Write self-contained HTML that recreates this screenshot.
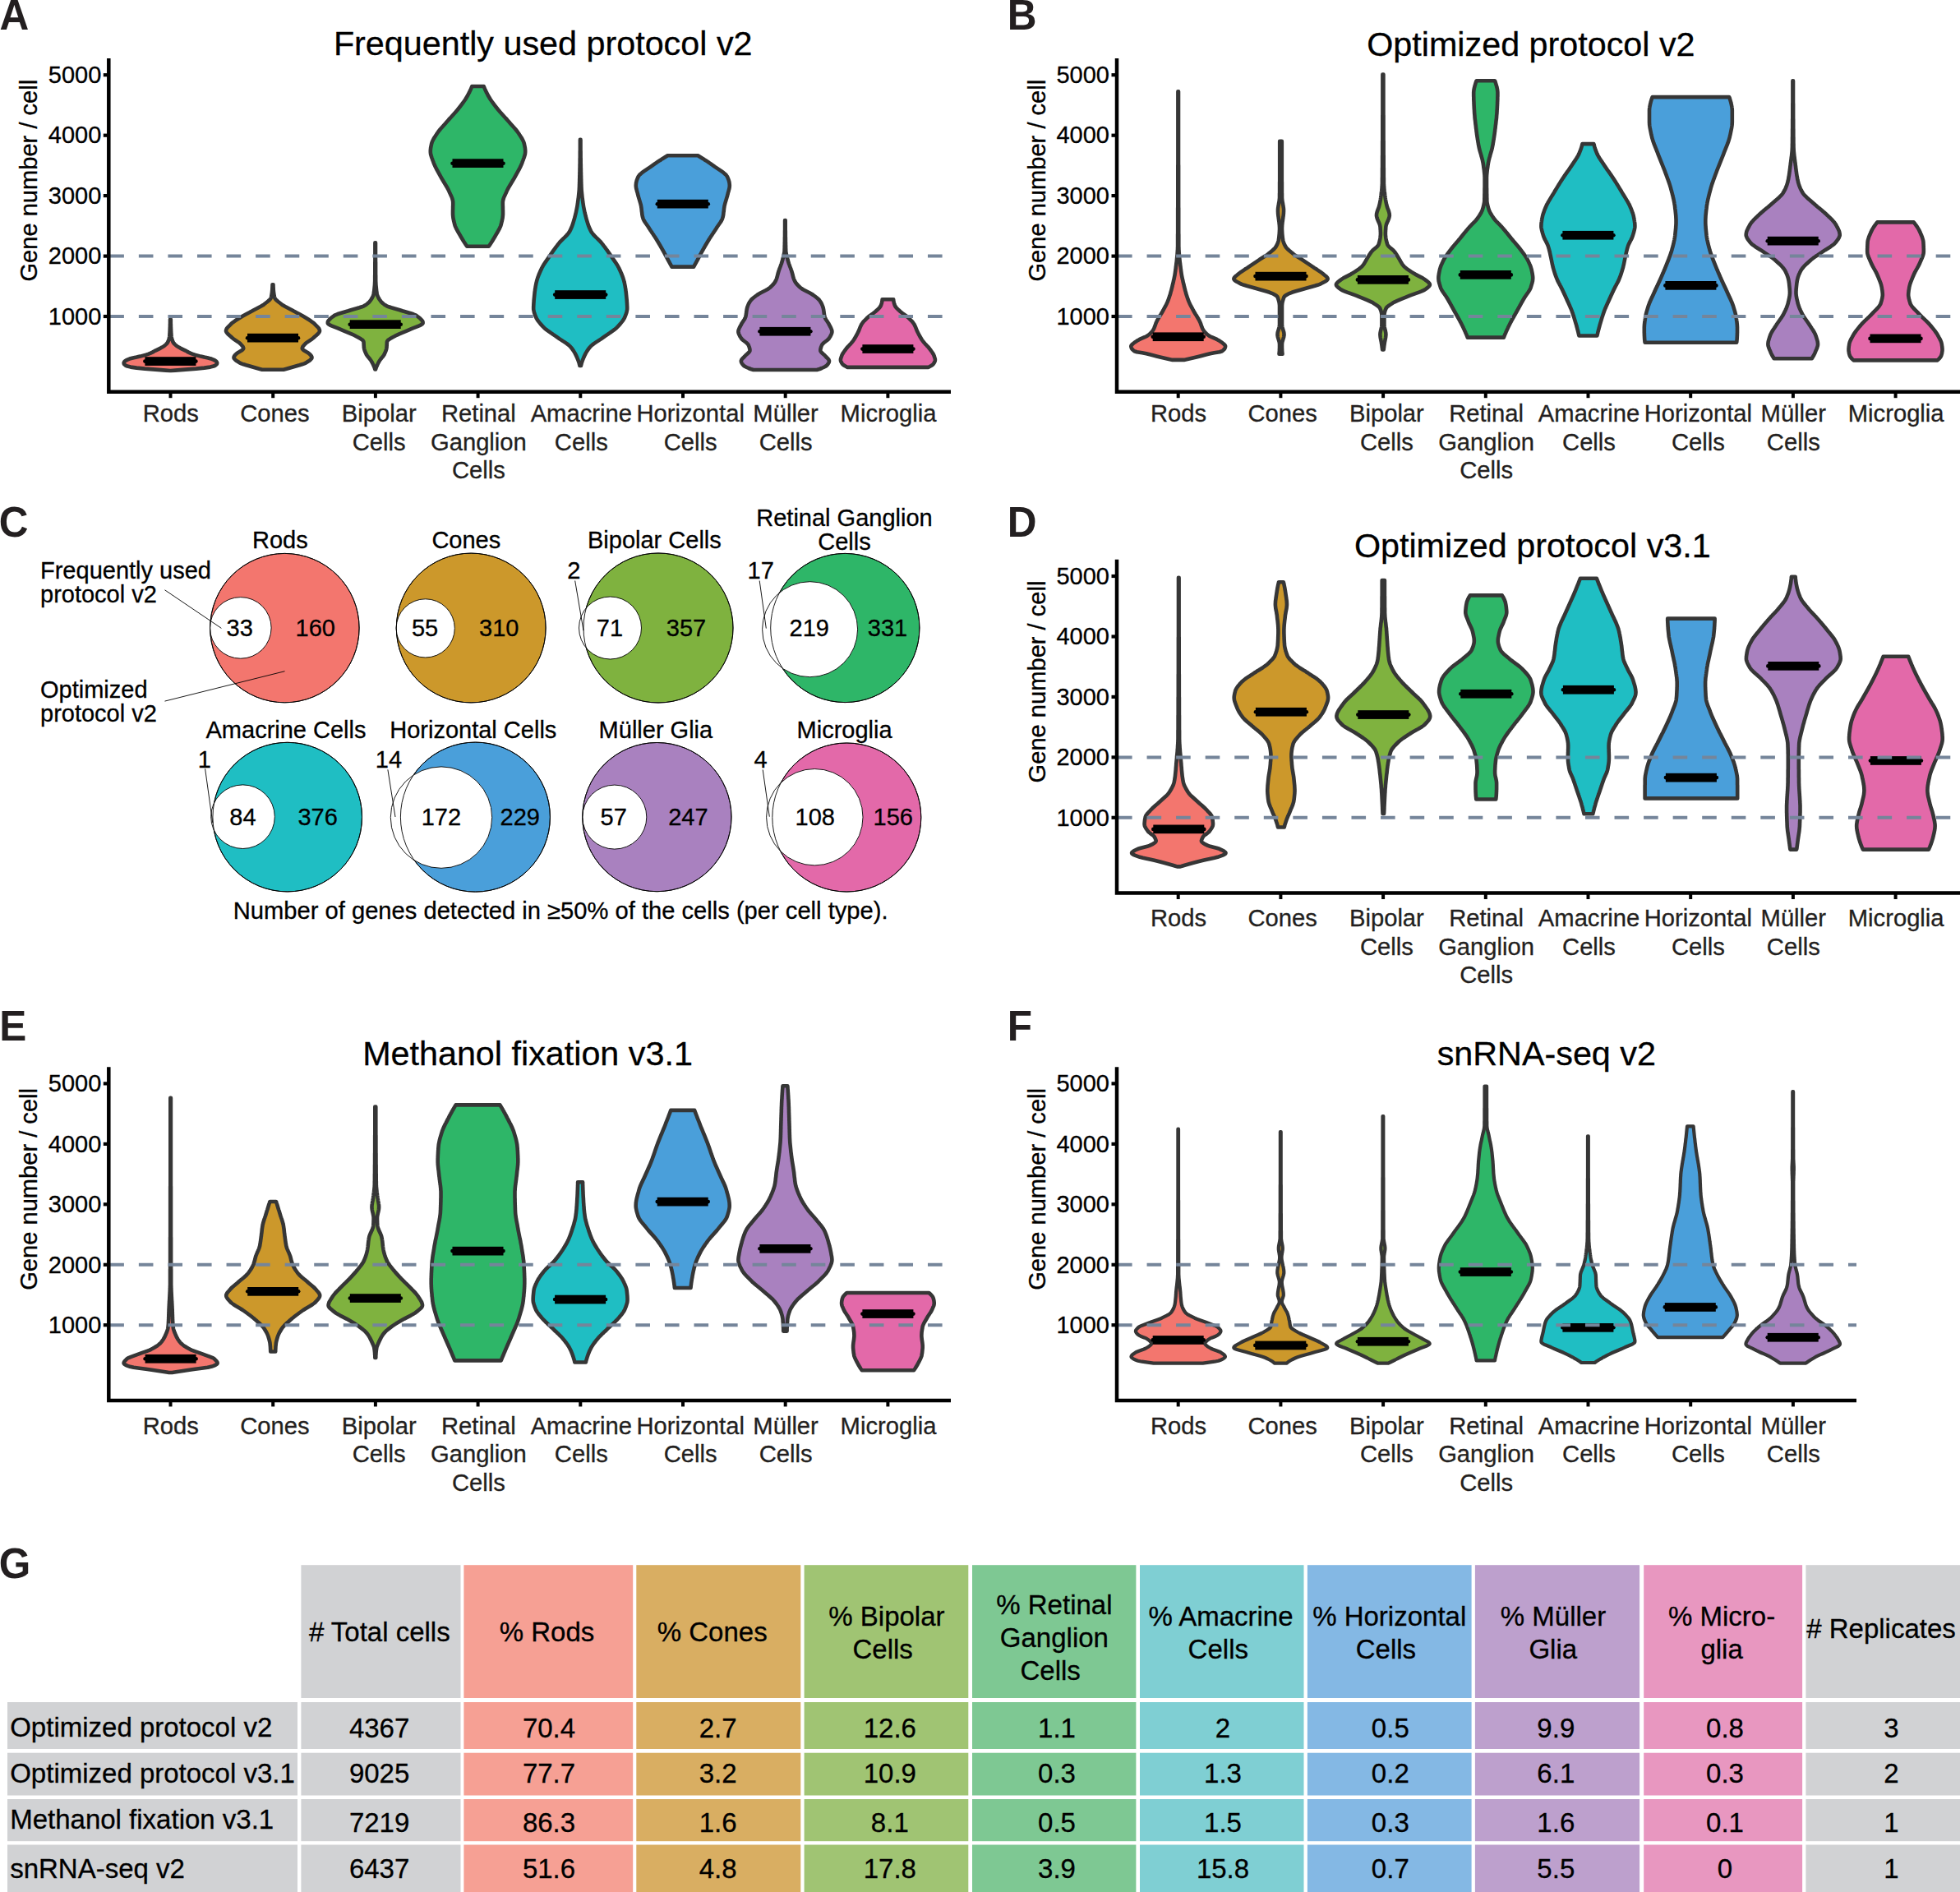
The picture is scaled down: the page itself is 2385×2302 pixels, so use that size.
<!DOCTYPE html>
<html><head><meta charset="utf-8"><title>Figure</title>
<style>html,body{margin:0;padding:0;background:#fff}svg{display:block}text{font-family:"Liberation Sans", Arial, Helvetica, sans-serif;white-space:pre}</style>
</head><body>
<svg width="2385" height="2302" viewBox="0 0 2385 2302" font-family='"Liberation Sans", Arial, Helvetica, sans-serif'>
<path d="M207.8,388.6 L207.8,389.6 L207.8,390.6 L207.8,391.6 L207.8,392.6 L207.8,393.6 L207.9,394.6 L207.9,395.6 L207.9,396.6 L207.9,397.6 L208.0,398.6 L208.0,399.6 L208.1,400.6 L208.1,401.6 L208.1,402.6 L208.2,403.6 L208.2,404.6 L208.3,405.6 L208.4,406.6 L208.4,407.6 L208.5,408.6 L208.6,409.6 L208.8,410.6 L209.0,411.6 L209.2,412.6 L209.5,413.6 L209.9,414.6 L210.3,415.6 L210.8,416.6 L211.5,417.6 L212.4,418.6 L213.5,419.6 L214.6,420.6 L216.1,421.6 L217.7,422.6 L219.5,423.6 L221.5,424.6 L223.6,425.6 L225.7,426.6 L227.5,427.6 L229.4,428.6 L231.5,429.6 L234.0,430.6 L237.1,431.6 L240.6,432.6 L244.3,433.6 L248.5,434.6 L253.2,435.6 L257.2,436.6 L259.7,437.6 L261.7,438.6 L263.1,439.6 L263.8,440.6 L264.2,441.6 L264.0,442.6 L263.3,443.6 L262.1,444.6 L259.9,445.6 L255.8,446.6 L248.5,447.6 L238.6,448.6 L225.7,449.6 L213.1,450.6 L207.9,451.0 L206.9,451.0 L201.7,450.6 L189.1,449.6 L176.2,448.6 L166.3,447.6 L159.0,446.6 L154.9,445.6 L152.7,444.6 L151.5,443.6 L150.8,442.6 L150.6,441.6 L151.0,440.6 L151.7,439.6 L153.1,438.6 L155.1,437.6 L157.6,436.6 L161.6,435.6 L166.3,434.6 L170.5,433.6 L174.2,432.6 L177.7,431.6 L180.8,430.6 L183.3,429.6 L185.4,428.6 L187.3,427.6 L189.1,426.6 L191.2,425.6 L193.3,424.6 L195.3,423.6 L197.1,422.6 L198.7,421.6 L200.2,420.6 L201.3,419.6 L202.4,418.6 L203.3,417.6 L204.0,416.6 L204.5,415.6 L204.9,414.6 L205.3,413.6 L205.6,412.6 L205.8,411.6 L206.0,410.6 L206.2,409.6 L206.3,408.6 L206.4,407.6 L206.4,406.6 L206.5,405.6 L206.6,404.6 L206.6,403.6 L206.7,402.6 L206.7,401.6 L206.7,400.6 L206.8,399.6 L206.8,398.6 L206.9,397.6 L206.9,396.6 L206.9,395.6 L206.9,394.6 L207.0,393.6 L207.0,392.6 L207.0,391.6 L207.0,390.6 L207.0,389.6 L207.0,388.6Z" fill="#F3766E" stroke="#363636" stroke-width="4.6" stroke-linejoin="round"/>
<rect x="176.4" y="434.2" width="62" height="10.7" fill="#000"/>
<circle cx="176.4" cy="439.6" r="2.3" fill="#000"/><circle cx="238.4" cy="439.6" r="2.3" fill="#000"/>
<path d="M332.5,346.3 L332.5,347.3 L332.5,348.3 L332.6,349.3 L332.6,350.3 L332.7,351.3 L332.7,352.3 L332.8,353.3 L332.9,354.3 L333.0,355.3 L333.1,356.3 L333.3,357.3 L333.4,358.3 L333.6,359.3 L333.8,360.3 L333.9,361.3 L334.2,362.3 L334.7,363.3 L335.5,364.3 L336.5,365.3 L337.6,366.3 L338.8,367.3 L340.1,368.3 L341.4,369.3 L342.7,370.3 L344.1,371.3 L345.8,372.3 L347.6,373.3 L349.5,374.3 L351.4,375.3 L353.3,376.3 L355.2,377.3 L357.0,378.3 L358.9,379.3 L360.7,380.3 L362.6,381.3 L364.5,382.3 L366.3,383.3 L368.1,384.3 L369.8,385.3 L371.5,386.3 L373.1,387.3 L374.7,388.3 L376.3,389.3 L377.9,390.3 L379.3,391.3 L380.7,392.3 L381.9,393.3 L383.0,394.3 L384.0,395.3 L385.0,396.3 L386.0,397.3 L386.9,398.3 L387.8,399.3 L388.4,400.3 L388.8,401.3 L389.0,402.3 L388.9,403.3 L388.4,404.3 L387.7,405.3 L386.8,406.3 L385.7,407.3 L384.6,408.3 L383.4,409.3 L382.3,410.3 L381.2,411.3 L379.9,412.3 L378.4,413.3 L376.9,414.3 L375.4,415.3 L373.9,416.3 L372.6,417.3 L371.5,418.3 L370.6,419.3 L369.7,420.3 L368.8,421.3 L368.2,422.3 L367.8,423.3 L367.8,424.3 L368.5,425.3 L369.7,426.3 L371.4,427.3 L373.1,428.3 L374.9,429.3 L376.3,430.3 L377.3,431.3 L378.1,432.3 L378.9,433.3 L379.4,434.3 L379.5,435.3 L379.1,436.3 L378.2,437.3 L377.1,438.3 L375.7,439.3 L374.1,440.3 L372.5,441.3 L370.3,442.3 L367.6,443.3 L364.4,444.3 L360.9,445.3 L357.4,446.3 L354.0,447.3 L350.5,448.3 L346.9,449.3 L345.0,449.8 L319.0,449.8 L317.1,449.3 L313.5,448.3 L310.0,447.3 L306.6,446.3 L303.1,445.3 L299.6,444.3 L296.4,443.3 L293.7,442.3 L291.5,441.3 L289.9,440.3 L288.3,439.3 L286.9,438.3 L285.8,437.3 L284.9,436.3 L284.5,435.3 L284.6,434.3 L285.1,433.3 L285.9,432.3 L286.7,431.3 L287.7,430.3 L289.1,429.3 L290.9,428.3 L292.6,427.3 L294.3,426.3 L295.5,425.3 L296.2,424.3 L296.2,423.3 L295.8,422.3 L295.2,421.3 L294.3,420.3 L293.4,419.3 L292.5,418.3 L291.4,417.3 L290.1,416.3 L288.6,415.3 L287.1,414.3 L285.6,413.3 L284.1,412.3 L282.8,411.3 L281.7,410.3 L280.6,409.3 L279.4,408.3 L278.3,407.3 L277.2,406.3 L276.3,405.3 L275.6,404.3 L275.1,403.3 L275.0,402.3 L275.2,401.3 L275.6,400.3 L276.2,399.3 L277.1,398.3 L278.0,397.3 L279.0,396.3 L280.0,395.3 L281.0,394.3 L282.1,393.3 L283.3,392.3 L284.7,391.3 L286.1,390.3 L287.7,389.3 L289.3,388.3 L290.9,387.3 L292.5,386.3 L294.2,385.3 L295.9,384.3 L297.7,383.3 L299.5,382.3 L301.4,381.3 L303.3,380.3 L305.1,379.3 L307.0,378.3 L308.8,377.3 L310.7,376.3 L312.6,375.3 L314.5,374.3 L316.4,373.3 L318.2,372.3 L319.9,371.3 L321.3,370.3 L322.6,369.3 L323.9,368.3 L325.2,367.3 L326.4,366.3 L327.5,365.3 L328.5,364.3 L329.3,363.3 L329.8,362.3 L330.1,361.3 L330.2,360.3 L330.4,359.3 L330.6,358.3 L330.7,357.3 L330.9,356.3 L331.0,355.3 L331.1,354.3 L331.2,353.3 L331.3,352.3 L331.3,351.3 L331.4,350.3 L331.4,349.3 L331.5,348.3 L331.5,347.3 L331.5,346.3Z" fill="#CC982B" stroke="#363636" stroke-width="4.6" stroke-linejoin="round"/>
<rect x="301.0" y="405.8" width="62" height="10.7" fill="#000"/>
<circle cx="301.0" cy="411.2" r="2.3" fill="#000"/><circle cx="363.0" cy="411.2" r="2.3" fill="#000"/>
<path d="M457.0,295.3 L457.0,296.3 L457.0,297.3 L457.0,298.3 L457.0,299.3 L457.0,300.3 L457.0,301.3 L457.0,302.3 L457.0,303.3 L457.0,304.3 L457.0,305.3 L457.0,306.3 L457.0,307.3 L457.0,308.3 L457.0,309.3 L457.0,310.3 L457.0,311.3 L457.0,312.3 L457.0,313.3 L457.0,314.3 L457.0,315.3 L457.0,316.3 L457.0,317.3 L457.0,318.3 L457.1,319.3 L457.1,320.3 L457.1,321.3 L457.1,322.3 L457.1,323.3 L457.1,324.3 L457.1,325.3 L457.1,326.3 L457.1,327.3 L457.1,328.3 L457.1,329.3 L457.1,330.3 L457.1,331.3 L457.1,332.3 L457.1,333.3 L457.1,334.3 L457.2,335.3 L457.2,336.3 L457.2,337.3 L457.2,338.3 L457.2,339.3 L457.2,340.3 L457.2,341.3 L457.2,342.3 L457.3,343.3 L457.3,344.3 L457.4,345.3 L457.4,346.3 L457.5,347.3 L457.6,348.3 L457.7,349.3 L457.8,350.3 L457.9,351.3 L458.0,352.3 L458.1,353.3 L458.2,354.3 L458.4,355.3 L458.5,356.3 L458.7,357.3 L458.9,358.3 L459.2,359.3 L459.5,360.3 L460.0,361.3 L460.5,362.3 L461.1,363.3 L461.7,364.3 L462.4,365.3 L463.1,366.3 L464.0,367.3 L465.0,368.3 L466.1,369.3 L467.4,370.3 L468.9,371.3 L470.6,372.3 L473.1,373.3 L476.1,374.3 L479.5,375.3 L483.0,376.3 L486.5,377.3 L489.6,378.3 L493.0,379.3 L496.5,380.3 L499.9,381.3 L503.0,382.3 L505.5,383.3 L507.1,384.3 L508.5,385.3 L509.8,386.3 L511.1,387.3 L512.1,388.3 L513.1,389.3 L513.8,390.3 L514.4,391.3 L514.6,392.3 L514.6,393.3 L513.8,394.3 L512.2,395.3 L510.0,396.3 L507.5,397.3 L504.9,398.3 L502.3,399.3 L499.9,400.3 L497.7,401.3 L495.4,402.3 L493.0,403.3 L490.6,404.3 L488.2,405.3 L485.8,406.3 L483.7,407.3 L481.7,408.3 L479.9,409.3 L478.0,410.3 L476.2,411.3 L474.4,412.3 L472.9,413.3 L471.8,414.3 L471.1,415.3 L470.9,416.3 L470.8,417.3 L470.8,418.3 L470.7,419.3 L470.7,420.3 L470.6,421.3 L470.6,422.3 L470.4,423.3 L470.3,424.3 L470.0,425.3 L469.7,426.3 L469.3,427.3 L468.9,428.3 L468.5,429.3 L468.0,430.3 L467.6,431.3 L467.0,432.3 L466.3,433.3 L465.5,434.3 L464.6,435.3 L463.8,436.3 L463.0,437.3 L462.3,438.3 L461.6,439.3 L461.1,440.3 L460.5,441.3 L460.0,442.3 L459.5,443.3 L459.0,444.3 L458.6,445.3 L458.1,446.3 L457.7,447.3 L457.4,448.3 L457.0,449.3 L457.0,449.4 L456.4,449.4 L456.4,449.3 L456.0,448.3 L455.7,447.3 L455.3,446.3 L454.8,445.3 L454.4,444.3 L453.9,443.3 L453.4,442.3 L452.9,441.3 L452.3,440.3 L451.8,439.3 L451.1,438.3 L450.4,437.3 L449.6,436.3 L448.8,435.3 L447.9,434.3 L447.1,433.3 L446.4,432.3 L445.8,431.3 L445.4,430.3 L444.9,429.3 L444.5,428.3 L444.1,427.3 L443.7,426.3 L443.4,425.3 L443.1,424.3 L443.0,423.3 L442.8,422.3 L442.8,421.3 L442.7,420.3 L442.7,419.3 L442.6,418.3 L442.6,417.3 L442.5,416.3 L442.3,415.3 L441.6,414.3 L440.5,413.3 L439.0,412.3 L437.2,411.3 L435.4,410.3 L433.5,409.3 L431.7,408.3 L429.7,407.3 L427.6,406.3 L425.2,405.3 L422.8,404.3 L420.4,403.3 L418.0,402.3 L415.7,401.3 L413.5,400.3 L411.1,399.3 L408.5,398.3 L405.9,397.3 L403.4,396.3 L401.2,395.3 L399.6,394.3 L398.8,393.3 L398.8,392.3 L399.0,391.3 L399.6,390.3 L400.3,389.3 L401.3,388.3 L402.3,387.3 L403.6,386.3 L404.9,385.3 L406.3,384.3 L407.9,383.3 L410.4,382.3 L413.5,381.3 L416.9,380.3 L420.4,379.3 L423.8,378.3 L426.9,377.3 L430.4,376.3 L433.9,375.3 L437.3,374.3 L440.3,373.3 L442.8,372.3 L444.5,371.3 L446.0,370.3 L447.3,369.3 L448.4,368.3 L449.4,367.3 L450.3,366.3 L451.0,365.3 L451.7,364.3 L452.3,363.3 L452.9,362.3 L453.4,361.3 L453.9,360.3 L454.2,359.3 L454.5,358.3 L454.7,357.3 L454.9,356.3 L455.0,355.3 L455.2,354.3 L455.3,353.3 L455.4,352.3 L455.5,351.3 L455.6,350.3 L455.7,349.3 L455.8,348.3 L455.9,347.3 L456.0,346.3 L456.0,345.3 L456.1,344.3 L456.1,343.3 L456.2,342.3 L456.2,341.3 L456.2,340.3 L456.2,339.3 L456.2,338.3 L456.2,337.3 L456.2,336.3 L456.2,335.3 L456.3,334.3 L456.3,333.3 L456.3,332.3 L456.3,331.3 L456.3,330.3 L456.3,329.3 L456.3,328.3 L456.3,327.3 L456.3,326.3 L456.3,325.3 L456.3,324.3 L456.3,323.3 L456.3,322.3 L456.3,321.3 L456.3,320.3 L456.3,319.3 L456.4,318.3 L456.4,317.3 L456.4,316.3 L456.4,315.3 L456.4,314.3 L456.4,313.3 L456.4,312.3 L456.4,311.3 L456.4,310.3 L456.4,309.3 L456.4,308.3 L456.4,307.3 L456.4,306.3 L456.4,305.3 L456.4,304.3 L456.4,303.3 L456.4,302.3 L456.4,301.3 L456.4,300.3 L456.4,299.3 L456.4,298.3 L456.4,297.3 L456.4,296.3 L456.4,295.3Z" fill="#7FB23F" stroke="#363636" stroke-width="4.6" stroke-linejoin="round"/>
<rect x="425.7" y="389.3" width="62" height="10.7" fill="#000"/>
<circle cx="425.7" cy="394.7" r="2.3" fill="#000"/><circle cx="487.7" cy="394.7" r="2.3" fill="#000"/>
<path d="M588.7,105.0 L589.1,106.0 L589.5,107.0 L589.9,108.0 L590.3,109.0 L590.8,110.0 L591.3,111.0 L591.7,112.0 L592.3,113.0 L592.8,114.0 L593.3,115.0 L593.8,116.0 L594.4,117.0 L595.0,118.0 L595.6,119.0 L596.2,120.0 L596.8,121.0 L597.5,122.0 L598.2,123.0 L598.9,124.0 L599.6,125.0 L600.4,126.0 L601.1,127.0 L601.9,128.0 L602.6,129.0 L603.4,130.0 L604.2,131.0 L605.0,132.0 L605.8,133.0 L606.6,134.0 L607.5,135.0 L608.3,136.0 L609.2,137.0 L610.1,138.0 L611.0,139.0 L611.9,140.0 L612.8,141.0 L613.7,142.0 L614.6,143.0 L615.5,144.0 L616.5,145.0 L617.3,146.0 L618.2,147.0 L619.1,148.0 L620.0,149.0 L620.8,150.0 L621.7,151.0 L622.6,152.0 L623.5,153.0 L624.4,154.0 L625.3,155.0 L626.2,156.0 L627.1,157.0 L627.9,158.0 L628.7,159.0 L629.5,160.0 L630.2,161.0 L630.9,162.0 L631.6,163.0 L632.2,164.0 L632.9,165.0 L633.5,166.0 L634.2,167.0 L634.8,168.0 L635.4,169.0 L635.9,170.0 L636.4,171.0 L636.9,172.0 L637.3,173.0 L637.6,174.0 L637.9,175.0 L638.1,176.0 L638.3,177.0 L638.5,178.0 L638.7,179.0 L638.9,180.0 L639.0,181.0 L639.1,182.0 L639.2,183.0 L639.2,184.0 L639.2,185.0 L639.1,186.0 L639.0,187.0 L638.8,188.0 L638.5,189.0 L638.2,190.0 L637.9,191.0 L637.6,192.0 L637.2,193.0 L636.8,194.0 L636.5,195.0 L636.1,196.0 L635.7,197.0 L635.4,198.0 L635.0,199.0 L634.6,200.0 L634.1,201.0 L633.7,202.0 L633.2,203.0 L632.7,204.0 L632.2,205.0 L631.7,206.0 L631.1,207.0 L630.6,208.0 L630.0,209.0 L629.5,210.0 L628.9,211.0 L628.4,212.0 L627.8,213.0 L627.3,214.0 L626.7,215.0 L626.2,216.0 L625.6,217.0 L625.0,218.0 L624.4,219.0 L623.8,220.0 L623.2,221.0 L622.6,222.0 L622.0,223.0 L621.4,224.0 L620.8,225.0 L620.2,226.0 L619.6,227.0 L619.0,228.0 L618.5,229.0 L617.9,230.0 L617.4,231.0 L616.9,232.0 L616.5,233.0 L616.1,234.0 L615.6,235.0 L615.1,236.0 L614.7,237.0 L614.2,238.0 L613.7,239.0 L613.3,240.0 L612.9,241.0 L612.6,242.0 L612.3,243.0 L612.1,244.0 L611.9,245.0 L611.8,246.0 L611.8,247.0 L611.8,248.0 L611.8,249.0 L611.8,250.0 L611.9,251.0 L611.9,252.0 L611.9,253.0 L611.9,254.0 L611.9,255.0 L612.0,256.0 L612.0,257.0 L612.0,258.0 L612.0,259.0 L612.0,260.0 L612.0,261.0 L611.9,262.0 L611.8,263.0 L611.7,264.0 L611.6,265.0 L611.4,266.0 L611.2,267.0 L611.0,268.0 L610.8,269.0 L610.5,270.0 L610.3,271.0 L610.0,272.0 L609.8,273.0 L609.5,274.0 L609.2,275.0 L608.8,276.0 L608.3,277.0 L607.9,278.0 L607.3,279.0 L606.8,280.0 L606.2,281.0 L605.7,282.0 L605.1,283.0 L604.5,284.0 L603.9,285.0 L603.3,286.0 L602.8,287.0 L602.2,288.0 L601.6,289.0 L601.0,290.0 L600.4,291.0 L599.8,292.0 L599.2,293.0 L598.6,294.0 L597.9,295.0 L597.3,296.0 L596.6,297.0 L596.0,298.0 L595.3,299.0 L594.8,299.7 L568.2,299.7 L567.7,299.0 L567.0,298.0 L566.4,297.0 L565.7,296.0 L565.1,295.0 L564.4,294.0 L563.8,293.0 L563.2,292.0 L562.6,291.0 L562.0,290.0 L561.4,289.0 L560.8,288.0 L560.2,287.0 L559.7,286.0 L559.1,285.0 L558.5,284.0 L557.9,283.0 L557.3,282.0 L556.8,281.0 L556.2,280.0 L555.7,279.0 L555.1,278.0 L554.7,277.0 L554.2,276.0 L553.8,275.0 L553.5,274.0 L553.2,273.0 L553.0,272.0 L552.7,271.0 L552.5,270.0 L552.2,269.0 L552.0,268.0 L551.8,267.0 L551.6,266.0 L551.4,265.0 L551.3,264.0 L551.2,263.0 L551.1,262.0 L551.0,261.0 L551.0,260.0 L551.0,259.0 L551.0,258.0 L551.0,257.0 L551.0,256.0 L551.1,255.0 L551.1,254.0 L551.1,253.0 L551.1,252.0 L551.1,251.0 L551.2,250.0 L551.2,249.0 L551.2,248.0 L551.2,247.0 L551.2,246.0 L551.1,245.0 L550.9,244.0 L550.7,243.0 L550.4,242.0 L550.1,241.0 L549.7,240.0 L549.3,239.0 L548.8,238.0 L548.3,237.0 L547.9,236.0 L547.4,235.0 L546.9,234.0 L546.5,233.0 L546.1,232.0 L545.6,231.0 L545.1,230.0 L544.5,229.0 L544.0,228.0 L543.4,227.0 L542.8,226.0 L542.2,225.0 L541.6,224.0 L541.0,223.0 L540.4,222.0 L539.8,221.0 L539.2,220.0 L538.6,219.0 L538.0,218.0 L537.4,217.0 L536.8,216.0 L536.3,215.0 L535.7,214.0 L535.2,213.0 L534.6,212.0 L534.1,211.0 L533.5,210.0 L533.0,209.0 L532.4,208.0 L531.9,207.0 L531.3,206.0 L530.8,205.0 L530.3,204.0 L529.8,203.0 L529.3,202.0 L528.9,201.0 L528.4,200.0 L528.0,199.0 L527.6,198.0 L527.3,197.0 L526.9,196.0 L526.5,195.0 L526.2,194.0 L525.8,193.0 L525.4,192.0 L525.1,191.0 L524.8,190.0 L524.5,189.0 L524.2,188.0 L524.0,187.0 L523.9,186.0 L523.8,185.0 L523.8,184.0 L523.8,183.0 L523.9,182.0 L524.0,181.0 L524.1,180.0 L524.3,179.0 L524.5,178.0 L524.7,177.0 L524.9,176.0 L525.1,175.0 L525.4,174.0 L525.7,173.0 L526.1,172.0 L526.6,171.0 L527.1,170.0 L527.6,169.0 L528.2,168.0 L528.8,167.0 L529.5,166.0 L530.1,165.0 L530.8,164.0 L531.4,163.0 L532.1,162.0 L532.8,161.0 L533.5,160.0 L534.3,159.0 L535.1,158.0 L535.9,157.0 L536.8,156.0 L537.7,155.0 L538.6,154.0 L539.5,153.0 L540.4,152.0 L541.3,151.0 L542.2,150.0 L543.0,149.0 L543.9,148.0 L544.8,147.0 L545.7,146.0 L546.5,145.0 L547.5,144.0 L548.4,143.0 L549.3,142.0 L550.2,141.0 L551.1,140.0 L552.0,139.0 L552.9,138.0 L553.8,137.0 L554.7,136.0 L555.5,135.0 L556.4,134.0 L557.2,133.0 L558.0,132.0 L558.8,131.0 L559.6,130.0 L560.4,129.0 L561.1,128.0 L561.9,127.0 L562.6,126.0 L563.4,125.0 L564.1,124.0 L564.8,123.0 L565.5,122.0 L566.2,121.0 L566.8,120.0 L567.4,119.0 L568.0,118.0 L568.6,117.0 L569.2,116.0 L569.7,115.0 L570.2,114.0 L570.7,113.0 L571.3,112.0 L571.7,111.0 L572.2,110.0 L572.7,109.0 L573.1,108.0 L573.5,107.0 L573.9,106.0 L574.3,105.0Z" fill="#2EB668" stroke="#363636" stroke-width="4.6" stroke-linejoin="round"/>
<rect x="550.5" y="193.3" width="62" height="10.7" fill="#000"/>
<circle cx="550.5" cy="198.7" r="2.3" fill="#000"/><circle cx="612.5" cy="198.7" r="2.3" fill="#000"/>
<path d="M706.5,169.9 L706.5,170.9 L706.5,171.9 L706.5,172.9 L706.5,173.9 L706.5,174.9 L706.5,175.9 L706.5,176.9 L706.5,177.9 L706.5,178.9 L706.5,179.9 L706.5,180.9 L706.5,181.9 L706.5,182.9 L706.6,183.9 L706.6,184.9 L706.6,185.9 L706.6,186.9 L706.6,187.9 L706.6,188.9 L706.6,189.9 L706.6,190.9 L706.6,191.9 L706.7,192.9 L706.7,193.9 L706.7,194.9 L706.7,195.9 L706.7,196.9 L706.7,197.9 L706.7,198.9 L706.8,199.9 L706.8,200.9 L706.8,201.9 L706.8,202.9 L706.8,203.9 L706.9,204.9 L706.9,205.9 L706.9,206.9 L706.9,207.9 L706.9,208.9 L707.0,209.9 L707.0,210.9 L707.0,211.9 L707.0,212.9 L707.1,213.9 L707.1,214.9 L707.1,215.9 L707.1,216.9 L707.2,217.9 L707.2,218.9 L707.2,219.9 L707.2,220.9 L707.3,221.9 L707.3,222.9 L707.3,223.9 L707.4,224.9 L707.4,225.9 L707.4,226.9 L707.5,227.9 L707.5,228.9 L707.6,229.9 L707.6,230.9 L707.7,231.9 L707.8,232.9 L707.9,233.9 L708.0,234.9 L708.1,235.9 L708.2,236.9 L708.3,237.9 L708.4,238.9 L708.5,239.9 L708.6,240.9 L708.8,241.9 L708.9,242.9 L709.0,243.9 L709.2,244.9 L709.3,245.9 L709.4,246.9 L709.6,247.9 L709.7,248.9 L709.9,249.9 L710.0,250.9 L710.2,251.9 L710.4,252.9 L710.6,253.9 L710.8,254.9 L711.0,255.9 L711.2,256.9 L711.4,257.9 L711.6,258.9 L711.9,259.9 L712.1,260.9 L712.4,261.9 L712.6,262.9 L712.9,263.9 L713.1,264.9 L713.4,265.9 L713.7,266.9 L714.0,267.9 L714.3,268.9 L714.6,269.9 L714.9,270.9 L715.2,271.9 L715.5,272.9 L715.9,273.9 L716.2,274.9 L716.6,275.9 L717.0,276.9 L717.5,277.9 L717.9,278.9 L718.4,279.9 L718.9,280.9 L719.4,281.9 L720.1,282.9 L720.8,283.9 L721.6,284.9 L722.5,285.9 L723.4,286.9 L724.4,287.9 L725.4,288.9 L726.5,289.9 L727.5,290.9 L728.5,291.9 L729.5,292.9 L730.5,293.9 L731.4,294.9 L732.2,295.9 L733.0,296.9 L733.8,297.9 L734.5,298.9 L735.3,299.9 L736.1,300.9 L736.8,301.9 L737.5,302.9 L738.3,303.9 L739.0,304.9 L739.7,305.9 L740.4,306.9 L741.1,307.9 L741.8,308.9 L742.5,309.9 L743.1,310.9 L743.8,311.9 L744.5,312.9 L745.2,313.9 L745.9,314.9 L746.6,315.9 L747.3,316.9 L748.0,317.9 L748.7,318.9 L749.4,319.9 L750.0,320.9 L750.7,321.9 L751.3,322.9 L751.9,323.9 L752.4,324.9 L753.0,325.9 L753.4,326.9 L753.9,327.9 L754.4,328.9 L754.8,329.9 L755.3,330.9 L755.7,331.9 L756.1,332.9 L756.6,333.9 L757.0,334.9 L757.3,335.9 L757.7,336.9 L758.1,337.9 L758.4,338.9 L758.7,339.9 L759.0,340.9 L759.3,341.9 L759.5,342.9 L759.8,343.9 L760.0,344.9 L760.2,345.9 L760.4,346.9 L760.6,347.9 L760.8,348.9 L760.9,349.9 L761.1,350.9 L761.3,351.9 L761.4,352.9 L761.5,353.9 L761.7,354.9 L761.8,355.9 L761.9,356.9 L762.0,357.9 L762.1,358.9 L762.2,359.9 L762.3,360.9 L762.4,361.9 L762.5,362.9 L762.6,363.9 L762.7,364.9 L762.8,365.9 L762.8,366.9 L762.9,367.9 L763.0,368.9 L763.0,369.9 L763.1,370.9 L763.1,371.9 L763.2,372.9 L763.2,373.9 L763.2,374.9 L763.2,375.9 L763.1,376.9 L762.9,377.9 L762.7,378.9 L762.5,379.9 L762.2,380.9 L761.8,381.9 L761.5,382.9 L761.1,383.9 L760.7,384.9 L760.3,385.9 L759.8,386.9 L759.3,387.9 L758.7,388.9 L758.0,389.9 L757.3,390.9 L756.5,391.9 L755.7,392.9 L754.9,393.9 L754.0,394.9 L753.1,395.9 L752.2,396.9 L751.2,397.9 L750.2,398.9 L749.0,399.9 L747.8,400.9 L746.5,401.9 L745.1,402.9 L743.7,403.9 L742.3,404.9 L740.8,405.9 L739.4,406.9 L737.9,407.9 L736.4,408.9 L735.0,409.9 L733.6,410.9 L732.2,411.9 L730.7,412.9 L729.1,413.9 L727.6,414.9 L726.0,415.9 L724.5,416.9 L723.0,417.9 L721.7,418.9 L720.4,419.9 L719.3,420.9 L718.3,421.9 L717.5,422.9 L716.6,423.9 L715.9,424.9 L715.2,425.9 L714.5,426.9 L713.9,427.9 L713.3,428.9 L712.7,429.9 L712.2,430.9 L711.7,431.9 L711.2,432.9 L710.8,433.9 L710.3,434.9 L709.9,435.9 L709.5,436.9 L709.1,437.9 L708.7,438.9 L708.4,439.9 L708.0,440.9 L707.7,441.9 L707.5,442.9 L707.2,443.9 L707.0,444.9 L707.0,445.0 L705.4,445.0 L705.4,444.9 L705.2,443.9 L704.9,442.9 L704.7,441.9 L704.4,440.9 L704.0,439.9 L703.7,438.9 L703.3,437.9 L702.9,436.9 L702.5,435.9 L702.1,434.9 L701.6,433.9 L701.2,432.9 L700.7,431.9 L700.2,430.9 L699.7,429.9 L699.1,428.9 L698.5,427.9 L697.9,426.9 L697.2,425.9 L696.5,424.9 L695.8,423.9 L694.9,422.9 L694.1,421.9 L693.1,420.9 L692.0,419.9 L690.7,418.9 L689.4,417.9 L687.9,416.9 L686.4,415.9 L684.8,414.9 L683.3,413.9 L681.7,412.9 L680.2,411.9 L678.8,410.9 L677.4,409.9 L676.0,408.9 L674.5,407.9 L673.0,406.9 L671.6,405.9 L670.1,404.9 L668.7,403.9 L667.3,402.9 L665.9,401.9 L664.6,400.9 L663.4,399.9 L662.2,398.9 L661.2,397.9 L660.2,396.9 L659.3,395.9 L658.4,394.9 L657.5,393.9 L656.7,392.9 L655.9,391.9 L655.1,390.9 L654.4,389.9 L653.7,388.9 L653.1,387.9 L652.6,386.9 L652.1,385.9 L651.7,384.9 L651.3,383.9 L650.9,382.9 L650.6,381.9 L650.2,380.9 L649.9,379.9 L649.7,378.9 L649.5,377.9 L649.3,376.9 L649.2,375.9 L649.2,374.9 L649.2,373.9 L649.2,372.9 L649.3,371.9 L649.3,370.9 L649.4,369.9 L649.4,368.9 L649.5,367.9 L649.6,366.9 L649.6,365.9 L649.7,364.9 L649.8,363.9 L649.9,362.9 L650.0,361.9 L650.1,360.9 L650.2,359.9 L650.3,358.9 L650.4,357.9 L650.5,356.9 L650.6,355.9 L650.7,354.9 L650.9,353.9 L651.0,352.9 L651.1,351.9 L651.3,350.9 L651.5,349.9 L651.6,348.9 L651.8,347.9 L652.0,346.9 L652.2,345.9 L652.4,344.9 L652.6,343.9 L652.9,342.9 L653.1,341.9 L653.4,340.9 L653.7,339.9 L654.0,338.9 L654.3,337.9 L654.7,336.9 L655.1,335.9 L655.4,334.9 L655.8,333.9 L656.3,332.9 L656.7,331.9 L657.1,330.9 L657.6,329.9 L658.0,328.9 L658.5,327.9 L659.0,326.9 L659.4,325.9 L660.0,324.9 L660.5,323.9 L661.1,322.9 L661.7,321.9 L662.4,320.9 L663.0,319.9 L663.7,318.9 L664.4,317.9 L665.1,316.9 L665.8,315.9 L666.5,314.9 L667.2,313.9 L667.9,312.9 L668.6,311.9 L669.3,310.9 L669.9,309.9 L670.6,308.9 L671.3,307.9 L672.0,306.9 L672.7,305.9 L673.4,304.9 L674.1,303.9 L674.9,302.9 L675.6,301.9 L676.3,300.9 L677.1,299.9 L677.9,298.9 L678.6,297.9 L679.4,296.9 L680.2,295.9 L681.0,294.9 L681.9,293.9 L682.9,292.9 L683.9,291.9 L684.9,290.9 L685.9,289.9 L687.0,288.9 L688.0,287.9 L689.0,286.9 L689.9,285.9 L690.8,284.9 L691.6,283.9 L692.3,282.9 L693.0,281.9 L693.5,280.9 L694.0,279.9 L694.5,278.9 L694.9,277.9 L695.4,276.9 L695.8,275.9 L696.2,274.9 L696.5,273.9 L696.9,272.9 L697.2,271.9 L697.5,270.9 L697.8,269.9 L698.1,268.9 L698.4,267.9 L698.7,266.9 L699.0,265.9 L699.3,264.9 L699.5,263.9 L699.8,262.9 L700.0,261.9 L700.3,260.9 L700.5,259.9 L700.8,258.9 L701.0,257.9 L701.2,256.9 L701.4,255.9 L701.6,254.9 L701.8,253.9 L702.0,252.9 L702.2,251.9 L702.4,250.9 L702.5,249.9 L702.7,248.9 L702.8,247.9 L703.0,246.9 L703.1,245.9 L703.2,244.9 L703.4,243.9 L703.5,242.9 L703.6,241.9 L703.8,240.9 L703.9,239.9 L704.0,238.9 L704.1,237.9 L704.2,236.9 L704.3,235.9 L704.4,234.9 L704.5,233.9 L704.6,232.9 L704.7,231.9 L704.8,230.9 L704.8,229.9 L704.9,228.9 L704.9,227.9 L705.0,226.9 L705.0,225.9 L705.0,224.9 L705.1,223.9 L705.1,222.9 L705.1,221.9 L705.2,220.9 L705.2,219.9 L705.2,218.9 L705.2,217.9 L705.3,216.9 L705.3,215.9 L705.3,214.9 L705.3,213.9 L705.4,212.9 L705.4,211.9 L705.4,210.9 L705.4,209.9 L705.5,208.9 L705.5,207.9 L705.5,206.9 L705.5,205.9 L705.5,204.9 L705.6,203.9 L705.6,202.9 L705.6,201.9 L705.6,200.9 L705.6,199.9 L705.7,198.9 L705.7,197.9 L705.7,196.9 L705.7,195.9 L705.7,194.9 L705.7,193.9 L705.7,192.9 L705.8,191.9 L705.8,190.9 L705.8,189.9 L705.8,188.9 L705.8,187.9 L705.8,186.9 L705.8,185.9 L705.8,184.9 L705.8,183.9 L705.9,182.9 L705.9,181.9 L705.9,180.9 L705.9,179.9 L705.9,178.9 L705.9,177.9 L705.9,176.9 L705.9,175.9 L705.9,174.9 L705.9,173.9 L705.9,172.9 L705.9,171.9 L705.9,170.9 L705.9,169.9Z" fill="#1FBEC3" stroke="#363636" stroke-width="4.6" stroke-linejoin="round"/>
<rect x="675.2" y="353.2" width="62" height="10.7" fill="#000"/>
<circle cx="675.2" cy="358.6" r="2.3" fill="#000"/><circle cx="737.2" cy="358.6" r="2.3" fill="#000"/>
<path d="M849.2,189.2 L850.8,190.2 L852.4,191.2 L854.0,192.2 L855.6,193.2 L857.1,194.2 L858.7,195.2 L860.2,196.2 L861.7,197.2 L863.1,198.2 L864.6,199.2 L866.0,200.2 L867.4,201.2 L868.8,202.2 L870.2,203.2 L871.7,204.2 L873.2,205.2 L874.7,206.2 L876.2,207.2 L877.7,208.2 L879.1,209.2 L880.5,210.2 L881.7,211.2 L882.8,212.2 L883.8,213.2 L884.5,214.2 L885.1,215.2 L885.5,216.2 L885.9,217.2 L886.3,218.2 L886.7,219.2 L887.0,220.2 L887.2,221.2 L887.5,222.2 L887.6,223.2 L887.7,224.2 L887.8,225.2 L887.8,226.2 L887.7,227.2 L887.6,228.2 L887.4,229.2 L887.2,230.2 L886.9,231.2 L886.7,232.2 L886.4,233.2 L886.1,234.2 L885.8,235.2 L885.6,236.2 L885.3,237.2 L885.1,238.2 L884.8,239.2 L884.5,240.2 L884.2,241.2 L883.9,242.2 L883.6,243.2 L883.3,244.2 L883.0,245.2 L882.7,246.2 L882.4,247.2 L882.1,248.2 L881.9,249.2 L881.6,250.2 L881.4,251.2 L881.3,252.2 L881.1,253.2 L881.0,254.2 L880.9,255.2 L880.8,256.2 L880.7,257.2 L880.5,258.2 L880.4,259.2 L880.3,260.2 L880.2,261.2 L880.0,262.2 L879.8,263.2 L879.6,264.2 L879.3,265.2 L879.0,266.2 L878.5,267.2 L878.0,268.2 L877.4,269.2 L876.8,270.2 L876.1,271.2 L875.4,272.2 L874.7,273.2 L874.0,274.2 L873.3,275.2 L872.6,276.2 L872.0,277.2 L871.4,278.2 L870.7,279.2 L870.1,280.2 L869.4,281.2 L868.7,282.2 L868.1,283.2 L867.4,284.2 L866.7,285.2 L866.1,286.2 L865.4,287.2 L864.7,288.2 L864.1,289.2 L863.4,290.2 L862.8,291.2 L862.2,292.2 L861.6,293.2 L861.0,294.2 L860.4,295.2 L859.8,296.2 L859.2,297.2 L858.6,298.2 L858.0,299.2 L857.5,300.2 L856.9,301.2 L856.3,302.2 L855.8,303.2 L855.2,304.2 L854.6,305.2 L854.1,306.2 L853.5,307.2 L853.0,308.2 L852.5,309.2 L851.9,310.2 L851.4,311.2 L850.9,312.2 L850.3,313.2 L849.8,314.2 L849.3,315.2 L848.7,316.2 L848.2,317.2 L847.6,318.2 L847.1,319.2 L846.5,320.2 L846.0,321.2 L845.4,322.2 L844.9,323.2 L844.3,324.2 L844.1,324.6 L817.5,324.6 L817.3,324.2 L816.7,323.2 L816.2,322.2 L815.6,321.2 L815.1,320.2 L814.5,319.2 L814.0,318.2 L813.4,317.2 L812.9,316.2 L812.3,315.2 L811.8,314.2 L811.3,313.2 L810.7,312.2 L810.2,311.2 L809.7,310.2 L809.1,309.2 L808.6,308.2 L808.1,307.2 L807.5,306.2 L807.0,305.2 L806.4,304.2 L805.8,303.2 L805.3,302.2 L804.7,301.2 L804.1,300.2 L803.6,299.2 L803.0,298.2 L802.4,297.2 L801.8,296.2 L801.2,295.2 L800.6,294.2 L800.0,293.2 L799.4,292.2 L798.8,291.2 L798.2,290.2 L797.5,289.2 L796.9,288.2 L796.2,287.2 L795.5,286.2 L794.9,285.2 L794.2,284.2 L793.5,283.2 L792.9,282.2 L792.2,281.2 L791.5,280.2 L790.9,279.2 L790.2,278.2 L789.6,277.2 L789.0,276.2 L788.3,275.2 L787.6,274.2 L786.9,273.2 L786.2,272.2 L785.5,271.2 L784.8,270.2 L784.2,269.2 L783.6,268.2 L783.1,267.2 L782.6,266.2 L782.3,265.2 L782.0,264.2 L781.8,263.2 L781.6,262.2 L781.4,261.2 L781.3,260.2 L781.2,259.2 L781.1,258.2 L780.9,257.2 L780.8,256.2 L780.7,255.2 L780.6,254.2 L780.5,253.2 L780.3,252.2 L780.2,251.2 L780.0,250.2 L779.7,249.2 L779.5,248.2 L779.2,247.2 L778.9,246.2 L778.6,245.2 L778.3,244.2 L778.0,243.2 L777.7,242.2 L777.4,241.2 L777.1,240.2 L776.8,239.2 L776.5,238.2 L776.3,237.2 L776.0,236.2 L775.8,235.2 L775.5,234.2 L775.2,233.2 L774.9,232.2 L774.7,231.2 L774.4,230.2 L774.2,229.2 L774.0,228.2 L773.9,227.2 L773.8,226.2 L773.8,225.2 L773.9,224.2 L774.0,223.2 L774.1,222.2 L774.4,221.2 L774.6,220.2 L774.9,219.2 L775.3,218.2 L775.7,217.2 L776.1,216.2 L776.5,215.2 L777.1,214.2 L777.8,213.2 L778.8,212.2 L779.9,211.2 L781.1,210.2 L782.5,209.2 L783.9,208.2 L785.4,207.2 L786.9,206.2 L788.4,205.2 L789.9,204.2 L791.4,203.2 L792.8,202.2 L794.2,201.2 L795.6,200.2 L797.0,199.2 L798.5,198.2 L799.9,197.2 L801.4,196.2 L802.9,195.2 L804.5,194.2 L806.0,193.2 L807.6,192.2 L809.2,191.2 L810.8,190.2 L812.4,189.2Z" fill="#4A9FDA" stroke="#363636" stroke-width="4.6" stroke-linejoin="round"/>
<rect x="799.8" y="242.8" width="62" height="10.7" fill="#000"/>
<circle cx="799.8" cy="248.2" r="2.3" fill="#000"/><circle cx="861.8" cy="248.2" r="2.3" fill="#000"/>
<path d="M955.7,268.0 L955.7,269.0 L955.7,270.0 L955.7,271.0 L955.7,272.0 L955.7,273.0 L955.7,274.0 L955.7,275.0 L955.7,276.0 L955.7,277.0 L955.7,278.0 L955.7,279.0 L955.7,280.0 L955.8,281.0 L955.8,282.0 L955.8,283.0 L955.8,284.0 L955.8,285.0 L955.8,286.0 L955.8,287.0 L955.8,288.0 L955.9,289.0 L955.9,290.0 L955.9,291.0 L955.9,292.0 L955.9,293.0 L955.9,294.0 L956.0,295.0 L956.0,296.0 L956.0,297.0 L956.0,298.0 L956.1,299.0 L956.1,300.0 L956.1,301.0 L956.1,302.0 L956.2,303.0 L956.2,304.0 L956.2,305.0 L956.3,306.0 L956.4,307.0 L956.6,308.0 L956.8,309.0 L957.0,310.0 L957.2,311.0 L957.5,312.0 L957.7,313.0 L958.0,314.0 L958.3,315.0 L958.5,316.0 L958.8,317.0 L959.1,318.0 L959.4,319.0 L959.7,320.0 L960.0,321.0 L960.4,322.0 L960.8,323.0 L961.1,324.0 L961.5,325.0 L961.9,326.0 L962.3,327.0 L962.6,328.0 L963.0,329.0 L963.3,330.0 L963.6,331.0 L963.9,332.0 L964.2,333.0 L964.4,334.0 L964.7,335.0 L964.9,336.0 L965.2,337.0 L965.5,338.0 L965.8,339.0 L966.2,340.0 L966.6,341.0 L967.1,342.0 L967.7,343.0 L968.3,344.0 L969.1,345.0 L969.9,346.0 L970.9,347.0 L971.8,348.0 L972.9,349.0 L974.0,350.0 L975.3,351.0 L976.9,352.0 L978.7,353.0 L980.6,354.0 L982.6,355.0 L984.6,356.0 L986.4,357.0 L988.1,358.0 L989.6,359.0 L991.0,360.0 L992.3,361.0 L993.6,362.0 L994.8,363.0 L995.9,364.0 L996.9,365.0 L997.6,366.0 L998.3,367.0 L998.9,368.0 L999.5,369.0 L1000.0,370.0 L1000.4,371.0 L1000.8,372.0 L1001.2,373.0 L1001.5,374.0 L1001.8,375.0 L1002.0,376.0 L1002.2,377.0 L1002.3,378.0 L1002.5,379.0 L1002.6,380.0 L1002.7,381.0 L1002.9,382.0 L1003.0,383.0 L1003.2,384.0 L1003.4,385.0 L1003.7,386.0 L1004.1,387.0 L1004.6,388.0 L1005.2,389.0 L1005.9,390.0 L1006.6,391.0 L1007.2,392.0 L1007.9,393.0 L1008.5,394.0 L1008.9,395.0 L1009.5,396.0 L1010.0,397.0 L1010.6,398.0 L1011.1,399.0 L1011.5,400.0 L1011.9,401.0 L1012.2,402.0 L1012.4,403.0 L1012.4,404.0 L1012.2,405.0 L1011.9,406.0 L1011.5,407.0 L1011.0,408.0 L1010.5,409.0 L1009.9,410.0 L1009.2,411.0 L1008.6,412.0 L1007.6,413.0 L1006.5,414.0 L1005.2,415.0 L1003.9,416.0 L1002.6,417.0 L1001.5,418.0 L1000.6,419.0 L1000.0,420.0 L999.6,421.0 L999.2,422.0 L998.9,423.0 L998.6,424.0 L998.4,425.0 L998.3,426.0 L998.4,427.0 L998.9,428.0 L999.8,429.0 L1000.9,430.0 L1002.0,431.0 L1003.2,432.0 L1004.1,433.0 L1005.0,434.0 L1006.0,435.0 L1007.1,436.0 L1008.0,437.0 L1008.6,438.0 L1009.0,439.0 L1008.9,440.0 L1008.6,441.0 L1008.1,442.0 L1007.4,443.0 L1006.6,444.0 L1005.7,445.0 L1004.1,446.0 L1002.1,447.0 L999.8,448.0 L997.3,449.0 L994.0,450.0 L916.8,450.0 L913.5,449.0 L911.0,448.0 L908.7,447.0 L906.7,446.0 L905.1,445.0 L904.2,444.0 L903.4,443.0 L902.7,442.0 L902.2,441.0 L901.9,440.0 L901.8,439.0 L902.2,438.0 L902.8,437.0 L903.7,436.0 L904.8,435.0 L905.8,434.0 L906.7,433.0 L907.6,432.0 L908.8,431.0 L909.9,430.0 L911.0,429.0 L911.9,428.0 L912.4,427.0 L912.5,426.0 L912.4,425.0 L912.2,424.0 L911.9,423.0 L911.6,422.0 L911.2,421.0 L910.8,420.0 L910.2,419.0 L909.3,418.0 L908.2,417.0 L906.9,416.0 L905.6,415.0 L904.3,414.0 L903.2,413.0 L902.2,412.0 L901.6,411.0 L900.9,410.0 L900.3,409.0 L899.8,408.0 L899.3,407.0 L898.9,406.0 L898.6,405.0 L898.4,404.0 L898.4,403.0 L898.6,402.0 L898.9,401.0 L899.3,400.0 L899.7,399.0 L900.2,398.0 L900.8,397.0 L901.3,396.0 L901.9,395.0 L902.3,394.0 L902.9,393.0 L903.6,392.0 L904.2,391.0 L904.9,390.0 L905.6,389.0 L906.2,388.0 L906.7,387.0 L907.1,386.0 L907.4,385.0 L907.6,384.0 L907.8,383.0 L907.9,382.0 L908.1,381.0 L908.2,380.0 L908.3,379.0 L908.5,378.0 L908.6,377.0 L908.8,376.0 L909.0,375.0 L909.3,374.0 L909.6,373.0 L910.0,372.0 L910.4,371.0 L910.8,370.0 L911.3,369.0 L911.9,368.0 L912.5,367.0 L913.2,366.0 L913.9,365.0 L914.9,364.0 L916.0,363.0 L917.2,362.0 L918.5,361.0 L919.8,360.0 L921.2,359.0 L922.7,358.0 L924.4,357.0 L926.2,356.0 L928.2,355.0 L930.2,354.0 L932.1,353.0 L933.9,352.0 L935.5,351.0 L936.8,350.0 L937.9,349.0 L939.0,348.0 L939.9,347.0 L940.9,346.0 L941.7,345.0 L942.5,344.0 L943.1,343.0 L943.7,342.0 L944.2,341.0 L944.6,340.0 L945.0,339.0 L945.3,338.0 L945.6,337.0 L945.9,336.0 L946.1,335.0 L946.4,334.0 L946.6,333.0 L946.9,332.0 L947.2,331.0 L947.5,330.0 L947.8,329.0 L948.2,328.0 L948.5,327.0 L948.9,326.0 L949.3,325.0 L949.7,324.0 L950.0,323.0 L950.4,322.0 L950.8,321.0 L951.1,320.0 L951.4,319.0 L951.7,318.0 L952.0,317.0 L952.3,316.0 L952.5,315.0 L952.8,314.0 L953.1,313.0 L953.3,312.0 L953.6,311.0 L953.8,310.0 L954.0,309.0 L954.2,308.0 L954.4,307.0 L954.5,306.0 L954.6,305.0 L954.6,304.0 L954.6,303.0 L954.7,302.0 L954.7,301.0 L954.7,300.0 L954.7,299.0 L954.8,298.0 L954.8,297.0 L954.8,296.0 L954.8,295.0 L954.9,294.0 L954.9,293.0 L954.9,292.0 L954.9,291.0 L954.9,290.0 L954.9,289.0 L955.0,288.0 L955.0,287.0 L955.0,286.0 L955.0,285.0 L955.0,284.0 L955.0,283.0 L955.0,282.0 L955.0,281.0 L955.1,280.0 L955.1,279.0 L955.1,278.0 L955.1,277.0 L955.1,276.0 L955.1,275.0 L955.1,274.0 L955.1,273.0 L955.1,272.0 L955.1,271.0 L955.1,270.0 L955.1,269.0 L955.1,268.0Z" fill="#A981BF" stroke="#363636" stroke-width="4.6" stroke-linejoin="round"/>
<rect x="924.4" y="397.9" width="62" height="10.7" fill="#000"/>
<circle cx="924.4" cy="403.3" r="2.3" fill="#000"/><circle cx="986.4" cy="403.3" r="2.3" fill="#000"/>
<path d="M1087.2,364.3 L1087.2,365.3 L1087.4,366.3 L1087.6,367.3 L1087.8,368.3 L1088.1,369.3 L1088.4,370.3 L1088.8,371.3 L1089.2,372.3 L1089.8,373.3 L1090.6,374.3 L1091.6,375.3 L1092.6,376.3 L1093.6,377.3 L1094.7,378.3 L1095.8,379.3 L1097.1,380.3 L1098.4,381.3 L1099.9,382.3 L1101.3,383.3 L1102.7,384.3 L1104.0,385.3 L1105.0,386.3 L1106.1,387.3 L1107.1,388.3 L1108.1,389.3 L1109.1,390.3 L1110.0,391.3 L1110.8,392.3 L1111.5,393.3 L1112.2,394.3 L1112.8,395.3 L1113.3,396.3 L1113.7,397.3 L1114.2,398.3 L1114.6,399.3 L1115.0,400.3 L1115.4,401.3 L1115.8,402.3 L1116.2,403.3 L1116.7,404.3 L1117.2,405.3 L1117.7,406.3 L1118.2,407.3 L1118.8,408.3 L1119.3,409.3 L1119.9,410.3 L1120.5,411.3 L1121.1,412.3 L1121.7,413.3 L1122.4,414.3 L1123.1,415.3 L1124.0,416.3 L1124.8,417.3 L1125.7,418.3 L1126.7,419.3 L1127.6,420.3 L1128.6,421.3 L1129.5,422.3 L1130.3,423.3 L1131.1,424.3 L1131.8,425.3 L1132.6,426.3 L1133.3,427.3 L1134.0,428.3 L1134.7,429.3 L1135.3,430.3 L1135.9,431.3 L1136.4,432.3 L1136.7,433.3 L1137.1,434.3 L1137.4,435.3 L1137.7,436.3 L1137.9,437.3 L1137.9,438.3 L1137.7,439.3 L1137.3,440.3 L1136.8,441.3 L1136.2,442.3 L1135.5,443.3 L1134.3,444.3 L1132.6,445.3 L1130.7,446.3 L1129.4,446.9 L1031.4,446.9 L1030.1,446.3 L1028.2,445.3 L1026.5,444.3 L1025.3,443.3 L1024.6,442.3 L1024.0,441.3 L1023.5,440.3 L1023.1,439.3 L1022.9,438.3 L1022.9,437.3 L1023.1,436.3 L1023.4,435.3 L1023.7,434.3 L1024.1,433.3 L1024.4,432.3 L1024.9,431.3 L1025.5,430.3 L1026.1,429.3 L1026.8,428.3 L1027.5,427.3 L1028.2,426.3 L1029.0,425.3 L1029.7,424.3 L1030.5,423.3 L1031.3,422.3 L1032.2,421.3 L1033.2,420.3 L1034.1,419.3 L1035.1,418.3 L1036.0,417.3 L1036.8,416.3 L1037.7,415.3 L1038.4,414.3 L1039.1,413.3 L1039.7,412.3 L1040.3,411.3 L1040.9,410.3 L1041.5,409.3 L1042.0,408.3 L1042.6,407.3 L1043.1,406.3 L1043.6,405.3 L1044.1,404.3 L1044.6,403.3 L1045.0,402.3 L1045.4,401.3 L1045.8,400.3 L1046.2,399.3 L1046.6,398.3 L1047.1,397.3 L1047.5,396.3 L1048.0,395.3 L1048.6,394.3 L1049.3,393.3 L1050.0,392.3 L1050.8,391.3 L1051.7,390.3 L1052.7,389.3 L1053.7,388.3 L1054.7,387.3 L1055.8,386.3 L1056.8,385.3 L1058.1,384.3 L1059.5,383.3 L1060.9,382.3 L1062.4,381.3 L1063.7,380.3 L1065.0,379.3 L1066.1,378.3 L1067.2,377.3 L1068.2,376.3 L1069.2,375.3 L1070.2,374.3 L1071.0,373.3 L1071.6,372.3 L1072.0,371.3 L1072.4,370.3 L1072.7,369.3 L1073.0,368.3 L1073.2,367.3 L1073.4,366.3 L1073.6,365.3 L1073.6,364.3Z" fill="#E369A9" stroke="#363636" stroke-width="4.6" stroke-linejoin="round"/>
<rect x="1049.4" y="419.2" width="62" height="10.7" fill="#000"/>
<circle cx="1049.4" cy="424.6" r="2.3" fill="#000"/><circle cx="1111.4" cy="424.6" r="2.3" fill="#000"/>
<line x1="133.3" y1="385.0" x2="1157.0" y2="385.0" stroke="#75859A" stroke-width="4" stroke-dasharray="17.6 17.96"/>
<line x1="133.3" y1="311.6" x2="1157.0" y2="311.6" stroke="#75859A" stroke-width="4" stroke-dasharray="17.6 17.96"/>
<path d="M132.3,71.0 V476.7 H1157.0" fill="none" stroke="#000" stroke-width="4.5" stroke-linejoin="miter"/>
<line x1="125.8" y1="385.0" x2="132.3" y2="385.0" stroke="#000" stroke-width="4.2"/>
<text x="123.3" y="394.7" font-size="29.0" text-anchor="end" fill="#000" stroke="#000" stroke-width="0.3">1000</text>
<line x1="125.8" y1="311.6" x2="132.3" y2="311.6" stroke="#000" stroke-width="4.2"/>
<text x="123.3" y="321.2" font-size="29.0" text-anchor="end" fill="#000" stroke="#000" stroke-width="0.3">2000</text>
<line x1="125.8" y1="238.1" x2="132.3" y2="238.1" stroke="#000" stroke-width="4.2"/>
<text x="123.3" y="247.8" font-size="29.0" text-anchor="end" fill="#000" stroke="#000" stroke-width="0.3">3000</text>
<line x1="125.8" y1="164.7" x2="132.3" y2="164.7" stroke="#000" stroke-width="4.2"/>
<text x="123.3" y="174.3" font-size="29.0" text-anchor="end" fill="#000" stroke="#000" stroke-width="0.3">4000</text>
<line x1="125.8" y1="91.2" x2="132.3" y2="91.2" stroke="#000" stroke-width="4.2"/>
<text x="123.3" y="100.9" font-size="29.0" text-anchor="end" fill="#000" stroke="#000" stroke-width="0.3">5000</text>
<line x1="207.5" y1="476.7" x2="207.5" y2="484.2" stroke="#000" stroke-width="4"/>
<text x="207.8" y="513.0" font-size="29.2" text-anchor="middle" fill="#231F20" stroke="#231F20" stroke-width="0.3">Rods</text>
<line x1="332.2" y1="476.7" x2="332.2" y2="484.2" stroke="#000" stroke-width="4"/>
<text x="334.4" y="513.0" font-size="29.2" text-anchor="middle" fill="#231F20" stroke="#231F20" stroke-width="0.3">Cones</text>
<line x1="456.9" y1="476.7" x2="456.9" y2="484.2" stroke="#000" stroke-width="4"/>
<text x="461.2" y="513.0" font-size="29.2" text-anchor="middle" fill="#231F20" stroke="#231F20" stroke-width="0.3">Bipolar</text>
<text x="461.2" y="547.5" font-size="29.2" text-anchor="middle" fill="#231F20" stroke="#231F20" stroke-width="0.3">Cells</text>
<line x1="581.6" y1="476.7" x2="581.6" y2="484.2" stroke="#000" stroke-width="4"/>
<text x="582.4" y="513.0" font-size="29.2" text-anchor="middle" fill="#231F20" stroke="#231F20" stroke-width="0.3">Retinal</text>
<text x="582.4" y="547.5" font-size="29.2" text-anchor="middle" fill="#231F20" stroke="#231F20" stroke-width="0.3">Ganglion</text>
<text x="582.4" y="582.0" font-size="29.2" text-anchor="middle" fill="#231F20" stroke="#231F20" stroke-width="0.3">Cells</text>
<line x1="706.3" y1="476.7" x2="706.3" y2="484.2" stroke="#000" stroke-width="4"/>
<text x="707.3" y="513.0" font-size="29.2" text-anchor="middle" fill="#231F20" stroke="#231F20" stroke-width="0.3">Amacrine</text>
<text x="707.3" y="547.5" font-size="29.2" text-anchor="middle" fill="#231F20" stroke="#231F20" stroke-width="0.3">Cells</text>
<line x1="831.0" y1="476.7" x2="831.0" y2="484.2" stroke="#000" stroke-width="4"/>
<text x="840.2" y="513.0" font-size="29.2" text-anchor="middle" fill="#231F20" stroke="#231F20" stroke-width="0.3">Horizontal</text>
<text x="840.2" y="547.5" font-size="29.2" text-anchor="middle" fill="#231F20" stroke="#231F20" stroke-width="0.3">Cells</text>
<line x1="955.7" y1="476.7" x2="955.7" y2="484.2" stroke="#000" stroke-width="4"/>
<text x="956.1" y="513.0" font-size="29.2" text-anchor="middle" fill="#231F20" stroke="#231F20" stroke-width="0.3">Müller</text>
<text x="956.1" y="547.5" font-size="29.2" text-anchor="middle" fill="#231F20" stroke="#231F20" stroke-width="0.3">Cells</text>
<line x1="1080.4" y1="476.7" x2="1080.4" y2="484.2" stroke="#000" stroke-width="4"/>
<text x="1081.0" y="513.0" font-size="29.2" text-anchor="middle" fill="#231F20" stroke="#231F20" stroke-width="0.3">Microglia</text>
<text transform="translate(44.8,219.7) rotate(-90)" font-size="29.1" text-anchor="middle" fill="#000" stroke="#000" stroke-width="0.3">Gene number / cell</text>
<text x="660.7" y="67.3" font-size="41.3" text-anchor="middle" fill="#000" stroke="#000" stroke-width="0.3">Frequently used protocol v2</text>
<path d="M1434.0,111.2 L1434.0,112.2 L1434.0,113.2 L1434.0,114.2 L1434.0,115.2 L1434.0,116.2 L1434.0,117.2 L1434.0,118.2 L1434.0,119.2 L1434.0,120.2 L1434.0,121.2 L1434.0,122.2 L1434.0,123.2 L1434.0,124.2 L1434.0,125.2 L1434.0,126.2 L1434.0,127.2 L1434.0,128.2 L1434.0,129.2 L1434.0,130.2 L1434.0,131.2 L1434.0,132.2 L1434.0,133.2 L1434.0,134.2 L1434.0,135.2 L1434.0,136.2 L1434.0,137.2 L1434.0,138.2 L1434.0,139.2 L1434.0,140.2 L1434.0,141.2 L1434.0,142.2 L1434.0,143.2 L1434.0,144.2 L1434.0,145.2 L1434.0,146.2 L1434.0,147.2 L1434.0,148.2 L1434.0,149.2 L1434.0,150.2 L1434.0,151.2 L1434.0,152.2 L1434.0,153.2 L1434.0,154.2 L1434.0,155.2 L1434.0,156.2 L1434.0,157.2 L1434.0,158.2 L1434.0,159.2 L1434.0,160.2 L1434.0,161.2 L1434.0,162.2 L1434.0,163.2 L1434.0,164.2 L1434.0,165.2 L1434.0,166.2 L1434.0,167.2 L1434.0,168.2 L1434.0,169.2 L1434.0,170.2 L1434.0,171.2 L1434.0,172.2 L1434.0,173.2 L1434.0,174.2 L1434.0,175.2 L1434.0,176.2 L1434.0,177.2 L1434.0,178.2 L1434.0,179.2 L1434.0,180.2 L1434.0,181.2 L1434.0,182.2 L1434.0,183.2 L1434.0,184.2 L1434.0,185.2 L1434.0,186.2 L1434.0,187.2 L1434.0,188.2 L1434.0,189.2 L1434.0,190.2 L1434.0,191.2 L1434.0,192.2 L1434.0,193.2 L1434.0,194.2 L1434.0,195.2 L1434.0,196.2 L1434.0,197.2 L1434.0,198.2 L1434.0,199.2 L1434.0,200.2 L1434.1,201.2 L1434.1,202.2 L1434.1,203.2 L1434.1,204.2 L1434.1,205.2 L1434.1,206.2 L1434.1,207.2 L1434.1,208.2 L1434.1,209.2 L1434.1,210.2 L1434.1,211.2 L1434.1,212.2 L1434.1,213.2 L1434.1,214.2 L1434.1,215.2 L1434.1,216.2 L1434.1,217.2 L1434.1,218.2 L1434.1,219.2 L1434.1,220.2 L1434.1,221.2 L1434.1,222.2 L1434.1,223.2 L1434.1,224.2 L1434.1,225.2 L1434.1,226.2 L1434.1,227.2 L1434.1,228.2 L1434.1,229.2 L1434.1,230.2 L1434.1,231.2 L1434.1,232.2 L1434.1,233.2 L1434.1,234.2 L1434.1,235.2 L1434.1,236.2 L1434.1,237.2 L1434.1,238.2 L1434.1,239.2 L1434.1,240.2 L1434.1,241.2 L1434.1,242.2 L1434.1,243.2 L1434.1,244.2 L1434.1,245.2 L1434.1,246.2 L1434.1,247.2 L1434.1,248.2 L1434.1,249.2 L1434.1,250.2 L1434.1,251.2 L1434.1,252.2 L1434.2,253.2 L1434.2,254.2 L1434.2,255.2 L1434.2,256.2 L1434.2,257.2 L1434.2,258.2 L1434.2,259.2 L1434.2,260.2 L1434.2,261.2 L1434.2,262.2 L1434.2,263.2 L1434.2,264.2 L1434.2,265.2 L1434.2,266.2 L1434.2,267.2 L1434.2,268.2 L1434.2,269.2 L1434.2,270.2 L1434.2,271.2 L1434.2,272.2 L1434.2,273.2 L1434.2,274.2 L1434.2,275.2 L1434.2,276.2 L1434.2,277.2 L1434.2,278.2 L1434.2,279.2 L1434.2,280.2 L1434.2,281.2 L1434.2,282.2 L1434.2,283.2 L1434.2,284.2 L1434.3,285.2 L1434.3,286.2 L1434.3,287.2 L1434.3,288.2 L1434.3,289.2 L1434.3,290.2 L1434.3,291.2 L1434.3,292.2 L1434.3,293.2 L1434.3,294.2 L1434.3,295.2 L1434.3,296.2 L1434.3,297.2 L1434.3,298.2 L1434.3,299.2 L1434.3,300.2 L1434.4,301.2 L1434.4,302.2 L1434.4,303.2 L1434.5,304.2 L1434.6,305.2 L1434.6,306.2 L1434.7,307.2 L1434.8,308.2 L1434.8,309.2 L1434.9,310.2 L1435.0,311.2 L1435.1,312.2 L1435.2,313.2 L1435.3,314.2 L1435.4,315.2 L1435.5,316.2 L1435.6,317.2 L1435.7,318.2 L1435.8,319.2 L1436.0,320.2 L1436.1,321.2 L1436.2,322.2 L1436.3,323.2 L1436.5,324.2 L1436.6,325.2 L1436.7,326.2 L1436.8,327.2 L1437.0,328.2 L1437.1,329.2 L1437.2,330.2 L1437.4,331.2 L1437.5,332.2 L1437.7,333.2 L1437.8,334.2 L1438.0,335.2 L1438.2,336.2 L1438.4,337.2 L1438.6,338.2 L1438.8,339.2 L1439.0,340.2 L1439.3,341.2 L1439.5,342.2 L1439.7,343.2 L1439.9,344.2 L1440.2,345.2 L1440.4,346.2 L1440.7,347.2 L1440.9,348.2 L1441.1,349.2 L1441.4,350.2 L1441.6,351.2 L1441.9,352.2 L1442.1,353.2 L1442.4,354.2 L1442.7,355.2 L1443.0,356.2 L1443.2,357.2 L1443.5,358.2 L1443.8,359.2 L1444.2,360.2 L1444.5,361.2 L1444.8,362.2 L1445.2,363.2 L1445.5,364.2 L1445.9,365.2 L1446.3,366.2 L1446.7,367.2 L1447.2,368.2 L1447.6,369.2 L1448.1,370.2 L1448.6,371.2 L1449.1,372.2 L1449.7,373.2 L1450.2,374.2 L1450.8,375.2 L1451.3,376.2 L1451.8,377.2 L1452.4,378.2 L1452.9,379.2 L1453.5,380.2 L1454.1,381.2 L1454.7,382.2 L1455.4,383.2 L1456.0,384.2 L1456.6,385.2 L1457.2,386.2 L1457.8,387.2 L1458.4,388.2 L1458.9,389.2 L1459.5,390.2 L1459.9,391.2 L1460.4,392.2 L1460.8,393.2 L1461.1,394.2 L1461.5,395.2 L1461.8,396.2 L1462.2,397.2 L1462.6,398.2 L1463.0,399.2 L1463.5,400.2 L1464.0,401.2 L1464.7,402.2 L1465.4,403.2 L1466.3,404.2 L1467.2,405.2 L1468.3,406.2 L1469.5,407.2 L1470.8,408.2 L1472.5,409.2 L1474.5,410.2 L1476.8,411.2 L1479.1,412.2 L1481.2,413.2 L1483.1,414.2 L1484.5,415.2 L1486.0,416.2 L1487.5,417.2 L1488.8,418.2 L1489.9,419.2 L1490.7,420.2 L1491.1,421.2 L1491.0,422.2 L1490.7,423.2 L1490.2,424.2 L1489.4,425.2 L1488.4,426.2 L1487.1,427.2 L1484.1,428.2 L1477.5,429.2 L1472.5,430.2 L1468.4,431.2 L1464.6,432.2 L1460.9,433.2 L1456.9,434.2 L1452.6,435.2 L1448.3,436.2 L1443.9,437.2 L1440.7,437.9 L1426.7,437.9 L1423.5,437.2 L1419.1,436.2 L1414.8,435.2 L1410.5,434.2 L1406.5,433.2 L1402.8,432.2 L1399.0,431.2 L1394.9,430.2 L1389.9,429.2 L1383.3,428.2 L1380.3,427.2 L1379.0,426.2 L1378.0,425.2 L1377.2,424.2 L1376.7,423.2 L1376.4,422.2 L1376.3,421.2 L1376.7,420.2 L1377.5,419.2 L1378.6,418.2 L1379.9,417.2 L1381.4,416.2 L1382.9,415.2 L1384.3,414.2 L1386.2,413.2 L1388.3,412.2 L1390.6,411.2 L1392.9,410.2 L1394.9,409.2 L1396.6,408.2 L1397.9,407.2 L1399.1,406.2 L1400.2,405.2 L1401.1,404.2 L1402.0,403.2 L1402.7,402.2 L1403.4,401.2 L1403.9,400.2 L1404.4,399.2 L1404.8,398.2 L1405.2,397.2 L1405.6,396.2 L1405.9,395.2 L1406.3,394.2 L1406.6,393.2 L1407.0,392.2 L1407.5,391.2 L1407.9,390.2 L1408.5,389.2 L1409.0,388.2 L1409.6,387.2 L1410.2,386.2 L1410.8,385.2 L1411.4,384.2 L1412.0,383.2 L1412.7,382.2 L1413.3,381.2 L1413.9,380.2 L1414.5,379.2 L1415.0,378.2 L1415.6,377.2 L1416.1,376.2 L1416.6,375.2 L1417.2,374.2 L1417.7,373.2 L1418.3,372.2 L1418.8,371.2 L1419.3,370.2 L1419.8,369.2 L1420.2,368.2 L1420.7,367.2 L1421.1,366.2 L1421.5,365.2 L1421.9,364.2 L1422.2,363.2 L1422.6,362.2 L1422.9,361.2 L1423.2,360.2 L1423.6,359.2 L1423.9,358.2 L1424.2,357.2 L1424.4,356.2 L1424.7,355.2 L1425.0,354.2 L1425.3,353.2 L1425.5,352.2 L1425.8,351.2 L1426.0,350.2 L1426.3,349.2 L1426.5,348.2 L1426.7,347.2 L1427.0,346.2 L1427.2,345.2 L1427.5,344.2 L1427.7,343.2 L1427.9,342.2 L1428.1,341.2 L1428.4,340.2 L1428.6,339.2 L1428.8,338.2 L1429.0,337.2 L1429.2,336.2 L1429.4,335.2 L1429.6,334.2 L1429.7,333.2 L1429.9,332.2 L1430.0,331.2 L1430.2,330.2 L1430.3,329.2 L1430.4,328.2 L1430.6,327.2 L1430.7,326.2 L1430.8,325.2 L1430.9,324.2 L1431.1,323.2 L1431.2,322.2 L1431.3,321.2 L1431.4,320.2 L1431.6,319.2 L1431.7,318.2 L1431.8,317.2 L1431.9,316.2 L1432.0,315.2 L1432.1,314.2 L1432.2,313.2 L1432.3,312.2 L1432.4,311.2 L1432.5,310.2 L1432.6,309.2 L1432.6,308.2 L1432.7,307.2 L1432.8,306.2 L1432.8,305.2 L1432.9,304.2 L1433.0,303.2 L1433.0,302.2 L1433.0,301.2 L1433.1,300.2 L1433.1,299.2 L1433.1,298.2 L1433.1,297.2 L1433.1,296.2 L1433.1,295.2 L1433.1,294.2 L1433.1,293.2 L1433.1,292.2 L1433.1,291.2 L1433.1,290.2 L1433.1,289.2 L1433.1,288.2 L1433.1,287.2 L1433.1,286.2 L1433.1,285.2 L1433.2,284.2 L1433.2,283.2 L1433.2,282.2 L1433.2,281.2 L1433.2,280.2 L1433.2,279.2 L1433.2,278.2 L1433.2,277.2 L1433.2,276.2 L1433.2,275.2 L1433.2,274.2 L1433.2,273.2 L1433.2,272.2 L1433.2,271.2 L1433.2,270.2 L1433.2,269.2 L1433.2,268.2 L1433.2,267.2 L1433.2,266.2 L1433.2,265.2 L1433.2,264.2 L1433.2,263.2 L1433.2,262.2 L1433.2,261.2 L1433.2,260.2 L1433.2,259.2 L1433.2,258.2 L1433.2,257.2 L1433.2,256.2 L1433.2,255.2 L1433.2,254.2 L1433.2,253.2 L1433.3,252.2 L1433.3,251.2 L1433.3,250.2 L1433.3,249.2 L1433.3,248.2 L1433.3,247.2 L1433.3,246.2 L1433.3,245.2 L1433.3,244.2 L1433.3,243.2 L1433.3,242.2 L1433.3,241.2 L1433.3,240.2 L1433.3,239.2 L1433.3,238.2 L1433.3,237.2 L1433.3,236.2 L1433.3,235.2 L1433.3,234.2 L1433.3,233.2 L1433.3,232.2 L1433.3,231.2 L1433.3,230.2 L1433.3,229.2 L1433.3,228.2 L1433.3,227.2 L1433.3,226.2 L1433.3,225.2 L1433.3,224.2 L1433.3,223.2 L1433.3,222.2 L1433.3,221.2 L1433.3,220.2 L1433.3,219.2 L1433.3,218.2 L1433.3,217.2 L1433.3,216.2 L1433.3,215.2 L1433.3,214.2 L1433.3,213.2 L1433.3,212.2 L1433.3,211.2 L1433.3,210.2 L1433.3,209.2 L1433.3,208.2 L1433.3,207.2 L1433.3,206.2 L1433.3,205.2 L1433.3,204.2 L1433.3,203.2 L1433.3,202.2 L1433.3,201.2 L1433.4,200.2 L1433.4,199.2 L1433.4,198.2 L1433.4,197.2 L1433.4,196.2 L1433.4,195.2 L1433.4,194.2 L1433.4,193.2 L1433.4,192.2 L1433.4,191.2 L1433.4,190.2 L1433.4,189.2 L1433.4,188.2 L1433.4,187.2 L1433.4,186.2 L1433.4,185.2 L1433.4,184.2 L1433.4,183.2 L1433.4,182.2 L1433.4,181.2 L1433.4,180.2 L1433.4,179.2 L1433.4,178.2 L1433.4,177.2 L1433.4,176.2 L1433.4,175.2 L1433.4,174.2 L1433.4,173.2 L1433.4,172.2 L1433.4,171.2 L1433.4,170.2 L1433.4,169.2 L1433.4,168.2 L1433.4,167.2 L1433.4,166.2 L1433.4,165.2 L1433.4,164.2 L1433.4,163.2 L1433.4,162.2 L1433.4,161.2 L1433.4,160.2 L1433.4,159.2 L1433.4,158.2 L1433.4,157.2 L1433.4,156.2 L1433.4,155.2 L1433.4,154.2 L1433.4,153.2 L1433.4,152.2 L1433.4,151.2 L1433.4,150.2 L1433.4,149.2 L1433.4,148.2 L1433.4,147.2 L1433.4,146.2 L1433.4,145.2 L1433.4,144.2 L1433.4,143.2 L1433.4,142.2 L1433.4,141.2 L1433.4,140.2 L1433.4,139.2 L1433.4,138.2 L1433.4,137.2 L1433.4,136.2 L1433.4,135.2 L1433.4,134.2 L1433.4,133.2 L1433.4,132.2 L1433.4,131.2 L1433.4,130.2 L1433.4,129.2 L1433.4,128.2 L1433.4,127.2 L1433.4,126.2 L1433.4,125.2 L1433.4,124.2 L1433.4,123.2 L1433.4,122.2 L1433.4,121.2 L1433.4,120.2 L1433.4,119.2 L1433.4,118.2 L1433.4,117.2 L1433.4,116.2 L1433.4,115.2 L1433.4,114.2 L1433.4,113.2 L1433.4,112.2 L1433.4,111.2Z" fill="#F3766E" stroke="#363636" stroke-width="4.6" stroke-linejoin="round"/>
<rect x="1402.7" y="404.4" width="62" height="10.7" fill="#000"/>
<circle cx="1402.7" cy="409.8" r="2.3" fill="#000"/><circle cx="1464.7" cy="409.8" r="2.3" fill="#000"/>
<path d="M1559.8,171.8 L1559.8,172.8 L1559.8,173.8 L1559.8,174.8 L1559.8,175.8 L1559.8,176.8 L1559.8,177.8 L1559.8,178.8 L1559.8,179.8 L1559.8,180.8 L1559.8,181.8 L1559.8,182.8 L1559.8,183.8 L1559.8,184.8 L1559.8,185.8 L1559.8,186.8 L1559.8,187.8 L1559.8,188.8 L1559.8,189.8 L1559.8,190.8 L1559.8,191.8 L1559.8,192.8 L1559.8,193.8 L1559.8,194.8 L1559.8,195.8 L1559.8,196.8 L1559.8,197.8 L1559.8,198.8 L1559.8,199.8 L1559.8,200.8 L1559.8,201.8 L1559.8,202.8 L1559.8,203.8 L1559.8,204.8 L1559.8,205.8 L1559.8,206.8 L1559.8,207.8 L1559.8,208.8 L1559.8,209.8 L1559.8,210.8 L1559.8,211.8 L1559.8,212.8 L1559.8,213.8 L1559.8,214.8 L1559.8,215.8 L1559.8,216.8 L1559.8,217.8 L1559.8,218.8 L1559.8,219.8 L1559.8,220.8 L1559.9,221.8 L1559.9,222.8 L1559.9,223.8 L1559.9,224.8 L1559.9,225.8 L1559.9,226.8 L1559.9,227.8 L1559.9,228.8 L1559.9,229.8 L1559.9,230.8 L1559.9,231.8 L1559.9,232.8 L1559.9,233.8 L1559.9,234.8 L1560.0,235.8 L1560.0,236.8 L1560.0,237.8 L1560.0,238.8 L1560.0,239.8 L1560.0,240.8 L1560.1,241.8 L1560.2,242.8 L1560.3,243.8 L1560.4,244.8 L1560.6,245.8 L1560.8,246.8 L1561.0,247.8 L1561.1,248.8 L1561.3,249.8 L1561.5,250.8 L1561.6,251.8 L1561.8,252.8 L1561.9,253.8 L1562.0,254.8 L1562.0,255.8 L1562.0,256.8 L1562.0,257.8 L1561.9,258.8 L1561.9,259.8 L1561.8,260.8 L1561.7,261.8 L1561.6,262.8 L1561.4,263.8 L1561.3,264.8 L1561.2,265.8 L1561.0,266.8 L1560.9,267.8 L1560.8,268.8 L1560.6,269.8 L1560.5,270.8 L1560.4,271.8 L1560.3,272.8 L1560.2,273.8 L1560.1,274.8 L1560.1,275.8 L1560.0,276.8 L1560.0,277.8 L1560.0,278.8 L1560.0,279.8 L1560.1,280.8 L1560.1,281.8 L1560.2,282.8 L1560.2,283.8 L1560.3,284.8 L1560.4,285.8 L1560.5,286.8 L1560.6,287.8 L1560.7,288.8 L1560.8,289.8 L1561.0,290.8 L1561.1,291.8 L1561.3,292.8 L1561.6,293.8 L1561.9,294.8 L1562.3,295.8 L1562.7,296.8 L1563.1,297.8 L1563.6,298.8 L1564.2,299.8 L1564.8,300.8 L1565.6,301.8 L1566.5,302.8 L1567.6,303.8 L1568.7,304.8 L1569.9,305.8 L1571.1,306.8 L1572.4,307.8 L1573.6,308.8 L1574.9,309.8 L1576.4,310.8 L1577.9,311.8 L1579.5,312.8 L1581.1,313.8 L1582.7,314.8 L1584.3,315.8 L1585.8,316.8 L1587.3,317.8 L1588.8,318.8 L1590.3,319.8 L1591.8,320.8 L1593.3,321.8 L1594.8,322.8 L1596.3,323.8 L1597.8,324.8 L1599.2,325.8 L1600.7,326.8 L1602.3,327.8 L1603.8,328.8 L1605.3,329.8 L1606.8,330.8 L1608.1,331.8 L1609.4,332.8 L1610.6,333.8 L1611.8,334.8 L1613.1,335.8 L1614.2,336.8 L1615.1,337.8 L1615.6,338.8 L1615.6,339.8 L1614.9,340.8 L1613.7,341.8 L1612.0,342.8 L1610.1,343.8 L1608.1,344.8 L1606.0,345.8 L1603.2,346.8 L1600.0,347.8 L1596.5,348.8 L1592.8,349.8 L1589.2,350.8 L1585.8,351.8 L1582.3,352.8 L1578.7,353.8 L1575.2,354.8 L1572.0,355.8 L1569.4,356.8 L1567.4,357.8 L1565.6,358.8 L1564.0,359.8 L1562.9,360.8 L1562.3,361.8 L1561.9,362.8 L1561.6,363.8 L1561.3,364.8 L1561.0,365.8 L1560.7,366.8 L1560.5,367.8 L1560.3,368.8 L1560.2,369.8 L1560.1,370.8 L1560.0,371.8 L1560.0,372.8 L1560.0,373.8 L1560.0,374.8 L1560.0,375.8 L1560.0,376.8 L1560.0,377.8 L1560.0,378.8 L1560.0,379.8 L1560.0,380.8 L1560.0,381.8 L1560.0,382.8 L1560.0,383.8 L1560.0,384.8 L1560.0,385.8 L1560.0,386.8 L1560.0,387.8 L1560.0,388.8 L1560.0,389.8 L1560.0,390.8 L1560.0,391.8 L1560.0,392.8 L1560.0,393.8 L1560.0,394.8 L1560.0,395.8 L1560.2,396.8 L1560.3,397.8 L1560.6,398.8 L1560.9,399.8 L1561.2,400.8 L1561.5,401.8 L1561.8,402.8 L1562.1,403.8 L1562.3,404.8 L1562.4,405.8 L1562.5,406.8 L1562.5,407.8 L1562.3,408.8 L1562.2,409.8 L1561.9,410.8 L1561.6,411.8 L1561.3,412.8 L1561.0,413.8 L1560.7,414.8 L1560.4,415.8 L1560.2,416.8 L1560.1,417.8 L1560.0,418.8 L1560.0,419.8 L1560.0,420.8 L1560.0,421.8 L1560.0,422.8 L1560.0,423.8 L1560.1,424.8 L1560.1,425.8 L1560.1,426.8 L1560.2,427.8 L1560.3,428.8 L1560.4,429.8 L1560.5,430.8 L1556.5,430.8 L1556.6,429.8 L1556.7,428.8 L1556.8,427.8 L1556.9,426.8 L1556.9,425.8 L1556.9,424.8 L1557.0,423.8 L1557.0,422.8 L1557.0,421.8 L1557.0,420.8 L1557.0,419.8 L1557.0,418.8 L1556.9,417.8 L1556.8,416.8 L1556.6,415.8 L1556.3,414.8 L1556.0,413.8 L1555.7,412.8 L1555.4,411.8 L1555.1,410.8 L1554.8,409.8 L1554.7,408.8 L1554.5,407.8 L1554.5,406.8 L1554.6,405.8 L1554.7,404.8 L1554.9,403.8 L1555.2,402.8 L1555.5,401.8 L1555.8,400.8 L1556.1,399.8 L1556.4,398.8 L1556.7,397.8 L1556.8,396.8 L1557.0,395.8 L1557.0,394.8 L1557.0,393.8 L1557.0,392.8 L1557.0,391.8 L1557.0,390.8 L1557.0,389.8 L1557.0,388.8 L1557.0,387.8 L1557.0,386.8 L1557.0,385.8 L1557.0,384.8 L1557.0,383.8 L1557.0,382.8 L1557.0,381.8 L1557.0,380.8 L1557.0,379.8 L1557.0,378.8 L1557.0,377.8 L1557.0,376.8 L1557.0,375.8 L1557.0,374.8 L1557.0,373.8 L1557.0,372.8 L1557.0,371.8 L1556.9,370.8 L1556.8,369.8 L1556.7,368.8 L1556.5,367.8 L1556.3,366.8 L1556.0,365.8 L1555.7,364.8 L1555.4,363.8 L1555.1,362.8 L1554.7,361.8 L1554.1,360.8 L1553.0,359.8 L1551.4,358.8 L1549.6,357.8 L1547.6,356.8 L1545.0,355.8 L1541.8,354.8 L1538.3,353.8 L1534.7,352.8 L1531.2,351.8 L1527.8,350.8 L1524.2,349.8 L1520.5,348.8 L1517.0,347.8 L1513.8,346.8 L1511.0,345.8 L1508.9,344.8 L1506.9,343.8 L1505.0,342.8 L1503.3,341.8 L1502.1,340.8 L1501.4,339.8 L1501.4,338.8 L1501.9,337.8 L1502.8,336.8 L1503.9,335.8 L1505.2,334.8 L1506.4,333.8 L1507.6,332.8 L1508.9,331.8 L1510.2,330.8 L1511.7,329.8 L1513.2,328.8 L1514.7,327.8 L1516.3,326.8 L1517.8,325.8 L1519.2,324.8 L1520.7,323.8 L1522.2,322.8 L1523.7,321.8 L1525.2,320.8 L1526.7,319.8 L1528.2,318.8 L1529.7,317.8 L1531.2,316.8 L1532.7,315.8 L1534.3,314.8 L1535.9,313.8 L1537.5,312.8 L1539.1,311.8 L1540.6,310.8 L1542.1,309.8 L1543.4,308.8 L1544.6,307.8 L1545.9,306.8 L1547.1,305.8 L1548.3,304.8 L1549.4,303.8 L1550.5,302.8 L1551.4,301.8 L1552.2,300.8 L1552.8,299.8 L1553.4,298.8 L1553.9,297.8 L1554.3,296.8 L1554.7,295.8 L1555.1,294.8 L1555.4,293.8 L1555.7,292.8 L1555.9,291.8 L1556.0,290.8 L1556.2,289.8 L1556.3,288.8 L1556.4,287.8 L1556.5,286.8 L1556.6,285.8 L1556.7,284.8 L1556.8,283.8 L1556.8,282.8 L1556.9,281.8 L1556.9,280.8 L1557.0,279.8 L1557.0,278.8 L1557.0,277.8 L1557.0,276.8 L1556.9,275.8 L1556.9,274.8 L1556.8,273.8 L1556.7,272.8 L1556.6,271.8 L1556.5,270.8 L1556.4,269.8 L1556.2,268.8 L1556.1,267.8 L1556.0,266.8 L1555.8,265.8 L1555.7,264.8 L1555.6,263.8 L1555.4,262.8 L1555.3,261.8 L1555.2,260.8 L1555.1,259.8 L1555.1,258.8 L1555.0,257.8 L1555.0,256.8 L1555.0,255.8 L1555.0,254.8 L1555.1,253.8 L1555.2,252.8 L1555.4,251.8 L1555.5,250.8 L1555.7,249.8 L1555.9,248.8 L1556.0,247.8 L1556.2,246.8 L1556.4,245.8 L1556.6,244.8 L1556.7,243.8 L1556.8,242.8 L1556.9,241.8 L1557.0,240.8 L1557.0,239.8 L1557.0,238.8 L1557.0,237.8 L1557.0,236.8 L1557.0,235.8 L1557.1,234.8 L1557.1,233.8 L1557.1,232.8 L1557.1,231.8 L1557.1,230.8 L1557.1,229.8 L1557.1,228.8 L1557.1,227.8 L1557.1,226.8 L1557.1,225.8 L1557.1,224.8 L1557.1,223.8 L1557.1,222.8 L1557.1,221.8 L1557.2,220.8 L1557.2,219.8 L1557.2,218.8 L1557.2,217.8 L1557.2,216.8 L1557.2,215.8 L1557.2,214.8 L1557.2,213.8 L1557.2,212.8 L1557.2,211.8 L1557.2,210.8 L1557.2,209.8 L1557.2,208.8 L1557.2,207.8 L1557.2,206.8 L1557.2,205.8 L1557.2,204.8 L1557.2,203.8 L1557.2,202.8 L1557.2,201.8 L1557.2,200.8 L1557.2,199.8 L1557.2,198.8 L1557.2,197.8 L1557.2,196.8 L1557.2,195.8 L1557.2,194.8 L1557.2,193.8 L1557.2,192.8 L1557.2,191.8 L1557.2,190.8 L1557.2,189.8 L1557.2,188.8 L1557.2,187.8 L1557.2,186.8 L1557.2,185.8 L1557.2,184.8 L1557.2,183.8 L1557.2,182.8 L1557.2,181.8 L1557.2,180.8 L1557.2,179.8 L1557.2,178.8 L1557.2,177.8 L1557.2,176.8 L1557.2,175.8 L1557.2,174.8 L1557.2,173.8 L1557.2,172.8 L1557.2,171.8Z" fill="#CC982B" stroke="#363636" stroke-width="4.6" stroke-linejoin="round"/>
<rect x="1527.5" y="330.8" width="62" height="10.7" fill="#000"/>
<circle cx="1527.5" cy="336.1" r="2.3" fill="#000"/><circle cx="1589.5" cy="336.1" r="2.3" fill="#000"/>
<path d="M1683.4,90.6 L1683.4,91.6 L1683.4,92.6 L1683.4,93.6 L1683.4,94.6 L1683.4,95.6 L1683.4,96.6 L1683.4,97.6 L1683.4,98.6 L1683.4,99.6 L1683.4,100.6 L1683.4,101.6 L1683.4,102.6 L1683.4,103.6 L1683.4,104.6 L1683.4,105.6 L1683.4,106.6 L1683.4,107.6 L1683.4,108.6 L1683.4,109.6 L1683.4,110.6 L1683.4,111.6 L1683.4,112.6 L1683.4,113.6 L1683.4,114.6 L1683.4,115.6 L1683.4,116.6 L1683.4,117.6 L1683.4,118.6 L1683.4,119.6 L1683.4,120.6 L1683.4,121.6 L1683.4,122.6 L1683.4,123.6 L1683.4,124.6 L1683.4,125.6 L1683.4,126.6 L1683.4,127.6 L1683.4,128.6 L1683.4,129.6 L1683.4,130.6 L1683.4,131.6 L1683.4,132.6 L1683.4,133.6 L1683.4,134.6 L1683.4,135.6 L1683.4,136.6 L1683.4,137.6 L1683.4,138.6 L1683.4,139.6 L1683.5,140.6 L1683.5,141.6 L1683.5,142.6 L1683.5,143.6 L1683.5,144.6 L1683.5,145.6 L1683.5,146.6 L1683.5,147.6 L1683.5,148.6 L1683.5,149.6 L1683.5,150.6 L1683.5,151.6 L1683.5,152.6 L1683.5,153.6 L1683.5,154.6 L1683.5,155.6 L1683.5,156.6 L1683.5,157.6 L1683.5,158.6 L1683.5,159.6 L1683.5,160.6 L1683.5,161.6 L1683.5,162.6 L1683.5,163.6 L1683.5,164.6 L1683.5,165.6 L1683.5,166.6 L1683.5,167.6 L1683.5,168.6 L1683.5,169.6 L1683.5,170.6 L1683.6,171.6 L1683.6,172.6 L1683.6,173.6 L1683.6,174.6 L1683.6,175.6 L1683.6,176.6 L1683.6,177.6 L1683.6,178.6 L1683.6,179.6 L1683.6,180.6 L1683.6,181.6 L1683.6,182.6 L1683.6,183.6 L1683.6,184.6 L1683.6,185.6 L1683.6,186.6 L1683.6,187.6 L1683.6,188.6 L1683.7,189.6 L1683.7,190.6 L1683.7,191.6 L1683.7,192.6 L1683.7,193.6 L1683.7,194.6 L1683.7,195.6 L1683.7,196.6 L1683.7,197.6 L1683.7,198.6 L1683.7,199.6 L1683.7,200.6 L1683.7,201.6 L1683.7,202.6 L1683.7,203.6 L1683.8,204.6 L1683.8,205.6 L1683.8,206.6 L1683.8,207.6 L1683.8,208.6 L1683.8,209.6 L1683.8,210.6 L1683.8,211.6 L1683.8,212.6 L1683.8,213.6 L1683.8,214.6 L1683.8,215.6 L1683.9,216.6 L1683.9,217.6 L1683.9,218.6 L1683.9,219.6 L1683.9,220.6 L1683.9,221.6 L1683.9,222.6 L1683.9,223.6 L1684.0,224.6 L1684.0,225.6 L1684.1,226.6 L1684.2,227.6 L1684.2,228.6 L1684.3,229.6 L1684.4,230.6 L1684.5,231.6 L1684.6,232.6 L1684.8,233.6 L1684.9,234.6 L1685.0,235.6 L1685.1,236.6 L1685.2,237.6 L1685.4,238.6 L1685.5,239.6 L1685.6,240.6 L1685.8,241.6 L1685.9,242.6 L1686.1,243.6 L1686.3,244.6 L1686.5,245.6 L1686.7,246.6 L1686.9,247.6 L1687.1,248.6 L1687.4,249.6 L1687.6,250.6 L1687.9,251.6 L1688.2,252.6 L1688.6,253.6 L1689.0,254.6 L1689.4,255.6 L1689.7,256.6 L1690.1,257.6 L1690.3,258.6 L1690.6,259.6 L1690.7,260.6 L1690.8,261.6 L1690.8,262.6 L1690.6,263.6 L1690.4,264.6 L1690.1,265.6 L1689.7,266.6 L1689.3,267.6 L1688.9,268.6 L1688.4,269.6 L1688.0,270.6 L1687.5,271.6 L1687.2,272.6 L1686.8,273.6 L1686.6,274.6 L1686.4,275.6 L1686.3,276.6 L1686.2,277.6 L1686.2,278.6 L1686.1,279.6 L1686.0,280.6 L1686.0,281.6 L1685.9,282.6 L1685.9,283.6 L1685.9,284.6 L1685.9,285.6 L1686.0,286.6 L1686.1,287.6 L1686.2,288.6 L1686.3,289.6 L1686.5,290.6 L1686.7,291.6 L1686.9,292.6 L1687.2,293.6 L1687.4,294.6 L1687.7,295.6 L1688.0,296.6 L1688.3,297.6 L1688.9,298.6 L1689.7,299.6 L1690.7,300.6 L1691.8,301.6 L1693.0,302.6 L1694.2,303.6 L1695.4,304.6 L1696.4,305.6 L1697.2,306.6 L1697.9,307.6 L1698.6,308.6 L1699.2,309.6 L1699.9,310.6 L1700.5,311.6 L1701.1,312.6 L1701.7,313.6 L1702.3,314.6 L1702.9,315.6 L1703.5,316.6 L1704.0,317.6 L1704.6,318.6 L1705.2,319.6 L1705.8,320.6 L1706.4,321.6 L1707.2,322.6 L1708.0,323.6 L1709.0,324.6 L1710.1,325.6 L1711.3,326.6 L1712.7,327.6 L1714.2,328.6 L1715.7,329.6 L1717.2,330.6 L1718.8,331.6 L1720.3,332.6 L1722.0,333.6 L1723.9,334.6 L1725.8,335.6 L1727.8,336.6 L1729.7,337.6 L1731.5,338.6 L1733.1,339.6 L1734.5,340.6 L1735.8,341.6 L1737.0,342.6 L1738.2,343.6 L1739.2,344.6 L1739.8,345.6 L1739.9,346.6 L1739.5,347.6 L1738.7,348.6 L1737.6,349.6 L1736.3,350.6 L1735.0,351.6 L1733.5,352.6 L1731.5,353.6 L1729.2,354.6 L1726.6,355.6 L1723.8,356.6 L1721.0,357.6 L1718.2,358.6 L1715.5,359.6 L1713.1,360.6 L1710.7,361.6 L1708.2,362.6 L1705.7,363.6 L1703.3,364.6 L1701.0,365.6 L1698.8,366.6 L1696.7,367.6 L1694.9,368.6 L1693.4,369.6 L1691.8,370.6 L1690.3,371.6 L1689.0,372.6 L1687.8,373.6 L1686.9,374.6 L1686.4,375.6 L1686.0,376.6 L1685.6,377.6 L1685.3,378.6 L1685.0,379.6 L1684.8,380.6 L1684.6,381.6 L1684.5,382.6 L1684.4,383.6 L1684.4,384.6 L1684.4,385.6 L1684.4,386.6 L1684.4,387.6 L1684.4,388.6 L1684.4,389.6 L1684.4,390.6 L1684.4,391.6 L1684.4,392.6 L1684.4,393.6 L1684.4,394.6 L1684.4,395.6 L1684.5,396.6 L1684.6,397.6 L1684.8,398.6 L1685.1,399.6 L1685.3,400.6 L1685.5,401.6 L1685.8,402.6 L1686.0,403.6 L1686.2,404.6 L1686.3,405.6 L1686.4,406.6 L1686.4,407.6 L1686.3,408.6 L1686.2,409.6 L1686.1,410.6 L1685.9,411.6 L1685.7,412.6 L1685.5,413.6 L1685.3,414.6 L1685.1,415.6 L1684.9,416.6 L1684.8,417.6 L1684.6,418.6 L1684.5,419.6 L1684.3,420.6 L1684.2,421.6 L1684.1,422.6 L1683.9,423.6 L1683.8,424.6 L1683.7,425.4 L1682.1,425.4 L1682.0,424.6 L1681.9,423.6 L1681.7,422.6 L1681.6,421.6 L1681.5,420.6 L1681.3,419.6 L1681.2,418.6 L1681.0,417.6 L1680.9,416.6 L1680.7,415.6 L1680.5,414.6 L1680.3,413.6 L1680.1,412.6 L1679.9,411.6 L1679.7,410.6 L1679.6,409.6 L1679.5,408.6 L1679.4,407.6 L1679.4,406.6 L1679.5,405.6 L1679.6,404.6 L1679.8,403.6 L1680.0,402.6 L1680.3,401.6 L1680.5,400.6 L1680.7,399.6 L1681.0,398.6 L1681.2,397.6 L1681.3,396.6 L1681.4,395.6 L1681.4,394.6 L1681.4,393.6 L1681.4,392.6 L1681.4,391.6 L1681.4,390.6 L1681.4,389.6 L1681.4,388.6 L1681.4,387.6 L1681.4,386.6 L1681.4,385.6 L1681.4,384.6 L1681.4,383.6 L1681.3,382.6 L1681.2,381.6 L1681.0,380.6 L1680.8,379.6 L1680.5,378.6 L1680.2,377.6 L1679.8,376.6 L1679.4,375.6 L1678.9,374.6 L1678.0,373.6 L1676.8,372.6 L1675.5,371.6 L1674.0,370.6 L1672.4,369.6 L1670.9,368.6 L1669.1,367.6 L1667.0,366.6 L1664.8,365.6 L1662.5,364.6 L1660.1,363.6 L1657.6,362.6 L1655.1,361.6 L1652.7,360.6 L1650.3,359.6 L1647.6,358.6 L1644.8,357.6 L1642.0,356.6 L1639.2,355.6 L1636.6,354.6 L1634.3,353.6 L1632.3,352.6 L1630.8,351.6 L1629.5,350.6 L1628.2,349.6 L1627.1,348.6 L1626.3,347.6 L1625.9,346.6 L1626.0,345.6 L1626.6,344.6 L1627.6,343.6 L1628.8,342.6 L1630.0,341.6 L1631.3,340.6 L1632.7,339.6 L1634.3,338.6 L1636.1,337.6 L1638.0,336.6 L1640.0,335.6 L1641.9,334.6 L1643.8,333.6 L1645.5,332.6 L1647.0,331.6 L1648.6,330.6 L1650.1,329.6 L1651.6,328.6 L1653.1,327.6 L1654.5,326.6 L1655.7,325.6 L1656.8,324.6 L1657.8,323.6 L1658.6,322.6 L1659.4,321.6 L1660.0,320.6 L1660.6,319.6 L1661.2,318.6 L1661.8,317.6 L1662.3,316.6 L1662.9,315.6 L1663.5,314.6 L1664.1,313.6 L1664.7,312.6 L1665.3,311.6 L1665.9,310.6 L1666.6,309.6 L1667.2,308.6 L1667.9,307.6 L1668.6,306.6 L1669.4,305.6 L1670.4,304.6 L1671.6,303.6 L1672.8,302.6 L1674.0,301.6 L1675.1,300.6 L1676.1,299.6 L1676.9,298.6 L1677.5,297.6 L1677.8,296.6 L1678.1,295.6 L1678.4,294.6 L1678.6,293.6 L1678.9,292.6 L1679.1,291.6 L1679.3,290.6 L1679.5,289.6 L1679.6,288.6 L1679.7,287.6 L1679.8,286.6 L1679.9,285.6 L1679.9,284.6 L1679.9,283.6 L1679.9,282.6 L1679.8,281.6 L1679.8,280.6 L1679.7,279.6 L1679.6,278.6 L1679.6,277.6 L1679.5,276.6 L1679.4,275.6 L1679.2,274.6 L1679.0,273.6 L1678.6,272.6 L1678.3,271.6 L1677.8,270.6 L1677.4,269.6 L1676.9,268.6 L1676.5,267.6 L1676.1,266.6 L1675.7,265.6 L1675.4,264.6 L1675.2,263.6 L1675.0,262.6 L1675.0,261.6 L1675.1,260.6 L1675.2,259.6 L1675.5,258.6 L1675.7,257.6 L1676.1,256.6 L1676.4,255.6 L1676.8,254.6 L1677.2,253.6 L1677.6,252.6 L1677.9,251.6 L1678.2,250.6 L1678.4,249.6 L1678.7,248.6 L1678.9,247.6 L1679.1,246.6 L1679.3,245.6 L1679.5,244.6 L1679.7,243.6 L1679.9,242.6 L1680.0,241.6 L1680.2,240.6 L1680.3,239.6 L1680.4,238.6 L1680.6,237.6 L1680.7,236.6 L1680.8,235.6 L1680.9,234.6 L1681.0,233.6 L1681.2,232.6 L1681.3,231.6 L1681.4,230.6 L1681.5,229.6 L1681.6,228.6 L1681.6,227.6 L1681.7,226.6 L1681.8,225.6 L1681.8,224.6 L1681.9,223.6 L1681.9,222.6 L1681.9,221.6 L1681.9,220.6 L1681.9,219.6 L1681.9,218.6 L1681.9,217.6 L1681.9,216.6 L1682.0,215.6 L1682.0,214.6 L1682.0,213.6 L1682.0,212.6 L1682.0,211.6 L1682.0,210.6 L1682.0,209.6 L1682.0,208.6 L1682.0,207.6 L1682.0,206.6 L1682.0,205.6 L1682.0,204.6 L1682.1,203.6 L1682.1,202.6 L1682.1,201.6 L1682.1,200.6 L1682.1,199.6 L1682.1,198.6 L1682.1,197.6 L1682.1,196.6 L1682.1,195.6 L1682.1,194.6 L1682.1,193.6 L1682.1,192.6 L1682.1,191.6 L1682.1,190.6 L1682.1,189.6 L1682.2,188.6 L1682.2,187.6 L1682.2,186.6 L1682.2,185.6 L1682.2,184.6 L1682.2,183.6 L1682.2,182.6 L1682.2,181.6 L1682.2,180.6 L1682.2,179.6 L1682.2,178.6 L1682.2,177.6 L1682.2,176.6 L1682.2,175.6 L1682.2,174.6 L1682.2,173.6 L1682.2,172.6 L1682.2,171.6 L1682.3,170.6 L1682.3,169.6 L1682.3,168.6 L1682.3,167.6 L1682.3,166.6 L1682.3,165.6 L1682.3,164.6 L1682.3,163.6 L1682.3,162.6 L1682.3,161.6 L1682.3,160.6 L1682.3,159.6 L1682.3,158.6 L1682.3,157.6 L1682.3,156.6 L1682.3,155.6 L1682.3,154.6 L1682.3,153.6 L1682.3,152.6 L1682.3,151.6 L1682.3,150.6 L1682.3,149.6 L1682.3,148.6 L1682.3,147.6 L1682.3,146.6 L1682.3,145.6 L1682.3,144.6 L1682.3,143.6 L1682.3,142.6 L1682.3,141.6 L1682.3,140.6 L1682.4,139.6 L1682.4,138.6 L1682.4,137.6 L1682.4,136.6 L1682.4,135.6 L1682.4,134.6 L1682.4,133.6 L1682.4,132.6 L1682.4,131.6 L1682.4,130.6 L1682.4,129.6 L1682.4,128.6 L1682.4,127.6 L1682.4,126.6 L1682.4,125.6 L1682.4,124.6 L1682.4,123.6 L1682.4,122.6 L1682.4,121.6 L1682.4,120.6 L1682.4,119.6 L1682.4,118.6 L1682.4,117.6 L1682.4,116.6 L1682.4,115.6 L1682.4,114.6 L1682.4,113.6 L1682.4,112.6 L1682.4,111.6 L1682.4,110.6 L1682.4,109.6 L1682.4,108.6 L1682.4,107.6 L1682.4,106.6 L1682.4,105.6 L1682.4,104.6 L1682.4,103.6 L1682.4,102.6 L1682.4,101.6 L1682.4,100.6 L1682.4,99.6 L1682.4,98.6 L1682.4,97.6 L1682.4,96.6 L1682.4,95.6 L1682.4,94.6 L1682.4,93.6 L1682.4,92.6 L1682.4,91.6 L1682.4,90.6Z" fill="#7FB23F" stroke="#363636" stroke-width="4.6" stroke-linejoin="round"/>
<rect x="1651.9" y="335.0" width="62" height="10.7" fill="#000"/>
<circle cx="1651.9" cy="340.4" r="2.3" fill="#000"/><circle cx="1713.9" cy="340.4" r="2.3" fill="#000"/>
<path d="M1819.0,98.2 L1819.3,99.2 L1819.7,100.2 L1820.0,101.2 L1820.3,102.2 L1820.6,103.2 L1820.9,104.2 L1821.2,105.2 L1821.4,106.2 L1821.7,107.2 L1821.9,108.2 L1822.1,109.2 L1822.2,110.2 L1822.3,111.2 L1822.4,112.2 L1822.4,113.2 L1822.4,114.2 L1822.4,115.2 L1822.4,116.2 L1822.4,117.2 L1822.3,118.2 L1822.3,119.2 L1822.3,120.2 L1822.3,121.2 L1822.2,122.2 L1822.2,123.2 L1822.1,124.2 L1822.1,125.2 L1822.1,126.2 L1822.0,127.2 L1822.0,128.2 L1821.9,129.2 L1821.9,130.2 L1821.8,131.2 L1821.8,132.2 L1821.7,133.2 L1821.6,134.2 L1821.6,135.2 L1821.5,136.2 L1821.5,137.2 L1821.4,138.2 L1821.3,139.2 L1821.2,140.2 L1821.1,141.2 L1821.1,142.2 L1821.0,143.2 L1820.9,144.2 L1820.8,145.2 L1820.6,146.2 L1820.5,147.2 L1820.4,148.2 L1820.3,149.2 L1820.2,150.2 L1820.1,151.2 L1819.9,152.2 L1819.8,153.2 L1819.7,154.2 L1819.6,155.2 L1819.5,156.2 L1819.3,157.2 L1819.2,158.2 L1819.1,159.2 L1819.0,160.2 L1818.8,161.2 L1818.7,162.2 L1818.6,163.2 L1818.4,164.2 L1818.3,165.2 L1818.1,166.2 L1818.0,167.2 L1817.8,168.2 L1817.7,169.2 L1817.5,170.2 L1817.3,171.2 L1817.2,172.2 L1817.0,173.2 L1816.8,174.2 L1816.7,175.2 L1816.5,176.2 L1816.3,177.2 L1816.1,178.2 L1815.9,179.2 L1815.7,180.2 L1815.5,181.2 L1815.2,182.2 L1815.0,183.2 L1814.7,184.2 L1814.4,185.2 L1814.1,186.2 L1813.8,187.2 L1813.5,188.2 L1813.2,189.2 L1813.0,190.2 L1812.7,191.2 L1812.4,192.2 L1812.1,193.2 L1811.9,194.2 L1811.6,195.2 L1811.4,196.2 L1811.2,197.2 L1811.0,198.2 L1810.8,199.2 L1810.7,200.2 L1810.5,201.2 L1810.4,202.2 L1810.3,203.2 L1810.1,204.2 L1810.0,205.2 L1809.8,206.2 L1809.7,207.2 L1809.6,208.2 L1809.5,209.2 L1809.4,210.2 L1809.3,211.2 L1809.2,212.2 L1809.1,213.2 L1809.1,214.2 L1809.0,215.2 L1809.0,216.2 L1809.0,217.2 L1809.0,218.2 L1809.0,219.2 L1809.0,220.2 L1809.0,221.2 L1809.0,222.2 L1809.0,223.2 L1809.0,224.2 L1809.0,225.2 L1809.0,226.2 L1809.0,227.2 L1809.0,228.2 L1809.1,229.2 L1809.1,230.2 L1809.1,231.2 L1809.1,232.2 L1809.1,233.2 L1809.1,234.2 L1809.1,235.2 L1809.2,236.2 L1809.2,237.2 L1809.2,238.2 L1809.2,239.2 L1809.2,240.2 L1809.3,241.2 L1809.3,242.2 L1809.3,243.2 L1809.3,244.2 L1809.4,245.2 L1809.5,246.2 L1809.7,247.2 L1809.9,248.2 L1810.1,249.2 L1810.3,250.2 L1810.6,251.2 L1810.8,252.2 L1811.1,253.2 L1811.4,254.2 L1811.7,255.2 L1812.1,256.2 L1812.6,257.2 L1813.0,258.2 L1813.6,259.2 L1814.2,260.2 L1814.8,261.2 L1815.4,262.2 L1816.1,263.2 L1816.8,264.2 L1817.4,265.2 L1818.2,266.2 L1819.0,267.2 L1819.8,268.2 L1820.7,269.2 L1821.6,270.2 L1822.6,271.2 L1823.6,272.2 L1824.6,273.2 L1825.6,274.2 L1826.5,275.2 L1827.5,276.2 L1828.4,277.2 L1829.3,278.2 L1830.1,279.2 L1831.0,280.2 L1831.8,281.2 L1832.6,282.2 L1833.5,283.2 L1834.3,284.2 L1835.1,285.2 L1835.9,286.2 L1836.7,287.2 L1837.5,288.2 L1838.3,289.2 L1839.1,290.2 L1840.0,291.2 L1840.8,292.2 L1841.6,293.2 L1842.5,294.2 L1843.4,295.2 L1844.2,296.2 L1845.1,297.2 L1845.9,298.2 L1846.8,299.2 L1847.6,300.2 L1848.4,301.2 L1849.2,302.2 L1850.0,303.2 L1850.7,304.2 L1851.5,305.2 L1852.2,306.2 L1853.0,307.2 L1853.7,308.2 L1854.5,309.2 L1855.2,310.2 L1855.9,311.2 L1856.5,312.2 L1857.2,313.2 L1857.8,314.2 L1858.4,315.2 L1858.9,316.2 L1859.4,317.2 L1859.9,318.2 L1860.3,319.2 L1860.8,320.2 L1861.2,321.2 L1861.7,322.2 L1862.1,323.2 L1862.4,324.2 L1862.8,325.2 L1863.1,326.2 L1863.4,327.2 L1863.7,328.2 L1863.9,329.2 L1864.1,330.2 L1864.3,331.2 L1864.5,332.2 L1864.7,333.2 L1864.8,334.2 L1865.0,335.2 L1865.1,336.2 L1865.2,337.2 L1865.2,338.2 L1865.2,339.2 L1865.1,340.2 L1865.0,341.2 L1864.9,342.2 L1864.6,343.2 L1864.4,344.2 L1864.1,345.2 L1863.8,346.2 L1863.5,347.2 L1863.2,348.2 L1862.9,349.2 L1862.6,350.2 L1862.1,351.2 L1861.6,352.2 L1861.1,353.2 L1860.4,354.2 L1859.8,355.2 L1859.1,356.2 L1858.4,357.2 L1857.7,358.2 L1857.0,359.2 L1856.3,360.2 L1855.6,361.2 L1855.0,362.2 L1854.4,363.2 L1853.8,364.2 L1853.2,365.2 L1852.7,366.2 L1852.1,367.2 L1851.5,368.2 L1851.0,369.2 L1850.4,370.2 L1849.9,371.2 L1849.3,372.2 L1848.8,373.2 L1848.2,374.2 L1847.7,375.2 L1847.1,376.2 L1846.6,377.2 L1846.0,378.2 L1845.5,379.2 L1844.9,380.2 L1844.3,381.2 L1843.8,382.2 L1843.2,383.2 L1842.6,384.2 L1842.1,385.2 L1841.5,386.2 L1840.9,387.2 L1840.4,388.2 L1839.8,389.2 L1839.3,390.2 L1838.8,391.2 L1838.2,392.2 L1837.7,393.2 L1837.2,394.2 L1836.7,395.2 L1836.2,396.2 L1835.7,397.2 L1835.2,398.2 L1834.8,399.2 L1834.3,400.2 L1833.8,401.2 L1833.4,402.2 L1832.9,403.2 L1832.5,404.2 L1832.1,405.2 L1831.6,406.2 L1831.2,407.2 L1830.8,408.2 L1830.4,409.2 L1830.0,410.2 L1829.8,410.6 L1785.8,410.6 L1785.6,410.2 L1785.2,409.2 L1784.8,408.2 L1784.4,407.2 L1784.0,406.2 L1783.5,405.2 L1783.1,404.2 L1782.7,403.2 L1782.2,402.2 L1781.8,401.2 L1781.3,400.2 L1780.8,399.2 L1780.4,398.2 L1779.9,397.2 L1779.4,396.2 L1778.9,395.2 L1778.4,394.2 L1777.9,393.2 L1777.4,392.2 L1776.8,391.2 L1776.3,390.2 L1775.8,389.2 L1775.2,388.2 L1774.7,387.2 L1774.1,386.2 L1773.5,385.2 L1773.0,384.2 L1772.4,383.2 L1771.8,382.2 L1771.3,381.2 L1770.7,380.2 L1770.1,379.2 L1769.6,378.2 L1769.0,377.2 L1768.5,376.2 L1767.9,375.2 L1767.4,374.2 L1766.8,373.2 L1766.3,372.2 L1765.7,371.2 L1765.2,370.2 L1764.6,369.2 L1764.1,368.2 L1763.5,367.2 L1762.9,366.2 L1762.4,365.2 L1761.8,364.2 L1761.2,363.2 L1760.6,362.2 L1760.0,361.2 L1759.3,360.2 L1758.6,359.2 L1757.9,358.2 L1757.2,357.2 L1756.5,356.2 L1755.8,355.2 L1755.2,354.2 L1754.5,353.2 L1754.0,352.2 L1753.5,351.2 L1753.0,350.2 L1752.7,349.2 L1752.4,348.2 L1752.1,347.2 L1751.8,346.2 L1751.5,345.2 L1751.2,344.2 L1751.0,343.2 L1750.7,342.2 L1750.6,341.2 L1750.5,340.2 L1750.4,339.2 L1750.4,338.2 L1750.4,337.2 L1750.5,336.2 L1750.6,335.2 L1750.8,334.2 L1750.9,333.2 L1751.1,332.2 L1751.3,331.2 L1751.5,330.2 L1751.7,329.2 L1751.9,328.2 L1752.2,327.2 L1752.5,326.2 L1752.8,325.2 L1753.2,324.2 L1753.5,323.2 L1753.9,322.2 L1754.4,321.2 L1754.8,320.2 L1755.3,319.2 L1755.7,318.2 L1756.2,317.2 L1756.7,316.2 L1757.2,315.2 L1757.8,314.2 L1758.4,313.2 L1759.1,312.2 L1759.7,311.2 L1760.4,310.2 L1761.1,309.2 L1761.9,308.2 L1762.6,307.2 L1763.4,306.2 L1764.1,305.2 L1764.9,304.2 L1765.6,303.2 L1766.4,302.2 L1767.2,301.2 L1768.0,300.2 L1768.8,299.2 L1769.7,298.2 L1770.5,297.2 L1771.4,296.2 L1772.2,295.2 L1773.1,294.2 L1774.0,293.2 L1774.8,292.2 L1775.6,291.2 L1776.5,290.2 L1777.3,289.2 L1778.1,288.2 L1778.9,287.2 L1779.7,286.2 L1780.5,285.2 L1781.3,284.2 L1782.1,283.2 L1783.0,282.2 L1783.8,281.2 L1784.6,280.2 L1785.5,279.2 L1786.3,278.2 L1787.2,277.2 L1788.1,276.2 L1789.1,275.2 L1790.0,274.2 L1791.0,273.2 L1792.0,272.2 L1793.0,271.2 L1794.0,270.2 L1794.9,269.2 L1795.8,268.2 L1796.6,267.2 L1797.4,266.2 L1798.2,265.2 L1798.8,264.2 L1799.5,263.2 L1800.2,262.2 L1800.8,261.2 L1801.4,260.2 L1802.0,259.2 L1802.6,258.2 L1803.0,257.2 L1803.5,256.2 L1803.9,255.2 L1804.2,254.2 L1804.5,253.2 L1804.8,252.2 L1805.0,251.2 L1805.3,250.2 L1805.5,249.2 L1805.7,248.2 L1805.9,247.2 L1806.1,246.2 L1806.2,245.2 L1806.3,244.2 L1806.3,243.2 L1806.3,242.2 L1806.3,241.2 L1806.4,240.2 L1806.4,239.2 L1806.4,238.2 L1806.4,237.2 L1806.4,236.2 L1806.5,235.2 L1806.5,234.2 L1806.5,233.2 L1806.5,232.2 L1806.5,231.2 L1806.5,230.2 L1806.5,229.2 L1806.6,228.2 L1806.6,227.2 L1806.6,226.2 L1806.6,225.2 L1806.6,224.2 L1806.6,223.2 L1806.6,222.2 L1806.6,221.2 L1806.6,220.2 L1806.6,219.2 L1806.6,218.2 L1806.6,217.2 L1806.6,216.2 L1806.6,215.2 L1806.5,214.2 L1806.5,213.2 L1806.4,212.2 L1806.3,211.2 L1806.2,210.2 L1806.1,209.2 L1806.0,208.2 L1805.9,207.2 L1805.8,206.2 L1805.6,205.2 L1805.5,204.2 L1805.3,203.2 L1805.2,202.2 L1805.1,201.2 L1804.9,200.2 L1804.8,199.2 L1804.6,198.2 L1804.4,197.2 L1804.2,196.2 L1804.0,195.2 L1803.7,194.2 L1803.5,193.2 L1803.2,192.2 L1802.9,191.2 L1802.6,190.2 L1802.4,189.2 L1802.1,188.2 L1801.8,187.2 L1801.5,186.2 L1801.2,185.2 L1800.9,184.2 L1800.6,183.2 L1800.4,182.2 L1800.1,181.2 L1799.9,180.2 L1799.7,179.2 L1799.5,178.2 L1799.3,177.2 L1799.1,176.2 L1798.9,175.2 L1798.8,174.2 L1798.6,173.2 L1798.4,172.2 L1798.3,171.2 L1798.1,170.2 L1797.9,169.2 L1797.8,168.2 L1797.6,167.2 L1797.5,166.2 L1797.3,165.2 L1797.2,164.2 L1797.0,163.2 L1796.9,162.2 L1796.8,161.2 L1796.6,160.2 L1796.5,159.2 L1796.4,158.2 L1796.3,157.2 L1796.1,156.2 L1796.0,155.2 L1795.9,154.2 L1795.8,153.2 L1795.7,152.2 L1795.5,151.2 L1795.4,150.2 L1795.3,149.2 L1795.2,148.2 L1795.1,147.2 L1795.0,146.2 L1794.8,145.2 L1794.7,144.2 L1794.6,143.2 L1794.5,142.2 L1794.5,141.2 L1794.4,140.2 L1794.3,139.2 L1794.2,138.2 L1794.1,137.2 L1794.1,136.2 L1794.0,135.2 L1794.0,134.2 L1793.9,133.2 L1793.8,132.2 L1793.8,131.2 L1793.7,130.2 L1793.7,129.2 L1793.6,128.2 L1793.6,127.2 L1793.5,126.2 L1793.5,125.2 L1793.5,124.2 L1793.4,123.2 L1793.4,122.2 L1793.3,121.2 L1793.3,120.2 L1793.3,119.2 L1793.3,118.2 L1793.2,117.2 L1793.2,116.2 L1793.2,115.2 L1793.2,114.2 L1793.2,113.2 L1793.2,112.2 L1793.3,111.2 L1793.4,110.2 L1793.5,109.2 L1793.7,108.2 L1793.9,107.2 L1794.2,106.2 L1794.4,105.2 L1794.7,104.2 L1795.0,103.2 L1795.3,102.2 L1795.6,101.2 L1795.9,100.2 L1796.3,99.2 L1796.6,98.2Z" fill="#2EB668" stroke="#363636" stroke-width="4.6" stroke-linejoin="round"/>
<rect x="1776.8" y="329.0" width="62" height="10.7" fill="#000"/>
<circle cx="1776.8" cy="334.4" r="2.3" fill="#000"/><circle cx="1838.8" cy="334.4" r="2.3" fill="#000"/>
<path d="M1939.4,175.1 L1939.6,176.1 L1939.9,177.1 L1940.1,178.1 L1940.4,179.1 L1940.7,180.1 L1941.1,181.1 L1941.4,182.1 L1941.8,183.1 L1942.2,184.1 L1942.6,185.1 L1943.0,186.1 L1943.4,187.1 L1943.9,188.1 L1944.4,189.1 L1945.0,190.1 L1945.5,191.1 L1946.2,192.1 L1946.8,193.1 L1947.4,194.1 L1948.1,195.1 L1948.8,196.1 L1949.5,197.1 L1950.1,198.1 L1950.8,199.1 L1951.5,200.1 L1952.1,201.1 L1952.8,202.1 L1953.5,203.1 L1954.2,204.1 L1954.8,205.1 L1955.5,206.1 L1956.2,207.1 L1957.0,208.1 L1957.7,209.1 L1958.4,210.1 L1959.1,211.1 L1959.8,212.1 L1960.5,213.1 L1961.2,214.1 L1961.8,215.1 L1962.5,216.1 L1963.2,217.1 L1963.8,218.1 L1964.5,219.1 L1965.1,220.1 L1965.8,221.1 L1966.4,222.1 L1967.0,223.1 L1967.6,224.1 L1968.3,225.1 L1968.9,226.1 L1969.5,227.1 L1970.1,228.1 L1970.7,229.1 L1971.3,230.1 L1971.9,231.1 L1972.6,232.1 L1973.1,233.1 L1973.7,234.1 L1974.3,235.1 L1974.9,236.1 L1975.5,237.1 L1976.2,238.1 L1976.8,239.1 L1977.4,240.1 L1978.0,241.1 L1978.6,242.1 L1979.2,243.1 L1979.8,244.1 L1980.4,245.1 L1981.0,246.1 L1981.5,247.1 L1982.1,248.1 L1982.6,249.1 L1983.1,250.1 L1983.5,251.1 L1983.9,252.1 L1984.4,253.1 L1984.8,254.1 L1985.2,255.1 L1985.6,256.1 L1985.9,257.1 L1986.3,258.1 L1986.6,259.1 L1987.0,260.1 L1987.3,261.1 L1987.6,262.1 L1987.8,263.1 L1988.0,264.1 L1988.2,265.1 L1988.4,266.1 L1988.6,267.1 L1988.7,268.1 L1988.9,269.1 L1989.0,270.1 L1989.2,271.1 L1989.3,272.1 L1989.3,273.1 L1989.4,274.1 L1989.4,275.1 L1989.4,276.1 L1989.3,277.1 L1989.1,278.1 L1988.9,279.1 L1988.7,280.1 L1988.4,281.1 L1988.2,282.1 L1987.9,283.1 L1987.6,284.1 L1987.3,285.1 L1987.0,286.1 L1986.7,287.1 L1986.3,288.1 L1985.9,289.1 L1985.5,290.1 L1985.0,291.1 L1984.5,292.1 L1983.9,293.1 L1983.4,294.1 L1982.9,295.1 L1982.4,296.1 L1981.9,297.1 L1981.5,298.1 L1981.1,299.1 L1980.8,300.1 L1980.5,301.1 L1980.2,302.1 L1979.9,303.1 L1979.7,304.1 L1979.4,305.1 L1979.2,306.1 L1978.9,307.1 L1978.7,308.1 L1978.5,309.1 L1978.3,310.1 L1978.1,311.1 L1977.8,312.1 L1977.6,313.1 L1977.4,314.1 L1977.2,315.1 L1977.0,316.1 L1976.8,317.1 L1976.6,318.1 L1976.4,319.1 L1976.2,320.1 L1976.0,321.1 L1975.8,322.1 L1975.5,323.1 L1975.3,324.1 L1975.1,325.1 L1974.8,326.1 L1974.5,327.1 L1974.2,328.1 L1973.9,329.1 L1973.6,330.1 L1973.3,331.1 L1973.0,332.1 L1972.7,333.1 L1972.3,334.1 L1972.0,335.1 L1971.6,336.1 L1971.2,337.1 L1970.8,338.1 L1970.4,339.1 L1970.0,340.1 L1969.6,341.1 L1969.1,342.1 L1968.6,343.1 L1968.1,344.1 L1967.5,345.1 L1967.0,346.1 L1966.5,347.1 L1965.9,348.1 L1965.4,349.1 L1964.9,350.1 L1964.4,351.1 L1963.9,352.1 L1963.4,353.1 L1963.0,354.1 L1962.5,355.1 L1962.0,356.1 L1961.6,357.1 L1961.1,358.1 L1960.6,359.1 L1960.2,360.1 L1959.7,361.1 L1959.3,362.1 L1958.8,363.1 L1958.4,364.1 L1957.9,365.1 L1957.5,366.1 L1957.0,367.1 L1956.5,368.1 L1956.1,369.1 L1955.6,370.1 L1955.2,371.1 L1954.7,372.1 L1954.3,373.1 L1953.9,374.1 L1953.4,375.1 L1953.0,376.1 L1952.6,377.1 L1952.2,378.1 L1951.9,379.1 L1951.5,380.1 L1951.2,381.1 L1950.8,382.1 L1950.5,383.1 L1950.2,384.1 L1949.8,385.1 L1949.5,386.1 L1949.2,387.1 L1948.9,388.1 L1948.6,389.1 L1948.3,390.1 L1948.0,391.1 L1947.7,392.1 L1947.4,393.1 L1947.1,394.1 L1946.8,395.1 L1946.5,396.1 L1946.3,397.1 L1946.0,398.1 L1945.7,399.1 L1945.5,400.1 L1945.2,401.1 L1944.9,402.1 L1944.7,403.1 L1944.4,404.1 L1944.2,405.1 L1944.0,406.1 L1943.7,407.1 L1943.5,408.1 L1943.4,408.5 L1921.4,408.5 L1921.3,408.1 L1921.1,407.1 L1920.8,406.1 L1920.6,405.1 L1920.4,404.1 L1920.1,403.1 L1919.9,402.1 L1919.6,401.1 L1919.3,400.1 L1919.1,399.1 L1918.8,398.1 L1918.5,397.1 L1918.3,396.1 L1918.0,395.1 L1917.7,394.1 L1917.4,393.1 L1917.1,392.1 L1916.8,391.1 L1916.5,390.1 L1916.2,389.1 L1915.9,388.1 L1915.6,387.1 L1915.3,386.1 L1915.0,385.1 L1914.6,384.1 L1914.3,383.1 L1914.0,382.1 L1913.6,381.1 L1913.3,380.1 L1912.9,379.1 L1912.6,378.1 L1912.2,377.1 L1911.8,376.1 L1911.4,375.1 L1910.9,374.1 L1910.5,373.1 L1910.1,372.1 L1909.6,371.1 L1909.2,370.1 L1908.7,369.1 L1908.3,368.1 L1907.8,367.1 L1907.3,366.1 L1906.9,365.1 L1906.4,364.1 L1906.0,363.1 L1905.5,362.1 L1905.1,361.1 L1904.6,360.1 L1904.2,359.1 L1903.7,358.1 L1903.2,357.1 L1902.8,356.1 L1902.3,355.1 L1901.8,354.1 L1901.4,353.1 L1900.9,352.1 L1900.4,351.1 L1899.9,350.1 L1899.4,349.1 L1898.9,348.1 L1898.3,347.1 L1897.8,346.1 L1897.3,345.1 L1896.7,344.1 L1896.2,343.1 L1895.7,342.1 L1895.2,341.1 L1894.8,340.1 L1894.4,339.1 L1894.0,338.1 L1893.6,337.1 L1893.2,336.1 L1892.8,335.1 L1892.5,334.1 L1892.1,333.1 L1891.8,332.1 L1891.5,331.1 L1891.2,330.1 L1890.9,329.1 L1890.6,328.1 L1890.3,327.1 L1890.0,326.1 L1889.7,325.1 L1889.5,324.1 L1889.3,323.1 L1889.0,322.1 L1888.8,321.1 L1888.6,320.1 L1888.4,319.1 L1888.2,318.1 L1888.0,317.1 L1887.8,316.1 L1887.6,315.1 L1887.4,314.1 L1887.2,313.1 L1887.0,312.1 L1886.7,311.1 L1886.5,310.1 L1886.3,309.1 L1886.1,308.1 L1885.9,307.1 L1885.6,306.1 L1885.4,305.1 L1885.1,304.1 L1884.9,303.1 L1884.6,302.1 L1884.3,301.1 L1884.0,300.1 L1883.7,299.1 L1883.3,298.1 L1882.9,297.1 L1882.4,296.1 L1881.9,295.1 L1881.4,294.1 L1880.9,293.1 L1880.3,292.1 L1879.8,291.1 L1879.3,290.1 L1878.9,289.1 L1878.5,288.1 L1878.1,287.1 L1877.8,286.1 L1877.5,285.1 L1877.2,284.1 L1876.9,283.1 L1876.6,282.1 L1876.4,281.1 L1876.1,280.1 L1875.9,279.1 L1875.7,278.1 L1875.5,277.1 L1875.4,276.1 L1875.4,275.1 L1875.4,274.1 L1875.5,273.1 L1875.5,272.1 L1875.6,271.1 L1875.8,270.1 L1875.9,269.1 L1876.1,268.1 L1876.2,267.1 L1876.4,266.1 L1876.6,265.1 L1876.8,264.1 L1877.0,263.1 L1877.2,262.1 L1877.5,261.1 L1877.8,260.1 L1878.2,259.1 L1878.5,258.1 L1878.9,257.1 L1879.2,256.1 L1879.6,255.1 L1880.0,254.1 L1880.4,253.1 L1880.9,252.1 L1881.3,251.1 L1881.7,250.1 L1882.2,249.1 L1882.7,248.1 L1883.3,247.1 L1883.8,246.1 L1884.4,245.1 L1885.0,244.1 L1885.6,243.1 L1886.2,242.1 L1886.8,241.1 L1887.4,240.1 L1888.0,239.1 L1888.6,238.1 L1889.3,237.1 L1889.9,236.1 L1890.5,235.1 L1891.1,234.1 L1891.7,233.1 L1892.2,232.1 L1892.9,231.1 L1893.5,230.1 L1894.1,229.1 L1894.7,228.1 L1895.3,227.1 L1895.9,226.1 L1896.5,225.1 L1897.2,224.1 L1897.8,223.1 L1898.4,222.1 L1899.0,221.1 L1899.7,220.1 L1900.3,219.1 L1901.0,218.1 L1901.6,217.1 L1902.3,216.1 L1903.0,215.1 L1903.6,214.1 L1904.3,213.1 L1905.0,212.1 L1905.7,211.1 L1906.4,210.1 L1907.1,209.1 L1907.8,208.1 L1908.6,207.1 L1909.3,206.1 L1910.0,205.1 L1910.6,204.1 L1911.3,203.1 L1912.0,202.1 L1912.7,201.1 L1913.3,200.1 L1914.0,199.1 L1914.7,198.1 L1915.3,197.1 L1916.0,196.1 L1916.7,195.1 L1917.4,194.1 L1918.0,193.1 L1918.6,192.1 L1919.3,191.1 L1919.8,190.1 L1920.4,189.1 L1920.9,188.1 L1921.4,187.1 L1921.8,186.1 L1922.2,185.1 L1922.6,184.1 L1923.0,183.1 L1923.4,182.1 L1923.7,181.1 L1924.1,180.1 L1924.4,179.1 L1924.7,178.1 L1924.9,177.1 L1925.2,176.1 L1925.4,175.1Z" fill="#1FBEC3" stroke="#363636" stroke-width="4.6" stroke-linejoin="round"/>
<rect x="1901.4" y="280.9" width="62" height="10.7" fill="#000"/>
<circle cx="1901.4" cy="286.3" r="2.3" fill="#000"/><circle cx="1963.4" cy="286.3" r="2.3" fill="#000"/>
<path d="M2104.2,118.1 L2104.5,119.1 L2104.9,120.1 L2105.2,121.1 L2105.5,122.1 L2105.8,123.1 L2106.1,124.1 L2106.3,125.1 L2106.6,126.1 L2106.8,127.1 L2107.0,128.1 L2107.2,129.1 L2107.4,130.1 L2107.5,131.1 L2107.7,132.1 L2107.7,133.1 L2107.8,134.1 L2107.8,135.1 L2107.8,136.1 L2107.8,137.1 L2107.8,138.1 L2107.8,139.1 L2107.8,140.1 L2107.8,141.1 L2107.8,142.1 L2107.8,143.1 L2107.8,144.1 L2107.8,145.1 L2107.8,146.1 L2107.8,147.1 L2107.8,148.1 L2107.8,149.1 L2107.7,150.1 L2107.7,151.1 L2107.6,152.1 L2107.5,153.1 L2107.3,154.1 L2107.2,155.1 L2107.0,156.1 L2106.8,157.1 L2106.6,158.1 L2106.4,159.1 L2106.2,160.1 L2106.0,161.1 L2105.8,162.1 L2105.6,163.1 L2105.4,164.1 L2105.1,165.1 L2104.9,166.1 L2104.7,167.1 L2104.4,168.1 L2104.1,169.1 L2103.8,170.1 L2103.5,171.1 L2103.2,172.1 L2102.8,173.1 L2102.5,174.1 L2102.1,175.1 L2101.7,176.1 L2101.3,177.1 L2100.9,178.1 L2100.5,179.1 L2100.1,180.1 L2099.7,181.1 L2099.3,182.1 L2098.9,183.1 L2098.5,184.1 L2098.1,185.1 L2097.7,186.1 L2097.4,187.1 L2097.0,188.1 L2096.6,189.1 L2096.2,190.1 L2095.8,191.1 L2095.4,192.1 L2095.0,193.1 L2094.6,194.1 L2094.2,195.1 L2093.8,196.1 L2093.4,197.1 L2093.0,198.1 L2092.6,199.1 L2092.2,200.1 L2091.8,201.1 L2091.4,202.1 L2091.0,203.1 L2090.6,204.1 L2090.2,205.1 L2089.8,206.1 L2089.4,207.1 L2089.0,208.1 L2088.7,209.1 L2088.3,210.1 L2087.9,211.1 L2087.5,212.1 L2087.2,213.1 L2086.8,214.1 L2086.4,215.1 L2086.1,216.1 L2085.7,217.1 L2085.3,218.1 L2085.0,219.1 L2084.6,220.1 L2084.3,221.1 L2083.9,222.1 L2083.6,223.1 L2083.2,224.1 L2082.9,225.1 L2082.6,226.1 L2082.3,227.1 L2082.0,228.1 L2081.7,229.1 L2081.5,230.1 L2081.2,231.1 L2080.9,232.1 L2080.7,233.1 L2080.4,234.1 L2080.1,235.1 L2079.9,236.1 L2079.6,237.1 L2079.4,238.1 L2079.1,239.1 L2078.9,240.1 L2078.7,241.1 L2078.4,242.1 L2078.2,243.1 L2078.0,244.1 L2077.8,245.1 L2077.6,246.1 L2077.4,247.1 L2077.3,248.1 L2077.1,249.1 L2076.9,250.1 L2076.8,251.1 L2076.7,252.1 L2076.6,253.1 L2076.5,254.1 L2076.3,255.1 L2076.2,256.1 L2076.1,257.1 L2076.0,258.1 L2075.9,259.1 L2075.8,260.1 L2075.7,261.1 L2075.6,262.1 L2075.5,263.1 L2075.5,264.1 L2075.4,265.1 L2075.4,266.1 L2075.3,267.1 L2075.3,268.1 L2075.3,269.1 L2075.3,270.1 L2075.3,271.1 L2075.3,272.1 L2075.4,273.1 L2075.4,274.1 L2075.5,275.1 L2075.6,276.1 L2075.6,277.1 L2075.7,278.1 L2075.8,279.1 L2075.9,280.1 L2076.0,281.1 L2076.1,282.1 L2076.2,283.1 L2076.3,284.1 L2076.4,285.1 L2076.5,286.1 L2076.6,287.1 L2076.8,288.1 L2076.9,289.1 L2077.1,290.1 L2077.3,291.1 L2077.4,292.1 L2077.7,293.1 L2077.9,294.1 L2078.1,295.1 L2078.3,296.1 L2078.6,297.1 L2078.8,298.1 L2079.1,299.1 L2079.3,300.1 L2079.6,301.1 L2079.9,302.1 L2080.2,303.1 L2080.4,304.1 L2080.7,305.1 L2081.0,306.1 L2081.3,307.1 L2081.7,308.1 L2082.0,309.1 L2082.4,310.1 L2082.7,311.1 L2083.1,312.1 L2083.5,313.1 L2083.9,314.1 L2084.2,315.1 L2084.6,316.1 L2085.0,317.1 L2085.4,318.1 L2085.8,319.1 L2086.2,320.1 L2086.6,321.1 L2087.0,322.1 L2087.4,323.1 L2087.8,324.1 L2088.2,325.1 L2088.6,326.1 L2089.0,327.1 L2089.4,328.1 L2089.9,329.1 L2090.3,330.1 L2090.7,331.1 L2091.1,332.1 L2091.6,333.1 L2092.0,334.1 L2092.4,335.1 L2092.9,336.1 L2093.3,337.1 L2093.7,338.1 L2094.2,339.1 L2094.6,340.1 L2095.1,341.1 L2095.5,342.1 L2096.0,343.1 L2096.5,344.1 L2096.9,345.1 L2097.4,346.1 L2097.9,347.1 L2098.3,348.1 L2098.8,349.1 L2099.3,350.1 L2099.8,351.1 L2100.2,352.1 L2100.7,353.1 L2101.1,354.1 L2101.6,355.1 L2102.0,356.1 L2102.5,357.1 L2102.9,358.1 L2103.4,359.1 L2103.9,360.1 L2104.3,361.1 L2104.8,362.1 L2105.3,363.1 L2105.7,364.1 L2106.2,365.1 L2106.6,366.1 L2107.0,367.1 L2107.5,368.1 L2107.9,369.1 L2108.2,370.1 L2108.6,371.1 L2109.0,372.1 L2109.3,373.1 L2109.6,374.1 L2109.9,375.1 L2110.2,376.1 L2110.5,377.1 L2110.8,378.1 L2111.1,379.1 L2111.4,380.1 L2111.6,381.1 L2111.9,382.1 L2112.1,383.1 L2112.3,384.1 L2112.5,385.1 L2112.7,386.1 L2112.8,387.1 L2112.9,388.1 L2113.1,389.1 L2113.2,390.1 L2113.4,391.1 L2113.5,392.1 L2113.6,393.1 L2113.7,394.1 L2113.8,395.1 L2113.9,396.1 L2113.9,397.1 L2114.0,398.1 L2114.0,399.1 L2114.0,400.1 L2114.0,401.1 L2114.0,402.1 L2114.0,403.1 L2114.0,404.1 L2114.0,405.1 L2113.9,406.1 L2113.9,407.1 L2113.9,408.1 L2113.8,409.1 L2113.8,410.1 L2113.7,411.1 L2113.7,412.1 L2113.6,413.1 L2113.5,414.1 L2113.4,415.1 L2113.3,416.1 L2113.2,416.7 L2001.6,416.7 L2001.5,416.1 L2001.4,415.1 L2001.3,414.1 L2001.2,413.1 L2001.1,412.1 L2001.1,411.1 L2001.0,410.1 L2001.0,409.1 L2000.9,408.1 L2000.9,407.1 L2000.9,406.1 L2000.8,405.1 L2000.8,404.1 L2000.8,403.1 L2000.8,402.1 L2000.8,401.1 L2000.8,400.1 L2000.8,399.1 L2000.8,398.1 L2000.9,397.1 L2000.9,396.1 L2001.0,395.1 L2001.1,394.1 L2001.2,393.1 L2001.3,392.1 L2001.4,391.1 L2001.6,390.1 L2001.7,389.1 L2001.9,388.1 L2002.0,387.1 L2002.1,386.1 L2002.3,385.1 L2002.5,384.1 L2002.7,383.1 L2002.9,382.1 L2003.2,381.1 L2003.4,380.1 L2003.7,379.1 L2004.0,378.1 L2004.3,377.1 L2004.6,376.1 L2004.9,375.1 L2005.2,374.1 L2005.5,373.1 L2005.8,372.1 L2006.2,371.1 L2006.6,370.1 L2006.9,369.1 L2007.3,368.1 L2007.8,367.1 L2008.2,366.1 L2008.6,365.1 L2009.1,364.1 L2009.5,363.1 L2010.0,362.1 L2010.5,361.1 L2010.9,360.1 L2011.4,359.1 L2011.9,358.1 L2012.3,357.1 L2012.8,356.1 L2013.2,355.1 L2013.7,354.1 L2014.1,353.1 L2014.6,352.1 L2015.0,351.1 L2015.5,350.1 L2016.0,349.1 L2016.5,348.1 L2016.9,347.1 L2017.4,346.1 L2017.9,345.1 L2018.3,344.1 L2018.8,343.1 L2019.3,342.1 L2019.7,341.1 L2020.2,340.1 L2020.6,339.1 L2021.1,338.1 L2021.5,337.1 L2021.9,336.1 L2022.4,335.1 L2022.8,334.1 L2023.2,333.1 L2023.7,332.1 L2024.1,331.1 L2024.5,330.1 L2024.9,329.1 L2025.4,328.1 L2025.8,327.1 L2026.2,326.1 L2026.6,325.1 L2027.0,324.1 L2027.4,323.1 L2027.8,322.1 L2028.2,321.1 L2028.6,320.1 L2029.0,319.1 L2029.4,318.1 L2029.8,317.1 L2030.2,316.1 L2030.6,315.1 L2030.9,314.1 L2031.3,313.1 L2031.7,312.1 L2032.1,311.1 L2032.4,310.1 L2032.8,309.1 L2033.1,308.1 L2033.5,307.1 L2033.8,306.1 L2034.1,305.1 L2034.4,304.1 L2034.6,303.1 L2034.9,302.1 L2035.2,301.1 L2035.5,300.1 L2035.7,299.1 L2036.0,298.1 L2036.2,297.1 L2036.5,296.1 L2036.7,295.1 L2036.9,294.1 L2037.1,293.1 L2037.4,292.1 L2037.5,291.1 L2037.7,290.1 L2037.9,289.1 L2038.0,288.1 L2038.2,287.1 L2038.3,286.1 L2038.4,285.1 L2038.5,284.1 L2038.6,283.1 L2038.7,282.1 L2038.8,281.1 L2038.9,280.1 L2039.0,279.1 L2039.1,278.1 L2039.2,277.1 L2039.2,276.1 L2039.3,275.1 L2039.4,274.1 L2039.4,273.1 L2039.5,272.1 L2039.5,271.1 L2039.5,270.1 L2039.5,269.1 L2039.5,268.1 L2039.5,267.1 L2039.4,266.1 L2039.4,265.1 L2039.3,264.1 L2039.3,263.1 L2039.2,262.1 L2039.1,261.1 L2039.0,260.1 L2038.9,259.1 L2038.8,258.1 L2038.7,257.1 L2038.6,256.1 L2038.5,255.1 L2038.3,254.1 L2038.2,253.1 L2038.1,252.1 L2038.0,251.1 L2037.9,250.1 L2037.7,249.1 L2037.5,248.1 L2037.4,247.1 L2037.2,246.1 L2037.0,245.1 L2036.8,244.1 L2036.6,243.1 L2036.4,242.1 L2036.1,241.1 L2035.9,240.1 L2035.7,239.1 L2035.4,238.1 L2035.2,237.1 L2034.9,236.1 L2034.7,235.1 L2034.4,234.1 L2034.1,233.1 L2033.9,232.1 L2033.6,231.1 L2033.3,230.1 L2033.1,229.1 L2032.8,228.1 L2032.5,227.1 L2032.2,226.1 L2031.9,225.1 L2031.6,224.1 L2031.2,223.1 L2030.9,222.1 L2030.5,221.1 L2030.2,220.1 L2029.8,219.1 L2029.5,218.1 L2029.1,217.1 L2028.7,216.1 L2028.4,215.1 L2028.0,214.1 L2027.6,213.1 L2027.3,212.1 L2026.9,211.1 L2026.5,210.1 L2026.1,209.1 L2025.8,208.1 L2025.4,207.1 L2025.0,206.1 L2024.6,205.1 L2024.2,204.1 L2023.8,203.1 L2023.4,202.1 L2023.0,201.1 L2022.6,200.1 L2022.2,199.1 L2021.8,198.1 L2021.4,197.1 L2021.0,196.1 L2020.6,195.1 L2020.2,194.1 L2019.8,193.1 L2019.4,192.1 L2019.0,191.1 L2018.6,190.1 L2018.2,189.1 L2017.8,188.1 L2017.4,187.1 L2017.1,186.1 L2016.7,185.1 L2016.3,184.1 L2015.9,183.1 L2015.5,182.1 L2015.1,181.1 L2014.7,180.1 L2014.3,179.1 L2013.9,178.1 L2013.5,177.1 L2013.1,176.1 L2012.7,175.1 L2012.3,174.1 L2012.0,173.1 L2011.6,172.1 L2011.3,171.1 L2011.0,170.1 L2010.7,169.1 L2010.4,168.1 L2010.1,167.1 L2009.9,166.1 L2009.7,165.1 L2009.4,164.1 L2009.2,163.1 L2009.0,162.1 L2008.8,161.1 L2008.6,160.1 L2008.4,159.1 L2008.2,158.1 L2008.0,157.1 L2007.8,156.1 L2007.6,155.1 L2007.5,154.1 L2007.3,153.1 L2007.2,152.1 L2007.1,151.1 L2007.1,150.1 L2007.0,149.1 L2007.0,148.1 L2007.0,147.1 L2007.0,146.1 L2007.0,145.1 L2007.0,144.1 L2007.0,143.1 L2007.0,142.1 L2007.0,141.1 L2007.0,140.1 L2007.0,139.1 L2007.0,138.1 L2007.0,137.1 L2007.0,136.1 L2007.0,135.1 L2007.0,134.1 L2007.1,133.1 L2007.1,132.1 L2007.3,131.1 L2007.4,130.1 L2007.6,129.1 L2007.8,128.1 L2008.0,127.1 L2008.2,126.1 L2008.5,125.1 L2008.7,124.1 L2009.0,123.1 L2009.3,122.1 L2009.6,121.1 L2009.9,120.1 L2010.3,119.1 L2010.6,118.1Z" fill="#4A9FDA" stroke="#363636" stroke-width="4.6" stroke-linejoin="round"/>
<rect x="2026.4" y="342.0" width="62" height="10.7" fill="#000"/>
<circle cx="2026.4" cy="347.4" r="2.3" fill="#000"/><circle cx="2088.4" cy="347.4" r="2.3" fill="#000"/>
<path d="M2182.0,98.2 L2182.0,99.2 L2182.0,100.2 L2182.0,101.2 L2182.0,102.2 L2182.0,103.2 L2182.0,104.2 L2182.0,105.2 L2182.0,106.2 L2182.0,107.2 L2182.0,108.2 L2182.0,109.2 L2182.0,110.2 L2182.0,111.2 L2182.0,112.2 L2182.0,113.2 L2182.0,114.2 L2182.0,115.2 L2182.0,116.2 L2182.0,117.2 L2182.0,118.2 L2182.0,119.2 L2182.0,120.2 L2182.0,121.2 L2182.0,122.2 L2182.0,123.2 L2182.0,124.2 L2182.0,125.2 L2182.1,126.2 L2182.1,127.2 L2182.1,128.2 L2182.1,129.2 L2182.1,130.2 L2182.1,131.2 L2182.1,132.2 L2182.1,133.2 L2182.1,134.2 L2182.1,135.2 L2182.1,136.2 L2182.1,137.2 L2182.1,138.2 L2182.1,139.2 L2182.1,140.2 L2182.1,141.2 L2182.1,142.2 L2182.1,143.2 L2182.1,144.2 L2182.2,145.2 L2182.2,146.2 L2182.2,147.2 L2182.2,148.2 L2182.2,149.2 L2182.2,150.2 L2182.2,151.2 L2182.2,152.2 L2182.2,153.2 L2182.2,154.2 L2182.2,155.2 L2182.2,156.2 L2182.3,157.2 L2182.3,158.2 L2182.3,159.2 L2182.3,160.2 L2182.3,161.2 L2182.3,162.2 L2182.3,163.2 L2182.3,164.2 L2182.3,165.2 L2182.3,166.2 L2182.4,167.2 L2182.4,168.2 L2182.4,169.2 L2182.4,170.2 L2182.4,171.2 L2182.4,172.2 L2182.4,173.2 L2182.4,174.2 L2182.5,175.2 L2182.5,176.2 L2182.5,177.2 L2182.5,178.2 L2182.5,179.2 L2182.6,180.2 L2182.6,181.2 L2182.7,182.2 L2182.7,183.2 L2182.8,184.2 L2182.9,185.2 L2183.0,186.2 L2183.1,187.2 L2183.2,188.2 L2183.3,189.2 L2183.4,190.2 L2183.6,191.2 L2183.7,192.2 L2183.8,193.2 L2183.9,194.2 L2184.1,195.2 L2184.2,196.2 L2184.3,197.2 L2184.5,198.2 L2184.6,199.2 L2184.7,200.2 L2184.8,201.2 L2185.0,202.2 L2185.1,203.2 L2185.2,204.2 L2185.3,205.2 L2185.5,206.2 L2185.6,207.2 L2185.7,208.2 L2185.9,209.2 L2186.0,210.2 L2186.1,211.2 L2186.3,212.2 L2186.4,213.2 L2186.6,214.2 L2186.8,215.2 L2187.0,216.2 L2187.1,217.2 L2187.3,218.2 L2187.5,219.2 L2187.8,220.2 L2188.0,221.2 L2188.2,222.2 L2188.5,223.2 L2188.8,224.2 L2189.1,225.2 L2189.5,226.2 L2189.9,227.2 L2190.3,228.2 L2190.7,229.2 L2191.2,230.2 L2191.7,231.2 L2192.3,232.2 L2192.8,233.2 L2193.4,234.2 L2194.0,235.2 L2194.7,236.2 L2195.6,237.2 L2196.5,238.2 L2197.5,239.2 L2198.5,240.2 L2199.7,241.2 L2200.8,242.2 L2202.0,243.2 L2203.2,244.2 L2204.3,245.2 L2205.5,246.2 L2206.6,247.2 L2207.8,248.2 L2208.9,249.2 L2210.1,250.2 L2211.2,251.2 L2212.4,252.2 L2213.7,253.2 L2214.9,254.2 L2216.1,255.2 L2217.3,256.2 L2218.4,257.2 L2219.6,258.2 L2220.7,259.2 L2221.8,260.2 L2222.8,261.2 L2223.9,262.2 L2224.9,263.2 L2226.0,264.2 L2227.0,265.2 L2228.0,266.2 L2229.0,267.2 L2230.0,268.2 L2230.9,269.2 L2231.8,270.2 L2232.6,271.2 L2233.3,272.2 L2233.9,273.2 L2234.5,274.2 L2235.0,275.2 L2235.5,276.2 L2236.1,277.2 L2236.6,278.2 L2237.0,279.2 L2237.5,280.2 L2237.9,281.2 L2238.2,282.2 L2238.4,283.2 L2238.6,284.2 L2238.7,285.2 L2238.7,286.2 L2238.5,287.2 L2238.1,288.2 L2237.7,289.2 L2237.1,290.2 L2236.5,291.2 L2235.7,292.2 L2235.0,293.2 L2234.2,294.2 L2233.4,295.2 L2232.5,296.2 L2231.4,297.2 L2230.2,298.2 L2228.8,299.2 L2227.4,300.2 L2225.8,301.2 L2224.2,302.2 L2222.6,303.2 L2221.0,304.2 L2219.5,305.2 L2218.0,306.2 L2216.6,307.2 L2215.1,308.2 L2213.6,309.2 L2212.1,310.2 L2210.5,311.2 L2209.1,312.2 L2207.6,313.2 L2206.2,314.2 L2204.9,315.2 L2203.6,316.2 L2202.5,317.2 L2201.4,318.2 L2200.3,319.2 L2199.2,320.2 L2198.1,321.2 L2197.1,322.2 L2196.1,323.2 L2195.1,324.2 L2194.2,325.2 L2193.4,326.2 L2192.6,327.2 L2191.9,328.2 L2191.3,329.2 L2190.8,330.2 L2190.3,331.2 L2189.9,332.2 L2189.4,333.2 L2189.0,334.2 L2188.6,335.2 L2188.3,336.2 L2187.9,337.2 L2187.6,338.2 L2187.4,339.2 L2187.1,340.2 L2186.9,341.2 L2186.7,342.2 L2186.6,343.2 L2186.4,344.2 L2186.3,345.2 L2186.2,346.2 L2186.1,347.2 L2186.0,348.2 L2185.9,349.2 L2185.8,350.2 L2185.7,351.2 L2185.6,352.2 L2185.6,353.2 L2185.5,354.2 L2185.5,355.2 L2185.5,356.2 L2185.5,357.2 L2185.6,358.2 L2185.7,359.2 L2185.8,360.2 L2186.0,361.2 L2186.2,362.2 L2186.3,363.2 L2186.6,364.2 L2186.8,365.2 L2187.0,366.2 L2187.3,367.2 L2187.5,368.2 L2187.7,369.2 L2188.0,370.2 L2188.3,371.2 L2188.7,372.2 L2189.0,373.2 L2189.4,374.2 L2189.8,375.2 L2190.3,376.2 L2190.7,377.2 L2191.2,378.2 L2191.7,379.2 L2192.2,380.2 L2192.7,381.2 L2193.2,382.2 L2193.7,383.2 L2194.3,384.2 L2195.0,385.2 L2195.6,386.2 L2196.3,387.2 L2197.0,388.2 L2197.7,389.2 L2198.4,390.2 L2199.1,391.2 L2199.8,392.2 L2200.5,393.2 L2201.2,394.2 L2201.8,395.2 L2202.5,396.2 L2203.1,397.2 L2203.8,398.2 L2204.4,399.2 L2205.1,400.2 L2205.8,401.2 L2206.4,402.2 L2207.0,403.2 L2207.6,404.2 L2208.1,405.2 L2208.6,406.2 L2209.0,407.2 L2209.4,408.2 L2209.7,409.2 L2210.1,410.2 L2210.4,411.2 L2210.7,412.2 L2211.0,413.2 L2211.3,414.2 L2211.6,415.2 L2211.8,416.2 L2211.9,417.2 L2212.0,418.2 L2212.0,419.2 L2211.9,420.2 L2211.7,421.2 L2211.4,422.2 L2211.1,423.2 L2210.7,424.2 L2210.3,425.2 L2209.8,426.2 L2209.4,427.2 L2209.0,428.2 L2208.6,429.2 L2208.1,430.2 L2207.6,431.2 L2207.1,432.2 L2206.5,433.2 L2205.9,434.2 L2205.3,435.2 L2204.7,436.2 L2158.7,436.2 L2158.1,435.2 L2157.5,434.2 L2156.9,433.2 L2156.3,432.2 L2155.8,431.2 L2155.3,430.2 L2154.8,429.2 L2154.4,428.2 L2154.0,427.2 L2153.6,426.2 L2153.1,425.2 L2152.7,424.2 L2152.3,423.2 L2152.0,422.2 L2151.7,421.2 L2151.5,420.2 L2151.4,419.2 L2151.4,418.2 L2151.5,417.2 L2151.6,416.2 L2151.8,415.2 L2152.1,414.2 L2152.4,413.2 L2152.7,412.2 L2153.0,411.2 L2153.3,410.2 L2153.7,409.2 L2154.0,408.2 L2154.4,407.2 L2154.8,406.2 L2155.3,405.2 L2155.8,404.2 L2156.4,403.2 L2157.0,402.2 L2157.6,401.2 L2158.3,400.2 L2159.0,399.2 L2159.6,398.2 L2160.3,397.2 L2160.9,396.2 L2161.6,395.2 L2162.2,394.2 L2162.9,393.2 L2163.6,392.2 L2164.3,391.2 L2165.0,390.2 L2165.7,389.2 L2166.4,388.2 L2167.1,387.2 L2167.8,386.2 L2168.4,385.2 L2169.1,384.2 L2169.7,383.2 L2170.2,382.2 L2170.7,381.2 L2171.2,380.2 L2171.7,379.2 L2172.2,378.2 L2172.7,377.2 L2173.1,376.2 L2173.6,375.2 L2174.0,374.2 L2174.4,373.2 L2174.7,372.2 L2175.1,371.2 L2175.4,370.2 L2175.7,369.2 L2175.9,368.2 L2176.1,367.2 L2176.4,366.2 L2176.6,365.2 L2176.8,364.2 L2177.1,363.2 L2177.2,362.2 L2177.4,361.2 L2177.6,360.2 L2177.7,359.2 L2177.8,358.2 L2177.9,357.2 L2177.9,356.2 L2177.9,355.2 L2177.9,354.2 L2177.8,353.2 L2177.8,352.2 L2177.7,351.2 L2177.6,350.2 L2177.5,349.2 L2177.4,348.2 L2177.3,347.2 L2177.2,346.2 L2177.1,345.2 L2177.0,344.2 L2176.8,343.2 L2176.7,342.2 L2176.5,341.2 L2176.3,340.2 L2176.0,339.2 L2175.8,338.2 L2175.5,337.2 L2175.1,336.2 L2174.8,335.2 L2174.4,334.2 L2174.0,333.2 L2173.5,332.2 L2173.1,331.2 L2172.6,330.2 L2172.1,329.2 L2171.5,328.2 L2170.8,327.2 L2170.0,326.2 L2169.2,325.2 L2168.3,324.2 L2167.3,323.2 L2166.3,322.2 L2165.3,321.2 L2164.2,320.2 L2163.1,319.2 L2162.0,318.2 L2160.9,317.2 L2159.8,316.2 L2158.5,315.2 L2157.2,314.2 L2155.8,313.2 L2154.3,312.2 L2152.9,311.2 L2151.3,310.2 L2149.8,309.2 L2148.3,308.2 L2146.8,307.2 L2145.4,306.2 L2143.9,305.2 L2142.4,304.2 L2140.8,303.2 L2139.2,302.2 L2137.6,301.2 L2136.0,300.2 L2134.6,299.2 L2133.2,298.2 L2132.0,297.2 L2130.9,296.2 L2130.0,295.2 L2129.2,294.2 L2128.4,293.2 L2127.7,292.2 L2126.9,291.2 L2126.3,290.2 L2125.7,289.2 L2125.3,288.2 L2124.9,287.2 L2124.7,286.2 L2124.7,285.2 L2124.8,284.2 L2125.0,283.2 L2125.2,282.2 L2125.5,281.2 L2125.9,280.2 L2126.4,279.2 L2126.8,278.2 L2127.3,277.2 L2127.9,276.2 L2128.4,275.2 L2128.9,274.2 L2129.5,273.2 L2130.1,272.2 L2130.8,271.2 L2131.6,270.2 L2132.5,269.2 L2133.4,268.2 L2134.4,267.2 L2135.4,266.2 L2136.4,265.2 L2137.4,264.2 L2138.5,263.2 L2139.5,262.2 L2140.6,261.2 L2141.6,260.2 L2142.7,259.2 L2143.8,258.2 L2145.0,257.2 L2146.1,256.2 L2147.3,255.2 L2148.5,254.2 L2149.7,253.2 L2151.0,252.2 L2152.2,251.2 L2153.3,250.2 L2154.5,249.2 L2155.6,248.2 L2156.8,247.2 L2157.9,246.2 L2159.1,245.2 L2160.2,244.2 L2161.4,243.2 L2162.6,242.2 L2163.7,241.2 L2164.9,240.2 L2165.9,239.2 L2166.9,238.2 L2167.8,237.2 L2168.7,236.2 L2169.4,235.2 L2170.0,234.2 L2170.6,233.2 L2171.1,232.2 L2171.7,231.2 L2172.2,230.2 L2172.7,229.2 L2173.1,228.2 L2173.5,227.2 L2173.9,226.2 L2174.3,225.2 L2174.6,224.2 L2174.9,223.2 L2175.2,222.2 L2175.4,221.2 L2175.6,220.2 L2175.9,219.2 L2176.1,218.2 L2176.3,217.2 L2176.4,216.2 L2176.6,215.2 L2176.8,214.2 L2177.0,213.2 L2177.1,212.2 L2177.3,211.2 L2177.4,210.2 L2177.5,209.2 L2177.7,208.2 L2177.8,207.2 L2177.9,206.2 L2178.1,205.2 L2178.2,204.2 L2178.3,203.2 L2178.4,202.2 L2178.6,201.2 L2178.7,200.2 L2178.8,199.2 L2178.9,198.2 L2179.1,197.2 L2179.2,196.2 L2179.3,195.2 L2179.5,194.2 L2179.6,193.2 L2179.7,192.2 L2179.8,191.2 L2180.0,190.2 L2180.1,189.2 L2180.2,188.2 L2180.3,187.2 L2180.4,186.2 L2180.5,185.2 L2180.6,184.2 L2180.7,183.2 L2180.7,182.2 L2180.8,181.2 L2180.8,180.2 L2180.9,179.2 L2180.9,178.2 L2180.9,177.2 L2180.9,176.2 L2180.9,175.2 L2181.0,174.2 L2181.0,173.2 L2181.0,172.2 L2181.0,171.2 L2181.0,170.2 L2181.0,169.2 L2181.0,168.2 L2181.0,167.2 L2181.1,166.2 L2181.1,165.2 L2181.1,164.2 L2181.1,163.2 L2181.1,162.2 L2181.1,161.2 L2181.1,160.2 L2181.1,159.2 L2181.1,158.2 L2181.1,157.2 L2181.2,156.2 L2181.2,155.2 L2181.2,154.2 L2181.2,153.2 L2181.2,152.2 L2181.2,151.2 L2181.2,150.2 L2181.2,149.2 L2181.2,148.2 L2181.2,147.2 L2181.2,146.2 L2181.2,145.2 L2181.3,144.2 L2181.3,143.2 L2181.3,142.2 L2181.3,141.2 L2181.3,140.2 L2181.3,139.2 L2181.3,138.2 L2181.3,137.2 L2181.3,136.2 L2181.3,135.2 L2181.3,134.2 L2181.3,133.2 L2181.3,132.2 L2181.3,131.2 L2181.3,130.2 L2181.3,129.2 L2181.3,128.2 L2181.3,127.2 L2181.3,126.2 L2181.4,125.2 L2181.4,124.2 L2181.4,123.2 L2181.4,122.2 L2181.4,121.2 L2181.4,120.2 L2181.4,119.2 L2181.4,118.2 L2181.4,117.2 L2181.4,116.2 L2181.4,115.2 L2181.4,114.2 L2181.4,113.2 L2181.4,112.2 L2181.4,111.2 L2181.4,110.2 L2181.4,109.2 L2181.4,108.2 L2181.4,107.2 L2181.4,106.2 L2181.4,105.2 L2181.4,104.2 L2181.4,103.2 L2181.4,102.2 L2181.4,101.2 L2181.4,100.2 L2181.4,99.2 L2181.4,98.2Z" fill="#A981BF" stroke="#363636" stroke-width="4.6" stroke-linejoin="round"/>
<rect x="2150.7" y="287.8" width="62" height="10.7" fill="#000"/>
<circle cx="2150.7" cy="293.2" r="2.3" fill="#000"/><circle cx="2212.7" cy="293.2" r="2.3" fill="#000"/>
<path d="M2328.7,270.4 L2329.5,271.4 L2330.2,272.4 L2331.0,273.4 L2331.7,274.4 L2332.4,275.4 L2333.1,276.4 L2333.7,277.4 L2334.3,278.4 L2334.9,279.4 L2335.4,280.4 L2335.9,281.4 L2336.3,282.4 L2336.8,283.4 L2337.2,284.4 L2337.6,285.4 L2338.1,286.4 L2338.5,287.4 L2338.9,288.4 L2339.2,289.4 L2339.5,290.4 L2339.8,291.4 L2340.1,292.4 L2340.3,293.4 L2340.4,294.4 L2340.5,295.4 L2340.5,296.4 L2340.6,297.4 L2340.6,298.4 L2340.7,299.4 L2340.7,300.4 L2340.7,301.4 L2340.8,302.4 L2340.8,303.4 L2340.8,304.4 L2340.8,305.4 L2340.8,306.4 L2340.7,307.4 L2340.6,308.4 L2340.4,309.4 L2340.1,310.4 L2339.8,311.4 L2339.4,312.4 L2339.0,313.4 L2338.6,314.4 L2338.1,315.4 L2337.7,316.4 L2337.3,317.4 L2336.8,318.4 L2336.4,319.4 L2336.0,320.4 L2335.5,321.4 L2335.0,322.4 L2334.5,323.4 L2334.0,324.4 L2333.4,325.4 L2332.9,326.4 L2332.3,327.4 L2331.7,328.4 L2331.2,329.4 L2330.6,330.4 L2330.1,331.4 L2329.6,332.4 L2329.1,333.4 L2328.7,334.4 L2328.3,335.4 L2327.8,336.4 L2327.4,337.4 L2327.0,338.4 L2326.6,339.4 L2326.2,340.4 L2325.8,341.4 L2325.4,342.4 L2325.0,343.4 L2324.7,344.4 L2324.3,345.4 L2324.0,346.4 L2323.8,347.4 L2323.5,348.4 L2323.3,349.4 L2323.1,350.4 L2323.0,351.4 L2322.8,352.4 L2322.6,353.4 L2322.5,354.4 L2322.4,355.4 L2322.3,356.4 L2322.2,357.4 L2322.2,358.4 L2322.2,359.4 L2322.3,360.4 L2322.5,361.4 L2322.6,362.4 L2322.8,363.4 L2323.1,364.4 L2323.3,365.4 L2323.6,366.4 L2323.9,367.4 L2324.2,368.4 L2324.5,369.4 L2325.0,370.4 L2325.6,371.4 L2326.2,372.4 L2327.0,373.4 L2327.8,374.4 L2328.8,375.4 L2329.7,376.4 L2330.7,377.4 L2331.7,378.4 L2332.7,379.4 L2333.7,380.4 L2334.6,381.4 L2335.6,382.4 L2336.5,383.4 L2337.5,384.4 L2338.5,385.4 L2339.6,386.4 L2340.6,387.4 L2341.7,388.4 L2342.7,389.4 L2343.8,390.4 L2344.8,391.4 L2345.8,392.4 L2346.8,393.4 L2347.7,394.4 L2348.5,395.4 L2349.4,396.4 L2350.3,397.4 L2351.1,398.4 L2351.9,399.4 L2352.7,400.4 L2353.5,401.4 L2354.3,402.4 L2355.0,403.4 L2355.7,404.4 L2356.4,405.4 L2357.1,406.4 L2357.7,407.4 L2358.2,408.4 L2358.8,409.4 L2359.3,410.4 L2359.9,411.4 L2360.4,412.4 L2360.9,413.4 L2361.4,414.4 L2361.8,415.4 L2362.2,416.4 L2362.5,417.4 L2362.7,418.4 L2362.9,419.4 L2363.0,420.4 L2363.2,421.4 L2363.3,422.4 L2363.4,423.4 L2363.5,424.4 L2363.5,425.4 L2363.5,426.4 L2363.4,427.4 L2363.2,428.4 L2363.1,429.4 L2362.9,430.4 L2362.6,431.4 L2362.3,432.4 L2361.9,433.4 L2361.2,434.4 L2360.5,435.4 L2359.6,436.4 L2358.6,437.4 L2357.5,438.4 L2255.5,438.4 L2254.4,437.4 L2253.4,436.4 L2252.5,435.4 L2251.8,434.4 L2251.1,433.4 L2250.7,432.4 L2250.4,431.4 L2250.1,430.4 L2249.9,429.4 L2249.8,428.4 L2249.6,427.4 L2249.5,426.4 L2249.5,425.4 L2249.5,424.4 L2249.6,423.4 L2249.7,422.4 L2249.8,421.4 L2250.0,420.4 L2250.1,419.4 L2250.3,418.4 L2250.5,417.4 L2250.8,416.4 L2251.2,415.4 L2251.6,414.4 L2252.1,413.4 L2252.6,412.4 L2253.1,411.4 L2253.7,410.4 L2254.2,409.4 L2254.8,408.4 L2255.3,407.4 L2255.9,406.4 L2256.6,405.4 L2257.3,404.4 L2258.0,403.4 L2258.7,402.4 L2259.5,401.4 L2260.3,400.4 L2261.1,399.4 L2261.9,398.4 L2262.7,397.4 L2263.6,396.4 L2264.5,395.4 L2265.3,394.4 L2266.2,393.4 L2267.2,392.4 L2268.2,391.4 L2269.2,390.4 L2270.3,389.4 L2271.3,388.4 L2272.4,387.4 L2273.4,386.4 L2274.5,385.4 L2275.5,384.4 L2276.5,383.4 L2277.4,382.4 L2278.4,381.4 L2279.3,380.4 L2280.3,379.4 L2281.3,378.4 L2282.3,377.4 L2283.3,376.4 L2284.2,375.4 L2285.2,374.4 L2286.0,373.4 L2286.8,372.4 L2287.4,371.4 L2288.0,370.4 L2288.5,369.4 L2288.8,368.4 L2289.1,367.4 L2289.4,366.4 L2289.7,365.4 L2289.9,364.4 L2290.2,363.4 L2290.4,362.4 L2290.5,361.4 L2290.7,360.4 L2290.8,359.4 L2290.8,358.4 L2290.8,357.4 L2290.7,356.4 L2290.6,355.4 L2290.5,354.4 L2290.4,353.4 L2290.2,352.4 L2290.0,351.4 L2289.9,350.4 L2289.7,349.4 L2289.5,348.4 L2289.2,347.4 L2289.0,346.4 L2288.7,345.4 L2288.3,344.4 L2288.0,343.4 L2287.6,342.4 L2287.2,341.4 L2286.8,340.4 L2286.4,339.4 L2286.0,338.4 L2285.6,337.4 L2285.2,336.4 L2284.7,335.4 L2284.3,334.4 L2283.9,333.4 L2283.4,332.4 L2282.9,331.4 L2282.4,330.4 L2281.8,329.4 L2281.3,328.4 L2280.7,327.4 L2280.1,326.4 L2279.6,325.4 L2279.0,324.4 L2278.5,323.4 L2278.0,322.4 L2277.5,321.4 L2277.0,320.4 L2276.6,319.4 L2276.2,318.4 L2275.7,317.4 L2275.3,316.4 L2274.9,315.4 L2274.4,314.4 L2274.0,313.4 L2273.6,312.4 L2273.2,311.4 L2272.9,310.4 L2272.6,309.4 L2272.4,308.4 L2272.3,307.4 L2272.2,306.4 L2272.2,305.4 L2272.2,304.4 L2272.2,303.4 L2272.2,302.4 L2272.3,301.4 L2272.3,300.4 L2272.3,299.4 L2272.4,298.4 L2272.4,297.4 L2272.5,296.4 L2272.5,295.4 L2272.6,294.4 L2272.7,293.4 L2272.9,292.4 L2273.2,291.4 L2273.5,290.4 L2273.8,289.4 L2274.1,288.4 L2274.5,287.4 L2274.9,286.4 L2275.4,285.4 L2275.8,284.4 L2276.2,283.4 L2276.7,282.4 L2277.1,281.4 L2277.6,280.4 L2278.1,279.4 L2278.7,278.4 L2279.3,277.4 L2279.9,276.4 L2280.6,275.4 L2281.3,274.4 L2282.0,273.4 L2282.8,272.4 L2283.5,271.4 L2284.3,270.4Z" fill="#E369A9" stroke="#363636" stroke-width="4.6" stroke-linejoin="round"/>
<rect x="2275.5" y="406.5" width="62" height="10.7" fill="#000"/>
<circle cx="2275.5" cy="411.9" r="2.3" fill="#000"/><circle cx="2337.5" cy="411.9" r="2.3" fill="#000"/>
<line x1="1360.0" y1="385.0" x2="2385.0" y2="385.0" stroke="#75859A" stroke-width="4" stroke-dasharray="17.6 17.96"/>
<line x1="1360.0" y1="311.6" x2="2385.0" y2="311.6" stroke="#75859A" stroke-width="4" stroke-dasharray="17.6 17.96"/>
<path d="M1359.0,71.0 V476.7 H2385.0" fill="none" stroke="#000" stroke-width="4.5" stroke-linejoin="miter"/>
<line x1="1352.5" y1="385.0" x2="1359.0" y2="385.0" stroke="#000" stroke-width="4.2"/>
<text x="1350.0" y="394.7" font-size="29.0" text-anchor="end" fill="#000" stroke="#000" stroke-width="0.3">1000</text>
<line x1="1352.5" y1="311.6" x2="1359.0" y2="311.6" stroke="#000" stroke-width="4.2"/>
<text x="1350.0" y="321.2" font-size="29.0" text-anchor="end" fill="#000" stroke="#000" stroke-width="0.3">2000</text>
<line x1="1352.5" y1="238.1" x2="1359.0" y2="238.1" stroke="#000" stroke-width="4.2"/>
<text x="1350.0" y="247.8" font-size="29.0" text-anchor="end" fill="#000" stroke="#000" stroke-width="0.3">3000</text>
<line x1="1352.5" y1="164.7" x2="1359.0" y2="164.7" stroke="#000" stroke-width="4.2"/>
<text x="1350.0" y="174.3" font-size="29.0" text-anchor="end" fill="#000" stroke="#000" stroke-width="0.3">4000</text>
<line x1="1352.5" y1="91.2" x2="1359.0" y2="91.2" stroke="#000" stroke-width="4.2"/>
<text x="1350.0" y="100.9" font-size="29.0" text-anchor="end" fill="#000" stroke="#000" stroke-width="0.3">5000</text>
<line x1="1433.7" y1="476.7" x2="1433.7" y2="484.2" stroke="#000" stroke-width="4"/>
<text x="1434.0" y="513.0" font-size="29.2" text-anchor="middle" fill="#231F20" stroke="#231F20" stroke-width="0.3">Rods</text>
<line x1="1558.4" y1="476.7" x2="1558.4" y2="484.2" stroke="#000" stroke-width="4"/>
<text x="1560.6" y="513.0" font-size="29.2" text-anchor="middle" fill="#231F20" stroke="#231F20" stroke-width="0.3">Cones</text>
<line x1="1683.1" y1="476.7" x2="1683.1" y2="484.2" stroke="#000" stroke-width="4"/>
<text x="1687.4" y="513.0" font-size="29.2" text-anchor="middle" fill="#231F20" stroke="#231F20" stroke-width="0.3">Bipolar</text>
<text x="1687.4" y="547.5" font-size="29.2" text-anchor="middle" fill="#231F20" stroke="#231F20" stroke-width="0.3">Cells</text>
<line x1="1807.8" y1="476.7" x2="1807.8" y2="484.2" stroke="#000" stroke-width="4"/>
<text x="1808.6" y="513.0" font-size="29.2" text-anchor="middle" fill="#231F20" stroke="#231F20" stroke-width="0.3">Retinal</text>
<text x="1808.6" y="547.5" font-size="29.2" text-anchor="middle" fill="#231F20" stroke="#231F20" stroke-width="0.3">Ganglion</text>
<text x="1808.6" y="582.0" font-size="29.2" text-anchor="middle" fill="#231F20" stroke="#231F20" stroke-width="0.3">Cells</text>
<line x1="1932.5" y1="476.7" x2="1932.5" y2="484.2" stroke="#000" stroke-width="4"/>
<text x="1933.5" y="513.0" font-size="29.2" text-anchor="middle" fill="#231F20" stroke="#231F20" stroke-width="0.3">Amacrine</text>
<text x="1933.5" y="547.5" font-size="29.2" text-anchor="middle" fill="#231F20" stroke="#231F20" stroke-width="0.3">Cells</text>
<line x1="2057.2" y1="476.7" x2="2057.2" y2="484.2" stroke="#000" stroke-width="4"/>
<text x="2066.4" y="513.0" font-size="29.2" text-anchor="middle" fill="#231F20" stroke="#231F20" stroke-width="0.3">Horizontal</text>
<text x="2066.4" y="547.5" font-size="29.2" text-anchor="middle" fill="#231F20" stroke="#231F20" stroke-width="0.3">Cells</text>
<line x1="2181.9" y1="476.7" x2="2181.9" y2="484.2" stroke="#000" stroke-width="4"/>
<text x="2182.3" y="513.0" font-size="29.2" text-anchor="middle" fill="#231F20" stroke="#231F20" stroke-width="0.3">Müller</text>
<text x="2182.3" y="547.5" font-size="29.2" text-anchor="middle" fill="#231F20" stroke="#231F20" stroke-width="0.3">Cells</text>
<line x1="2306.6" y1="476.7" x2="2306.6" y2="484.2" stroke="#000" stroke-width="4"/>
<text x="2307.2" y="513.0" font-size="29.2" text-anchor="middle" fill="#231F20" stroke="#231F20" stroke-width="0.3">Microglia</text>
<text transform="translate(1271.5,219.7) rotate(-90)" font-size="29.1" text-anchor="middle" fill="#000" stroke="#000" stroke-width="0.3">Gene number / cell</text>
<text x="1862.9" y="68.0" font-size="41.3" text-anchor="middle" fill="#000" stroke="#000" stroke-width="0.3">Optimized protocol v2</text>
<path d="M1434.6,702.8 L1434.6,703.8 L1434.6,704.8 L1434.6,705.8 L1434.6,706.8 L1434.6,707.8 L1434.6,708.8 L1434.6,709.8 L1434.6,710.8 L1434.6,711.8 L1434.6,712.8 L1434.6,713.8 L1434.6,714.8 L1434.6,715.8 L1434.6,716.8 L1434.6,717.8 L1434.6,718.8 L1434.6,719.8 L1434.6,720.8 L1434.6,721.8 L1434.6,722.8 L1434.6,723.8 L1434.6,724.8 L1434.6,725.8 L1434.6,726.8 L1434.6,727.8 L1434.6,728.8 L1434.6,729.8 L1434.6,730.8 L1434.6,731.8 L1434.6,732.8 L1434.6,733.8 L1434.6,734.8 L1434.6,735.8 L1434.6,736.8 L1434.6,737.8 L1434.6,738.8 L1434.6,739.8 L1434.6,740.8 L1434.6,741.8 L1434.6,742.8 L1434.6,743.8 L1434.6,744.8 L1434.6,745.8 L1434.6,746.8 L1434.6,747.8 L1434.6,748.8 L1434.6,749.8 L1434.6,750.8 L1434.6,751.8 L1434.6,752.8 L1434.6,753.8 L1434.6,754.8 L1434.6,755.8 L1434.6,756.8 L1434.6,757.8 L1434.6,758.8 L1434.6,759.8 L1434.6,760.8 L1434.6,761.8 L1434.6,762.8 L1434.6,763.8 L1434.6,764.8 L1434.6,765.8 L1434.6,766.8 L1434.6,767.8 L1434.6,768.8 L1434.6,769.8 L1434.6,770.8 L1434.6,771.8 L1434.6,772.8 L1434.6,773.8 L1434.6,774.8 L1434.7,775.8 L1434.7,776.8 L1434.7,777.8 L1434.7,778.8 L1434.7,779.8 L1434.7,780.8 L1434.7,781.8 L1434.7,782.8 L1434.7,783.8 L1434.7,784.8 L1434.7,785.8 L1434.7,786.8 L1434.7,787.8 L1434.7,788.8 L1434.7,789.8 L1434.7,790.8 L1434.7,791.8 L1434.7,792.8 L1434.7,793.8 L1434.7,794.8 L1434.7,795.8 L1434.7,796.8 L1434.7,797.8 L1434.7,798.8 L1434.7,799.8 L1434.7,800.8 L1434.7,801.8 L1434.7,802.8 L1434.7,803.8 L1434.7,804.8 L1434.7,805.8 L1434.7,806.8 L1434.7,807.8 L1434.7,808.8 L1434.7,809.8 L1434.7,810.8 L1434.7,811.8 L1434.7,812.8 L1434.7,813.8 L1434.7,814.8 L1434.7,815.8 L1434.7,816.8 L1434.7,817.8 L1434.7,818.8 L1434.7,819.8 L1434.8,820.8 L1434.8,821.8 L1434.8,822.8 L1434.8,823.8 L1434.8,824.8 L1434.8,825.8 L1434.8,826.8 L1434.8,827.8 L1434.8,828.8 L1434.8,829.8 L1434.8,830.8 L1434.8,831.8 L1434.8,832.8 L1434.8,833.8 L1434.8,834.8 L1434.8,835.8 L1434.8,836.8 L1434.8,837.8 L1434.8,838.8 L1434.8,839.8 L1434.8,840.8 L1434.8,841.8 L1434.8,842.8 L1434.8,843.8 L1434.8,844.8 L1434.8,845.8 L1434.8,846.8 L1434.8,847.8 L1434.9,848.8 L1434.9,849.8 L1434.9,850.8 L1434.9,851.8 L1434.9,852.8 L1434.9,853.8 L1434.9,854.8 L1434.9,855.8 L1434.9,856.8 L1434.9,857.8 L1434.9,858.8 L1434.9,859.8 L1434.9,860.8 L1434.9,861.8 L1434.9,862.8 L1434.9,863.8 L1434.9,864.8 L1434.9,865.8 L1434.9,866.8 L1434.9,867.8 L1434.9,868.8 L1434.9,869.8 L1435.0,870.8 L1435.0,871.8 L1435.0,872.8 L1435.0,873.8 L1435.0,874.8 L1435.0,875.8 L1435.0,876.8 L1435.0,877.8 L1435.0,878.8 L1435.0,879.8 L1435.0,880.8 L1435.0,881.8 L1435.0,882.8 L1435.0,883.8 L1435.0,884.8 L1435.0,885.8 L1435.0,886.8 L1435.0,887.8 L1435.1,888.8 L1435.1,889.8 L1435.1,890.8 L1435.1,891.8 L1435.1,892.8 L1435.1,893.8 L1435.1,894.8 L1435.1,895.8 L1435.1,896.8 L1435.1,897.8 L1435.1,898.8 L1435.1,899.8 L1435.2,900.8 L1435.2,901.8 L1435.2,902.8 L1435.3,903.8 L1435.3,904.8 L1435.4,905.8 L1435.5,906.8 L1435.5,907.8 L1435.6,908.8 L1435.6,909.8 L1435.7,910.8 L1435.8,911.8 L1435.9,912.8 L1435.9,913.8 L1436.0,914.8 L1436.1,915.8 L1436.2,916.8 L1436.3,917.8 L1436.4,918.8 L1436.5,919.8 L1436.6,920.8 L1436.6,921.8 L1436.7,922.8 L1436.8,923.8 L1436.9,924.8 L1437.0,925.8 L1437.1,926.8 L1437.2,927.8 L1437.3,928.8 L1437.4,929.8 L1437.4,930.8 L1437.5,931.8 L1437.6,932.8 L1437.7,933.8 L1437.8,934.8 L1437.8,935.8 L1437.9,936.8 L1438.0,937.8 L1438.1,938.8 L1438.2,939.8 L1438.3,940.8 L1438.4,941.8 L1438.5,942.8 L1438.6,943.8 L1438.7,944.8 L1438.9,945.8 L1439.0,946.8 L1439.2,947.8 L1439.3,948.8 L1439.5,949.8 L1439.7,950.8 L1439.9,951.8 L1440.2,952.8 L1440.5,953.8 L1440.8,954.8 L1441.2,955.8 L1441.7,956.8 L1442.2,957.8 L1442.7,958.8 L1443.2,959.8 L1443.8,960.8 L1444.4,961.8 L1445.0,962.8 L1445.6,963.8 L1446.3,964.8 L1447.1,965.8 L1448.0,966.8 L1449.0,967.8 L1450.0,968.8 L1451.1,969.8 L1452.2,970.8 L1453.3,971.8 L1454.4,972.8 L1455.5,973.8 L1456.6,974.8 L1457.7,975.8 L1458.8,976.8 L1459.9,977.8 L1461.1,978.8 L1462.3,979.8 L1463.4,980.8 L1464.5,981.8 L1465.6,982.8 L1466.7,983.8 L1467.7,984.8 L1468.6,985.8 L1469.5,986.8 L1470.5,987.8 L1471.4,988.8 L1472.3,989.8 L1473.1,990.8 L1473.8,991.8 L1474.4,992.8 L1474.8,993.8 L1475.0,994.8 L1475.2,995.8 L1475.4,996.8 L1475.6,997.8 L1475.7,998.8 L1475.8,999.8 L1475.9,1000.8 L1476.0,1001.8 L1476.0,1002.8 L1475.9,1003.8 L1475.7,1004.8 L1475.3,1005.8 L1474.8,1006.8 L1474.3,1007.8 L1473.6,1008.8 L1472.9,1009.8 L1472.2,1010.8 L1471.5,1011.8 L1470.4,1012.8 L1469.1,1013.8 L1467.7,1014.8 L1466.3,1015.8 L1465.1,1016.8 L1464.2,1017.8 L1463.6,1018.8 L1463.1,1019.8 L1462.6,1020.8 L1462.2,1021.8 L1461.9,1022.8 L1462.0,1023.8 L1462.7,1024.8 L1464.0,1025.8 L1465.7,1026.8 L1467.8,1027.8 L1469.9,1028.8 L1472.6,1029.8 L1476.4,1030.8 L1480.4,1031.8 L1483.8,1032.8 L1485.9,1033.8 L1487.9,1034.8 L1489.6,1035.8 L1490.9,1036.8 L1491.5,1037.8 L1491.1,1038.8 L1489.5,1039.8 L1487.1,1040.8 L1484.4,1041.8 L1481.6,1042.8 L1477.8,1043.8 L1473.3,1044.8 L1468.5,1045.8 L1464.0,1046.8 L1460.0,1047.8 L1456.1,1048.8 L1452.3,1049.8 L1448.7,1050.8 L1445.1,1051.8 L1441.6,1052.8 L1438.3,1053.8 L1436.3,1054.4 L1432.3,1054.4 L1430.3,1053.8 L1427.0,1052.8 L1423.5,1051.8 L1419.9,1050.8 L1416.3,1049.8 L1412.5,1048.8 L1408.6,1047.8 L1404.6,1046.8 L1400.1,1045.8 L1395.3,1044.8 L1390.8,1043.8 L1387.0,1042.8 L1384.2,1041.8 L1381.5,1040.8 L1379.1,1039.8 L1377.5,1038.8 L1377.1,1037.8 L1377.7,1036.8 L1379.0,1035.8 L1380.7,1034.8 L1382.7,1033.8 L1384.8,1032.8 L1388.2,1031.8 L1392.2,1030.8 L1396.0,1029.8 L1398.7,1028.8 L1400.8,1027.8 L1402.9,1026.8 L1404.6,1025.8 L1405.9,1024.8 L1406.6,1023.8 L1406.7,1022.8 L1406.4,1021.8 L1406.0,1020.8 L1405.5,1019.8 L1405.0,1018.8 L1404.4,1017.8 L1403.5,1016.8 L1402.3,1015.8 L1400.9,1014.8 L1399.5,1013.8 L1398.2,1012.8 L1397.1,1011.8 L1396.4,1010.8 L1395.7,1009.8 L1395.0,1008.8 L1394.3,1007.8 L1393.8,1006.8 L1393.3,1005.8 L1392.9,1004.8 L1392.7,1003.8 L1392.6,1002.8 L1392.6,1001.8 L1392.7,1000.8 L1392.8,999.8 L1392.9,998.8 L1393.0,997.8 L1393.2,996.8 L1393.4,995.8 L1393.6,994.8 L1393.8,993.8 L1394.2,992.8 L1394.8,991.8 L1395.5,990.8 L1396.3,989.8 L1397.2,988.8 L1398.1,987.8 L1399.1,986.8 L1400.0,985.8 L1400.9,984.8 L1401.9,983.8 L1403.0,982.8 L1404.1,981.8 L1405.2,980.8 L1406.3,979.8 L1407.5,978.8 L1408.7,977.8 L1409.8,976.8 L1410.9,975.8 L1412.0,974.8 L1413.1,973.8 L1414.2,972.8 L1415.3,971.8 L1416.4,970.8 L1417.5,969.8 L1418.6,968.8 L1419.6,967.8 L1420.6,966.8 L1421.5,965.8 L1422.3,964.8 L1423.0,963.8 L1423.6,962.8 L1424.2,961.8 L1424.8,960.8 L1425.4,959.8 L1425.9,958.8 L1426.4,957.8 L1426.9,956.8 L1427.4,955.8 L1427.8,954.8 L1428.1,953.8 L1428.4,952.8 L1428.7,951.8 L1428.9,950.8 L1429.1,949.8 L1429.3,948.8 L1429.4,947.8 L1429.6,946.8 L1429.7,945.8 L1429.9,944.8 L1430.0,943.8 L1430.1,942.8 L1430.2,941.8 L1430.3,940.8 L1430.4,939.8 L1430.5,938.8 L1430.6,937.8 L1430.7,936.8 L1430.8,935.8 L1430.8,934.8 L1430.9,933.8 L1431.0,932.8 L1431.1,931.8 L1431.2,930.8 L1431.2,929.8 L1431.3,928.8 L1431.4,927.8 L1431.5,926.8 L1431.6,925.8 L1431.7,924.8 L1431.8,923.8 L1431.9,922.8 L1432.0,921.8 L1432.0,920.8 L1432.1,919.8 L1432.2,918.8 L1432.3,917.8 L1432.4,916.8 L1432.5,915.8 L1432.6,914.8 L1432.7,913.8 L1432.7,912.8 L1432.8,911.8 L1432.9,910.8 L1433.0,909.8 L1433.0,908.8 L1433.1,907.8 L1433.1,906.8 L1433.2,905.8 L1433.3,904.8 L1433.3,903.8 L1433.4,902.8 L1433.4,901.8 L1433.4,900.8 L1433.5,899.8 L1433.5,898.8 L1433.5,897.8 L1433.5,896.8 L1433.5,895.8 L1433.5,894.8 L1433.5,893.8 L1433.5,892.8 L1433.5,891.8 L1433.5,890.8 L1433.5,889.8 L1433.5,888.8 L1433.6,887.8 L1433.6,886.8 L1433.6,885.8 L1433.6,884.8 L1433.6,883.8 L1433.6,882.8 L1433.6,881.8 L1433.6,880.8 L1433.6,879.8 L1433.6,878.8 L1433.6,877.8 L1433.6,876.8 L1433.6,875.8 L1433.6,874.8 L1433.6,873.8 L1433.6,872.8 L1433.6,871.8 L1433.6,870.8 L1433.7,869.8 L1433.7,868.8 L1433.7,867.8 L1433.7,866.8 L1433.7,865.8 L1433.7,864.8 L1433.7,863.8 L1433.7,862.8 L1433.7,861.8 L1433.7,860.8 L1433.7,859.8 L1433.7,858.8 L1433.7,857.8 L1433.7,856.8 L1433.7,855.8 L1433.7,854.8 L1433.7,853.8 L1433.7,852.8 L1433.7,851.8 L1433.7,850.8 L1433.7,849.8 L1433.7,848.8 L1433.8,847.8 L1433.8,846.8 L1433.8,845.8 L1433.8,844.8 L1433.8,843.8 L1433.8,842.8 L1433.8,841.8 L1433.8,840.8 L1433.8,839.8 L1433.8,838.8 L1433.8,837.8 L1433.8,836.8 L1433.8,835.8 L1433.8,834.8 L1433.8,833.8 L1433.8,832.8 L1433.8,831.8 L1433.8,830.8 L1433.8,829.8 L1433.8,828.8 L1433.8,827.8 L1433.8,826.8 L1433.8,825.8 L1433.8,824.8 L1433.8,823.8 L1433.8,822.8 L1433.8,821.8 L1433.8,820.8 L1433.9,819.8 L1433.9,818.8 L1433.9,817.8 L1433.9,816.8 L1433.9,815.8 L1433.9,814.8 L1433.9,813.8 L1433.9,812.8 L1433.9,811.8 L1433.9,810.8 L1433.9,809.8 L1433.9,808.8 L1433.9,807.8 L1433.9,806.8 L1433.9,805.8 L1433.9,804.8 L1433.9,803.8 L1433.9,802.8 L1433.9,801.8 L1433.9,800.8 L1433.9,799.8 L1433.9,798.8 L1433.9,797.8 L1433.9,796.8 L1433.9,795.8 L1433.9,794.8 L1433.9,793.8 L1433.9,792.8 L1433.9,791.8 L1433.9,790.8 L1433.9,789.8 L1433.9,788.8 L1433.9,787.8 L1433.9,786.8 L1433.9,785.8 L1433.9,784.8 L1433.9,783.8 L1433.9,782.8 L1433.9,781.8 L1433.9,780.8 L1433.9,779.8 L1433.9,778.8 L1433.9,777.8 L1433.9,776.8 L1433.9,775.8 L1434.0,774.8 L1434.0,773.8 L1434.0,772.8 L1434.0,771.8 L1434.0,770.8 L1434.0,769.8 L1434.0,768.8 L1434.0,767.8 L1434.0,766.8 L1434.0,765.8 L1434.0,764.8 L1434.0,763.8 L1434.0,762.8 L1434.0,761.8 L1434.0,760.8 L1434.0,759.8 L1434.0,758.8 L1434.0,757.8 L1434.0,756.8 L1434.0,755.8 L1434.0,754.8 L1434.0,753.8 L1434.0,752.8 L1434.0,751.8 L1434.0,750.8 L1434.0,749.8 L1434.0,748.8 L1434.0,747.8 L1434.0,746.8 L1434.0,745.8 L1434.0,744.8 L1434.0,743.8 L1434.0,742.8 L1434.0,741.8 L1434.0,740.8 L1434.0,739.8 L1434.0,738.8 L1434.0,737.8 L1434.0,736.8 L1434.0,735.8 L1434.0,734.8 L1434.0,733.8 L1434.0,732.8 L1434.0,731.8 L1434.0,730.8 L1434.0,729.8 L1434.0,728.8 L1434.0,727.8 L1434.0,726.8 L1434.0,725.8 L1434.0,724.8 L1434.0,723.8 L1434.0,722.8 L1434.0,721.8 L1434.0,720.8 L1434.0,719.8 L1434.0,718.8 L1434.0,717.8 L1434.0,716.8 L1434.0,715.8 L1434.0,714.8 L1434.0,713.8 L1434.0,712.8 L1434.0,711.8 L1434.0,710.8 L1434.0,709.8 L1434.0,708.8 L1434.0,707.8 L1434.0,706.8 L1434.0,705.8 L1434.0,704.8 L1434.0,703.8 L1434.0,702.8Z" fill="#F3766E" stroke="#363636" stroke-width="4.6" stroke-linejoin="round"/>
<rect x="1403.3" y="1003.5" width="62" height="10.7" fill="#000"/>
<circle cx="1403.3" cy="1008.9" r="2.3" fill="#000"/><circle cx="1465.3" cy="1008.9" r="2.3" fill="#000"/>
<path d="M1561.8,708.2 L1562.0,709.2 L1562.2,710.2 L1562.5,711.2 L1562.7,712.2 L1562.9,713.2 L1563.1,714.2 L1563.3,715.2 L1563.5,716.2 L1563.6,717.2 L1563.8,718.2 L1564.0,719.2 L1564.1,720.2 L1564.3,721.2 L1564.4,722.2 L1564.6,723.2 L1564.7,724.2 L1564.9,725.2 L1565.0,726.2 L1565.2,727.2 L1565.3,728.2 L1565.4,729.2 L1565.6,730.2 L1565.7,731.2 L1565.8,732.2 L1565.8,733.2 L1565.9,734.2 L1565.9,735.2 L1565.9,736.2 L1565.8,737.2 L1565.7,738.2 L1565.6,739.2 L1565.5,740.2 L1565.3,741.2 L1565.1,742.2 L1564.9,743.2 L1564.7,744.2 L1564.5,745.2 L1564.4,746.2 L1564.2,747.2 L1564.0,748.2 L1563.9,749.2 L1563.8,750.2 L1563.7,751.2 L1563.6,752.2 L1563.5,753.2 L1563.3,754.2 L1563.2,755.2 L1563.1,756.2 L1563.0,757.2 L1562.9,758.2 L1562.8,759.2 L1562.7,760.2 L1562.6,761.2 L1562.6,762.2 L1562.5,763.2 L1562.5,764.2 L1562.4,765.2 L1562.4,766.2 L1562.4,767.2 L1562.4,768.2 L1562.4,769.2 L1562.4,770.2 L1562.4,771.2 L1562.5,772.2 L1562.5,773.2 L1562.5,774.2 L1562.6,775.2 L1562.6,776.2 L1562.6,777.2 L1562.7,778.2 L1562.7,779.2 L1562.8,780.2 L1562.8,781.2 L1562.9,782.2 L1563.0,783.2 L1563.0,784.2 L1563.1,785.2 L1563.2,786.2 L1563.4,787.2 L1563.6,788.2 L1563.8,789.2 L1564.0,790.2 L1564.3,791.2 L1564.5,792.2 L1564.9,793.2 L1565.2,794.2 L1565.5,795.2 L1565.9,796.2 L1566.3,797.2 L1566.7,798.2 L1567.3,799.2 L1568.0,800.2 L1568.8,801.2 L1569.6,802.2 L1570.5,803.2 L1571.5,804.2 L1572.5,805.2 L1573.5,806.2 L1574.6,807.2 L1575.6,808.2 L1576.8,809.2 L1578.2,810.2 L1579.6,811.2 L1581.1,812.2 L1582.7,813.2 L1584.3,814.2 L1585.9,815.2 L1587.6,816.2 L1589.1,817.2 L1590.7,818.2 L1592.1,819.2 L1593.6,820.2 L1595.2,821.2 L1596.7,822.2 L1598.3,823.2 L1599.8,824.2 L1601.3,825.2 L1602.7,826.2 L1604.0,827.2 L1605.2,828.2 L1606.3,829.2 L1607.3,830.2 L1608.2,831.2 L1609.2,832.2 L1610.0,833.2 L1610.9,834.2 L1611.7,835.2 L1612.4,836.2 L1613.1,837.2 L1613.6,838.2 L1614.1,839.2 L1614.5,840.2 L1614.8,841.2 L1615.0,842.2 L1615.3,843.2 L1615.5,844.2 L1615.7,845.2 L1615.9,846.2 L1616.0,847.2 L1616.1,848.2 L1616.1,849.2 L1616.0,850.2 L1615.9,851.2 L1615.7,852.2 L1615.5,853.2 L1615.2,854.2 L1614.8,855.2 L1614.5,856.2 L1614.1,857.2 L1613.7,858.2 L1613.3,859.2 L1612.9,860.2 L1612.5,861.2 L1612.1,862.2 L1611.6,863.2 L1611.1,864.2 L1610.6,865.2 L1610.0,866.2 L1609.4,867.2 L1608.8,868.2 L1608.1,869.2 L1607.4,870.2 L1606.7,871.2 L1606.0,872.2 L1605.2,873.2 L1604.3,874.2 L1603.4,875.2 L1602.3,876.2 L1601.2,877.2 L1600.1,878.2 L1598.9,879.2 L1597.7,880.2 L1596.5,881.2 L1595.3,882.2 L1594.2,883.2 L1593.0,884.2 L1591.9,885.2 L1590.6,886.2 L1589.4,887.2 L1588.1,888.2 L1586.9,889.2 L1585.7,890.2 L1584.5,891.2 L1583.4,892.2 L1582.3,893.2 L1581.4,894.2 L1580.5,895.2 L1579.6,896.2 L1578.7,897.2 L1577.9,898.2 L1577.0,899.2 L1576.2,900.2 L1575.5,901.2 L1574.9,902.2 L1574.3,903.2 L1573.9,904.2 L1573.5,905.2 L1573.3,906.2 L1573.0,907.2 L1572.8,908.2 L1572.5,909.2 L1572.3,910.2 L1572.1,911.2 L1572.0,912.2 L1571.8,913.2 L1571.7,914.2 L1571.6,915.2 L1571.5,916.2 L1571.4,917.2 L1571.4,918.2 L1571.4,919.2 L1571.4,920.2 L1571.4,921.2 L1571.5,922.2 L1571.5,923.2 L1571.6,924.2 L1571.6,925.2 L1571.7,926.2 L1571.8,927.2 L1571.9,928.2 L1571.9,929.2 L1572.0,930.2 L1572.1,931.2 L1572.2,932.2 L1572.3,933.2 L1572.4,934.2 L1572.5,935.2 L1572.7,936.2 L1572.9,937.2 L1573.0,938.2 L1573.2,939.2 L1573.4,940.2 L1573.5,941.2 L1573.7,942.2 L1573.9,943.2 L1574.0,944.2 L1574.2,945.2 L1574.3,946.2 L1574.4,947.2 L1574.5,948.2 L1574.6,949.2 L1574.7,950.2 L1574.8,951.2 L1574.9,952.2 L1575.0,953.2 L1575.1,954.2 L1575.2,955.2 L1575.3,956.2 L1575.3,957.2 L1575.4,958.2 L1575.4,959.2 L1575.5,960.2 L1575.5,961.2 L1575.5,962.2 L1575.5,963.2 L1575.4,964.2 L1575.4,965.2 L1575.3,966.2 L1575.2,967.2 L1575.1,968.2 L1575.0,969.2 L1574.9,970.2 L1574.8,971.2 L1574.7,972.2 L1574.5,973.2 L1574.4,974.2 L1574.2,975.2 L1574.0,976.2 L1573.7,977.2 L1573.4,978.2 L1573.1,979.2 L1572.7,980.2 L1572.3,981.2 L1571.9,982.2 L1571.4,983.2 L1571.0,984.2 L1570.6,985.2 L1570.2,986.2 L1569.8,987.2 L1569.4,988.2 L1569.0,989.2 L1568.5,990.2 L1568.1,991.2 L1567.6,992.2 L1567.2,993.2 L1566.8,994.2 L1566.4,995.2 L1566.0,996.2 L1565.6,997.2 L1565.3,998.2 L1564.9,999.2 L1564.6,1000.2 L1564.3,1001.2 L1563.9,1002.2 L1563.6,1003.2 L1563.3,1004.2 L1563.1,1005.2 L1562.8,1006.2 L1562.7,1006.5 L1555.1,1006.5 L1555.0,1006.2 L1554.7,1005.2 L1554.5,1004.2 L1554.2,1003.2 L1553.9,1002.2 L1553.5,1001.2 L1553.2,1000.2 L1552.9,999.2 L1552.5,998.2 L1552.2,997.2 L1551.8,996.2 L1551.4,995.2 L1551.0,994.2 L1550.6,993.2 L1550.2,992.2 L1549.7,991.2 L1549.3,990.2 L1548.8,989.2 L1548.4,988.2 L1548.0,987.2 L1547.6,986.2 L1547.2,985.2 L1546.8,984.2 L1546.4,983.2 L1545.9,982.2 L1545.5,981.2 L1545.1,980.2 L1544.7,979.2 L1544.4,978.2 L1544.1,977.2 L1543.8,976.2 L1543.6,975.2 L1543.4,974.2 L1543.3,973.2 L1543.1,972.2 L1543.0,971.2 L1542.9,970.2 L1542.8,969.2 L1542.7,968.2 L1542.6,967.2 L1542.5,966.2 L1542.4,965.2 L1542.4,964.2 L1542.3,963.2 L1542.3,962.2 L1542.3,961.2 L1542.3,960.2 L1542.4,959.2 L1542.4,958.2 L1542.5,957.2 L1542.5,956.2 L1542.6,955.2 L1542.7,954.2 L1542.8,953.2 L1542.9,952.2 L1543.0,951.2 L1543.1,950.2 L1543.2,949.2 L1543.3,948.2 L1543.4,947.2 L1543.5,946.2 L1543.6,945.2 L1543.8,944.2 L1543.9,943.2 L1544.1,942.2 L1544.3,941.2 L1544.4,940.2 L1544.6,939.2 L1544.8,938.2 L1544.9,937.2 L1545.1,936.2 L1545.3,935.2 L1545.4,934.2 L1545.5,933.2 L1545.6,932.2 L1545.7,931.2 L1545.8,930.2 L1545.9,929.2 L1545.9,928.2 L1546.0,927.2 L1546.1,926.2 L1546.2,925.2 L1546.2,924.2 L1546.3,923.2 L1546.3,922.2 L1546.4,921.2 L1546.4,920.2 L1546.4,919.2 L1546.4,918.2 L1546.4,917.2 L1546.3,916.2 L1546.2,915.2 L1546.1,914.2 L1546.0,913.2 L1545.8,912.2 L1545.7,911.2 L1545.5,910.2 L1545.3,909.2 L1545.0,908.2 L1544.8,907.2 L1544.5,906.2 L1544.3,905.2 L1543.9,904.2 L1543.5,903.2 L1542.9,902.2 L1542.3,901.2 L1541.6,900.2 L1540.8,899.2 L1539.9,898.2 L1539.1,897.2 L1538.2,896.2 L1537.3,895.2 L1536.4,894.2 L1535.5,893.2 L1534.4,892.2 L1533.3,891.2 L1532.1,890.2 L1530.9,889.2 L1529.7,888.2 L1528.4,887.2 L1527.2,886.2 L1525.9,885.2 L1524.8,884.2 L1523.6,883.2 L1522.5,882.2 L1521.3,881.2 L1520.1,880.2 L1518.9,879.2 L1517.7,878.2 L1516.6,877.2 L1515.5,876.2 L1514.4,875.2 L1513.5,874.2 L1512.6,873.2 L1511.8,872.2 L1511.1,871.2 L1510.4,870.2 L1509.7,869.2 L1509.0,868.2 L1508.4,867.2 L1507.8,866.2 L1507.2,865.2 L1506.7,864.2 L1506.2,863.2 L1505.7,862.2 L1505.3,861.2 L1504.9,860.2 L1504.5,859.2 L1504.1,858.2 L1503.7,857.2 L1503.3,856.2 L1503.0,855.2 L1502.6,854.2 L1502.3,853.2 L1502.1,852.2 L1501.9,851.2 L1501.8,850.2 L1501.7,849.2 L1501.7,848.2 L1501.8,847.2 L1501.9,846.2 L1502.1,845.2 L1502.3,844.2 L1502.5,843.2 L1502.8,842.2 L1503.0,841.2 L1503.3,840.2 L1503.7,839.2 L1504.2,838.2 L1504.7,837.2 L1505.4,836.2 L1506.1,835.2 L1506.9,834.2 L1507.8,833.2 L1508.6,832.2 L1509.6,831.2 L1510.5,830.2 L1511.5,829.2 L1512.6,828.2 L1513.8,827.2 L1515.1,826.2 L1516.5,825.2 L1518.0,824.2 L1519.5,823.2 L1521.1,822.2 L1522.6,821.2 L1524.2,820.2 L1525.7,819.2 L1527.1,818.2 L1528.7,817.2 L1530.2,816.2 L1531.9,815.2 L1533.5,814.2 L1535.1,813.2 L1536.7,812.2 L1538.2,811.2 L1539.6,810.2 L1541.0,809.2 L1542.2,808.2 L1543.2,807.2 L1544.3,806.2 L1545.3,805.2 L1546.3,804.2 L1547.3,803.2 L1548.2,802.2 L1549.0,801.2 L1549.8,800.2 L1550.5,799.2 L1551.1,798.2 L1551.5,797.2 L1551.9,796.2 L1552.3,795.2 L1552.6,794.2 L1552.9,793.2 L1553.3,792.2 L1553.5,791.2 L1553.8,790.2 L1554.0,789.2 L1554.2,788.2 L1554.4,787.2 L1554.6,786.2 L1554.7,785.2 L1554.8,784.2 L1554.8,783.2 L1554.9,782.2 L1555.0,781.2 L1555.0,780.2 L1555.1,779.2 L1555.1,778.2 L1555.2,777.2 L1555.2,776.2 L1555.2,775.2 L1555.3,774.2 L1555.3,773.2 L1555.3,772.2 L1555.4,771.2 L1555.4,770.2 L1555.4,769.2 L1555.4,768.2 L1555.4,767.2 L1555.4,766.2 L1555.4,765.2 L1555.3,764.2 L1555.3,763.2 L1555.2,762.2 L1555.2,761.2 L1555.1,760.2 L1555.0,759.2 L1554.9,758.2 L1554.8,757.2 L1554.7,756.2 L1554.6,755.2 L1554.5,754.2 L1554.3,753.2 L1554.2,752.2 L1554.1,751.2 L1554.0,750.2 L1553.9,749.2 L1553.8,748.2 L1553.6,747.2 L1553.4,746.2 L1553.3,745.2 L1553.1,744.2 L1552.9,743.2 L1552.7,742.2 L1552.5,741.2 L1552.3,740.2 L1552.2,739.2 L1552.1,738.2 L1552.0,737.2 L1551.9,736.2 L1551.9,735.2 L1551.9,734.2 L1552.0,733.2 L1552.0,732.2 L1552.1,731.2 L1552.2,730.2 L1552.4,729.2 L1552.5,728.2 L1552.6,727.2 L1552.8,726.2 L1552.9,725.2 L1553.1,724.2 L1553.2,723.2 L1553.4,722.2 L1553.5,721.2 L1553.7,720.2 L1553.8,719.2 L1554.0,718.2 L1554.2,717.2 L1554.3,716.2 L1554.5,715.2 L1554.7,714.2 L1554.9,713.2 L1555.1,712.2 L1555.3,711.2 L1555.6,710.2 L1555.8,709.2 L1556.0,708.2Z" fill="#CC982B" stroke="#363636" stroke-width="4.6" stroke-linejoin="round"/>
<rect x="1527.9" y="860.9" width="62" height="10.7" fill="#000"/>
<circle cx="1527.9" cy="866.3" r="2.3" fill="#000"/><circle cx="1589.9" cy="866.3" r="2.3" fill="#000"/>
<path d="M1684.9,706.0 L1684.9,707.0 L1684.9,708.0 L1684.9,709.0 L1684.9,710.0 L1684.9,711.0 L1684.9,712.0 L1684.9,713.0 L1684.9,714.0 L1684.9,715.0 L1684.9,716.0 L1684.9,717.0 L1684.9,718.0 L1684.9,719.0 L1684.9,720.0 L1684.9,721.0 L1684.9,722.0 L1684.9,723.0 L1684.9,724.0 L1684.9,725.0 L1685.0,726.0 L1685.0,727.0 L1685.0,728.0 L1685.0,729.0 L1685.0,730.0 L1685.0,731.0 L1685.0,732.0 L1685.0,733.0 L1685.0,734.0 L1685.0,735.0 L1685.0,736.0 L1685.0,737.0 L1685.0,738.0 L1685.0,739.0 L1685.1,740.0 L1685.1,741.0 L1685.1,742.0 L1685.1,743.0 L1685.1,744.0 L1685.1,745.0 L1685.1,746.0 L1685.2,747.0 L1685.2,748.0 L1685.3,749.0 L1685.3,750.0 L1685.4,751.0 L1685.5,752.0 L1685.6,753.0 L1685.7,754.0 L1685.8,755.0 L1685.9,756.0 L1686.0,757.0 L1686.2,758.0 L1686.3,759.0 L1686.4,760.0 L1686.5,761.0 L1686.6,762.0 L1686.7,763.0 L1686.9,764.0 L1687.0,765.0 L1687.0,766.0 L1687.1,767.0 L1687.2,768.0 L1687.3,769.0 L1687.3,770.0 L1687.4,771.0 L1687.5,772.0 L1687.5,773.0 L1687.6,774.0 L1687.7,775.0 L1687.7,776.0 L1687.8,777.0 L1687.9,778.0 L1687.9,779.0 L1688.0,780.0 L1688.1,781.0 L1688.1,782.0 L1688.2,783.0 L1688.3,784.0 L1688.3,785.0 L1688.4,786.0 L1688.5,787.0 L1688.6,788.0 L1688.7,789.0 L1688.7,790.0 L1688.8,791.0 L1688.9,792.0 L1689.0,793.0 L1689.1,794.0 L1689.2,795.0 L1689.3,796.0 L1689.4,797.0 L1689.5,798.0 L1689.6,799.0 L1689.8,800.0 L1689.9,801.0 L1690.0,802.0 L1690.2,803.0 L1690.4,804.0 L1690.6,805.0 L1690.9,806.0 L1691.2,807.0 L1691.5,808.0 L1691.9,809.0 L1692.3,810.0 L1692.8,811.0 L1693.2,812.0 L1693.7,813.0 L1694.2,814.0 L1694.7,815.0 L1695.2,816.0 L1695.8,817.0 L1696.4,818.0 L1697.0,819.0 L1697.7,820.0 L1698.4,821.0 L1699.2,822.0 L1699.9,823.0 L1700.8,824.0 L1701.6,825.0 L1702.5,826.0 L1703.3,827.0 L1704.2,828.0 L1705.1,829.0 L1705.9,830.0 L1706.8,831.0 L1707.8,832.0 L1708.8,833.0 L1709.7,834.0 L1710.8,835.0 L1711.8,836.0 L1712.8,837.0 L1713.9,838.0 L1714.9,839.0 L1715.9,840.0 L1717.0,841.0 L1718.0,842.0 L1719.0,843.0 L1720.0,844.0 L1721.1,845.0 L1722.2,846.0 L1723.3,847.0 L1724.4,848.0 L1725.5,849.0 L1726.5,850.0 L1727.6,851.0 L1728.6,852.0 L1729.5,853.0 L1730.3,854.0 L1731.1,855.0 L1731.9,856.0 L1732.6,857.0 L1733.3,858.0 L1734.1,859.0 L1734.8,860.0 L1735.5,861.0 L1736.2,862.0 L1736.9,863.0 L1737.5,864.0 L1738.1,865.0 L1738.6,866.0 L1739.1,867.0 L1739.5,868.0 L1739.8,869.0 L1740.0,870.0 L1740.2,871.0 L1740.2,872.0 L1740.0,873.0 L1739.7,874.0 L1739.2,875.0 L1738.6,876.0 L1737.8,877.0 L1737.0,878.0 L1736.1,879.0 L1735.1,880.0 L1734.2,881.0 L1733.2,882.0 L1732.0,883.0 L1730.6,884.0 L1729.0,885.0 L1727.3,886.0 L1725.6,887.0 L1723.7,888.0 L1721.9,889.0 L1720.1,890.0 L1718.4,891.0 L1716.8,892.0 L1715.3,893.0 L1713.7,894.0 L1712.2,895.0 L1710.7,896.0 L1709.2,897.0 L1707.7,898.0 L1706.3,899.0 L1705.0,900.0 L1703.7,901.0 L1702.5,902.0 L1701.4,903.0 L1700.4,904.0 L1699.4,905.0 L1698.4,906.0 L1697.4,907.0 L1696.5,908.0 L1695.7,909.0 L1694.9,910.0 L1694.1,911.0 L1693.5,912.0 L1692.9,913.0 L1692.5,914.0 L1692.1,915.0 L1691.8,916.0 L1691.5,917.0 L1691.2,918.0 L1690.9,919.0 L1690.7,920.0 L1690.4,921.0 L1690.2,922.0 L1690.0,923.0 L1689.8,924.0 L1689.6,925.0 L1689.5,926.0 L1689.3,927.0 L1689.1,928.0 L1689.0,929.0 L1688.8,930.0 L1688.7,931.0 L1688.5,932.0 L1688.4,933.0 L1688.3,934.0 L1688.1,935.0 L1688.0,936.0 L1687.9,937.0 L1687.8,938.0 L1687.7,939.0 L1687.6,940.0 L1687.5,941.0 L1687.3,942.0 L1687.2,943.0 L1687.1,944.0 L1687.0,945.0 L1686.9,946.0 L1686.8,947.0 L1686.7,948.0 L1686.6,949.0 L1686.5,950.0 L1686.4,951.0 L1686.3,952.0 L1686.2,953.0 L1686.1,954.0 L1686.0,955.0 L1685.9,956.0 L1685.9,957.0 L1685.8,958.0 L1685.7,959.0 L1685.6,960.0 L1685.5,961.0 L1685.5,962.0 L1685.4,963.0 L1685.4,964.0 L1685.3,965.0 L1685.2,966.0 L1685.2,967.0 L1685.1,968.0 L1685.1,969.0 L1685.0,970.0 L1685.0,971.0 L1684.9,972.0 L1684.9,973.0 L1684.8,974.0 L1684.8,975.0 L1684.7,976.0 L1684.7,977.0 L1684.6,978.0 L1684.6,979.0 L1684.5,980.0 L1684.5,981.0 L1684.4,982.0 L1684.4,983.0 L1684.4,984.0 L1684.3,985.0 L1684.3,986.0 L1684.2,987.0 L1684.2,988.0 L1684.1,989.0 L1684.1,989.9 L1682.5,989.9 L1682.5,989.0 L1682.4,988.0 L1682.4,987.0 L1682.3,986.0 L1682.3,985.0 L1682.2,984.0 L1682.2,983.0 L1682.2,982.0 L1682.1,981.0 L1682.1,980.0 L1682.0,979.0 L1682.0,978.0 L1681.9,977.0 L1681.9,976.0 L1681.8,975.0 L1681.8,974.0 L1681.7,973.0 L1681.7,972.0 L1681.6,971.0 L1681.6,970.0 L1681.5,969.0 L1681.5,968.0 L1681.4,967.0 L1681.4,966.0 L1681.3,965.0 L1681.2,964.0 L1681.2,963.0 L1681.1,962.0 L1681.1,961.0 L1681.0,960.0 L1680.9,959.0 L1680.8,958.0 L1680.7,957.0 L1680.7,956.0 L1680.6,955.0 L1680.5,954.0 L1680.4,953.0 L1680.3,952.0 L1680.2,951.0 L1680.1,950.0 L1680.0,949.0 L1679.9,948.0 L1679.8,947.0 L1679.7,946.0 L1679.6,945.0 L1679.5,944.0 L1679.4,943.0 L1679.3,942.0 L1679.1,941.0 L1679.0,940.0 L1678.9,939.0 L1678.8,938.0 L1678.7,937.0 L1678.6,936.0 L1678.5,935.0 L1678.3,934.0 L1678.2,933.0 L1678.1,932.0 L1677.9,931.0 L1677.8,930.0 L1677.6,929.0 L1677.5,928.0 L1677.3,927.0 L1677.1,926.0 L1677.0,925.0 L1676.8,924.0 L1676.6,923.0 L1676.4,922.0 L1676.2,921.0 L1675.9,920.0 L1675.7,919.0 L1675.4,918.0 L1675.1,917.0 L1674.8,916.0 L1674.5,915.0 L1674.1,914.0 L1673.7,913.0 L1673.1,912.0 L1672.5,911.0 L1671.7,910.0 L1670.9,909.0 L1670.1,908.0 L1669.2,907.0 L1668.2,906.0 L1667.2,905.0 L1666.2,904.0 L1665.2,903.0 L1664.1,902.0 L1662.9,901.0 L1661.6,900.0 L1660.3,899.0 L1658.9,898.0 L1657.4,897.0 L1655.9,896.0 L1654.4,895.0 L1652.9,894.0 L1651.3,893.0 L1649.8,892.0 L1648.2,891.0 L1646.5,890.0 L1644.7,889.0 L1642.9,888.0 L1641.0,887.0 L1639.3,886.0 L1637.6,885.0 L1636.0,884.0 L1634.6,883.0 L1633.4,882.0 L1632.4,881.0 L1631.5,880.0 L1630.5,879.0 L1629.6,878.0 L1628.8,877.0 L1628.0,876.0 L1627.4,875.0 L1626.9,874.0 L1626.6,873.0 L1626.4,872.0 L1626.4,871.0 L1626.6,870.0 L1626.8,869.0 L1627.1,868.0 L1627.5,867.0 L1628.0,866.0 L1628.5,865.0 L1629.1,864.0 L1629.7,863.0 L1630.4,862.0 L1631.1,861.0 L1631.8,860.0 L1632.5,859.0 L1633.3,858.0 L1634.0,857.0 L1634.7,856.0 L1635.5,855.0 L1636.3,854.0 L1637.1,853.0 L1638.0,852.0 L1639.0,851.0 L1640.1,850.0 L1641.1,849.0 L1642.2,848.0 L1643.3,847.0 L1644.4,846.0 L1645.5,845.0 L1646.6,844.0 L1647.6,843.0 L1648.6,842.0 L1649.6,841.0 L1650.7,840.0 L1651.7,839.0 L1652.7,838.0 L1653.8,837.0 L1654.8,836.0 L1655.8,835.0 L1656.9,834.0 L1657.8,833.0 L1658.8,832.0 L1659.8,831.0 L1660.7,830.0 L1661.5,829.0 L1662.4,828.0 L1663.3,827.0 L1664.1,826.0 L1665.0,825.0 L1665.8,824.0 L1666.7,823.0 L1667.4,822.0 L1668.2,821.0 L1668.9,820.0 L1669.6,819.0 L1670.2,818.0 L1670.8,817.0 L1671.4,816.0 L1671.9,815.0 L1672.4,814.0 L1672.9,813.0 L1673.4,812.0 L1673.8,811.0 L1674.3,810.0 L1674.7,809.0 L1675.1,808.0 L1675.4,807.0 L1675.7,806.0 L1676.0,805.0 L1676.2,804.0 L1676.4,803.0 L1676.6,802.0 L1676.7,801.0 L1676.8,800.0 L1677.0,799.0 L1677.1,798.0 L1677.2,797.0 L1677.3,796.0 L1677.4,795.0 L1677.5,794.0 L1677.6,793.0 L1677.7,792.0 L1677.8,791.0 L1677.9,790.0 L1677.9,789.0 L1678.0,788.0 L1678.1,787.0 L1678.2,786.0 L1678.3,785.0 L1678.3,784.0 L1678.4,783.0 L1678.5,782.0 L1678.5,781.0 L1678.6,780.0 L1678.7,779.0 L1678.7,778.0 L1678.8,777.0 L1678.9,776.0 L1678.9,775.0 L1679.0,774.0 L1679.1,773.0 L1679.1,772.0 L1679.2,771.0 L1679.3,770.0 L1679.3,769.0 L1679.4,768.0 L1679.5,767.0 L1679.6,766.0 L1679.6,765.0 L1679.7,764.0 L1679.9,763.0 L1680.0,762.0 L1680.1,761.0 L1680.2,760.0 L1680.3,759.0 L1680.4,758.0 L1680.6,757.0 L1680.7,756.0 L1680.8,755.0 L1680.9,754.0 L1681.0,753.0 L1681.1,752.0 L1681.2,751.0 L1681.3,750.0 L1681.3,749.0 L1681.4,748.0 L1681.4,747.0 L1681.5,746.0 L1681.5,745.0 L1681.5,744.0 L1681.5,743.0 L1681.5,742.0 L1681.5,741.0 L1681.5,740.0 L1681.6,739.0 L1681.6,738.0 L1681.6,737.0 L1681.6,736.0 L1681.6,735.0 L1681.6,734.0 L1681.6,733.0 L1681.6,732.0 L1681.6,731.0 L1681.6,730.0 L1681.6,729.0 L1681.6,728.0 L1681.6,727.0 L1681.6,726.0 L1681.7,725.0 L1681.7,724.0 L1681.7,723.0 L1681.7,722.0 L1681.7,721.0 L1681.7,720.0 L1681.7,719.0 L1681.7,718.0 L1681.7,717.0 L1681.7,716.0 L1681.7,715.0 L1681.7,714.0 L1681.7,713.0 L1681.7,712.0 L1681.7,711.0 L1681.7,710.0 L1681.7,709.0 L1681.7,708.0 L1681.7,707.0 L1681.7,706.0Z" fill="#7FB23F" stroke="#363636" stroke-width="4.6" stroke-linejoin="round"/>
<rect x="1652.3" y="864.2" width="62" height="10.7" fill="#000"/>
<circle cx="1652.3" cy="869.6" r="2.3" fill="#000"/><circle cx="1714.3" cy="869.6" r="2.3" fill="#000"/>
<path d="M1827.8,724.4 L1828.4,725.4 L1829.0,726.4 L1829.5,727.4 L1830.0,728.4 L1830.5,729.4 L1830.9,730.4 L1831.3,731.4 L1831.7,732.4 L1831.9,733.4 L1832.1,734.4 L1832.3,735.4 L1832.5,736.4 L1832.6,737.4 L1832.8,738.4 L1832.9,739.4 L1833.0,740.4 L1833.1,741.4 L1833.2,742.4 L1833.3,743.4 L1833.3,744.4 L1833.3,745.4 L1833.2,746.4 L1833.0,747.4 L1832.8,748.4 L1832.5,749.4 L1832.1,750.4 L1831.7,751.4 L1831.3,752.4 L1830.9,753.4 L1830.5,754.4 L1830.1,755.4 L1829.8,756.4 L1829.4,757.4 L1829.0,758.4 L1828.5,759.4 L1828.0,760.4 L1827.5,761.4 L1827.1,762.4 L1826.6,763.4 L1826.1,764.4 L1825.7,765.4 L1825.3,766.4 L1825.0,767.4 L1824.7,768.4 L1824.5,769.4 L1824.2,770.4 L1824.0,771.4 L1823.8,772.4 L1823.6,773.4 L1823.4,774.4 L1823.2,775.4 L1823.0,776.4 L1822.9,777.4 L1822.8,778.4 L1822.8,779.4 L1822.8,780.4 L1822.9,781.4 L1823.0,782.4 L1823.2,783.4 L1823.5,784.4 L1823.7,785.4 L1824.0,786.4 L1824.4,787.4 L1824.8,788.4 L1825.2,789.4 L1825.6,790.4 L1826.1,791.4 L1826.7,792.4 L1827.5,793.4 L1828.5,794.4 L1829.5,795.4 L1830.7,796.4 L1831.9,797.4 L1833.1,798.4 L1834.3,799.4 L1835.5,800.4 L1836.6,801.4 L1837.8,802.4 L1839.0,803.4 L1840.3,804.4 L1841.6,805.4 L1843.0,806.4 L1844.3,807.4 L1845.7,808.4 L1847.0,809.4 L1848.3,810.4 L1849.6,811.4 L1850.7,812.4 L1851.8,813.4 L1852.8,814.4 L1853.7,815.4 L1854.7,816.4 L1855.6,817.4 L1856.5,818.4 L1857.4,819.4 L1858.3,820.4 L1859.1,821.4 L1859.8,822.4 L1860.5,823.4 L1861.1,824.4 L1861.7,825.4 L1862.2,826.4 L1862.5,827.4 L1862.9,828.4 L1863.2,829.4 L1863.5,830.4 L1863.8,831.4 L1864.1,832.4 L1864.4,833.4 L1864.6,834.4 L1864.8,835.4 L1865.0,836.4 L1865.2,837.4 L1865.3,838.4 L1865.4,839.4 L1865.5,840.4 L1865.5,841.4 L1865.5,842.4 L1865.4,843.4 L1865.2,844.4 L1865.1,845.4 L1864.8,846.4 L1864.6,847.4 L1864.3,848.4 L1864.0,849.4 L1863.7,850.4 L1863.3,851.4 L1863.0,852.4 L1862.7,853.4 L1862.3,854.4 L1861.8,855.4 L1861.3,856.4 L1860.7,857.4 L1860.1,858.4 L1859.5,859.4 L1858.8,860.4 L1858.0,861.4 L1857.3,862.4 L1856.5,863.4 L1855.8,864.4 L1855.0,865.4 L1854.3,866.4 L1853.5,867.4 L1852.8,868.4 L1852.0,869.4 L1851.3,870.4 L1850.5,871.4 L1849.8,872.4 L1849.0,873.4 L1848.2,874.4 L1847.4,875.4 L1846.6,876.4 L1845.8,877.4 L1844.9,878.4 L1844.1,879.4 L1843.3,880.4 L1842.6,881.4 L1841.8,882.4 L1841.0,883.4 L1840.3,884.4 L1839.5,885.4 L1838.8,886.4 L1838.0,887.4 L1837.2,888.4 L1836.5,889.4 L1835.7,890.4 L1835.0,891.4 L1834.3,892.4 L1833.6,893.4 L1832.9,894.4 L1832.2,895.4 L1831.5,896.4 L1830.9,897.4 L1830.3,898.4 L1829.7,899.4 L1829.1,900.4 L1828.6,901.4 L1828.0,902.4 L1827.5,903.4 L1827.0,904.4 L1826.4,905.4 L1825.9,906.4 L1825.4,907.4 L1825.0,908.4 L1824.5,909.4 L1824.1,910.4 L1823.7,911.4 L1823.3,912.4 L1823.0,913.4 L1822.7,914.4 L1822.4,915.4 L1822.1,916.4 L1821.8,917.4 L1821.5,918.4 L1821.2,919.4 L1821.0,920.4 L1820.7,921.4 L1820.5,922.4 L1820.3,923.4 L1820.1,924.4 L1820.0,925.4 L1819.9,926.4 L1819.8,927.4 L1819.7,928.4 L1819.6,929.4 L1819.5,930.4 L1819.4,931.4 L1819.4,932.4 L1819.3,933.4 L1819.3,934.4 L1819.2,935.4 L1819.2,936.4 L1819.1,937.4 L1819.1,938.4 L1819.1,939.4 L1819.1,940.4 L1819.2,941.4 L1819.3,942.4 L1819.4,943.4 L1819.6,944.4 L1819.8,945.4 L1820.1,946.4 L1820.3,947.4 L1820.5,948.4 L1820.7,949.4 L1820.9,950.4 L1821.0,951.4 L1821.1,952.4 L1821.1,953.4 L1821.1,954.4 L1821.1,955.4 L1821.1,956.4 L1821.1,957.4 L1821.1,958.4 L1821.1,959.4 L1821.1,960.4 L1821.0,961.4 L1821.0,962.4 L1821.0,963.4 L1820.9,964.4 L1820.9,965.4 L1820.8,966.4 L1820.8,967.4 L1820.7,968.4 L1820.6,969.4 L1820.5,970.4 L1820.4,971.4 L1820.3,972.4 L1820.3,972.5 L1796.3,972.5 L1796.3,972.4 L1796.2,971.4 L1796.1,970.4 L1796.0,969.4 L1795.9,968.4 L1795.8,967.4 L1795.8,966.4 L1795.7,965.4 L1795.7,964.4 L1795.6,963.4 L1795.6,962.4 L1795.6,961.4 L1795.5,960.4 L1795.5,959.4 L1795.5,958.4 L1795.5,957.4 L1795.5,956.4 L1795.5,955.4 L1795.5,954.4 L1795.5,953.4 L1795.5,952.4 L1795.6,951.4 L1795.7,950.4 L1795.9,949.4 L1796.1,948.4 L1796.3,947.4 L1796.5,946.4 L1796.8,945.4 L1797.0,944.4 L1797.2,943.4 L1797.3,942.4 L1797.4,941.4 L1797.5,940.4 L1797.5,939.4 L1797.5,938.4 L1797.5,937.4 L1797.4,936.4 L1797.4,935.4 L1797.3,934.4 L1797.3,933.4 L1797.2,932.4 L1797.2,931.4 L1797.1,930.4 L1797.0,929.4 L1796.9,928.4 L1796.8,927.4 L1796.7,926.4 L1796.6,925.4 L1796.5,924.4 L1796.3,923.4 L1796.1,922.4 L1795.9,921.4 L1795.6,920.4 L1795.4,919.4 L1795.1,918.4 L1794.8,917.4 L1794.5,916.4 L1794.2,915.4 L1793.9,914.4 L1793.6,913.4 L1793.3,912.4 L1792.9,911.4 L1792.5,910.4 L1792.1,909.4 L1791.6,908.4 L1791.2,907.4 L1790.7,906.4 L1790.2,905.4 L1789.6,904.4 L1789.1,903.4 L1788.6,902.4 L1788.0,901.4 L1787.5,900.4 L1786.9,899.4 L1786.3,898.4 L1785.7,897.4 L1785.1,896.4 L1784.4,895.4 L1783.7,894.4 L1783.0,893.4 L1782.3,892.4 L1781.6,891.4 L1780.9,890.4 L1780.1,889.4 L1779.4,888.4 L1778.6,887.4 L1777.8,886.4 L1777.1,885.4 L1776.3,884.4 L1775.6,883.4 L1774.8,882.4 L1774.0,881.4 L1773.3,880.4 L1772.5,879.4 L1771.7,878.4 L1770.8,877.4 L1770.0,876.4 L1769.2,875.4 L1768.4,874.4 L1767.6,873.4 L1766.8,872.4 L1766.1,871.4 L1765.3,870.4 L1764.6,869.4 L1763.8,868.4 L1763.1,867.4 L1762.3,866.4 L1761.6,865.4 L1760.8,864.4 L1760.1,863.4 L1759.3,862.4 L1758.6,861.4 L1757.8,860.4 L1757.1,859.4 L1756.5,858.4 L1755.9,857.4 L1755.3,856.4 L1754.8,855.4 L1754.3,854.4 L1753.9,853.4 L1753.6,852.4 L1753.3,851.4 L1752.9,850.4 L1752.6,849.4 L1752.3,848.4 L1752.0,847.4 L1751.8,846.4 L1751.5,845.4 L1751.4,844.4 L1751.2,843.4 L1751.1,842.4 L1751.1,841.4 L1751.1,840.4 L1751.2,839.4 L1751.3,838.4 L1751.4,837.4 L1751.6,836.4 L1751.8,835.4 L1752.0,834.4 L1752.2,833.4 L1752.5,832.4 L1752.8,831.4 L1753.1,830.4 L1753.4,829.4 L1753.7,828.4 L1754.1,827.4 L1754.4,826.4 L1754.9,825.4 L1755.5,824.4 L1756.1,823.4 L1756.8,822.4 L1757.5,821.4 L1758.3,820.4 L1759.2,819.4 L1760.1,818.4 L1761.0,817.4 L1761.9,816.4 L1762.9,815.4 L1763.8,814.4 L1764.8,813.4 L1765.9,812.4 L1767.0,811.4 L1768.3,810.4 L1769.6,809.4 L1770.9,808.4 L1772.3,807.4 L1773.6,806.4 L1775.0,805.4 L1776.3,804.4 L1777.6,803.4 L1778.8,802.4 L1780.0,801.4 L1781.1,800.4 L1782.3,799.4 L1783.5,798.4 L1784.7,797.4 L1785.9,796.4 L1787.1,795.4 L1788.1,794.4 L1789.1,793.4 L1789.9,792.4 L1790.5,791.4 L1791.0,790.4 L1791.4,789.4 L1791.8,788.4 L1792.2,787.4 L1792.6,786.4 L1792.9,785.4 L1793.1,784.4 L1793.4,783.4 L1793.6,782.4 L1793.7,781.4 L1793.8,780.4 L1793.8,779.4 L1793.8,778.4 L1793.7,777.4 L1793.6,776.4 L1793.4,775.4 L1793.2,774.4 L1793.0,773.4 L1792.8,772.4 L1792.6,771.4 L1792.4,770.4 L1792.1,769.4 L1791.9,768.4 L1791.6,767.4 L1791.3,766.4 L1790.9,765.4 L1790.5,764.4 L1790.0,763.4 L1789.5,762.4 L1789.1,761.4 L1788.6,760.4 L1788.1,759.4 L1787.6,758.4 L1787.2,757.4 L1786.8,756.4 L1786.5,755.4 L1786.1,754.4 L1785.7,753.4 L1785.3,752.4 L1784.9,751.4 L1784.5,750.4 L1784.1,749.4 L1783.8,748.4 L1783.6,747.4 L1783.4,746.4 L1783.3,745.4 L1783.3,744.4 L1783.3,743.4 L1783.4,742.4 L1783.5,741.4 L1783.6,740.4 L1783.7,739.4 L1783.8,738.4 L1784.0,737.4 L1784.1,736.4 L1784.3,735.4 L1784.5,734.4 L1784.7,733.4 L1784.9,732.4 L1785.3,731.4 L1785.7,730.4 L1786.1,729.4 L1786.6,728.4 L1787.1,727.4 L1787.6,726.4 L1788.2,725.4 L1788.8,724.4Z" fill="#2EB668" stroke="#363636" stroke-width="4.6" stroke-linejoin="round"/>
<rect x="1777.3" y="838.9" width="62" height="10.7" fill="#000"/>
<circle cx="1777.3" cy="844.2" r="2.3" fill="#000"/><circle cx="1839.3" cy="844.2" r="2.3" fill="#000"/>
<path d="M1942.9,703.8 L1943.3,704.8 L1943.7,705.8 L1944.1,706.8 L1944.5,707.8 L1944.9,708.8 L1945.2,709.8 L1945.6,710.8 L1946.0,711.8 L1946.5,712.8 L1946.9,713.8 L1947.3,714.8 L1947.7,715.8 L1948.1,716.8 L1948.5,717.8 L1948.9,718.8 L1949.3,719.8 L1949.7,720.8 L1950.2,721.8 L1950.6,722.8 L1951.0,723.8 L1951.4,724.8 L1951.9,725.8 L1952.3,726.8 L1952.8,727.8 L1953.2,728.8 L1953.7,729.8 L1954.1,730.8 L1954.6,731.8 L1955.0,732.8 L1955.5,733.8 L1955.9,734.8 L1956.4,735.8 L1956.8,736.8 L1957.3,737.8 L1957.7,738.8 L1958.2,739.8 L1958.6,740.8 L1959.1,741.8 L1959.5,742.8 L1960.0,743.8 L1960.4,744.8 L1960.9,745.8 L1961.3,746.8 L1961.8,747.8 L1962.2,748.8 L1962.7,749.8 L1963.2,750.8 L1963.7,751.8 L1964.1,752.8 L1964.6,753.8 L1965.1,754.8 L1965.6,755.8 L1966.0,756.8 L1966.5,757.8 L1966.9,758.8 L1967.3,759.8 L1967.7,760.8 L1968.1,761.8 L1968.5,762.8 L1968.8,763.8 L1969.2,764.8 L1969.5,765.8 L1969.7,766.8 L1970.0,767.8 L1970.2,768.8 L1970.4,769.8 L1970.6,770.8 L1970.9,771.8 L1971.0,772.8 L1971.2,773.8 L1971.4,774.8 L1971.6,775.8 L1971.8,776.8 L1971.9,777.8 L1972.1,778.8 L1972.2,779.8 L1972.4,780.8 L1972.6,781.8 L1972.7,782.8 L1972.9,783.8 L1973.0,784.8 L1973.2,785.8 L1973.3,786.8 L1973.4,787.8 L1973.5,788.8 L1973.6,789.8 L1973.7,790.8 L1973.8,791.8 L1974.0,792.8 L1974.1,793.8 L1974.2,794.8 L1974.3,795.8 L1974.4,796.8 L1974.6,797.8 L1974.7,798.8 L1974.9,799.8 L1975.1,800.8 L1975.3,801.8 L1975.6,802.8 L1975.9,803.8 L1976.2,804.8 L1976.6,805.8 L1977.1,806.8 L1977.5,807.8 L1978.0,808.8 L1978.4,809.8 L1978.9,810.8 L1979.4,811.8 L1979.9,812.8 L1980.4,813.8 L1980.8,814.8 L1981.3,815.8 L1981.8,816.8 L1982.4,817.8 L1983.0,818.8 L1983.5,819.8 L1984.1,820.8 L1984.6,821.8 L1985.2,822.8 L1985.7,823.8 L1986.1,824.8 L1986.6,825.8 L1986.9,826.8 L1987.3,827.8 L1987.6,828.8 L1987.9,829.8 L1988.2,830.8 L1988.5,831.8 L1988.8,832.8 L1989.1,833.8 L1989.4,834.8 L1989.6,835.8 L1989.8,836.8 L1990.0,837.8 L1990.2,838.8 L1990.3,839.8 L1990.4,840.8 L1990.5,841.8 L1990.5,842.8 L1990.4,843.8 L1990.3,844.8 L1990.1,845.8 L1989.8,846.8 L1989.4,847.8 L1989.1,848.8 L1988.6,849.8 L1988.2,850.8 L1987.7,851.8 L1987.2,852.8 L1986.7,853.8 L1986.2,854.8 L1985.8,855.8 L1985.2,856.8 L1984.6,857.8 L1983.9,858.8 L1983.2,859.8 L1982.4,860.8 L1981.6,861.8 L1980.8,862.8 L1980.0,863.8 L1979.2,864.8 L1978.3,865.8 L1977.5,866.8 L1976.7,867.8 L1976.0,868.8 L1975.2,869.8 L1974.4,870.8 L1973.7,871.8 L1972.9,872.8 L1972.1,873.8 L1971.3,874.8 L1970.5,875.8 L1969.8,876.8 L1969.0,877.8 L1968.3,878.8 L1967.6,879.8 L1966.9,880.8 L1966.3,881.8 L1965.7,882.8 L1965.1,883.8 L1964.4,884.8 L1963.8,885.8 L1963.2,886.8 L1962.6,887.8 L1962.1,888.8 L1961.5,889.8 L1961.0,890.8 L1960.6,891.8 L1960.2,892.8 L1959.9,893.8 L1959.6,894.8 L1959.4,895.8 L1959.1,896.8 L1958.9,897.8 L1958.7,898.8 L1958.5,899.8 L1958.3,900.8 L1958.1,901.8 L1958.0,902.8 L1957.8,903.8 L1957.7,904.8 L1957.7,905.8 L1957.6,906.8 L1957.6,907.8 L1957.6,908.8 L1957.6,909.8 L1957.6,910.8 L1957.7,911.8 L1957.7,912.8 L1957.7,913.8 L1957.7,914.8 L1957.8,915.8 L1957.8,916.8 L1957.8,917.8 L1957.9,918.8 L1957.9,919.8 L1957.9,920.8 L1957.9,921.8 L1957.9,922.8 L1957.9,923.8 L1957.8,924.8 L1957.8,925.8 L1957.7,926.8 L1957.6,927.8 L1957.5,928.8 L1957.3,929.8 L1957.2,930.8 L1957.0,931.8 L1956.8,932.8 L1956.7,933.8 L1956.5,934.8 L1956.3,935.8 L1956.1,936.8 L1955.8,937.8 L1955.5,938.8 L1955.1,939.8 L1954.7,940.8 L1954.3,941.8 L1953.8,942.8 L1953.4,943.8 L1952.9,944.8 L1952.5,945.8 L1952.0,946.8 L1951.6,947.8 L1951.3,948.8 L1950.9,949.8 L1950.6,950.8 L1950.2,951.8 L1949.9,952.8 L1949.5,953.8 L1949.2,954.8 L1948.9,955.8 L1948.5,956.8 L1948.2,957.8 L1947.9,958.8 L1947.5,959.8 L1947.2,960.8 L1946.9,961.8 L1946.5,962.8 L1946.2,963.8 L1945.8,964.8 L1945.5,965.8 L1945.1,966.8 L1944.8,967.8 L1944.4,968.8 L1944.1,969.8 L1943.8,970.8 L1943.4,971.8 L1943.1,972.8 L1942.8,973.8 L1942.4,974.8 L1942.1,975.8 L1941.8,976.8 L1941.5,977.8 L1941.3,978.8 L1941.0,979.8 L1940.7,980.8 L1940.4,981.8 L1940.1,982.8 L1939.9,983.8 L1939.6,984.8 L1939.4,985.8 L1939.1,986.8 L1938.9,987.8 L1938.6,988.8 L1938.4,989.8 L1938.3,990.3 L1927.5,990.3 L1927.4,989.8 L1927.2,988.8 L1926.9,987.8 L1926.7,986.8 L1926.4,985.8 L1926.2,984.8 L1925.9,983.8 L1925.7,982.8 L1925.4,981.8 L1925.1,980.8 L1924.8,979.8 L1924.5,978.8 L1924.3,977.8 L1924.0,976.8 L1923.7,975.8 L1923.4,974.8 L1923.0,973.8 L1922.7,972.8 L1922.4,971.8 L1922.0,970.8 L1921.7,969.8 L1921.4,968.8 L1921.0,967.8 L1920.7,966.8 L1920.3,965.8 L1920.0,964.8 L1919.6,963.8 L1919.3,962.8 L1918.9,961.8 L1918.6,960.8 L1918.3,959.8 L1917.9,958.8 L1917.6,957.8 L1917.3,956.8 L1916.9,955.8 L1916.6,954.8 L1916.3,953.8 L1915.9,952.8 L1915.6,951.8 L1915.2,950.8 L1914.9,949.8 L1914.5,948.8 L1914.2,947.8 L1913.8,946.8 L1913.3,945.8 L1912.9,944.8 L1912.4,943.8 L1912.0,942.8 L1911.5,941.8 L1911.1,940.8 L1910.7,939.8 L1910.3,938.8 L1910.0,937.8 L1909.7,936.8 L1909.5,935.8 L1909.3,934.8 L1909.1,933.8 L1909.0,932.8 L1908.8,931.8 L1908.6,930.8 L1908.5,929.8 L1908.3,928.8 L1908.2,927.8 L1908.1,926.8 L1908.0,925.8 L1908.0,924.8 L1907.9,923.8 L1907.9,922.8 L1907.9,921.8 L1907.9,920.8 L1907.9,919.8 L1907.9,918.8 L1908.0,917.8 L1908.0,916.8 L1908.0,915.8 L1908.1,914.8 L1908.1,913.8 L1908.1,912.8 L1908.1,911.8 L1908.2,910.8 L1908.2,909.8 L1908.2,908.8 L1908.2,907.8 L1908.2,906.8 L1908.1,905.8 L1908.1,904.8 L1908.0,903.8 L1907.8,902.8 L1907.7,901.8 L1907.5,900.8 L1907.3,899.8 L1907.1,898.8 L1906.9,897.8 L1906.7,896.8 L1906.4,895.8 L1906.2,894.8 L1905.9,893.8 L1905.6,892.8 L1905.2,891.8 L1904.8,890.8 L1904.3,889.8 L1903.7,888.8 L1903.2,887.8 L1902.6,886.8 L1902.0,885.8 L1901.4,884.8 L1900.7,883.8 L1900.1,882.8 L1899.5,881.8 L1898.9,880.8 L1898.2,879.8 L1897.5,878.8 L1896.8,877.8 L1896.0,876.8 L1895.3,875.8 L1894.5,874.8 L1893.7,873.8 L1892.9,872.8 L1892.1,871.8 L1891.4,870.8 L1890.6,869.8 L1889.8,868.8 L1889.1,867.8 L1888.3,866.8 L1887.5,865.8 L1886.6,864.8 L1885.8,863.8 L1885.0,862.8 L1884.2,861.8 L1883.4,860.8 L1882.6,859.8 L1881.9,858.8 L1881.2,857.8 L1880.6,856.8 L1880.0,855.8 L1879.6,854.8 L1879.1,853.8 L1878.6,852.8 L1878.1,851.8 L1877.6,850.8 L1877.2,849.8 L1876.7,848.8 L1876.4,847.8 L1876.0,846.8 L1875.7,845.8 L1875.5,844.8 L1875.4,843.8 L1875.3,842.8 L1875.3,841.8 L1875.4,840.8 L1875.5,839.8 L1875.6,838.8 L1875.8,837.8 L1876.0,836.8 L1876.2,835.8 L1876.4,834.8 L1876.7,833.8 L1877.0,832.8 L1877.3,831.8 L1877.6,830.8 L1877.9,829.8 L1878.2,828.8 L1878.5,827.8 L1878.9,826.8 L1879.2,825.8 L1879.7,824.8 L1880.1,823.8 L1880.6,822.8 L1881.2,821.8 L1881.7,820.8 L1882.3,819.8 L1882.8,818.8 L1883.4,817.8 L1884.0,816.8 L1884.5,815.8 L1885.0,814.8 L1885.4,813.8 L1885.9,812.8 L1886.4,811.8 L1886.9,810.8 L1887.4,809.8 L1887.8,808.8 L1888.3,807.8 L1888.7,806.8 L1889.2,805.8 L1889.6,804.8 L1889.9,803.8 L1890.2,802.8 L1890.5,801.8 L1890.7,800.8 L1890.9,799.8 L1891.1,798.8 L1891.2,797.8 L1891.4,796.8 L1891.5,795.8 L1891.6,794.8 L1891.7,793.8 L1891.8,792.8 L1892.0,791.8 L1892.1,790.8 L1892.2,789.8 L1892.3,788.8 L1892.4,787.8 L1892.5,786.8 L1892.6,785.8 L1892.8,784.8 L1892.9,783.8 L1893.1,782.8 L1893.2,781.8 L1893.4,780.8 L1893.6,779.8 L1893.7,778.8 L1893.9,777.8 L1894.0,776.8 L1894.2,775.8 L1894.4,774.8 L1894.6,773.8 L1894.8,772.8 L1894.9,771.8 L1895.2,770.8 L1895.4,769.8 L1895.6,768.8 L1895.8,767.8 L1896.1,766.8 L1896.3,765.8 L1896.6,764.8 L1897.0,763.8 L1897.3,762.8 L1897.7,761.8 L1898.1,760.8 L1898.5,759.8 L1898.9,758.8 L1899.3,757.8 L1899.8,756.8 L1900.2,755.8 L1900.7,754.8 L1901.2,753.8 L1901.7,752.8 L1902.1,751.8 L1902.6,750.8 L1903.1,749.8 L1903.6,748.8 L1904.0,747.8 L1904.5,746.8 L1904.9,745.8 L1905.4,744.8 L1905.8,743.8 L1906.3,742.8 L1906.7,741.8 L1907.2,740.8 L1907.6,739.8 L1908.1,738.8 L1908.5,737.8 L1909.0,736.8 L1909.4,735.8 L1909.9,734.8 L1910.3,733.8 L1910.8,732.8 L1911.2,731.8 L1911.7,730.8 L1912.1,729.8 L1912.6,728.8 L1913.0,727.8 L1913.5,726.8 L1913.9,725.8 L1914.4,724.8 L1914.8,723.8 L1915.2,722.8 L1915.6,721.8 L1916.1,720.8 L1916.5,719.8 L1916.9,718.8 L1917.3,717.8 L1917.7,716.8 L1918.1,715.8 L1918.5,714.8 L1918.9,713.8 L1919.3,712.8 L1919.8,711.8 L1920.2,710.8 L1920.6,709.8 L1920.9,708.8 L1921.3,707.8 L1921.7,706.8 L1922.1,705.8 L1922.5,704.8 L1922.9,703.8Z" fill="#1FBEC3" stroke="#363636" stroke-width="4.6" stroke-linejoin="round"/>
<rect x="1901.9" y="833.9" width="62" height="10.7" fill="#000"/>
<circle cx="1901.9" cy="839.3" r="2.3" fill="#000"/><circle cx="1963.9" cy="839.3" r="2.3" fill="#000"/>
<path d="M2086.6,752.6 L2086.6,753.6 L2086.6,754.6 L2086.6,755.6 L2086.5,756.6 L2086.5,757.6 L2086.4,758.6 L2086.4,759.6 L2086.3,760.6 L2086.3,761.6 L2086.2,762.6 L2086.1,763.6 L2086.1,764.6 L2086.0,765.6 L2085.9,766.6 L2085.8,767.6 L2085.7,768.6 L2085.6,769.6 L2085.5,770.6 L2085.4,771.6 L2085.3,772.6 L2085.2,773.6 L2085.1,774.6 L2084.9,775.6 L2084.7,776.6 L2084.5,777.6 L2084.3,778.6 L2084.1,779.6 L2083.9,780.6 L2083.7,781.6 L2083.5,782.6 L2083.2,783.6 L2083.0,784.6 L2082.8,785.6 L2082.5,786.6 L2082.3,787.6 L2082.1,788.6 L2081.9,789.6 L2081.6,790.6 L2081.4,791.6 L2081.2,792.6 L2081.0,793.6 L2080.8,794.6 L2080.6,795.6 L2080.4,796.6 L2080.2,797.6 L2080.0,798.6 L2079.7,799.6 L2079.5,800.6 L2079.3,801.6 L2079.1,802.6 L2078.9,803.6 L2078.6,804.6 L2078.4,805.6 L2078.2,806.6 L2078.0,807.6 L2077.8,808.6 L2077.7,809.6 L2077.5,810.6 L2077.3,811.6 L2077.1,812.6 L2077.0,813.6 L2076.9,814.6 L2076.7,815.6 L2076.6,816.6 L2076.4,817.6 L2076.3,818.6 L2076.2,819.6 L2076.0,820.6 L2075.9,821.6 L2075.8,822.6 L2075.6,823.6 L2075.5,824.6 L2075.4,825.6 L2075.3,826.6 L2075.3,827.6 L2075.2,828.6 L2075.1,829.6 L2075.1,830.6 L2075.1,831.6 L2075.1,832.6 L2075.1,833.6 L2075.1,834.6 L2075.1,835.6 L2075.2,836.6 L2075.2,837.6 L2075.2,838.6 L2075.3,839.6 L2075.3,840.6 L2075.4,841.6 L2075.4,842.6 L2075.5,843.6 L2075.5,844.6 L2075.6,845.6 L2075.6,846.6 L2075.7,847.6 L2075.8,848.6 L2075.9,849.6 L2076.0,850.6 L2076.1,851.6 L2076.3,852.6 L2076.6,853.6 L2076.9,854.6 L2077.2,855.6 L2077.5,856.6 L2077.8,857.6 L2078.2,858.6 L2078.6,859.6 L2079.0,860.6 L2079.4,861.6 L2079.8,862.6 L2080.2,863.6 L2080.6,864.6 L2080.9,865.6 L2081.3,866.6 L2081.7,867.6 L2082.1,868.6 L2082.5,869.6 L2082.9,870.6 L2083.3,871.6 L2083.7,872.6 L2084.2,873.6 L2084.6,874.6 L2085.1,875.6 L2085.5,876.6 L2086.0,877.6 L2086.4,878.6 L2086.9,879.6 L2087.4,880.6 L2087.8,881.6 L2088.3,882.6 L2088.8,883.6 L2089.2,884.6 L2089.7,885.6 L2090.2,886.6 L2090.7,887.6 L2091.2,888.6 L2091.6,889.6 L2092.1,890.6 L2092.6,891.6 L2093.2,892.6 L2093.7,893.6 L2094.2,894.6 L2094.7,895.6 L2095.2,896.6 L2095.7,897.6 L2096.2,898.6 L2096.7,899.6 L2097.2,900.6 L2097.7,901.6 L2098.2,902.6 L2098.7,903.6 L2099.2,904.6 L2099.8,905.6 L2100.3,906.6 L2100.8,907.6 L2101.4,908.6 L2101.9,909.6 L2102.4,910.6 L2102.9,911.6 L2103.4,912.6 L2103.9,913.6 L2104.4,914.6 L2104.9,915.6 L2105.3,916.6 L2105.8,917.6 L2106.2,918.6 L2106.6,919.6 L2107.0,920.6 L2107.4,921.6 L2107.8,922.6 L2108.2,923.6 L2108.6,924.6 L2109.0,925.6 L2109.4,926.6 L2109.7,927.6 L2110.1,928.6 L2110.4,929.6 L2110.7,930.6 L2111.0,931.6 L2111.3,932.6 L2111.5,933.6 L2111.8,934.6 L2112.0,935.6 L2112.2,936.6 L2112.5,937.6 L2112.7,938.6 L2112.9,939.6 L2113.1,940.6 L2113.3,941.6 L2113.5,942.6 L2113.7,943.6 L2113.8,944.6 L2113.9,945.6 L2114.0,946.6 L2114.1,947.6 L2114.1,948.6 L2114.1,949.6 L2114.1,950.6 L2114.1,951.6 L2114.1,952.6 L2114.1,953.6 L2114.1,954.6 L2114.2,955.6 L2114.2,956.6 L2114.2,957.6 L2114.2,958.6 L2114.2,959.6 L2114.2,960.6 L2114.2,961.6 L2114.2,962.6 L2114.2,963.6 L2114.2,964.6 L2114.2,965.6 L2114.2,966.6 L2114.2,967.6 L2114.2,968.6 L2114.2,969.6 L2114.2,970.6 L2114.2,971.4 L2001.6,971.4 L2001.6,970.6 L2001.6,969.6 L2001.6,968.6 L2001.6,967.6 L2001.6,966.6 L2001.6,965.6 L2001.6,964.6 L2001.6,963.6 L2001.6,962.6 L2001.6,961.6 L2001.6,960.6 L2001.6,959.6 L2001.6,958.6 L2001.6,957.6 L2001.6,956.6 L2001.6,955.6 L2001.7,954.6 L2001.7,953.6 L2001.7,952.6 L2001.7,951.6 L2001.7,950.6 L2001.7,949.6 L2001.7,948.6 L2001.7,947.6 L2001.8,946.6 L2001.9,945.6 L2002.0,944.6 L2002.1,943.6 L2002.3,942.6 L2002.5,941.6 L2002.7,940.6 L2002.9,939.6 L2003.1,938.6 L2003.3,937.6 L2003.6,936.6 L2003.8,935.6 L2004.0,934.6 L2004.3,933.6 L2004.5,932.6 L2004.8,931.6 L2005.1,930.6 L2005.4,929.6 L2005.7,928.6 L2006.1,927.6 L2006.4,926.6 L2006.8,925.6 L2007.2,924.6 L2007.6,923.6 L2008.0,922.6 L2008.4,921.6 L2008.8,920.6 L2009.2,919.6 L2009.6,918.6 L2010.0,917.6 L2010.5,916.6 L2010.9,915.6 L2011.4,914.6 L2011.9,913.6 L2012.4,912.6 L2012.9,911.6 L2013.4,910.6 L2013.9,909.6 L2014.4,908.6 L2015.0,907.6 L2015.5,906.6 L2016.0,905.6 L2016.6,904.6 L2017.1,903.6 L2017.6,902.6 L2018.1,901.6 L2018.6,900.6 L2019.1,899.6 L2019.6,898.6 L2020.1,897.6 L2020.6,896.6 L2021.1,895.6 L2021.6,894.6 L2022.1,893.6 L2022.6,892.6 L2023.2,891.6 L2023.7,890.6 L2024.2,889.6 L2024.6,888.6 L2025.1,887.6 L2025.6,886.6 L2026.1,885.6 L2026.6,884.6 L2027.0,883.6 L2027.5,882.6 L2028.0,881.6 L2028.4,880.6 L2028.9,879.6 L2029.4,878.6 L2029.8,877.6 L2030.3,876.6 L2030.7,875.6 L2031.2,874.6 L2031.6,873.6 L2032.1,872.6 L2032.5,871.6 L2032.9,870.6 L2033.3,869.6 L2033.7,868.6 L2034.1,867.6 L2034.5,866.6 L2034.9,865.6 L2035.2,864.6 L2035.6,863.6 L2036.0,862.6 L2036.4,861.6 L2036.8,860.6 L2037.2,859.6 L2037.6,858.6 L2038.0,857.6 L2038.3,856.6 L2038.6,855.6 L2038.9,854.6 L2039.2,853.6 L2039.5,852.6 L2039.7,851.6 L2039.8,850.6 L2039.9,849.6 L2040.0,848.6 L2040.1,847.6 L2040.2,846.6 L2040.2,845.6 L2040.3,844.6 L2040.3,843.6 L2040.4,842.6 L2040.4,841.6 L2040.5,840.6 L2040.5,839.6 L2040.6,838.6 L2040.6,837.6 L2040.6,836.6 L2040.7,835.6 L2040.7,834.6 L2040.7,833.6 L2040.7,832.6 L2040.7,831.6 L2040.7,830.6 L2040.7,829.6 L2040.6,828.6 L2040.5,827.6 L2040.5,826.6 L2040.4,825.6 L2040.3,824.6 L2040.2,823.6 L2040.0,822.6 L2039.9,821.6 L2039.8,820.6 L2039.6,819.6 L2039.5,818.6 L2039.4,817.6 L2039.2,816.6 L2039.1,815.6 L2038.9,814.6 L2038.8,813.6 L2038.7,812.6 L2038.5,811.6 L2038.3,810.6 L2038.1,809.6 L2038.0,808.6 L2037.8,807.6 L2037.6,806.6 L2037.4,805.6 L2037.2,804.6 L2036.9,803.6 L2036.7,802.6 L2036.5,801.6 L2036.3,800.6 L2036.1,799.6 L2035.8,798.6 L2035.6,797.6 L2035.4,796.6 L2035.2,795.6 L2035.0,794.6 L2034.8,793.6 L2034.6,792.6 L2034.4,791.6 L2034.2,790.6 L2033.9,789.6 L2033.7,788.6 L2033.5,787.6 L2033.3,786.6 L2033.0,785.6 L2032.8,784.6 L2032.6,783.6 L2032.3,782.6 L2032.1,781.6 L2031.9,780.6 L2031.7,779.6 L2031.5,778.6 L2031.3,777.6 L2031.1,776.6 L2030.9,775.6 L2030.7,774.6 L2030.6,773.6 L2030.5,772.6 L2030.4,771.6 L2030.3,770.6 L2030.2,769.6 L2030.1,768.6 L2030.0,767.6 L2029.9,766.6 L2029.8,765.6 L2029.7,764.6 L2029.7,763.6 L2029.6,762.6 L2029.5,761.6 L2029.5,760.6 L2029.4,759.6 L2029.4,758.6 L2029.3,757.6 L2029.3,756.6 L2029.2,755.6 L2029.2,754.6 L2029.2,753.6 L2029.2,752.6Z" fill="#4A9FDA" stroke="#363636" stroke-width="4.6" stroke-linejoin="round"/>
<rect x="2026.9" y="940.8" width="62" height="10.7" fill="#000"/>
<circle cx="2026.9" cy="946.1" r="2.3" fill="#000"/><circle cx="2088.9" cy="946.1" r="2.3" fill="#000"/>
<path d="M2184.7,701.7 L2184.8,702.7 L2184.8,703.7 L2184.9,704.7 L2185.1,705.7 L2185.2,706.7 L2185.3,707.7 L2185.5,708.7 L2185.6,709.7 L2185.8,710.7 L2186.0,711.7 L2186.2,712.7 L2186.4,713.7 L2186.6,714.7 L2186.8,715.7 L2187.1,716.7 L2187.3,717.7 L2187.6,718.7 L2187.9,719.7 L2188.2,720.7 L2188.5,721.7 L2188.9,722.7 L2189.3,723.7 L2189.7,724.7 L2190.1,725.7 L2190.5,726.7 L2191.0,727.7 L2191.5,728.7 L2192.1,729.7 L2192.7,730.7 L2193.4,731.7 L2194.1,732.7 L2194.9,733.7 L2195.7,734.7 L2196.5,735.7 L2197.3,736.7 L2198.2,737.7 L2199.0,738.7 L2199.9,739.7 L2200.7,740.7 L2201.5,741.7 L2202.4,742.7 L2203.3,743.7 L2204.2,744.7 L2205.1,745.7 L2206.1,746.7 L2207.0,747.7 L2208.0,748.7 L2208.9,749.7 L2209.9,750.7 L2210.8,751.7 L2211.7,752.7 L2212.6,753.7 L2213.5,754.7 L2214.3,755.7 L2215.2,756.7 L2216.1,757.7 L2216.9,758.7 L2217.8,759.7 L2218.6,760.7 L2219.4,761.7 L2220.3,762.7 L2221.1,763.7 L2221.9,764.7 L2222.7,765.7 L2223.5,766.7 L2224.3,767.7 L2225.1,768.7 L2226.0,769.7 L2226.8,770.7 L2227.6,771.7 L2228.4,772.7 L2229.2,773.7 L2230.0,774.7 L2230.7,775.7 L2231.5,776.7 L2232.1,777.7 L2232.7,778.7 L2233.3,779.7 L2233.8,780.7 L2234.3,781.7 L2234.9,782.7 L2235.4,783.7 L2235.8,784.7 L2236.3,785.7 L2236.7,786.7 L2237.1,787.7 L2237.5,788.7 L2237.8,789.7 L2238.1,790.7 L2238.4,791.7 L2238.6,792.7 L2238.8,793.7 L2239.0,794.7 L2239.1,795.7 L2239.3,796.7 L2239.4,797.7 L2239.6,798.7 L2239.6,799.7 L2239.7,800.7 L2239.7,801.7 L2239.6,802.7 L2239.4,803.7 L2239.1,804.7 L2238.7,805.7 L2238.3,806.7 L2237.8,807.7 L2237.3,808.7 L2236.7,809.7 L2236.2,810.7 L2235.6,811.7 L2235.0,812.7 L2234.3,813.7 L2233.5,814.7 L2232.6,815.7 L2231.6,816.7 L2230.5,817.7 L2229.4,818.7 L2228.3,819.7 L2227.1,820.7 L2226.0,821.7 L2224.9,822.7 L2223.8,823.7 L2222.8,824.7 L2221.8,825.7 L2220.8,826.7 L2219.9,827.7 L2218.9,828.7 L2217.9,829.7 L2216.9,830.7 L2215.9,831.7 L2215.0,832.7 L2214.0,833.7 L2213.2,834.7 L2212.3,835.7 L2211.6,836.7 L2210.8,837.7 L2210.2,838.7 L2209.5,839.7 L2208.9,840.7 L2208.4,841.7 L2207.8,842.7 L2207.3,843.7 L2206.7,844.7 L2206.2,845.7 L2205.7,846.7 L2205.3,847.7 L2204.8,848.7 L2204.4,849.7 L2203.9,850.7 L2203.5,851.7 L2203.1,852.7 L2202.7,853.7 L2202.4,854.7 L2202.0,855.7 L2201.7,856.7 L2201.3,857.7 L2201.0,858.7 L2200.7,859.7 L2200.4,860.7 L2200.1,861.7 L2199.8,862.7 L2199.5,863.7 L2199.2,864.7 L2198.9,865.7 L2198.6,866.7 L2198.4,867.7 L2198.1,868.7 L2197.8,869.7 L2197.5,870.7 L2197.2,871.7 L2196.9,872.7 L2196.6,873.7 L2196.3,874.7 L2196.0,875.7 L2195.7,876.7 L2195.4,877.7 L2195.2,878.7 L2194.9,879.7 L2194.6,880.7 L2194.3,881.7 L2194.0,882.7 L2193.8,883.7 L2193.5,884.7 L2193.3,885.7 L2193.0,886.7 L2192.8,887.7 L2192.5,888.7 L2192.3,889.7 L2192.0,890.7 L2191.8,891.7 L2191.5,892.7 L2191.3,893.7 L2191.0,894.7 L2190.8,895.7 L2190.5,896.7 L2190.3,897.7 L2190.1,898.7 L2189.9,899.7 L2189.7,900.7 L2189.6,901.7 L2189.4,902.7 L2189.3,903.7 L2189.2,904.7 L2189.2,905.7 L2189.1,906.7 L2189.1,907.7 L2189.1,908.7 L2189.0,909.7 L2189.0,910.7 L2189.0,911.7 L2188.9,912.7 L2188.9,913.7 L2188.9,914.7 L2188.9,915.7 L2188.9,916.7 L2188.8,917.7 L2188.8,918.7 L2188.8,919.7 L2188.8,920.7 L2188.8,921.7 L2188.8,922.7 L2188.8,923.7 L2188.8,924.7 L2188.8,925.7 L2188.8,926.7 L2188.8,927.7 L2188.8,928.7 L2188.8,929.7 L2188.8,930.7 L2188.8,931.7 L2188.8,932.7 L2188.8,933.7 L2188.8,934.7 L2188.8,935.7 L2188.9,936.7 L2188.9,937.7 L2188.9,938.7 L2188.9,939.7 L2188.9,940.7 L2188.9,941.7 L2188.9,942.7 L2188.9,943.7 L2188.9,944.7 L2188.9,945.7 L2189.0,946.7 L2189.0,947.7 L2189.0,948.7 L2189.0,949.7 L2189.0,950.7 L2189.0,951.7 L2189.0,952.7 L2189.1,953.7 L2189.1,954.7 L2189.1,955.7 L2189.2,956.7 L2189.2,957.7 L2189.3,958.7 L2189.3,959.7 L2189.4,960.7 L2189.4,961.7 L2189.5,962.7 L2189.6,963.7 L2189.6,964.7 L2189.7,965.7 L2189.8,966.7 L2189.8,967.7 L2189.9,968.7 L2190.0,969.7 L2190.0,970.7 L2190.1,971.7 L2190.1,972.7 L2190.2,973.7 L2190.3,974.7 L2190.3,975.7 L2190.3,976.7 L2190.4,977.7 L2190.4,978.7 L2190.5,979.7 L2190.5,980.7 L2190.5,981.7 L2190.5,982.7 L2190.5,983.7 L2190.5,984.7 L2190.5,985.7 L2190.5,986.7 L2190.5,987.7 L2190.5,988.7 L2190.4,989.7 L2190.4,990.7 L2190.4,991.7 L2190.4,992.7 L2190.3,993.7 L2190.3,994.7 L2190.3,995.7 L2190.2,996.7 L2190.2,997.7 L2190.2,998.7 L2190.1,999.7 L2190.1,1000.7 L2190.0,1001.7 L2190.0,1002.7 L2190.0,1003.7 L2189.9,1004.7 L2189.9,1005.7 L2189.8,1006.7 L2189.7,1007.7 L2189.6,1008.7 L2189.5,1009.7 L2189.4,1010.7 L2189.3,1011.7 L2189.1,1012.7 L2189.0,1013.7 L2188.8,1014.7 L2188.7,1015.7 L2188.5,1016.7 L2188.4,1017.7 L2188.2,1018.7 L2188.1,1019.7 L2187.9,1020.7 L2187.8,1021.7 L2187.7,1022.7 L2187.5,1023.7 L2187.4,1024.7 L2187.3,1025.7 L2187.1,1026.7 L2187.0,1027.7 L2186.9,1028.7 L2186.7,1029.7 L2186.6,1030.7 L2186.5,1031.7 L2186.3,1032.7 L2186.2,1033.6 L2178.4,1033.6 L2178.3,1032.7 L2178.1,1031.7 L2178.0,1030.7 L2177.9,1029.7 L2177.7,1028.7 L2177.6,1027.7 L2177.5,1026.7 L2177.3,1025.7 L2177.2,1024.7 L2177.1,1023.7 L2176.9,1022.7 L2176.8,1021.7 L2176.7,1020.7 L2176.5,1019.7 L2176.4,1018.7 L2176.2,1017.7 L2176.1,1016.7 L2175.9,1015.7 L2175.8,1014.7 L2175.6,1013.7 L2175.5,1012.7 L2175.3,1011.7 L2175.2,1010.7 L2175.1,1009.7 L2175.0,1008.7 L2174.9,1007.7 L2174.8,1006.7 L2174.7,1005.7 L2174.7,1004.7 L2174.6,1003.7 L2174.6,1002.7 L2174.6,1001.7 L2174.5,1000.7 L2174.5,999.7 L2174.4,998.7 L2174.4,997.7 L2174.4,996.7 L2174.3,995.7 L2174.3,994.7 L2174.3,993.7 L2174.2,992.7 L2174.2,991.7 L2174.2,990.7 L2174.2,989.7 L2174.1,988.7 L2174.1,987.7 L2174.1,986.7 L2174.1,985.7 L2174.1,984.7 L2174.1,983.7 L2174.1,982.7 L2174.1,981.7 L2174.1,980.7 L2174.1,979.7 L2174.2,978.7 L2174.2,977.7 L2174.3,976.7 L2174.3,975.7 L2174.3,974.7 L2174.4,973.7 L2174.5,972.7 L2174.5,971.7 L2174.6,970.7 L2174.6,969.7 L2174.7,968.7 L2174.8,967.7 L2174.8,966.7 L2174.9,965.7 L2175.0,964.7 L2175.0,963.7 L2175.1,962.7 L2175.2,961.7 L2175.2,960.7 L2175.3,959.7 L2175.3,958.7 L2175.4,957.7 L2175.4,956.7 L2175.5,955.7 L2175.5,954.7 L2175.5,953.7 L2175.6,952.7 L2175.6,951.7 L2175.6,950.7 L2175.6,949.7 L2175.6,948.7 L2175.6,947.7 L2175.6,946.7 L2175.7,945.7 L2175.7,944.7 L2175.7,943.7 L2175.7,942.7 L2175.7,941.7 L2175.7,940.7 L2175.7,939.7 L2175.7,938.7 L2175.7,937.7 L2175.7,936.7 L2175.8,935.7 L2175.8,934.7 L2175.8,933.7 L2175.8,932.7 L2175.8,931.7 L2175.8,930.7 L2175.8,929.7 L2175.8,928.7 L2175.8,927.7 L2175.8,926.7 L2175.8,925.7 L2175.8,924.7 L2175.8,923.7 L2175.8,922.7 L2175.8,921.7 L2175.8,920.7 L2175.8,919.7 L2175.8,918.7 L2175.8,917.7 L2175.7,916.7 L2175.7,915.7 L2175.7,914.7 L2175.7,913.7 L2175.7,912.7 L2175.6,911.7 L2175.6,910.7 L2175.6,909.7 L2175.5,908.7 L2175.5,907.7 L2175.5,906.7 L2175.4,905.7 L2175.4,904.7 L2175.3,903.7 L2175.2,902.7 L2175.0,901.7 L2174.9,900.7 L2174.7,899.7 L2174.5,898.7 L2174.3,897.7 L2174.1,896.7 L2173.8,895.7 L2173.6,894.7 L2173.3,893.7 L2173.1,892.7 L2172.8,891.7 L2172.6,890.7 L2172.3,889.7 L2172.1,888.7 L2171.8,887.7 L2171.6,886.7 L2171.3,885.7 L2171.1,884.7 L2170.8,883.7 L2170.6,882.7 L2170.3,881.7 L2170.0,880.7 L2169.7,879.7 L2169.4,878.7 L2169.2,877.7 L2168.9,876.7 L2168.6,875.7 L2168.3,874.7 L2168.0,873.7 L2167.7,872.7 L2167.4,871.7 L2167.1,870.7 L2166.8,869.7 L2166.5,868.7 L2166.2,867.7 L2166.0,866.7 L2165.7,865.7 L2165.4,864.7 L2165.1,863.7 L2164.8,862.7 L2164.5,861.7 L2164.2,860.7 L2163.9,859.7 L2163.6,858.7 L2163.3,857.7 L2162.9,856.7 L2162.6,855.7 L2162.2,854.7 L2161.9,853.7 L2161.5,852.7 L2161.1,851.7 L2160.7,850.7 L2160.2,849.7 L2159.8,848.7 L2159.3,847.7 L2158.9,846.7 L2158.4,845.7 L2157.9,844.7 L2157.3,843.7 L2156.8,842.7 L2156.2,841.7 L2155.7,840.7 L2155.1,839.7 L2154.4,838.7 L2153.8,837.7 L2153.0,836.7 L2152.3,835.7 L2151.4,834.7 L2150.6,833.7 L2149.6,832.7 L2148.7,831.7 L2147.7,830.7 L2146.7,829.7 L2145.7,828.7 L2144.7,827.7 L2143.8,826.7 L2142.8,825.7 L2141.8,824.7 L2140.8,823.7 L2139.7,822.7 L2138.6,821.7 L2137.5,820.7 L2136.3,819.7 L2135.2,818.7 L2134.1,817.7 L2133.0,816.7 L2132.0,815.7 L2131.1,814.7 L2130.3,813.7 L2129.6,812.7 L2129.0,811.7 L2128.4,810.7 L2127.9,809.7 L2127.3,808.7 L2126.8,807.7 L2126.3,806.7 L2125.9,805.7 L2125.5,804.7 L2125.2,803.7 L2125.0,802.7 L2124.9,801.7 L2124.9,800.7 L2125.0,799.7 L2125.0,798.7 L2125.2,797.7 L2125.3,796.7 L2125.5,795.7 L2125.6,794.7 L2125.8,793.7 L2126.0,792.7 L2126.2,791.7 L2126.5,790.7 L2126.8,789.7 L2127.1,788.7 L2127.5,787.7 L2127.9,786.7 L2128.3,785.7 L2128.8,784.7 L2129.2,783.7 L2129.7,782.7 L2130.3,781.7 L2130.8,780.7 L2131.3,779.7 L2131.9,778.7 L2132.5,777.7 L2133.1,776.7 L2133.9,775.7 L2134.6,774.7 L2135.4,773.7 L2136.2,772.7 L2137.0,771.7 L2137.8,770.7 L2138.6,769.7 L2139.5,768.7 L2140.3,767.7 L2141.1,766.7 L2141.9,765.7 L2142.7,764.7 L2143.5,763.7 L2144.3,762.7 L2145.2,761.7 L2146.0,760.7 L2146.8,759.7 L2147.7,758.7 L2148.5,757.7 L2149.4,756.7 L2150.3,755.7 L2151.1,754.7 L2152.0,753.7 L2152.9,752.7 L2153.8,751.7 L2154.7,750.7 L2155.7,749.7 L2156.6,748.7 L2157.6,747.7 L2158.5,746.7 L2159.5,745.7 L2160.4,744.7 L2161.3,743.7 L2162.2,742.7 L2163.1,741.7 L2163.9,740.7 L2164.7,739.7 L2165.6,738.7 L2166.4,737.7 L2167.3,736.7 L2168.1,735.7 L2168.9,734.7 L2169.7,733.7 L2170.5,732.7 L2171.2,731.7 L2171.9,730.7 L2172.5,729.7 L2173.1,728.7 L2173.6,727.7 L2174.1,726.7 L2174.5,725.7 L2174.9,724.7 L2175.3,723.7 L2175.7,722.7 L2176.1,721.7 L2176.4,720.7 L2176.7,719.7 L2177.0,718.7 L2177.3,717.7 L2177.5,716.7 L2177.8,715.7 L2178.0,714.7 L2178.2,713.7 L2178.4,712.7 L2178.6,711.7 L2178.8,710.7 L2179.0,709.7 L2179.1,708.7 L2179.3,707.7 L2179.4,706.7 L2179.5,705.7 L2179.7,704.7 L2179.8,703.7 L2179.8,702.7 L2179.9,701.7Z" fill="#A981BF" stroke="#363636" stroke-width="4.6" stroke-linejoin="round"/>
<rect x="2151.3" y="805.0" width="62" height="10.7" fill="#000"/>
<circle cx="2151.3" cy="810.4" r="2.3" fill="#000"/><circle cx="2213.3" cy="810.4" r="2.3" fill="#000"/>
<path d="M2322.1,798.7 L2322.5,799.7 L2322.9,800.7 L2323.3,801.7 L2323.7,802.7 L2324.1,803.7 L2324.5,804.7 L2324.9,805.7 L2325.3,806.7 L2325.7,807.7 L2326.1,808.7 L2326.6,809.7 L2327.0,810.7 L2327.4,811.7 L2327.9,812.7 L2328.3,813.7 L2328.8,814.7 L2329.2,815.7 L2329.7,816.7 L2330.2,817.7 L2330.6,818.7 L2331.1,819.7 L2331.6,820.7 L2332.1,821.7 L2332.6,822.7 L2333.1,823.7 L2333.6,824.7 L2334.1,825.7 L2334.6,826.7 L2335.1,827.7 L2335.6,828.7 L2336.2,829.7 L2336.7,830.7 L2337.2,831.7 L2337.7,832.7 L2338.3,833.7 L2338.8,834.7 L2339.4,835.7 L2339.9,836.7 L2340.5,837.7 L2341.0,838.7 L2341.6,839.7 L2342.2,840.7 L2342.7,841.7 L2343.3,842.7 L2343.9,843.7 L2344.5,844.7 L2345.0,845.7 L2345.6,846.7 L2346.2,847.7 L2346.7,848.7 L2347.3,849.7 L2347.9,850.7 L2348.5,851.7 L2349.1,852.7 L2349.7,853.7 L2350.3,854.7 L2350.9,855.7 L2351.6,856.7 L2352.2,857.7 L2352.8,858.7 L2353.4,859.7 L2353.9,860.7 L2354.5,861.7 L2355.0,862.7 L2355.5,863.7 L2356.0,864.7 L2356.4,865.7 L2356.9,866.7 L2357.3,867.7 L2357.7,868.7 L2358.1,869.7 L2358.5,870.7 L2358.8,871.7 L2359.2,872.7 L2359.6,873.7 L2359.9,874.7 L2360.2,875.7 L2360.6,876.7 L2360.9,877.7 L2361.1,878.7 L2361.4,879.7 L2361.6,880.7 L2361.8,881.7 L2362.0,882.7 L2362.2,883.7 L2362.3,884.7 L2362.5,885.7 L2362.6,886.7 L2362.8,887.7 L2362.9,888.7 L2363.0,889.7 L2363.2,890.7 L2363.3,891.7 L2363.4,892.7 L2363.5,893.7 L2363.5,894.7 L2363.6,895.7 L2363.7,896.7 L2363.7,897.7 L2363.7,898.7 L2363.7,899.7 L2363.6,900.7 L2363.5,901.7 L2363.3,902.7 L2363.1,903.7 L2362.9,904.7 L2362.6,905.7 L2362.3,906.7 L2362.0,907.7 L2361.7,908.7 L2361.3,909.7 L2361.0,910.7 L2360.7,911.7 L2360.3,912.7 L2360.0,913.7 L2359.7,914.7 L2359.3,915.7 L2358.9,916.7 L2358.5,917.7 L2358.1,918.7 L2357.7,919.7 L2357.2,920.7 L2356.8,921.7 L2356.3,922.7 L2355.9,923.7 L2355.4,924.7 L2355.0,925.7 L2354.5,926.7 L2354.1,927.7 L2353.7,928.7 L2353.3,929.7 L2352.9,930.7 L2352.5,931.7 L2352.1,932.7 L2351.7,933.7 L2351.3,934.7 L2350.9,935.7 L2350.5,936.7 L2350.1,937.7 L2349.8,938.7 L2349.4,939.7 L2349.1,940.7 L2348.8,941.7 L2348.5,942.7 L2348.2,943.7 L2348.0,944.7 L2347.8,945.7 L2347.6,946.7 L2347.4,947.7 L2347.1,948.7 L2346.9,949.7 L2346.7,950.7 L2346.5,951.7 L2346.3,952.7 L2346.2,953.7 L2346.0,954.7 L2345.8,955.7 L2345.7,956.7 L2345.6,957.7 L2345.5,958.7 L2345.5,959.7 L2345.4,960.7 L2345.4,961.7 L2345.4,962.7 L2345.5,963.7 L2345.6,964.7 L2345.7,965.7 L2345.8,966.7 L2346.0,967.7 L2346.2,968.7 L2346.4,969.7 L2346.6,970.7 L2346.9,971.7 L2347.1,972.7 L2347.4,973.7 L2347.6,974.7 L2347.8,975.7 L2348.1,976.7 L2348.3,977.7 L2348.5,978.7 L2348.8,979.7 L2349.1,980.7 L2349.4,981.7 L2349.7,982.7 L2350.0,983.7 L2350.3,984.7 L2350.7,985.7 L2351.0,986.7 L2351.3,987.7 L2351.6,988.7 L2351.8,989.7 L2352.1,990.7 L2352.3,991.7 L2352.6,992.7 L2352.8,993.7 L2353.0,994.7 L2353.2,995.7 L2353.5,996.7 L2353.7,997.7 L2353.9,998.7 L2354.1,999.7 L2354.2,1000.7 L2354.4,1001.7 L2354.5,1002.7 L2354.6,1003.7 L2354.6,1004.7 L2354.6,1005.7 L2354.5,1006.7 L2354.5,1007.7 L2354.3,1008.7 L2354.2,1009.7 L2354.0,1010.7 L2353.8,1011.7 L2353.6,1012.7 L2353.4,1013.7 L2353.2,1014.7 L2352.9,1015.7 L2352.7,1016.7 L2352.5,1017.7 L2352.2,1018.7 L2352.0,1019.7 L2351.7,1020.7 L2351.4,1021.7 L2351.1,1022.7 L2350.8,1023.7 L2350.5,1024.7 L2350.1,1025.7 L2349.8,1026.7 L2349.4,1027.7 L2349.0,1028.7 L2348.6,1029.7 L2348.2,1030.7 L2347.7,1031.7 L2347.3,1032.7 L2346.9,1033.6 L2266.9,1033.6 L2266.5,1032.7 L2266.1,1031.7 L2265.6,1030.7 L2265.2,1029.7 L2264.8,1028.7 L2264.4,1027.7 L2264.0,1026.7 L2263.7,1025.7 L2263.3,1024.7 L2263.0,1023.7 L2262.7,1022.7 L2262.4,1021.7 L2262.1,1020.7 L2261.8,1019.7 L2261.6,1018.7 L2261.3,1017.7 L2261.1,1016.7 L2260.9,1015.7 L2260.6,1014.7 L2260.4,1013.7 L2260.2,1012.7 L2260.0,1011.7 L2259.8,1010.7 L2259.6,1009.7 L2259.5,1008.7 L2259.3,1007.7 L2259.3,1006.7 L2259.2,1005.7 L2259.2,1004.7 L2259.2,1003.7 L2259.3,1002.7 L2259.4,1001.7 L2259.6,1000.7 L2259.7,999.7 L2259.9,998.7 L2260.1,997.7 L2260.3,996.7 L2260.6,995.7 L2260.8,994.7 L2261.0,993.7 L2261.2,992.7 L2261.5,991.7 L2261.7,990.7 L2262.0,989.7 L2262.2,988.7 L2262.5,987.7 L2262.8,986.7 L2263.1,985.7 L2263.5,984.7 L2263.8,983.7 L2264.1,982.7 L2264.4,981.7 L2264.7,980.7 L2265.0,979.7 L2265.3,978.7 L2265.5,977.7 L2265.7,976.7 L2266.0,975.7 L2266.2,974.7 L2266.4,973.7 L2266.7,972.7 L2266.9,971.7 L2267.2,970.7 L2267.4,969.7 L2267.6,968.7 L2267.8,967.7 L2268.0,966.7 L2268.1,965.7 L2268.2,964.7 L2268.3,963.7 L2268.4,962.7 L2268.4,961.7 L2268.4,960.7 L2268.3,959.7 L2268.3,958.7 L2268.2,957.7 L2268.1,956.7 L2268.0,955.7 L2267.8,954.7 L2267.6,953.7 L2267.5,952.7 L2267.3,951.7 L2267.1,950.7 L2266.9,949.7 L2266.7,948.7 L2266.4,947.7 L2266.2,946.7 L2266.0,945.7 L2265.8,944.7 L2265.6,943.7 L2265.3,942.7 L2265.0,941.7 L2264.7,940.7 L2264.4,939.7 L2264.0,938.7 L2263.7,937.7 L2263.3,936.7 L2262.9,935.7 L2262.5,934.7 L2262.1,933.7 L2261.7,932.7 L2261.3,931.7 L2260.9,930.7 L2260.5,929.7 L2260.1,928.7 L2259.7,927.7 L2259.3,926.7 L2258.8,925.7 L2258.4,924.7 L2257.9,923.7 L2257.5,922.7 L2257.0,921.7 L2256.6,920.7 L2256.1,919.7 L2255.7,918.7 L2255.3,917.7 L2254.9,916.7 L2254.5,915.7 L2254.1,914.7 L2253.8,913.7 L2253.5,912.7 L2253.1,911.7 L2252.8,910.7 L2252.5,909.7 L2252.1,908.7 L2251.8,907.7 L2251.5,906.7 L2251.2,905.7 L2250.9,904.7 L2250.7,903.7 L2250.5,902.7 L2250.3,901.7 L2250.2,900.7 L2250.1,899.7 L2250.1,898.7 L2250.1,897.7 L2250.1,896.7 L2250.2,895.7 L2250.3,894.7 L2250.3,893.7 L2250.4,892.7 L2250.5,891.7 L2250.6,890.7 L2250.8,889.7 L2250.9,888.7 L2251.0,887.7 L2251.2,886.7 L2251.3,885.7 L2251.5,884.7 L2251.6,883.7 L2251.8,882.7 L2252.0,881.7 L2252.2,880.7 L2252.4,879.7 L2252.7,878.7 L2252.9,877.7 L2253.2,876.7 L2253.6,875.7 L2253.9,874.7 L2254.2,873.7 L2254.6,872.7 L2255.0,871.7 L2255.3,870.7 L2255.7,869.7 L2256.1,868.7 L2256.5,867.7 L2256.9,866.7 L2257.4,865.7 L2257.8,864.7 L2258.3,863.7 L2258.8,862.7 L2259.3,861.7 L2259.9,860.7 L2260.4,859.7 L2261.0,858.7 L2261.6,857.7 L2262.2,856.7 L2262.9,855.7 L2263.5,854.7 L2264.1,853.7 L2264.7,852.7 L2265.3,851.7 L2265.9,850.7 L2266.5,849.7 L2267.1,848.7 L2267.6,847.7 L2268.2,846.7 L2268.8,845.7 L2269.3,844.7 L2269.9,843.7 L2270.5,842.7 L2271.1,841.7 L2271.6,840.7 L2272.2,839.7 L2272.8,838.7 L2273.3,837.7 L2273.9,836.7 L2274.4,835.7 L2275.0,834.7 L2275.5,833.7 L2276.1,832.7 L2276.6,831.7 L2277.1,830.7 L2277.6,829.7 L2278.2,828.7 L2278.7,827.7 L2279.2,826.7 L2279.7,825.7 L2280.2,824.7 L2280.7,823.7 L2281.2,822.7 L2281.7,821.7 L2282.2,820.7 L2282.7,819.7 L2283.2,818.7 L2283.6,817.7 L2284.1,816.7 L2284.6,815.7 L2285.0,814.7 L2285.5,813.7 L2285.9,812.7 L2286.4,811.7 L2286.8,810.7 L2287.2,809.7 L2287.7,808.7 L2288.1,807.7 L2288.5,806.7 L2288.9,805.7 L2289.3,804.7 L2289.7,803.7 L2290.1,802.7 L2290.5,801.7 L2290.9,800.7 L2291.3,799.7 L2291.7,798.7Z" fill="#E369A9" stroke="#363636" stroke-width="4.6" stroke-linejoin="round"/>
<rect x="2275.9" y="920.1" width="62" height="10.7" fill="#000"/>
<circle cx="2275.9" cy="925.5" r="2.3" fill="#000"/><circle cx="2337.9" cy="925.5" r="2.3" fill="#000"/>
<line x1="1360.0" y1="994.8" x2="2385.0" y2="994.8" stroke="#75859A" stroke-width="4" stroke-dasharray="17.6 17.96"/>
<line x1="1360.0" y1="921.4" x2="2385.0" y2="921.4" stroke="#75859A" stroke-width="4" stroke-dasharray="17.6 17.96"/>
<path d="M1359.0,680.8 V1086.5 H2385.0" fill="none" stroke="#000" stroke-width="4.5" stroke-linejoin="miter"/>
<line x1="1352.5" y1="994.8" x2="1359.0" y2="994.8" stroke="#000" stroke-width="4.2"/>
<text x="1350.0" y="1004.5" font-size="29.0" text-anchor="end" fill="#000" stroke="#000" stroke-width="0.3">1000</text>
<line x1="1352.5" y1="921.4" x2="1359.0" y2="921.4" stroke="#000" stroke-width="4.2"/>
<text x="1350.0" y="931.1" font-size="29.0" text-anchor="end" fill="#000" stroke="#000" stroke-width="0.3">2000</text>
<line x1="1352.5" y1="847.9" x2="1359.0" y2="847.9" stroke="#000" stroke-width="4.2"/>
<text x="1350.0" y="857.6" font-size="29.0" text-anchor="end" fill="#000" stroke="#000" stroke-width="0.3">3000</text>
<line x1="1352.5" y1="774.5" x2="1359.0" y2="774.5" stroke="#000" stroke-width="4.2"/>
<text x="1350.0" y="784.2" font-size="29.0" text-anchor="end" fill="#000" stroke="#000" stroke-width="0.3">4000</text>
<line x1="1352.5" y1="701.0" x2="1359.0" y2="701.0" stroke="#000" stroke-width="4.2"/>
<text x="1350.0" y="710.7" font-size="29.0" text-anchor="end" fill="#000" stroke="#000" stroke-width="0.3">5000</text>
<line x1="1433.7" y1="1086.5" x2="1433.7" y2="1094.0" stroke="#000" stroke-width="4"/>
<text x="1434.0" y="1127.1" font-size="29.2" text-anchor="middle" fill="#231F20" stroke="#231F20" stroke-width="0.3">Rods</text>
<line x1="1558.4" y1="1086.5" x2="1558.4" y2="1094.0" stroke="#000" stroke-width="4"/>
<text x="1560.6" y="1127.1" font-size="29.2" text-anchor="middle" fill="#231F20" stroke="#231F20" stroke-width="0.3">Cones</text>
<line x1="1683.1" y1="1086.5" x2="1683.1" y2="1094.0" stroke="#000" stroke-width="4"/>
<text x="1687.4" y="1127.1" font-size="29.2" text-anchor="middle" fill="#231F20" stroke="#231F20" stroke-width="0.3">Bipolar</text>
<text x="1687.4" y="1161.6" font-size="29.2" text-anchor="middle" fill="#231F20" stroke="#231F20" stroke-width="0.3">Cells</text>
<line x1="1807.8" y1="1086.5" x2="1807.8" y2="1094.0" stroke="#000" stroke-width="4"/>
<text x="1808.6" y="1127.1" font-size="29.2" text-anchor="middle" fill="#231F20" stroke="#231F20" stroke-width="0.3">Retinal</text>
<text x="1808.6" y="1161.6" font-size="29.2" text-anchor="middle" fill="#231F20" stroke="#231F20" stroke-width="0.3">Ganglion</text>
<text x="1808.6" y="1196.1" font-size="29.2" text-anchor="middle" fill="#231F20" stroke="#231F20" stroke-width="0.3">Cells</text>
<line x1="1932.5" y1="1086.5" x2="1932.5" y2="1094.0" stroke="#000" stroke-width="4"/>
<text x="1933.5" y="1127.1" font-size="29.2" text-anchor="middle" fill="#231F20" stroke="#231F20" stroke-width="0.3">Amacrine</text>
<text x="1933.5" y="1161.6" font-size="29.2" text-anchor="middle" fill="#231F20" stroke="#231F20" stroke-width="0.3">Cells</text>
<line x1="2057.2" y1="1086.5" x2="2057.2" y2="1094.0" stroke="#000" stroke-width="4"/>
<text x="2066.4" y="1127.1" font-size="29.2" text-anchor="middle" fill="#231F20" stroke="#231F20" stroke-width="0.3">Horizontal</text>
<text x="2066.4" y="1161.6" font-size="29.2" text-anchor="middle" fill="#231F20" stroke="#231F20" stroke-width="0.3">Cells</text>
<line x1="2181.9" y1="1086.5" x2="2181.9" y2="1094.0" stroke="#000" stroke-width="4"/>
<text x="2182.3" y="1127.1" font-size="29.2" text-anchor="middle" fill="#231F20" stroke="#231F20" stroke-width="0.3">Müller</text>
<text x="2182.3" y="1161.6" font-size="29.2" text-anchor="middle" fill="#231F20" stroke="#231F20" stroke-width="0.3">Cells</text>
<line x1="2306.6" y1="1086.5" x2="2306.6" y2="1094.0" stroke="#000" stroke-width="4"/>
<text x="2307.2" y="1127.1" font-size="29.2" text-anchor="middle" fill="#231F20" stroke="#231F20" stroke-width="0.3">Microglia</text>
<text transform="translate(1271.5,829.5) rotate(-90)" font-size="29.1" text-anchor="middle" fill="#000" stroke="#000" stroke-width="0.3">Gene number / cell</text>
<text x="1864.8" y="678.0" font-size="41.3" text-anchor="middle" fill="#000" stroke="#000" stroke-width="0.3">Optimized protocol v3.1</text>
<path d="M207.9,1335.8 L207.9,1336.8 L207.9,1337.8 L207.9,1338.8 L207.9,1339.8 L207.9,1340.8 L207.9,1341.8 L207.9,1342.8 L207.9,1343.8 L207.9,1344.8 L207.9,1345.8 L207.9,1346.8 L207.9,1347.8 L207.9,1348.8 L207.9,1349.8 L207.9,1350.8 L207.9,1351.8 L207.9,1352.8 L207.9,1353.8 L207.9,1354.8 L207.9,1355.8 L207.9,1356.8 L207.9,1357.8 L207.9,1358.8 L207.9,1359.8 L207.9,1360.8 L207.9,1361.8 L207.9,1362.8 L207.9,1363.8 L207.9,1364.8 L207.9,1365.8 L207.9,1366.8 L207.9,1367.8 L207.9,1368.8 L207.9,1369.8 L207.9,1370.8 L207.9,1371.8 L207.9,1372.8 L207.9,1373.8 L207.9,1374.8 L207.9,1375.8 L207.9,1376.8 L207.9,1377.8 L207.9,1378.8 L207.9,1379.8 L207.9,1380.8 L207.9,1381.8 L207.9,1382.8 L207.9,1383.8 L207.9,1384.8 L207.9,1385.8 L207.9,1386.8 L207.9,1387.8 L207.9,1388.8 L207.9,1389.8 L207.9,1390.8 L207.9,1391.8 L207.9,1392.8 L207.9,1393.8 L207.9,1394.8 L207.9,1395.8 L207.9,1396.8 L207.9,1397.8 L207.9,1398.8 L207.9,1399.8 L207.9,1400.8 L207.9,1401.8 L207.9,1402.8 L207.9,1403.8 L207.9,1404.8 L207.9,1405.8 L207.9,1406.8 L207.9,1407.8 L207.9,1408.8 L207.9,1409.8 L207.9,1410.8 L207.9,1411.8 L207.9,1412.8 L207.9,1413.8 L207.9,1414.8 L207.9,1415.8 L207.9,1416.8 L207.9,1417.8 L207.9,1418.8 L207.9,1419.8 L207.9,1420.8 L207.9,1421.8 L207.9,1422.8 L207.9,1423.8 L207.9,1424.8 L207.9,1425.8 L207.9,1426.8 L207.9,1427.8 L207.9,1428.8 L207.9,1429.8 L207.9,1430.8 L207.9,1431.8 L207.9,1432.8 L207.9,1433.8 L207.9,1434.8 L207.9,1435.8 L207.9,1436.8 L207.9,1437.8 L207.9,1438.8 L207.9,1439.8 L207.9,1440.8 L207.9,1441.8 L207.9,1442.8 L208.0,1443.8 L208.0,1444.8 L208.0,1445.8 L208.0,1446.8 L208.0,1447.8 L208.0,1448.8 L208.0,1449.8 L208.0,1450.8 L208.0,1451.8 L208.0,1452.8 L208.0,1453.8 L208.0,1454.8 L208.0,1455.8 L208.0,1456.8 L208.0,1457.8 L208.0,1458.8 L208.0,1459.8 L208.0,1460.8 L208.0,1461.8 L208.0,1462.8 L208.0,1463.8 L208.0,1464.8 L208.0,1465.8 L208.0,1466.8 L208.0,1467.8 L208.0,1468.8 L208.0,1469.8 L208.0,1470.8 L208.0,1471.8 L208.0,1472.8 L208.0,1473.8 L208.0,1474.8 L208.0,1475.8 L208.0,1476.8 L208.0,1477.8 L208.0,1478.8 L208.0,1479.8 L208.0,1480.8 L208.0,1481.8 L208.0,1482.8 L208.0,1483.8 L208.0,1484.8 L208.0,1485.8 L208.0,1486.8 L208.0,1487.8 L208.0,1488.8 L208.0,1489.8 L208.0,1490.8 L208.0,1491.8 L208.0,1492.8 L208.0,1493.8 L208.0,1494.8 L208.0,1495.8 L208.0,1496.8 L208.0,1497.8 L208.0,1498.8 L208.0,1499.8 L208.0,1500.8 L208.0,1501.8 L208.0,1502.8 L208.0,1503.8 L208.0,1504.8 L208.1,1505.8 L208.1,1506.8 L208.1,1507.8 L208.1,1508.8 L208.1,1509.8 L208.1,1510.8 L208.1,1511.8 L208.1,1512.8 L208.1,1513.8 L208.1,1514.8 L208.1,1515.8 L208.1,1516.8 L208.1,1517.8 L208.1,1518.8 L208.1,1519.8 L208.1,1520.8 L208.1,1521.8 L208.1,1522.8 L208.1,1523.8 L208.1,1524.8 L208.1,1525.8 L208.1,1526.8 L208.1,1527.8 L208.1,1528.8 L208.1,1529.8 L208.1,1530.8 L208.1,1531.8 L208.1,1532.8 L208.1,1533.8 L208.1,1534.8 L208.1,1535.8 L208.1,1536.8 L208.1,1537.8 L208.1,1538.8 L208.1,1539.8 L208.1,1540.8 L208.1,1541.8 L208.1,1542.8 L208.1,1543.8 L208.2,1544.8 L208.2,1545.8 L208.2,1546.8 L208.2,1547.8 L208.2,1548.8 L208.2,1549.8 L208.2,1550.8 L208.2,1551.8 L208.2,1552.8 L208.2,1553.8 L208.2,1554.8 L208.2,1555.8 L208.2,1556.8 L208.2,1557.8 L208.2,1558.8 L208.2,1559.8 L208.2,1560.8 L208.2,1561.8 L208.2,1562.8 L208.2,1563.8 L208.3,1564.8 L208.3,1565.8 L208.3,1566.8 L208.4,1567.8 L208.4,1568.8 L208.4,1569.8 L208.5,1570.8 L208.5,1571.8 L208.6,1572.8 L208.6,1573.8 L208.7,1574.8 L208.7,1575.8 L208.8,1576.8 L208.8,1577.8 L208.9,1578.8 L208.9,1579.8 L209.0,1580.8 L209.0,1581.8 L209.1,1582.8 L209.2,1583.8 L209.2,1584.8 L209.3,1585.8 L209.3,1586.8 L209.4,1587.8 L209.4,1588.8 L209.5,1589.8 L209.5,1590.8 L209.6,1591.8 L209.6,1592.8 L209.7,1593.8 L209.7,1594.8 L209.7,1595.8 L209.8,1596.8 L209.8,1597.8 L209.8,1598.8 L209.9,1599.8 L209.9,1600.8 L209.9,1601.8 L210.0,1602.8 L210.0,1603.8 L210.0,1604.8 L210.1,1605.8 L210.1,1606.8 L210.2,1607.8 L210.2,1608.8 L210.3,1609.8 L210.3,1610.8 L210.4,1611.8 L210.5,1612.8 L210.6,1613.8 L210.7,1614.8 L210.8,1615.8 L211.0,1616.8 L211.3,1617.8 L211.6,1618.8 L212.0,1619.8 L212.3,1620.8 L212.7,1621.8 L213.2,1622.8 L213.6,1623.8 L214.0,1624.8 L214.5,1625.8 L214.9,1626.8 L215.5,1627.8 L216.0,1628.8 L216.6,1629.8 L217.3,1630.8 L218.0,1631.8 L218.8,1632.8 L219.7,1633.8 L220.7,1634.8 L221.8,1635.8 L223.1,1636.8 L224.5,1637.8 L226.1,1638.8 L227.7,1639.8 L229.5,1640.8 L231.4,1641.8 L233.7,1642.8 L236.4,1643.8 L239.2,1644.8 L242.1,1645.8 L244.9,1646.8 L247.6,1647.8 L250.3,1648.8 L253.1,1649.8 L255.8,1650.8 L258.2,1651.8 L260.1,1652.8 L261.3,1653.8 L262.3,1654.8 L263.3,1655.8 L264.0,1656.8 L264.5,1657.8 L264.6,1658.8 L263.8,1659.8 L262.2,1660.8 L259.8,1661.8 L257.0,1662.8 L252.6,1663.8 L245.4,1664.8 L237.5,1665.8 L230.6,1666.8 L224.0,1667.8 L217.4,1668.8 L210.9,1669.8 L209.6,1670.0 L205.6,1670.0 L204.3,1669.8 L197.8,1668.8 L191.2,1667.8 L184.6,1666.8 L177.7,1665.8 L169.8,1664.8 L162.6,1663.8 L158.2,1662.8 L155.4,1661.8 L153.0,1660.8 L151.4,1659.8 L150.6,1658.8 L150.7,1657.8 L151.2,1656.8 L151.9,1655.8 L152.9,1654.8 L153.9,1653.8 L155.1,1652.8 L157.0,1651.8 L159.4,1650.8 L162.1,1649.8 L164.9,1648.8 L167.6,1647.8 L170.3,1646.8 L173.1,1645.8 L176.0,1644.8 L178.8,1643.8 L181.5,1642.8 L183.8,1641.8 L185.7,1640.8 L187.5,1639.8 L189.1,1638.8 L190.7,1637.8 L192.1,1636.8 L193.4,1635.8 L194.5,1634.8 L195.5,1633.8 L196.4,1632.8 L197.2,1631.8 L197.9,1630.8 L198.6,1629.8 L199.2,1628.8 L199.7,1627.8 L200.3,1626.8 L200.7,1625.8 L201.2,1624.8 L201.6,1623.8 L202.0,1622.8 L202.5,1621.8 L202.9,1620.8 L203.2,1619.8 L203.6,1618.8 L203.9,1617.8 L204.2,1616.8 L204.4,1615.8 L204.5,1614.8 L204.6,1613.8 L204.7,1612.8 L204.8,1611.8 L204.9,1610.8 L204.9,1609.8 L205.0,1608.8 L205.0,1607.8 L205.1,1606.8 L205.1,1605.8 L205.2,1604.8 L205.2,1603.8 L205.2,1602.8 L205.3,1601.8 L205.3,1600.8 L205.3,1599.8 L205.4,1598.8 L205.4,1597.8 L205.4,1596.8 L205.5,1595.8 L205.5,1594.8 L205.5,1593.8 L205.6,1592.8 L205.6,1591.8 L205.7,1590.8 L205.7,1589.8 L205.8,1588.8 L205.8,1587.8 L205.9,1586.8 L205.9,1585.8 L206.0,1584.8 L206.0,1583.8 L206.1,1582.8 L206.2,1581.8 L206.2,1580.8 L206.3,1579.8 L206.3,1578.8 L206.4,1577.8 L206.4,1576.8 L206.5,1575.8 L206.5,1574.8 L206.6,1573.8 L206.6,1572.8 L206.7,1571.8 L206.7,1570.8 L206.8,1569.8 L206.8,1568.8 L206.8,1567.8 L206.9,1566.8 L206.9,1565.8 L206.9,1564.8 L207.0,1563.8 L207.0,1562.8 L207.0,1561.8 L207.0,1560.8 L207.0,1559.8 L207.0,1558.8 L207.0,1557.8 L207.0,1556.8 L207.0,1555.8 L207.0,1554.8 L207.0,1553.8 L207.0,1552.8 L207.0,1551.8 L207.0,1550.8 L207.0,1549.8 L207.0,1548.8 L207.0,1547.8 L207.0,1546.8 L207.0,1545.8 L207.0,1544.8 L207.1,1543.8 L207.1,1542.8 L207.1,1541.8 L207.1,1540.8 L207.1,1539.8 L207.1,1538.8 L207.1,1537.8 L207.1,1536.8 L207.1,1535.8 L207.1,1534.8 L207.1,1533.8 L207.1,1532.8 L207.1,1531.8 L207.1,1530.8 L207.1,1529.8 L207.1,1528.8 L207.1,1527.8 L207.1,1526.8 L207.1,1525.8 L207.1,1524.8 L207.1,1523.8 L207.1,1522.8 L207.1,1521.8 L207.1,1520.8 L207.1,1519.8 L207.1,1518.8 L207.1,1517.8 L207.1,1516.8 L207.1,1515.8 L207.1,1514.8 L207.1,1513.8 L207.1,1512.8 L207.1,1511.8 L207.1,1510.8 L207.1,1509.8 L207.1,1508.8 L207.1,1507.8 L207.1,1506.8 L207.1,1505.8 L207.2,1504.8 L207.2,1503.8 L207.2,1502.8 L207.2,1501.8 L207.2,1500.8 L207.2,1499.8 L207.2,1498.8 L207.2,1497.8 L207.2,1496.8 L207.2,1495.8 L207.2,1494.8 L207.2,1493.8 L207.2,1492.8 L207.2,1491.8 L207.2,1490.8 L207.2,1489.8 L207.2,1488.8 L207.2,1487.8 L207.2,1486.8 L207.2,1485.8 L207.2,1484.8 L207.2,1483.8 L207.2,1482.8 L207.2,1481.8 L207.2,1480.8 L207.2,1479.8 L207.2,1478.8 L207.2,1477.8 L207.2,1476.8 L207.2,1475.8 L207.2,1474.8 L207.2,1473.8 L207.2,1472.8 L207.2,1471.8 L207.2,1470.8 L207.2,1469.8 L207.2,1468.8 L207.2,1467.8 L207.2,1466.8 L207.2,1465.8 L207.2,1464.8 L207.2,1463.8 L207.2,1462.8 L207.2,1461.8 L207.2,1460.8 L207.2,1459.8 L207.2,1458.8 L207.2,1457.8 L207.2,1456.8 L207.2,1455.8 L207.2,1454.8 L207.2,1453.8 L207.2,1452.8 L207.2,1451.8 L207.2,1450.8 L207.2,1449.8 L207.2,1448.8 L207.2,1447.8 L207.2,1446.8 L207.2,1445.8 L207.2,1444.8 L207.2,1443.8 L207.3,1442.8 L207.3,1441.8 L207.3,1440.8 L207.3,1439.8 L207.3,1438.8 L207.3,1437.8 L207.3,1436.8 L207.3,1435.8 L207.3,1434.8 L207.3,1433.8 L207.3,1432.8 L207.3,1431.8 L207.3,1430.8 L207.3,1429.8 L207.3,1428.8 L207.3,1427.8 L207.3,1426.8 L207.3,1425.8 L207.3,1424.8 L207.3,1423.8 L207.3,1422.8 L207.3,1421.8 L207.3,1420.8 L207.3,1419.8 L207.3,1418.8 L207.3,1417.8 L207.3,1416.8 L207.3,1415.8 L207.3,1414.8 L207.3,1413.8 L207.3,1412.8 L207.3,1411.8 L207.3,1410.8 L207.3,1409.8 L207.3,1408.8 L207.3,1407.8 L207.3,1406.8 L207.3,1405.8 L207.3,1404.8 L207.3,1403.8 L207.3,1402.8 L207.3,1401.8 L207.3,1400.8 L207.3,1399.8 L207.3,1398.8 L207.3,1397.8 L207.3,1396.8 L207.3,1395.8 L207.3,1394.8 L207.3,1393.8 L207.3,1392.8 L207.3,1391.8 L207.3,1390.8 L207.3,1389.8 L207.3,1388.8 L207.3,1387.8 L207.3,1386.8 L207.3,1385.8 L207.3,1384.8 L207.3,1383.8 L207.3,1382.8 L207.3,1381.8 L207.3,1380.8 L207.3,1379.8 L207.3,1378.8 L207.3,1377.8 L207.3,1376.8 L207.3,1375.8 L207.3,1374.8 L207.3,1373.8 L207.3,1372.8 L207.3,1371.8 L207.3,1370.8 L207.3,1369.8 L207.3,1368.8 L207.3,1367.8 L207.3,1366.8 L207.3,1365.8 L207.3,1364.8 L207.3,1363.8 L207.3,1362.8 L207.3,1361.8 L207.3,1360.8 L207.3,1359.8 L207.3,1358.8 L207.3,1357.8 L207.3,1356.8 L207.3,1355.8 L207.3,1354.8 L207.3,1353.8 L207.3,1352.8 L207.3,1351.8 L207.3,1350.8 L207.3,1349.8 L207.3,1348.8 L207.3,1347.8 L207.3,1346.8 L207.3,1345.8 L207.3,1344.8 L207.3,1343.8 L207.3,1342.8 L207.3,1341.8 L207.3,1340.8 L207.3,1339.8 L207.3,1338.8 L207.3,1337.8 L207.3,1336.8 L207.3,1335.8Z" fill="#F3766E" stroke="#363636" stroke-width="4.6" stroke-linejoin="round"/>
<rect x="176.6" y="1647.9" width="62" height="10.7" fill="#000"/>
<circle cx="176.6" cy="1653.2" r="2.3" fill="#000"/><circle cx="238.6" cy="1653.2" r="2.3" fill="#000"/>
<path d="M336.0,1462.0 L336.3,1463.0 L336.6,1464.0 L337.0,1465.0 L337.3,1466.0 L337.6,1467.0 L337.9,1468.0 L338.2,1469.0 L338.5,1470.0 L338.8,1471.0 L339.1,1472.0 L339.5,1473.0 L339.8,1474.0 L340.1,1475.0 L340.4,1476.0 L340.7,1477.0 L341.0,1478.0 L341.3,1479.0 L341.6,1480.0 L342.0,1481.0 L342.3,1482.0 L342.7,1483.0 L343.0,1484.0 L343.3,1485.0 L343.6,1486.0 L343.9,1487.0 L344.2,1488.0 L344.4,1489.0 L344.7,1490.0 L344.9,1491.0 L345.0,1492.0 L345.2,1493.0 L345.3,1494.0 L345.5,1495.0 L345.6,1496.0 L345.7,1497.0 L345.8,1498.0 L345.9,1499.0 L346.0,1500.0 L346.2,1501.0 L346.3,1502.0 L346.4,1503.0 L346.5,1504.0 L346.7,1505.0 L346.8,1506.0 L346.9,1507.0 L347.1,1508.0 L347.2,1509.0 L347.3,1510.0 L347.5,1511.0 L347.6,1512.0 L347.8,1513.0 L348.0,1514.0 L348.1,1515.0 L348.3,1516.0 L348.6,1517.0 L348.9,1518.0 L349.2,1519.0 L349.6,1520.0 L350.0,1521.0 L350.5,1522.0 L350.9,1523.0 L351.4,1524.0 L351.8,1525.0 L352.2,1526.0 L352.6,1527.0 L353.0,1528.0 L353.3,1529.0 L353.6,1530.0 L353.8,1531.0 L354.1,1532.0 L354.3,1533.0 L354.6,1534.0 L354.9,1535.0 L355.2,1536.0 L355.5,1537.0 L355.8,1538.0 L356.2,1539.0 L356.7,1540.0 L357.2,1541.0 L357.7,1542.0 L358.3,1543.0 L358.9,1544.0 L359.5,1545.0 L360.2,1546.0 L360.9,1547.0 L361.6,1548.0 L362.3,1549.0 L363.2,1550.0 L364.1,1551.0 L365.1,1552.0 L366.2,1553.0 L367.3,1554.0 L368.5,1555.0 L369.7,1556.0 L371.0,1557.0 L372.2,1558.0 L373.4,1559.0 L374.5,1560.0 L375.6,1561.0 L376.8,1562.0 L378.0,1563.0 L379.2,1564.0 L380.4,1565.0 L381.6,1566.0 L382.6,1567.0 L383.6,1568.0 L384.5,1569.0 L385.3,1570.0 L386.2,1571.0 L387.1,1572.0 L387.9,1573.0 L388.5,1574.0 L389.0,1575.0 L389.2,1576.0 L389.1,1577.0 L388.8,1578.0 L388.3,1579.0 L387.6,1580.0 L386.8,1581.0 L385.9,1582.0 L385.0,1583.0 L384.1,1584.0 L383.1,1585.0 L381.8,1586.0 L380.4,1587.0 L378.9,1588.0 L377.3,1589.0 L375.6,1590.0 L373.9,1591.0 L372.2,1592.0 L370.6,1593.0 L369.0,1594.0 L367.6,1595.0 L366.2,1596.0 L364.8,1597.0 L363.4,1598.0 L362.1,1599.0 L360.7,1600.0 L359.4,1601.0 L358.1,1602.0 L356.9,1603.0 L355.6,1604.0 L354.5,1605.0 L353.3,1606.0 L352.2,1607.0 L351.1,1608.0 L349.9,1609.0 L348.8,1610.0 L347.8,1611.0 L346.7,1612.0 L345.8,1613.0 L344.9,1614.0 L344.0,1615.0 L343.3,1616.0 L342.6,1617.0 L342.0,1618.0 L341.4,1619.0 L340.8,1620.0 L340.2,1621.0 L339.7,1622.0 L339.2,1623.0 L338.8,1624.0 L338.4,1625.0 L338.0,1626.0 L337.7,1627.0 L337.4,1628.0 L337.1,1629.0 L336.8,1630.0 L336.6,1631.0 L336.3,1632.0 L336.1,1633.0 L335.9,1634.0 L335.8,1635.0 L335.7,1636.0 L335.6,1637.0 L335.5,1638.0 L335.4,1639.0 L335.4,1640.0 L335.3,1641.0 L335.3,1642.0 L335.2,1643.0 L335.2,1644.0 L335.2,1644.5 L329.2,1644.5 L329.2,1644.0 L329.2,1643.0 L329.1,1642.0 L329.1,1641.0 L329.0,1640.0 L329.0,1639.0 L328.9,1638.0 L328.8,1637.0 L328.7,1636.0 L328.6,1635.0 L328.5,1634.0 L328.3,1633.0 L328.1,1632.0 L327.8,1631.0 L327.6,1630.0 L327.3,1629.0 L327.0,1628.0 L326.7,1627.0 L326.4,1626.0 L326.0,1625.0 L325.6,1624.0 L325.2,1623.0 L324.7,1622.0 L324.2,1621.0 L323.6,1620.0 L323.0,1619.0 L322.4,1618.0 L321.8,1617.0 L321.1,1616.0 L320.4,1615.0 L319.5,1614.0 L318.6,1613.0 L317.7,1612.0 L316.6,1611.0 L315.6,1610.0 L314.5,1609.0 L313.3,1608.0 L312.2,1607.0 L311.1,1606.0 L309.9,1605.0 L308.8,1604.0 L307.5,1603.0 L306.3,1602.0 L305.0,1601.0 L303.7,1600.0 L302.3,1599.0 L301.0,1598.0 L299.6,1597.0 L298.2,1596.0 L296.8,1595.0 L295.4,1594.0 L293.8,1593.0 L292.2,1592.0 L290.5,1591.0 L288.8,1590.0 L287.1,1589.0 L285.5,1588.0 L284.0,1587.0 L282.6,1586.0 L281.3,1585.0 L280.3,1584.0 L279.4,1583.0 L278.5,1582.0 L277.6,1581.0 L276.8,1580.0 L276.1,1579.0 L275.6,1578.0 L275.3,1577.0 L275.2,1576.0 L275.4,1575.0 L275.9,1574.0 L276.5,1573.0 L277.3,1572.0 L278.2,1571.0 L279.1,1570.0 L279.9,1569.0 L280.8,1568.0 L281.8,1567.0 L282.8,1566.0 L284.0,1565.0 L285.2,1564.0 L286.4,1563.0 L287.6,1562.0 L288.8,1561.0 L289.9,1560.0 L291.0,1559.0 L292.2,1558.0 L293.4,1557.0 L294.7,1556.0 L295.9,1555.0 L297.1,1554.0 L298.2,1553.0 L299.3,1552.0 L300.3,1551.0 L301.2,1550.0 L302.1,1549.0 L302.8,1548.0 L303.5,1547.0 L304.2,1546.0 L304.9,1545.0 L305.5,1544.0 L306.1,1543.0 L306.7,1542.0 L307.2,1541.0 L307.7,1540.0 L308.2,1539.0 L308.6,1538.0 L308.9,1537.0 L309.2,1536.0 L309.5,1535.0 L309.8,1534.0 L310.1,1533.0 L310.3,1532.0 L310.6,1531.0 L310.8,1530.0 L311.1,1529.0 L311.4,1528.0 L311.8,1527.0 L312.2,1526.0 L312.6,1525.0 L313.0,1524.0 L313.5,1523.0 L313.9,1522.0 L314.4,1521.0 L314.8,1520.0 L315.2,1519.0 L315.5,1518.0 L315.8,1517.0 L316.1,1516.0 L316.3,1515.0 L316.4,1514.0 L316.6,1513.0 L316.8,1512.0 L316.9,1511.0 L317.1,1510.0 L317.2,1509.0 L317.3,1508.0 L317.5,1507.0 L317.6,1506.0 L317.7,1505.0 L317.9,1504.0 L318.0,1503.0 L318.1,1502.0 L318.2,1501.0 L318.4,1500.0 L318.5,1499.0 L318.6,1498.0 L318.7,1497.0 L318.8,1496.0 L318.9,1495.0 L319.1,1494.0 L319.2,1493.0 L319.4,1492.0 L319.5,1491.0 L319.7,1490.0 L320.0,1489.0 L320.2,1488.0 L320.5,1487.0 L320.8,1486.0 L321.1,1485.0 L321.4,1484.0 L321.7,1483.0 L322.1,1482.0 L322.4,1481.0 L322.8,1480.0 L323.1,1479.0 L323.4,1478.0 L323.7,1477.0 L324.0,1476.0 L324.3,1475.0 L324.6,1474.0 L324.9,1473.0 L325.3,1472.0 L325.6,1471.0 L325.9,1470.0 L326.2,1469.0 L326.5,1468.0 L326.8,1467.0 L327.1,1466.0 L327.4,1465.0 L327.8,1464.0 L328.1,1463.0 L328.4,1462.0Z" fill="#CC982B" stroke="#363636" stroke-width="4.6" stroke-linejoin="round"/>
<rect x="301.2" y="1566.0" width="62" height="10.7" fill="#000"/>
<circle cx="301.2" cy="1571.3" r="2.3" fill="#000"/><circle cx="363.2" cy="1571.3" r="2.3" fill="#000"/>
<path d="M457.3,1346.6 L457.3,1347.6 L457.3,1348.6 L457.3,1349.6 L457.3,1350.6 L457.3,1351.6 L457.3,1352.6 L457.3,1353.6 L457.3,1354.6 L457.3,1355.6 L457.3,1356.6 L457.3,1357.6 L457.3,1358.6 L457.3,1359.6 L457.3,1360.6 L457.3,1361.6 L457.3,1362.6 L457.3,1363.6 L457.3,1364.6 L457.3,1365.6 L457.3,1366.6 L457.3,1367.6 L457.3,1368.6 L457.3,1369.6 L457.3,1370.6 L457.3,1371.6 L457.3,1372.6 L457.3,1373.6 L457.3,1374.6 L457.3,1375.6 L457.3,1376.6 L457.3,1377.6 L457.3,1378.6 L457.3,1379.6 L457.3,1380.6 L457.4,1381.6 L457.4,1382.6 L457.4,1383.6 L457.4,1384.6 L457.4,1385.6 L457.4,1386.6 L457.4,1387.6 L457.4,1388.6 L457.4,1389.6 L457.4,1390.6 L457.4,1391.6 L457.4,1392.6 L457.4,1393.6 L457.4,1394.6 L457.4,1395.6 L457.4,1396.6 L457.4,1397.6 L457.4,1398.6 L457.4,1399.6 L457.4,1400.6 L457.4,1401.6 L457.4,1402.6 L457.5,1403.6 L457.5,1404.6 L457.5,1405.6 L457.5,1406.6 L457.5,1407.6 L457.5,1408.6 L457.5,1409.6 L457.5,1410.6 L457.5,1411.6 L457.5,1412.6 L457.5,1413.6 L457.5,1414.6 L457.5,1415.6 L457.5,1416.6 L457.6,1417.6 L457.6,1418.6 L457.6,1419.6 L457.6,1420.6 L457.6,1421.6 L457.6,1422.6 L457.6,1423.6 L457.6,1424.6 L457.6,1425.6 L457.6,1426.6 L457.6,1427.6 L457.7,1428.6 L457.7,1429.6 L457.7,1430.6 L457.7,1431.6 L457.7,1432.6 L457.7,1433.6 L457.7,1434.6 L457.7,1435.6 L457.7,1436.6 L457.8,1437.6 L457.8,1438.6 L457.8,1439.6 L457.8,1440.6 L457.8,1441.6 L457.9,1442.6 L457.9,1443.6 L458.0,1444.6 L458.1,1445.6 L458.2,1446.6 L458.3,1447.6 L458.4,1448.6 L458.5,1449.6 L458.6,1450.6 L458.8,1451.6 L458.9,1452.6 L459.0,1453.6 L459.1,1454.6 L459.3,1455.6 L459.4,1456.6 L459.5,1457.6 L459.7,1458.6 L459.9,1459.6 L460.0,1460.6 L460.2,1461.6 L460.4,1462.6 L460.6,1463.6 L460.7,1464.6 L460.9,1465.6 L461.0,1466.6 L461.1,1467.6 L461.1,1468.6 L461.1,1469.6 L461.0,1470.6 L460.9,1471.6 L460.7,1472.6 L460.5,1473.6 L460.3,1474.6 L460.0,1475.6 L459.8,1476.6 L459.6,1477.6 L459.4,1478.6 L459.2,1479.6 L459.1,1480.6 L459.0,1481.6 L459.0,1482.6 L459.0,1483.6 L459.0,1484.6 L459.1,1485.6 L459.1,1486.6 L459.1,1487.6 L459.2,1488.6 L459.2,1489.6 L459.3,1490.6 L459.4,1491.6 L459.6,1492.6 L459.8,1493.6 L460.2,1494.6 L460.5,1495.6 L460.9,1496.6 L461.4,1497.6 L461.8,1498.6 L462.3,1499.6 L462.8,1500.6 L463.2,1501.6 L463.6,1502.6 L464.0,1503.6 L464.3,1504.6 L464.5,1505.6 L464.7,1506.6 L464.9,1507.6 L465.0,1508.6 L465.2,1509.6 L465.3,1510.6 L465.4,1511.6 L465.5,1512.6 L465.6,1513.6 L465.7,1514.6 L465.8,1515.6 L465.9,1516.6 L466.1,1517.6 L466.2,1518.6 L466.4,1519.6 L466.5,1520.6 L466.7,1521.6 L466.9,1522.6 L467.2,1523.6 L467.4,1524.6 L467.7,1525.6 L468.0,1526.6 L468.3,1527.6 L468.6,1528.6 L469.0,1529.6 L469.4,1530.6 L469.8,1531.6 L470.2,1532.6 L470.6,1533.6 L471.1,1534.6 L471.6,1535.6 L472.2,1536.6 L472.9,1537.6 L473.6,1538.6 L474.3,1539.6 L475.1,1540.6 L475.9,1541.6 L476.7,1542.6 L477.5,1543.6 L478.3,1544.6 L479.1,1545.6 L480.0,1546.6 L480.8,1547.6 L481.7,1548.6 L482.6,1549.6 L483.5,1550.6 L484.4,1551.6 L485.3,1552.6 L486.2,1553.6 L487.2,1554.6 L488.1,1555.6 L489.1,1556.6 L490.1,1557.6 L491.1,1558.6 L492.1,1559.6 L493.1,1560.6 L494.2,1561.6 L495.2,1562.6 L496.2,1563.6 L497.2,1564.6 L498.2,1565.6 L499.2,1566.6 L500.2,1567.6 L501.1,1568.6 L502.1,1569.6 L503.1,1570.6 L504.1,1571.6 L505.0,1572.6 L505.9,1573.6 L506.7,1574.6 L507.5,1575.6 L508.3,1576.6 L508.9,1577.6 L509.6,1578.6 L510.2,1579.6 L510.9,1580.6 L511.5,1581.6 L512.1,1582.6 L512.7,1583.6 L513.2,1584.6 L513.5,1585.6 L513.8,1586.6 L514.0,1587.6 L514.0,1588.6 L513.7,1589.6 L513.1,1590.6 L512.2,1591.6 L511.2,1592.6 L510.0,1593.6 L508.8,1594.6 L507.5,1595.6 L506.2,1596.6 L504.9,1597.6 L503.3,1598.6 L501.6,1599.6 L499.8,1600.6 L497.8,1601.6 L495.8,1602.6 L493.9,1603.6 L492.0,1604.6 L490.2,1605.6 L488.5,1606.6 L486.8,1607.6 L485.1,1608.6 L483.4,1609.6 L481.7,1610.6 L480.1,1611.6 L478.6,1612.6 L477.1,1613.6 L475.8,1614.6 L474.5,1615.6 L473.2,1616.6 L471.9,1617.6 L470.8,1618.6 L469.6,1619.6 L468.6,1620.6 L467.7,1621.6 L466.8,1622.6 L466.1,1623.6 L465.4,1624.6 L464.8,1625.6 L464.2,1626.6 L463.6,1627.6 L463.1,1628.6 L462.6,1629.6 L462.1,1630.6 L461.6,1631.6 L461.2,1632.6 L460.7,1633.6 L460.3,1634.6 L459.8,1635.6 L459.4,1636.6 L459.0,1637.6 L458.6,1638.6 L458.4,1639.6 L458.2,1640.6 L458.1,1641.6 L457.9,1642.6 L457.8,1643.6 L457.7,1644.6 L457.6,1645.6 L457.5,1646.6 L457.5,1647.6 L457.4,1648.6 L457.3,1649.6 L457.3,1650.6 L457.3,1651.6 L457.3,1652.0 L456.3,1652.0 L456.3,1651.6 L456.3,1650.6 L456.3,1649.6 L456.2,1648.6 L456.1,1647.6 L456.1,1646.6 L456.0,1645.6 L455.9,1644.6 L455.8,1643.6 L455.7,1642.6 L455.5,1641.6 L455.4,1640.6 L455.2,1639.6 L455.0,1638.6 L454.6,1637.6 L454.2,1636.6 L453.8,1635.6 L453.3,1634.6 L452.9,1633.6 L452.4,1632.6 L452.0,1631.6 L451.5,1630.6 L451.0,1629.6 L450.5,1628.6 L450.0,1627.6 L449.4,1626.6 L448.8,1625.6 L448.2,1624.6 L447.5,1623.6 L446.8,1622.6 L445.9,1621.6 L445.0,1620.6 L444.0,1619.6 L442.8,1618.6 L441.7,1617.6 L440.4,1616.6 L439.1,1615.6 L437.8,1614.6 L436.5,1613.6 L435.0,1612.6 L433.5,1611.6 L431.9,1610.6 L430.2,1609.6 L428.5,1608.6 L426.8,1607.6 L425.1,1606.6 L423.4,1605.6 L421.6,1604.6 L419.7,1603.6 L417.8,1602.6 L415.8,1601.6 L413.8,1600.6 L412.0,1599.6 L410.3,1598.6 L408.7,1597.6 L407.4,1596.6 L406.1,1595.6 L404.8,1594.6 L403.6,1593.6 L402.4,1592.6 L401.4,1591.6 L400.5,1590.6 L399.9,1589.6 L399.6,1588.6 L399.6,1587.6 L399.8,1586.6 L400.1,1585.6 L400.4,1584.6 L400.9,1583.6 L401.5,1582.6 L402.1,1581.6 L402.7,1580.6 L403.4,1579.6 L404.0,1578.6 L404.7,1577.6 L405.3,1576.6 L406.1,1575.6 L406.9,1574.6 L407.7,1573.6 L408.6,1572.6 L409.5,1571.6 L410.5,1570.6 L411.5,1569.6 L412.5,1568.6 L413.4,1567.6 L414.4,1566.6 L415.4,1565.6 L416.4,1564.6 L417.4,1563.6 L418.4,1562.6 L419.4,1561.6 L420.5,1560.6 L421.5,1559.6 L422.5,1558.6 L423.5,1557.6 L424.5,1556.6 L425.5,1555.6 L426.4,1554.6 L427.4,1553.6 L428.3,1552.6 L429.2,1551.6 L430.1,1550.6 L431.0,1549.6 L431.9,1548.6 L432.8,1547.6 L433.6,1546.6 L434.5,1545.6 L435.3,1544.6 L436.1,1543.6 L436.9,1542.6 L437.7,1541.6 L438.5,1540.6 L439.3,1539.6 L440.0,1538.6 L440.7,1537.6 L441.4,1536.6 L442.0,1535.6 L442.5,1534.6 L443.0,1533.6 L443.4,1532.6 L443.8,1531.6 L444.2,1530.6 L444.6,1529.6 L445.0,1528.6 L445.3,1527.6 L445.6,1526.6 L445.9,1525.6 L446.2,1524.6 L446.4,1523.6 L446.7,1522.6 L446.9,1521.6 L447.1,1520.6 L447.2,1519.6 L447.4,1518.6 L447.5,1517.6 L447.7,1516.6 L447.8,1515.6 L447.9,1514.6 L448.0,1513.6 L448.1,1512.6 L448.2,1511.6 L448.3,1510.6 L448.4,1509.6 L448.6,1508.6 L448.7,1507.6 L448.9,1506.6 L449.1,1505.6 L449.3,1504.6 L449.6,1503.6 L450.0,1502.6 L450.4,1501.6 L450.8,1500.6 L451.3,1499.6 L451.8,1498.6 L452.2,1497.6 L452.7,1496.6 L453.1,1495.6 L453.4,1494.6 L453.8,1493.6 L454.0,1492.6 L454.2,1491.6 L454.3,1490.6 L454.4,1489.6 L454.4,1488.6 L454.5,1487.6 L454.5,1486.6 L454.5,1485.6 L454.6,1484.6 L454.6,1483.6 L454.6,1482.6 L454.6,1481.6 L454.5,1480.6 L454.4,1479.6 L454.2,1478.6 L454.0,1477.6 L453.8,1476.6 L453.6,1475.6 L453.3,1474.6 L453.1,1473.6 L452.9,1472.6 L452.7,1471.6 L452.6,1470.6 L452.5,1469.6 L452.5,1468.6 L452.5,1467.6 L452.6,1466.6 L452.7,1465.6 L452.9,1464.6 L453.0,1463.6 L453.2,1462.6 L453.4,1461.6 L453.6,1460.6 L453.7,1459.6 L453.9,1458.6 L454.1,1457.6 L454.2,1456.6 L454.3,1455.6 L454.5,1454.6 L454.6,1453.6 L454.7,1452.6 L454.8,1451.6 L455.0,1450.6 L455.1,1449.6 L455.2,1448.6 L455.3,1447.6 L455.4,1446.6 L455.5,1445.6 L455.6,1444.6 L455.7,1443.6 L455.7,1442.6 L455.8,1441.6 L455.8,1440.6 L455.8,1439.6 L455.8,1438.6 L455.8,1437.6 L455.9,1436.6 L455.9,1435.6 L455.9,1434.6 L455.9,1433.6 L455.9,1432.6 L455.9,1431.6 L455.9,1430.6 L455.9,1429.6 L455.9,1428.6 L456.0,1427.6 L456.0,1426.6 L456.0,1425.6 L456.0,1424.6 L456.0,1423.6 L456.0,1422.6 L456.0,1421.6 L456.0,1420.6 L456.0,1419.6 L456.0,1418.6 L456.0,1417.6 L456.1,1416.6 L456.1,1415.6 L456.1,1414.6 L456.1,1413.6 L456.1,1412.6 L456.1,1411.6 L456.1,1410.6 L456.1,1409.6 L456.1,1408.6 L456.1,1407.6 L456.1,1406.6 L456.1,1405.6 L456.1,1404.6 L456.1,1403.6 L456.2,1402.6 L456.2,1401.6 L456.2,1400.6 L456.2,1399.6 L456.2,1398.6 L456.2,1397.6 L456.2,1396.6 L456.2,1395.6 L456.2,1394.6 L456.2,1393.6 L456.2,1392.6 L456.2,1391.6 L456.2,1390.6 L456.2,1389.6 L456.2,1388.6 L456.2,1387.6 L456.2,1386.6 L456.2,1385.6 L456.2,1384.6 L456.2,1383.6 L456.2,1382.6 L456.2,1381.6 L456.3,1380.6 L456.3,1379.6 L456.3,1378.6 L456.3,1377.6 L456.3,1376.6 L456.3,1375.6 L456.3,1374.6 L456.3,1373.6 L456.3,1372.6 L456.3,1371.6 L456.3,1370.6 L456.3,1369.6 L456.3,1368.6 L456.3,1367.6 L456.3,1366.6 L456.3,1365.6 L456.3,1364.6 L456.3,1363.6 L456.3,1362.6 L456.3,1361.6 L456.3,1360.6 L456.3,1359.6 L456.3,1358.6 L456.3,1357.6 L456.3,1356.6 L456.3,1355.6 L456.3,1354.6 L456.3,1353.6 L456.3,1352.6 L456.3,1351.6 L456.3,1350.6 L456.3,1349.6 L456.3,1348.6 L456.3,1347.6 L456.3,1346.6Z" fill="#7FB23F" stroke="#363636" stroke-width="4.6" stroke-linejoin="round"/>
<rect x="425.8" y="1574.2" width="62" height="10.7" fill="#000"/>
<circle cx="425.8" cy="1579.5" r="2.3" fill="#000"/><circle cx="487.8" cy="1579.5" r="2.3" fill="#000"/>
<path d="M608.4,1344.4 L609.0,1345.4 L609.6,1346.4 L610.2,1347.4 L610.8,1348.4 L611.4,1349.4 L611.9,1350.4 L612.5,1351.4 L613.1,1352.4 L613.6,1353.4 L614.2,1354.4 L614.7,1355.4 L615.3,1356.4 L615.8,1357.4 L616.3,1358.4 L616.8,1359.4 L617.3,1360.4 L617.9,1361.4 L618.4,1362.4 L618.9,1363.4 L619.4,1364.4 L619.9,1365.4 L620.4,1366.4 L621.0,1367.4 L621.5,1368.4 L622.0,1369.4 L622.4,1370.4 L622.9,1371.4 L623.4,1372.4 L623.8,1373.4 L624.2,1374.4 L624.6,1375.4 L625.0,1376.4 L625.3,1377.4 L625.6,1378.4 L625.9,1379.4 L626.2,1380.4 L626.5,1381.4 L626.8,1382.4 L627.1,1383.4 L627.4,1384.4 L627.7,1385.4 L627.9,1386.4 L628.2,1387.4 L628.4,1388.4 L628.6,1389.4 L628.8,1390.4 L629.0,1391.4 L629.2,1392.4 L629.3,1393.4 L629.4,1394.4 L629.5,1395.4 L629.6,1396.4 L629.7,1397.4 L629.7,1398.4 L629.8,1399.4 L629.9,1400.4 L629.9,1401.4 L630.0,1402.4 L630.0,1403.4 L630.1,1404.4 L630.1,1405.4 L630.2,1406.4 L630.2,1407.4 L630.2,1408.4 L630.3,1409.4 L630.3,1410.4 L630.3,1411.4 L630.3,1412.4 L630.3,1413.4 L630.3,1414.4 L630.2,1415.4 L630.2,1416.4 L630.1,1417.4 L630.0,1418.4 L629.9,1419.4 L629.8,1420.4 L629.7,1421.4 L629.6,1422.4 L629.5,1423.4 L629.3,1424.4 L629.2,1425.4 L629.1,1426.4 L629.0,1427.4 L628.9,1428.4 L628.8,1429.4 L628.7,1430.4 L628.6,1431.4 L628.4,1432.4 L628.3,1433.4 L628.2,1434.4 L628.1,1435.4 L627.9,1436.4 L627.8,1437.4 L627.7,1438.4 L627.5,1439.4 L627.4,1440.4 L627.3,1441.4 L627.1,1442.4 L627.0,1443.4 L626.9,1444.4 L626.8,1445.4 L626.7,1446.4 L626.7,1447.4 L626.6,1448.4 L626.5,1449.4 L626.5,1450.4 L626.5,1451.4 L626.5,1452.4 L626.5,1453.4 L626.5,1454.4 L626.5,1455.4 L626.5,1456.4 L626.5,1457.4 L626.6,1458.4 L626.6,1459.4 L626.6,1460.4 L626.6,1461.4 L626.6,1462.4 L626.7,1463.4 L626.7,1464.4 L626.7,1465.4 L626.8,1466.4 L626.8,1467.4 L626.8,1468.4 L626.9,1469.4 L626.9,1470.4 L626.9,1471.4 L627.0,1472.4 L627.0,1473.4 L627.1,1474.4 L627.1,1475.4 L627.2,1476.4 L627.3,1477.4 L627.4,1478.4 L627.6,1479.4 L627.7,1480.4 L627.8,1481.4 L628.0,1482.4 L628.2,1483.4 L628.3,1484.4 L628.5,1485.4 L628.7,1486.4 L628.9,1487.4 L629.1,1488.4 L629.3,1489.4 L629.5,1490.4 L629.7,1491.4 L629.8,1492.4 L630.0,1493.4 L630.2,1494.4 L630.4,1495.4 L630.5,1496.4 L630.7,1497.4 L630.9,1498.4 L631.1,1499.4 L631.3,1500.4 L631.5,1501.4 L631.7,1502.4 L631.9,1503.4 L632.1,1504.4 L632.3,1505.4 L632.5,1506.4 L632.7,1507.4 L633.0,1508.4 L633.2,1509.4 L633.4,1510.4 L633.5,1511.4 L633.7,1512.4 L633.9,1513.4 L634.1,1514.4 L634.3,1515.4 L634.5,1516.4 L634.6,1517.4 L634.8,1518.4 L634.9,1519.4 L635.1,1520.4 L635.3,1521.4 L635.4,1522.4 L635.6,1523.4 L635.8,1524.4 L635.9,1525.4 L636.1,1526.4 L636.3,1527.4 L636.4,1528.4 L636.6,1529.4 L636.7,1530.4 L636.8,1531.4 L636.9,1532.4 L637.1,1533.4 L637.2,1534.4 L637.3,1535.4 L637.4,1536.4 L637.4,1537.4 L637.5,1538.4 L637.6,1539.4 L637.6,1540.4 L637.7,1541.4 L637.7,1542.4 L637.8,1543.4 L637.8,1544.4 L637.9,1545.4 L637.9,1546.4 L638.0,1547.4 L638.0,1548.4 L638.1,1549.4 L638.1,1550.4 L638.1,1551.4 L638.2,1552.4 L638.2,1553.4 L638.2,1554.4 L638.3,1555.4 L638.3,1556.4 L638.3,1557.4 L638.3,1558.4 L638.3,1559.4 L638.3,1560.4 L638.3,1561.4 L638.3,1562.4 L638.2,1563.4 L638.2,1564.4 L638.2,1565.4 L638.1,1566.4 L638.1,1567.4 L638.0,1568.4 L637.9,1569.4 L637.9,1570.4 L637.8,1571.4 L637.7,1572.4 L637.6,1573.4 L637.5,1574.4 L637.4,1575.4 L637.4,1576.4 L637.3,1577.4 L637.1,1578.4 L637.0,1579.4 L636.9,1580.4 L636.8,1581.4 L636.7,1582.4 L636.6,1583.4 L636.4,1584.4 L636.3,1585.4 L636.1,1586.4 L635.9,1587.4 L635.7,1588.4 L635.5,1589.4 L635.2,1590.4 L635.0,1591.4 L634.7,1592.4 L634.5,1593.4 L634.2,1594.4 L633.9,1595.4 L633.6,1596.4 L633.3,1597.4 L633.0,1598.4 L632.7,1599.4 L632.4,1600.4 L632.1,1601.4 L631.8,1602.4 L631.5,1603.4 L631.2,1604.4 L630.9,1605.4 L630.5,1606.4 L630.2,1607.4 L629.8,1608.4 L629.4,1609.4 L629.0,1610.4 L628.6,1611.4 L628.2,1612.4 L627.8,1613.4 L627.3,1614.4 L626.9,1615.4 L626.5,1616.4 L626.0,1617.4 L625.6,1618.4 L625.1,1619.4 L624.7,1620.4 L624.3,1621.4 L623.8,1622.4 L623.4,1623.4 L623.0,1624.4 L622.5,1625.4 L622.1,1626.4 L621.7,1627.4 L621.2,1628.4 L620.8,1629.4 L620.4,1630.4 L619.9,1631.4 L619.5,1632.4 L619.0,1633.4 L618.6,1634.4 L618.2,1635.4 L617.7,1636.4 L617.3,1637.4 L616.8,1638.4 L616.4,1639.4 L616.0,1640.4 L615.5,1641.4 L615.1,1642.4 L614.7,1643.4 L614.3,1644.4 L613.8,1645.4 L613.4,1646.4 L613.0,1647.4 L612.6,1648.4 L612.2,1649.4 L611.7,1650.4 L611.3,1651.4 L610.9,1652.4 L610.5,1653.4 L610.1,1654.4 L609.7,1655.4 L553.3,1655.4 L552.9,1654.4 L552.5,1653.4 L552.1,1652.4 L551.7,1651.4 L551.3,1650.4 L550.8,1649.4 L550.4,1648.4 L550.0,1647.4 L549.6,1646.4 L549.2,1645.4 L548.7,1644.4 L548.3,1643.4 L547.9,1642.4 L547.5,1641.4 L547.0,1640.4 L546.6,1639.4 L546.2,1638.4 L545.7,1637.4 L545.3,1636.4 L544.8,1635.4 L544.4,1634.4 L544.0,1633.4 L543.5,1632.4 L543.1,1631.4 L542.6,1630.4 L542.2,1629.4 L541.8,1628.4 L541.3,1627.4 L540.9,1626.4 L540.5,1625.4 L540.0,1624.4 L539.6,1623.4 L539.2,1622.4 L538.7,1621.4 L538.3,1620.4 L537.9,1619.4 L537.4,1618.4 L537.0,1617.4 L536.5,1616.4 L536.1,1615.4 L535.7,1614.4 L535.2,1613.4 L534.8,1612.4 L534.4,1611.4 L534.0,1610.4 L533.6,1609.4 L533.2,1608.4 L532.8,1607.4 L532.5,1606.4 L532.1,1605.4 L531.8,1604.4 L531.5,1603.4 L531.2,1602.4 L530.9,1601.4 L530.6,1600.4 L530.3,1599.4 L530.0,1598.4 L529.7,1597.4 L529.4,1596.4 L529.1,1595.4 L528.8,1594.4 L528.5,1593.4 L528.3,1592.4 L528.0,1591.4 L527.8,1590.4 L527.5,1589.4 L527.3,1588.4 L527.1,1587.4 L526.9,1586.4 L526.7,1585.4 L526.6,1584.4 L526.4,1583.4 L526.3,1582.4 L526.2,1581.4 L526.1,1580.4 L526.0,1579.4 L525.9,1578.4 L525.7,1577.4 L525.6,1576.4 L525.6,1575.4 L525.5,1574.4 L525.4,1573.4 L525.3,1572.4 L525.2,1571.4 L525.1,1570.4 L525.1,1569.4 L525.0,1568.4 L524.9,1567.4 L524.9,1566.4 L524.8,1565.4 L524.8,1564.4 L524.8,1563.4 L524.7,1562.4 L524.7,1561.4 L524.7,1560.4 L524.7,1559.4 L524.7,1558.4 L524.7,1557.4 L524.7,1556.4 L524.7,1555.4 L524.8,1554.4 L524.8,1553.4 L524.8,1552.4 L524.9,1551.4 L524.9,1550.4 L524.9,1549.4 L525.0,1548.4 L525.0,1547.4 L525.1,1546.4 L525.1,1545.4 L525.2,1544.4 L525.2,1543.4 L525.3,1542.4 L525.3,1541.4 L525.4,1540.4 L525.4,1539.4 L525.5,1538.4 L525.6,1537.4 L525.6,1536.4 L525.7,1535.4 L525.8,1534.4 L525.9,1533.4 L526.1,1532.4 L526.2,1531.4 L526.3,1530.4 L526.4,1529.4 L526.6,1528.4 L526.7,1527.4 L526.9,1526.4 L527.1,1525.4 L527.2,1524.4 L527.4,1523.4 L527.6,1522.4 L527.7,1521.4 L527.9,1520.4 L528.1,1519.4 L528.2,1518.4 L528.4,1517.4 L528.5,1516.4 L528.7,1515.4 L528.9,1514.4 L529.1,1513.4 L529.3,1512.4 L529.5,1511.4 L529.6,1510.4 L529.8,1509.4 L530.0,1508.4 L530.3,1507.4 L530.5,1506.4 L530.7,1505.4 L530.9,1504.4 L531.1,1503.4 L531.3,1502.4 L531.5,1501.4 L531.7,1500.4 L531.9,1499.4 L532.1,1498.4 L532.3,1497.4 L532.5,1496.4 L532.6,1495.4 L532.8,1494.4 L533.0,1493.4 L533.2,1492.4 L533.3,1491.4 L533.5,1490.4 L533.7,1489.4 L533.9,1488.4 L534.1,1487.4 L534.3,1486.4 L534.5,1485.4 L534.7,1484.4 L534.8,1483.4 L535.0,1482.4 L535.2,1481.4 L535.3,1480.4 L535.4,1479.4 L535.6,1478.4 L535.7,1477.4 L535.8,1476.4 L535.9,1475.4 L535.9,1474.4 L536.0,1473.4 L536.0,1472.4 L536.1,1471.4 L536.1,1470.4 L536.1,1469.4 L536.2,1468.4 L536.2,1467.4 L536.2,1466.4 L536.3,1465.4 L536.3,1464.4 L536.3,1463.4 L536.4,1462.4 L536.4,1461.4 L536.4,1460.4 L536.4,1459.4 L536.4,1458.4 L536.5,1457.4 L536.5,1456.4 L536.5,1455.4 L536.5,1454.4 L536.5,1453.4 L536.5,1452.4 L536.5,1451.4 L536.5,1450.4 L536.5,1449.4 L536.4,1448.4 L536.3,1447.4 L536.3,1446.4 L536.2,1445.4 L536.1,1444.4 L536.0,1443.4 L535.9,1442.4 L535.7,1441.4 L535.6,1440.4 L535.5,1439.4 L535.3,1438.4 L535.2,1437.4 L535.1,1436.4 L534.9,1435.4 L534.8,1434.4 L534.7,1433.4 L534.6,1432.4 L534.4,1431.4 L534.3,1430.4 L534.2,1429.4 L534.1,1428.4 L534.0,1427.4 L533.9,1426.4 L533.8,1425.4 L533.7,1424.4 L533.5,1423.4 L533.4,1422.4 L533.3,1421.4 L533.2,1420.4 L533.1,1419.4 L533.0,1418.4 L532.9,1417.4 L532.8,1416.4 L532.8,1415.4 L532.7,1414.4 L532.7,1413.4 L532.7,1412.4 L532.7,1411.4 L532.7,1410.4 L532.7,1409.4 L532.8,1408.4 L532.8,1407.4 L532.8,1406.4 L532.9,1405.4 L532.9,1404.4 L533.0,1403.4 L533.0,1402.4 L533.1,1401.4 L533.1,1400.4 L533.2,1399.4 L533.3,1398.4 L533.3,1397.4 L533.4,1396.4 L533.5,1395.4 L533.6,1394.4 L533.7,1393.4 L533.8,1392.4 L534.0,1391.4 L534.2,1390.4 L534.4,1389.4 L534.6,1388.4 L534.8,1387.4 L535.1,1386.4 L535.3,1385.4 L535.6,1384.4 L535.9,1383.4 L536.2,1382.4 L536.5,1381.4 L536.8,1380.4 L537.1,1379.4 L537.4,1378.4 L537.7,1377.4 L538.0,1376.4 L538.4,1375.4 L538.8,1374.4 L539.2,1373.4 L539.6,1372.4 L540.1,1371.4 L540.6,1370.4 L541.0,1369.4 L541.5,1368.4 L542.0,1367.4 L542.6,1366.4 L543.1,1365.4 L543.6,1364.4 L544.1,1363.4 L544.6,1362.4 L545.1,1361.4 L545.7,1360.4 L546.2,1359.4 L546.7,1358.4 L547.2,1357.4 L547.7,1356.4 L548.3,1355.4 L548.8,1354.4 L549.4,1353.4 L549.9,1352.4 L550.5,1351.4 L551.1,1350.4 L551.6,1349.4 L552.2,1348.4 L552.8,1347.4 L553.4,1346.4 L554.0,1345.4 L554.6,1344.4Z" fill="#2EB668" stroke="#363636" stroke-width="4.6" stroke-linejoin="round"/>
<rect x="550.5" y="1516.8" width="62" height="10.7" fill="#000"/>
<circle cx="550.5" cy="1522.1" r="2.3" fill="#000"/><circle cx="612.5" cy="1522.1" r="2.3" fill="#000"/>
<path d="M709.1,1438.2 L709.1,1439.2 L709.1,1440.2 L709.1,1441.2 L709.2,1442.2 L709.2,1443.2 L709.2,1444.2 L709.3,1445.2 L709.3,1446.2 L709.3,1447.2 L709.4,1448.2 L709.4,1449.2 L709.5,1450.2 L709.5,1451.2 L709.5,1452.2 L709.6,1453.2 L709.6,1454.2 L709.7,1455.2 L709.7,1456.2 L709.8,1457.2 L709.9,1458.2 L709.9,1459.2 L710.0,1460.2 L710.0,1461.2 L710.1,1462.2 L710.1,1463.2 L710.2,1464.2 L710.3,1465.2 L710.3,1466.2 L710.4,1467.2 L710.5,1468.2 L710.6,1469.2 L710.6,1470.2 L710.7,1471.2 L710.8,1472.2 L710.9,1473.2 L711.0,1474.2 L711.1,1475.2 L711.2,1476.2 L711.4,1477.2 L711.5,1478.2 L711.6,1479.2 L711.8,1480.2 L711.9,1481.2 L712.1,1482.2 L712.3,1483.2 L712.5,1484.2 L712.8,1485.2 L713.0,1486.2 L713.3,1487.2 L713.6,1488.2 L713.8,1489.2 L714.1,1490.2 L714.4,1491.2 L714.7,1492.2 L715.0,1493.2 L715.4,1494.2 L715.7,1495.2 L716.0,1496.2 L716.3,1497.2 L716.6,1498.2 L717.0,1499.2 L717.3,1500.2 L717.7,1501.2 L718.0,1502.2 L718.4,1503.2 L718.8,1504.2 L719.2,1505.2 L719.6,1506.2 L720.0,1507.2 L720.5,1508.2 L721.0,1509.2 L721.4,1510.2 L722.0,1511.2 L722.5,1512.2 L723.0,1513.2 L723.6,1514.2 L724.2,1515.2 L724.8,1516.2 L725.4,1517.2 L726.0,1518.2 L726.6,1519.2 L727.3,1520.2 L727.9,1521.2 L728.6,1522.2 L729.3,1523.2 L729.9,1524.2 L730.6,1525.2 L731.4,1526.2 L732.1,1527.2 L732.8,1528.2 L733.6,1529.2 L734.4,1530.2 L735.2,1531.2 L736.0,1532.2 L736.8,1533.2 L737.7,1534.2 L738.6,1535.2 L739.5,1536.2 L740.6,1537.2 L741.6,1538.2 L742.7,1539.2 L743.8,1540.2 L744.9,1541.2 L745.9,1542.2 L747.0,1543.2 L748.0,1544.2 L748.9,1545.2 L749.8,1546.2 L750.7,1547.2 L751.4,1548.2 L752.2,1549.2 L753.0,1550.2 L753.7,1551.2 L754.5,1552.2 L755.2,1553.2 L755.8,1554.2 L756.5,1555.2 L757.1,1556.2 L757.7,1557.2 L758.2,1558.2 L758.7,1559.2 L759.2,1560.2 L759.6,1561.2 L760.1,1562.2 L760.5,1563.2 L760.9,1564.2 L761.3,1565.2 L761.7,1566.2 L762.0,1567.2 L762.3,1568.2 L762.5,1569.2 L762.7,1570.2 L762.8,1571.2 L762.9,1572.2 L763.0,1573.2 L763.1,1574.2 L763.2,1575.2 L763.3,1576.2 L763.4,1577.2 L763.4,1578.2 L763.5,1579.2 L763.5,1580.2 L763.5,1581.2 L763.5,1582.2 L763.4,1583.2 L763.3,1584.2 L763.1,1585.2 L762.8,1586.2 L762.5,1587.2 L762.2,1588.2 L761.9,1589.2 L761.5,1590.2 L761.1,1591.2 L760.7,1592.2 L760.3,1593.2 L759.8,1594.2 L759.2,1595.2 L758.6,1596.2 L757.9,1597.2 L757.2,1598.2 L756.4,1599.2 L755.6,1600.2 L754.7,1601.2 L753.9,1602.2 L753.1,1603.2 L752.2,1604.2 L751.3,1605.2 L750.4,1606.2 L749.4,1607.2 L748.4,1608.2 L747.3,1609.2 L746.3,1610.2 L745.2,1611.2 L744.1,1612.2 L743.0,1613.2 L742.0,1614.2 L740.9,1615.2 L739.9,1616.2 L738.9,1617.2 L737.9,1618.2 L736.8,1619.2 L735.7,1620.2 L734.7,1621.2 L733.6,1622.2 L732.6,1623.2 L731.6,1624.2 L730.5,1625.2 L729.6,1626.2 L728.6,1627.2 L727.7,1628.2 L726.9,1629.2 L726.0,1630.2 L725.2,1631.2 L724.5,1632.2 L723.7,1633.2 L722.9,1634.2 L722.2,1635.2 L721.5,1636.2 L720.9,1637.2 L720.2,1638.2 L719.6,1639.2 L719.1,1640.2 L718.6,1641.2 L718.1,1642.2 L717.6,1643.2 L717.2,1644.2 L716.8,1645.2 L716.4,1646.2 L716.0,1647.2 L715.6,1648.2 L715.3,1649.2 L714.9,1650.2 L714.6,1651.2 L714.3,1652.2 L714.0,1653.2 L713.7,1654.2 L713.4,1655.2 L713.1,1656.2 L712.9,1657.2 L712.8,1657.5 L699.4,1657.5 L699.3,1657.2 L699.1,1656.2 L698.8,1655.2 L698.5,1654.2 L698.2,1653.2 L697.9,1652.2 L697.6,1651.2 L697.3,1650.2 L696.9,1649.2 L696.6,1648.2 L696.2,1647.2 L695.8,1646.2 L695.4,1645.2 L695.0,1644.2 L694.6,1643.2 L694.1,1642.2 L693.6,1641.2 L693.1,1640.2 L692.6,1639.2 L692.0,1638.2 L691.3,1637.2 L690.7,1636.2 L690.0,1635.2 L689.3,1634.2 L688.5,1633.2 L687.7,1632.2 L687.0,1631.2 L686.2,1630.2 L685.3,1629.2 L684.5,1628.2 L683.6,1627.2 L682.6,1626.2 L681.7,1625.2 L680.6,1624.2 L679.6,1623.2 L678.6,1622.2 L677.5,1621.2 L676.5,1620.2 L675.4,1619.2 L674.3,1618.2 L673.3,1617.2 L672.3,1616.2 L671.3,1615.2 L670.2,1614.2 L669.2,1613.2 L668.1,1612.2 L667.0,1611.2 L665.9,1610.2 L664.9,1609.2 L663.8,1608.2 L662.8,1607.2 L661.8,1606.2 L660.9,1605.2 L660.0,1604.2 L659.1,1603.2 L658.3,1602.2 L657.5,1601.2 L656.6,1600.2 L655.8,1599.2 L655.0,1598.2 L654.3,1597.2 L653.6,1596.2 L653.0,1595.2 L652.4,1594.2 L651.9,1593.2 L651.5,1592.2 L651.1,1591.2 L650.7,1590.2 L650.3,1589.2 L650.0,1588.2 L649.7,1587.2 L649.4,1586.2 L649.1,1585.2 L648.9,1584.2 L648.8,1583.2 L648.7,1582.2 L648.7,1581.2 L648.7,1580.2 L648.7,1579.2 L648.8,1578.2 L648.8,1577.2 L648.9,1576.2 L649.0,1575.2 L649.1,1574.2 L649.2,1573.2 L649.3,1572.2 L649.4,1571.2 L649.5,1570.2 L649.7,1569.2 L649.9,1568.2 L650.2,1567.2 L650.5,1566.2 L650.9,1565.2 L651.3,1564.2 L651.7,1563.2 L652.1,1562.2 L652.6,1561.2 L653.0,1560.2 L653.5,1559.2 L654.0,1558.2 L654.5,1557.2 L655.1,1556.2 L655.7,1555.2 L656.4,1554.2 L657.0,1553.2 L657.7,1552.2 L658.5,1551.2 L659.2,1550.2 L660.0,1549.2 L660.8,1548.2 L661.5,1547.2 L662.4,1546.2 L663.3,1545.2 L664.2,1544.2 L665.2,1543.2 L666.3,1542.2 L667.3,1541.2 L668.4,1540.2 L669.5,1539.2 L670.6,1538.2 L671.6,1537.2 L672.7,1536.2 L673.6,1535.2 L674.5,1534.2 L675.4,1533.2 L676.2,1532.2 L677.0,1531.2 L677.8,1530.2 L678.6,1529.2 L679.4,1528.2 L680.1,1527.2 L680.8,1526.2 L681.6,1525.2 L682.3,1524.2 L682.9,1523.2 L683.6,1522.2 L684.3,1521.2 L684.9,1520.2 L685.6,1519.2 L686.2,1518.2 L686.8,1517.2 L687.4,1516.2 L688.0,1515.2 L688.6,1514.2 L689.2,1513.2 L689.7,1512.2 L690.2,1511.2 L690.8,1510.2 L691.2,1509.2 L691.7,1508.2 L692.2,1507.2 L692.6,1506.2 L693.0,1505.2 L693.4,1504.2 L693.8,1503.2 L694.2,1502.2 L694.5,1501.2 L694.9,1500.2 L695.2,1499.2 L695.6,1498.2 L695.9,1497.2 L696.2,1496.2 L696.5,1495.2 L696.8,1494.2 L697.2,1493.2 L697.5,1492.2 L697.8,1491.2 L698.1,1490.2 L698.4,1489.2 L698.6,1488.2 L698.9,1487.2 L699.2,1486.2 L699.4,1485.2 L699.7,1484.2 L699.9,1483.2 L700.1,1482.2 L700.3,1481.2 L700.4,1480.2 L700.6,1479.2 L700.7,1478.2 L700.8,1477.2 L701.0,1476.2 L701.1,1475.2 L701.2,1474.2 L701.3,1473.2 L701.4,1472.2 L701.5,1471.2 L701.6,1470.2 L701.6,1469.2 L701.7,1468.2 L701.8,1467.2 L701.9,1466.2 L701.9,1465.2 L702.0,1464.2 L702.1,1463.2 L702.1,1462.2 L702.2,1461.2 L702.2,1460.2 L702.3,1459.2 L702.3,1458.2 L702.4,1457.2 L702.5,1456.2 L702.5,1455.2 L702.6,1454.2 L702.6,1453.2 L702.7,1452.2 L702.7,1451.2 L702.7,1450.2 L702.8,1449.2 L702.8,1448.2 L702.9,1447.2 L702.9,1446.2 L702.9,1445.2 L703.0,1444.2 L703.0,1443.2 L703.0,1442.2 L703.1,1441.2 L703.1,1440.2 L703.1,1439.2 L703.1,1438.2Z" fill="#1FBEC3" stroke="#363636" stroke-width="4.6" stroke-linejoin="round"/>
<rect x="675.1" y="1575.7" width="62" height="10.7" fill="#000"/>
<circle cx="675.1" cy="1581.0" r="2.3" fill="#000"/><circle cx="737.1" cy="1581.0" r="2.3" fill="#000"/>
<path d="M845.1,1350.9 L845.5,1351.9 L845.9,1352.9 L846.2,1353.9 L846.6,1354.9 L847.0,1355.9 L847.4,1356.9 L847.8,1357.9 L848.1,1358.9 L848.5,1359.9 L848.9,1360.9 L849.3,1361.9 L849.7,1362.9 L850.1,1363.9 L850.5,1364.9 L850.9,1365.9 L851.3,1366.9 L851.6,1367.9 L852.0,1368.9 L852.4,1369.9 L852.8,1370.9 L853.2,1371.9 L853.6,1372.9 L854.1,1373.9 L854.5,1374.9 L854.9,1375.9 L855.3,1376.9 L855.7,1377.9 L856.1,1378.9 L856.5,1379.9 L857.0,1380.9 L857.4,1381.9 L857.8,1382.9 L858.2,1383.9 L858.6,1384.9 L859.0,1385.9 L859.4,1386.9 L859.8,1387.9 L860.2,1388.9 L860.6,1389.9 L861.0,1390.9 L861.3,1391.9 L861.7,1392.9 L862.1,1393.9 L862.4,1394.9 L862.8,1395.9 L863.1,1396.9 L863.5,1397.9 L863.8,1398.9 L864.2,1399.9 L864.5,1400.9 L864.8,1401.9 L865.2,1402.9 L865.5,1403.9 L865.9,1404.9 L866.2,1405.9 L866.6,1406.9 L866.9,1407.9 L867.3,1408.9 L867.6,1409.9 L868.0,1410.9 L868.4,1411.9 L868.8,1412.9 L869.2,1413.9 L869.6,1414.9 L870.0,1415.9 L870.4,1416.9 L870.8,1417.9 L871.3,1418.9 L871.7,1419.9 L872.2,1420.9 L872.6,1421.9 L873.1,1422.9 L873.5,1423.9 L873.9,1424.9 L874.4,1425.9 L874.8,1426.9 L875.3,1427.9 L875.7,1428.9 L876.2,1429.9 L876.6,1430.9 L877.1,1431.9 L877.5,1432.9 L878.0,1433.9 L878.5,1434.9 L879.0,1435.9 L879.4,1436.9 L879.9,1437.9 L880.4,1438.9 L880.9,1439.9 L881.3,1440.9 L881.7,1441.9 L882.2,1442.9 L882.6,1443.9 L882.9,1444.9 L883.3,1445.9 L883.6,1446.9 L883.9,1447.9 L884.2,1448.9 L884.4,1449.9 L884.7,1450.9 L885.0,1451.9 L885.3,1452.9 L885.6,1453.9 L885.8,1454.9 L886.1,1455.9 L886.3,1456.9 L886.6,1457.9 L886.8,1458.9 L887.0,1459.9 L887.2,1460.9 L887.3,1461.9 L887.5,1462.9 L887.6,1463.9 L887.6,1464.9 L887.7,1465.9 L887.7,1466.9 L887.7,1467.9 L887.6,1468.9 L887.5,1469.9 L887.3,1470.9 L887.1,1471.9 L886.9,1472.9 L886.7,1473.9 L886.4,1474.9 L886.1,1475.9 L885.8,1476.9 L885.5,1477.9 L885.2,1478.9 L884.9,1479.9 L884.5,1480.9 L884.0,1481.9 L883.5,1482.9 L882.9,1483.9 L882.2,1484.9 L881.5,1485.9 L880.7,1486.9 L879.9,1487.9 L879.1,1488.9 L878.2,1489.9 L877.4,1490.9 L876.5,1491.9 L875.7,1492.9 L874.9,1493.9 L874.1,1494.9 L873.3,1495.9 L872.5,1496.9 L871.6,1497.9 L870.7,1498.9 L869.8,1499.9 L868.9,1500.9 L868.0,1501.9 L867.1,1502.9 L866.2,1503.9 L865.3,1504.9 L864.5,1505.9 L863.6,1506.9 L862.8,1507.9 L862.0,1508.9 L861.2,1509.9 L860.5,1510.9 L859.8,1511.9 L859.1,1512.9 L858.3,1513.9 L857.7,1514.9 L857.0,1515.9 L856.3,1516.9 L855.6,1517.9 L855.0,1518.9 L854.4,1519.9 L853.8,1520.9 L853.2,1521.9 L852.6,1522.9 L852.1,1523.9 L851.6,1524.9 L851.1,1525.9 L850.6,1526.9 L850.1,1527.9 L849.6,1528.9 L849.2,1529.9 L848.7,1530.9 L848.3,1531.9 L847.9,1532.9 L847.5,1533.9 L847.1,1534.9 L846.7,1535.9 L846.4,1536.9 L846.1,1537.9 L845.7,1538.9 L845.5,1539.9 L845.2,1540.9 L844.9,1541.9 L844.6,1542.9 L844.4,1543.9 L844.2,1544.9 L843.9,1545.9 L843.7,1546.9 L843.5,1547.9 L843.3,1548.9 L843.1,1549.9 L842.9,1550.9 L842.7,1551.9 L842.5,1552.9 L842.4,1553.9 L842.2,1554.9 L842.0,1555.9 L841.8,1556.9 L841.7,1557.9 L841.5,1558.9 L841.4,1559.9 L841.2,1560.9 L841.1,1561.9 L841.0,1562.9 L840.8,1563.9 L840.7,1564.9 L840.6,1565.9 L840.5,1566.9 L840.5,1567.0 L820.9,1567.0 L820.9,1566.9 L820.8,1565.9 L820.7,1564.9 L820.6,1563.9 L820.4,1562.9 L820.3,1561.9 L820.2,1560.9 L820.0,1559.9 L819.9,1558.9 L819.7,1557.9 L819.6,1556.9 L819.4,1555.9 L819.2,1554.9 L819.0,1553.9 L818.9,1552.9 L818.7,1551.9 L818.5,1550.9 L818.3,1549.9 L818.1,1548.9 L817.9,1547.9 L817.7,1546.9 L817.5,1545.9 L817.2,1544.9 L817.0,1543.9 L816.8,1542.9 L816.5,1541.9 L816.2,1540.9 L815.9,1539.9 L815.7,1538.9 L815.3,1537.9 L815.0,1536.9 L814.7,1535.9 L814.3,1534.9 L813.9,1533.9 L813.5,1532.9 L813.1,1531.9 L812.7,1530.9 L812.2,1529.9 L811.8,1528.9 L811.3,1527.9 L810.8,1526.9 L810.3,1525.9 L809.8,1524.9 L809.3,1523.9 L808.8,1522.9 L808.2,1521.9 L807.6,1520.9 L807.0,1519.9 L806.4,1518.9 L805.8,1517.9 L805.1,1516.9 L804.4,1515.9 L803.7,1514.9 L803.1,1513.9 L802.3,1512.9 L801.6,1511.9 L800.9,1510.9 L800.2,1509.9 L799.4,1508.9 L798.6,1507.9 L797.8,1506.9 L796.9,1505.9 L796.1,1504.9 L795.2,1503.9 L794.3,1502.9 L793.4,1501.9 L792.5,1500.9 L791.6,1499.9 L790.7,1498.9 L789.8,1497.9 L788.9,1496.9 L788.1,1495.9 L787.3,1494.9 L786.5,1493.9 L785.7,1492.9 L784.9,1491.9 L784.0,1490.9 L783.2,1489.9 L782.3,1488.9 L781.5,1487.9 L780.7,1486.9 L779.9,1485.9 L779.2,1484.9 L778.5,1483.9 L777.9,1482.9 L777.4,1481.9 L776.9,1480.9 L776.5,1479.9 L776.2,1478.9 L775.9,1477.9 L775.6,1476.9 L775.3,1475.9 L775.0,1474.9 L774.7,1473.9 L774.5,1472.9 L774.3,1471.9 L774.1,1470.9 L773.9,1469.9 L773.8,1468.9 L773.7,1467.9 L773.7,1466.9 L773.7,1465.9 L773.8,1464.9 L773.8,1463.9 L773.9,1462.9 L774.1,1461.9 L774.2,1460.9 L774.4,1459.9 L774.6,1458.9 L774.8,1457.9 L775.1,1456.9 L775.3,1455.9 L775.6,1454.9 L775.8,1453.9 L776.1,1452.9 L776.4,1451.9 L776.7,1450.9 L777.0,1449.9 L777.2,1448.9 L777.5,1447.9 L777.8,1446.9 L778.1,1445.9 L778.5,1444.9 L778.8,1443.9 L779.2,1442.9 L779.7,1441.9 L780.1,1440.9 L780.5,1439.9 L781.0,1438.9 L781.5,1437.9 L782.0,1436.9 L782.4,1435.9 L782.9,1434.9 L783.4,1433.9 L783.9,1432.9 L784.3,1431.9 L784.8,1430.9 L785.2,1429.9 L785.7,1428.9 L786.1,1427.9 L786.6,1426.9 L787.0,1425.9 L787.5,1424.9 L787.9,1423.9 L788.3,1422.9 L788.8,1421.9 L789.2,1420.9 L789.7,1419.9 L790.1,1418.9 L790.6,1417.9 L791.0,1416.9 L791.4,1415.9 L791.8,1414.9 L792.2,1413.9 L792.6,1412.9 L793.0,1411.9 L793.4,1410.9 L793.8,1409.9 L794.1,1408.9 L794.5,1407.9 L794.8,1406.9 L795.2,1405.9 L795.5,1404.9 L795.9,1403.9 L796.2,1402.9 L796.6,1401.9 L796.9,1400.9 L797.2,1399.9 L797.6,1398.9 L797.9,1397.9 L798.3,1396.9 L798.6,1395.9 L799.0,1394.9 L799.3,1393.9 L799.7,1392.9 L800.1,1391.9 L800.4,1390.9 L800.8,1389.9 L801.2,1388.9 L801.6,1387.9 L802.0,1386.9 L802.4,1385.9 L802.8,1384.9 L803.2,1383.9 L803.6,1382.9 L804.0,1381.9 L804.4,1380.9 L804.9,1379.9 L805.3,1378.9 L805.7,1377.9 L806.1,1376.9 L806.5,1375.9 L806.9,1374.9 L807.3,1373.9 L807.8,1372.9 L808.2,1371.9 L808.6,1370.9 L809.0,1369.9 L809.4,1368.9 L809.8,1367.9 L810.1,1366.9 L810.5,1365.9 L810.9,1364.9 L811.3,1363.9 L811.7,1362.9 L812.1,1361.9 L812.5,1360.9 L812.9,1359.9 L813.3,1358.9 L813.6,1357.9 L814.0,1356.9 L814.4,1355.9 L814.8,1354.9 L815.2,1353.9 L815.5,1352.9 L815.9,1351.9 L816.3,1350.9Z" fill="#4A9FDA" stroke="#363636" stroke-width="4.6" stroke-linejoin="round"/>
<rect x="799.7" y="1456.8" width="62" height="10.7" fill="#000"/>
<circle cx="799.7" cy="1462.1" r="2.3" fill="#000"/><circle cx="861.7" cy="1462.1" r="2.3" fill="#000"/>
<path d="M958.3,1321.2 L958.4,1322.2 L958.5,1323.2 L958.5,1324.2 L958.6,1325.2 L958.7,1326.2 L958.8,1327.2 L958.8,1328.2 L958.9,1329.2 L959.0,1330.2 L959.0,1331.2 L959.1,1332.2 L959.2,1333.2 L959.2,1334.2 L959.3,1335.2 L959.3,1336.2 L959.4,1337.2 L959.5,1338.2 L959.5,1339.2 L959.6,1340.2 L959.6,1341.2 L959.7,1342.2 L959.7,1343.2 L959.7,1344.2 L959.8,1345.2 L959.8,1346.2 L959.9,1347.2 L959.9,1348.2 L959.9,1349.2 L960.0,1350.2 L960.0,1351.2 L960.0,1352.2 L960.0,1353.2 L960.1,1354.2 L960.1,1355.2 L960.1,1356.2 L960.2,1357.2 L960.2,1358.2 L960.2,1359.2 L960.3,1360.2 L960.3,1361.2 L960.3,1362.2 L960.3,1363.2 L960.4,1364.2 L960.4,1365.2 L960.4,1366.2 L960.5,1367.2 L960.5,1368.2 L960.5,1369.2 L960.6,1370.2 L960.6,1371.2 L960.6,1372.2 L960.6,1373.2 L960.7,1374.2 L960.7,1375.2 L960.7,1376.2 L960.7,1377.2 L960.8,1378.2 L960.8,1379.2 L960.8,1380.2 L960.9,1381.2 L960.9,1382.2 L960.9,1383.2 L961.0,1384.2 L961.0,1385.2 L961.1,1386.2 L961.1,1387.2 L961.2,1388.2 L961.2,1389.2 L961.3,1390.2 L961.4,1391.2 L961.5,1392.2 L961.6,1393.2 L961.7,1394.2 L961.8,1395.2 L961.9,1396.2 L962.0,1397.2 L962.1,1398.2 L962.2,1399.2 L962.3,1400.2 L962.4,1401.2 L962.5,1402.2 L962.7,1403.2 L962.8,1404.2 L962.9,1405.2 L963.0,1406.2 L963.2,1407.2 L963.3,1408.2 L963.4,1409.2 L963.6,1410.2 L963.7,1411.2 L963.8,1412.2 L964.0,1413.2 L964.2,1414.2 L964.3,1415.2 L964.5,1416.2 L964.7,1417.2 L964.8,1418.2 L965.0,1419.2 L965.2,1420.2 L965.3,1421.2 L965.5,1422.2 L965.6,1423.2 L965.8,1424.2 L965.9,1425.2 L966.1,1426.2 L966.2,1427.2 L966.3,1428.2 L966.4,1429.2 L966.5,1430.2 L966.6,1431.2 L966.7,1432.2 L966.9,1433.2 L967.0,1434.2 L967.1,1435.2 L967.2,1436.2 L967.3,1437.2 L967.5,1438.2 L967.6,1439.2 L967.8,1440.2 L968.0,1441.2 L968.2,1442.2 L968.4,1443.2 L968.7,1444.2 L969.0,1445.2 L969.3,1446.2 L969.7,1447.2 L970.0,1448.2 L970.4,1449.2 L970.8,1450.2 L971.2,1451.2 L971.6,1452.2 L972.1,1453.2 L972.5,1454.2 L972.9,1455.2 L973.4,1456.2 L973.9,1457.2 L974.3,1458.2 L974.9,1459.2 L975.4,1460.2 L975.9,1461.2 L976.5,1462.2 L977.1,1463.2 L977.7,1464.2 L978.4,1465.2 L979.0,1466.2 L979.7,1467.2 L980.3,1468.2 L981.0,1469.2 L981.7,1470.2 L982.4,1471.2 L983.1,1472.2 L983.9,1473.2 L984.7,1474.2 L985.6,1475.2 L986.4,1476.2 L987.3,1477.2 L988.2,1478.2 L989.1,1479.2 L990.0,1480.2 L990.9,1481.2 L991.7,1482.2 L992.6,1483.2 L993.4,1484.2 L994.2,1485.2 L995.0,1486.2 L995.9,1487.2 L996.7,1488.2 L997.5,1489.2 L998.4,1490.2 L999.2,1491.2 L999.9,1492.2 L1000.7,1493.2 L1001.4,1494.2 L1002.0,1495.2 L1002.6,1496.2 L1003.1,1497.2 L1003.6,1498.2 L1004.0,1499.2 L1004.4,1500.2 L1004.8,1501.2 L1005.2,1502.2 L1005.6,1503.2 L1005.9,1504.2 L1006.3,1505.2 L1006.6,1506.2 L1006.9,1507.2 L1007.2,1508.2 L1007.5,1509.2 L1007.8,1510.2 L1008.1,1511.2 L1008.3,1512.2 L1008.6,1513.2 L1008.9,1514.2 L1009.2,1515.2 L1009.4,1516.2 L1009.7,1517.2 L1009.9,1518.2 L1010.2,1519.2 L1010.4,1520.2 L1010.6,1521.2 L1010.8,1522.2 L1011.0,1523.2 L1011.2,1524.2 L1011.4,1525.2 L1011.5,1526.2 L1011.7,1527.2 L1011.9,1528.2 L1012.1,1529.2 L1012.2,1530.2 L1012.3,1531.2 L1012.4,1532.2 L1012.4,1533.2 L1012.3,1534.2 L1012.2,1535.2 L1011.9,1536.2 L1011.7,1537.2 L1011.3,1538.2 L1010.9,1539.2 L1010.5,1540.2 L1010.0,1541.2 L1009.5,1542.2 L1009.0,1543.2 L1008.5,1544.2 L1008.0,1545.2 L1007.5,1546.2 L1006.8,1547.2 L1006.1,1548.2 L1005.3,1549.2 L1004.5,1550.2 L1003.6,1551.2 L1002.7,1552.2 L1001.8,1553.2 L1000.8,1554.2 L999.8,1555.2 L998.8,1556.2 L997.8,1557.2 L996.8,1558.2 L995.8,1559.2 L994.7,1560.2 L993.5,1561.2 L992.4,1562.2 L991.2,1563.2 L990.0,1564.2 L988.7,1565.2 L987.5,1566.2 L986.3,1567.2 L985.1,1568.2 L983.9,1569.2 L982.7,1570.2 L981.6,1571.2 L980.4,1572.2 L979.3,1573.2 L978.1,1574.2 L976.9,1575.2 L975.7,1576.2 L974.6,1577.2 L973.5,1578.2 L972.4,1579.2 L971.3,1580.2 L970.3,1581.2 L969.4,1582.2 L968.5,1583.2 L967.7,1584.2 L966.9,1585.2 L966.1,1586.2 L965.4,1587.2 L964.7,1588.2 L964.0,1589.2 L963.4,1590.2 L962.8,1591.2 L962.2,1592.2 L961.7,1593.2 L961.3,1594.2 L960.9,1595.2 L960.6,1596.2 L960.2,1597.2 L959.9,1598.2 L959.6,1599.2 L959.3,1600.2 L959.0,1601.2 L958.8,1602.2 L958.6,1603.2 L958.4,1604.2 L958.3,1605.2 L958.2,1606.2 L958.2,1607.2 L958.1,1608.2 L958.0,1609.2 L957.9,1610.2 L957.9,1611.2 L957.8,1612.2 L957.8,1613.2 L957.7,1614.2 L957.7,1615.2 L957.6,1616.2 L957.6,1617.2 L957.6,1618.2 L957.6,1619.2 L957.6,1619.6 L953.2,1619.6 L953.2,1619.2 L953.2,1618.2 L953.2,1617.2 L953.2,1616.2 L953.1,1615.2 L953.1,1614.2 L953.0,1613.2 L953.0,1612.2 L952.9,1611.2 L952.9,1610.2 L952.8,1609.2 L952.7,1608.2 L952.6,1607.2 L952.6,1606.2 L952.5,1605.2 L952.4,1604.2 L952.2,1603.2 L952.0,1602.2 L951.8,1601.2 L951.5,1600.2 L951.2,1599.2 L950.9,1598.2 L950.6,1597.2 L950.2,1596.2 L949.9,1595.2 L949.5,1594.2 L949.1,1593.2 L948.6,1592.2 L948.0,1591.2 L947.4,1590.2 L946.8,1589.2 L946.1,1588.2 L945.4,1587.2 L944.7,1586.2 L943.9,1585.2 L943.1,1584.2 L942.3,1583.2 L941.4,1582.2 L940.5,1581.2 L939.5,1580.2 L938.4,1579.2 L937.3,1578.2 L936.2,1577.2 L935.1,1576.2 L933.9,1575.2 L932.7,1574.2 L931.5,1573.2 L930.4,1572.2 L929.2,1571.2 L928.1,1570.2 L926.9,1569.2 L925.7,1568.2 L924.5,1567.2 L923.3,1566.2 L922.1,1565.2 L920.8,1564.2 L919.6,1563.2 L918.4,1562.2 L917.3,1561.2 L916.1,1560.2 L915.0,1559.2 L914.0,1558.2 L913.0,1557.2 L912.0,1556.2 L911.0,1555.2 L910.0,1554.2 L909.0,1553.2 L908.1,1552.2 L907.2,1551.2 L906.3,1550.2 L905.5,1549.2 L904.7,1548.2 L904.0,1547.2 L903.3,1546.2 L902.8,1545.2 L902.3,1544.2 L901.8,1543.2 L901.3,1542.2 L900.8,1541.2 L900.3,1540.2 L899.9,1539.2 L899.5,1538.2 L899.1,1537.2 L898.9,1536.2 L898.6,1535.2 L898.5,1534.2 L898.4,1533.2 L898.4,1532.2 L898.5,1531.2 L898.6,1530.2 L898.7,1529.2 L898.9,1528.2 L899.1,1527.2 L899.3,1526.2 L899.4,1525.2 L899.6,1524.2 L899.8,1523.2 L900.0,1522.2 L900.2,1521.2 L900.4,1520.2 L900.6,1519.2 L900.9,1518.2 L901.1,1517.2 L901.4,1516.2 L901.6,1515.2 L901.9,1514.2 L902.2,1513.2 L902.5,1512.2 L902.7,1511.2 L903.0,1510.2 L903.3,1509.2 L903.6,1508.2 L903.9,1507.2 L904.2,1506.2 L904.5,1505.2 L904.9,1504.2 L905.2,1503.2 L905.6,1502.2 L906.0,1501.2 L906.4,1500.2 L906.8,1499.2 L907.2,1498.2 L907.7,1497.2 L908.2,1496.2 L908.8,1495.2 L909.4,1494.2 L910.1,1493.2 L910.9,1492.2 L911.6,1491.2 L912.4,1490.2 L913.3,1489.2 L914.1,1488.2 L914.9,1487.2 L915.8,1486.2 L916.6,1485.2 L917.4,1484.2 L918.2,1483.2 L919.1,1482.2 L919.9,1481.2 L920.8,1480.2 L921.7,1479.2 L922.6,1478.2 L923.5,1477.2 L924.4,1476.2 L925.2,1475.2 L926.1,1474.2 L926.9,1473.2 L927.7,1472.2 L928.4,1471.2 L929.1,1470.2 L929.8,1469.2 L930.5,1468.2 L931.1,1467.2 L931.8,1466.2 L932.4,1465.2 L933.1,1464.2 L933.7,1463.2 L934.3,1462.2 L934.9,1461.2 L935.4,1460.2 L935.9,1459.2 L936.5,1458.2 L936.9,1457.2 L937.4,1456.2 L937.9,1455.2 L938.3,1454.2 L938.7,1453.2 L939.2,1452.2 L939.6,1451.2 L940.0,1450.2 L940.4,1449.2 L940.8,1448.2 L941.1,1447.2 L941.5,1446.2 L941.8,1445.2 L942.1,1444.2 L942.4,1443.2 L942.6,1442.2 L942.8,1441.2 L943.0,1440.2 L943.2,1439.2 L943.3,1438.2 L943.5,1437.2 L943.6,1436.2 L943.7,1435.2 L943.8,1434.2 L943.9,1433.2 L944.1,1432.2 L944.2,1431.2 L944.3,1430.2 L944.4,1429.2 L944.5,1428.2 L944.6,1427.2 L944.7,1426.2 L944.9,1425.2 L945.0,1424.2 L945.2,1423.2 L945.3,1422.2 L945.5,1421.2 L945.6,1420.2 L945.8,1419.2 L946.0,1418.2 L946.1,1417.2 L946.3,1416.2 L946.5,1415.2 L946.6,1414.2 L946.8,1413.2 L947.0,1412.2 L947.1,1411.2 L947.2,1410.2 L947.4,1409.2 L947.5,1408.2 L947.6,1407.2 L947.8,1406.2 L947.9,1405.2 L948.0,1404.2 L948.1,1403.2 L948.3,1402.2 L948.4,1401.2 L948.5,1400.2 L948.6,1399.2 L948.7,1398.2 L948.8,1397.2 L948.9,1396.2 L949.0,1395.2 L949.1,1394.2 L949.2,1393.2 L949.3,1392.2 L949.4,1391.2 L949.5,1390.2 L949.6,1389.2 L949.6,1388.2 L949.7,1387.2 L949.7,1386.2 L949.8,1385.2 L949.8,1384.2 L949.9,1383.2 L949.9,1382.2 L949.9,1381.2 L950.0,1380.2 L950.0,1379.2 L950.0,1378.2 L950.1,1377.2 L950.1,1376.2 L950.1,1375.2 L950.1,1374.2 L950.2,1373.2 L950.2,1372.2 L950.2,1371.2 L950.2,1370.2 L950.3,1369.2 L950.3,1368.2 L950.3,1367.2 L950.4,1366.2 L950.4,1365.2 L950.4,1364.2 L950.5,1363.2 L950.5,1362.2 L950.5,1361.2 L950.5,1360.2 L950.6,1359.2 L950.6,1358.2 L950.6,1357.2 L950.7,1356.2 L950.7,1355.2 L950.7,1354.2 L950.8,1353.2 L950.8,1352.2 L950.8,1351.2 L950.8,1350.2 L950.9,1349.2 L950.9,1348.2 L950.9,1347.2 L951.0,1346.2 L951.0,1345.2 L951.1,1344.2 L951.1,1343.2 L951.1,1342.2 L951.2,1341.2 L951.2,1340.2 L951.3,1339.2 L951.3,1338.2 L951.4,1337.2 L951.5,1336.2 L951.5,1335.2 L951.6,1334.2 L951.6,1333.2 L951.7,1332.2 L951.8,1331.2 L951.8,1330.2 L951.9,1329.2 L952.0,1328.2 L952.0,1327.2 L952.1,1326.2 L952.2,1325.2 L952.3,1324.2 L952.3,1323.2 L952.4,1322.2 L952.5,1321.2Z" fill="#A981BF" stroke="#363636" stroke-width="4.6" stroke-linejoin="round"/>
<rect x="924.4" y="1514.0" width="62" height="10.7" fill="#000"/>
<circle cx="924.4" cy="1519.3" r="2.3" fill="#000"/><circle cx="986.4" cy="1519.3" r="2.3" fill="#000"/>
<path d="M1130.4,1573.0 L1131.5,1574.0 L1132.6,1575.0 L1133.5,1576.0 L1134.4,1577.0 L1135.1,1578.0 L1135.5,1579.0 L1135.8,1580.0 L1136.1,1581.0 L1136.3,1582.0 L1136.5,1583.0 L1136.6,1584.0 L1136.7,1585.0 L1136.7,1586.0 L1136.6,1587.0 L1136.4,1588.0 L1136.1,1589.0 L1135.7,1590.0 L1135.2,1591.0 L1134.8,1592.0 L1134.4,1593.0 L1133.9,1594.0 L1133.4,1595.0 L1132.8,1596.0 L1132.2,1597.0 L1131.5,1598.0 L1130.8,1599.0 L1130.2,1600.0 L1129.5,1601.0 L1128.9,1602.0 L1128.3,1603.0 L1127.8,1604.0 L1127.2,1605.0 L1126.6,1606.0 L1126.0,1607.0 L1125.4,1608.0 L1124.8,1609.0 L1124.3,1610.0 L1123.8,1611.0 L1123.4,1612.0 L1123.0,1613.0 L1122.7,1614.0 L1122.5,1615.0 L1122.4,1616.0 L1122.2,1617.0 L1122.0,1618.0 L1121.9,1619.0 L1121.7,1620.0 L1121.6,1621.0 L1121.5,1622.0 L1121.5,1623.0 L1121.4,1624.0 L1121.4,1625.0 L1121.4,1626.0 L1121.5,1627.0 L1121.6,1628.0 L1121.7,1629.0 L1121.8,1630.0 L1122.0,1631.0 L1122.1,1632.0 L1122.3,1633.0 L1122.4,1634.0 L1122.5,1635.0 L1122.6,1636.0 L1122.7,1637.0 L1122.7,1638.0 L1122.7,1639.0 L1122.7,1640.0 L1122.6,1641.0 L1122.5,1642.0 L1122.4,1643.0 L1122.3,1644.0 L1122.2,1645.0 L1122.1,1646.0 L1121.9,1647.0 L1121.7,1648.0 L1121.6,1649.0 L1121.4,1650.0 L1121.0,1651.0 L1120.6,1652.0 L1120.2,1653.0 L1119.7,1654.0 L1119.2,1655.0 L1118.7,1656.0 L1118.2,1657.0 L1117.6,1658.0 L1117.1,1659.0 L1116.6,1660.0 L1116.0,1661.0 L1115.4,1662.0 L1114.8,1663.0 L1114.2,1664.0 L1113.6,1665.0 L1112.9,1666.0 L1112.2,1667.0 L1112.0,1667.3 L1048.8,1667.3 L1048.6,1667.0 L1047.9,1666.0 L1047.2,1665.0 L1046.6,1664.0 L1046.0,1663.0 L1045.4,1662.0 L1044.8,1661.0 L1044.2,1660.0 L1043.7,1659.0 L1043.2,1658.0 L1042.6,1657.0 L1042.1,1656.0 L1041.6,1655.0 L1041.1,1654.0 L1040.6,1653.0 L1040.2,1652.0 L1039.8,1651.0 L1039.4,1650.0 L1039.2,1649.0 L1039.1,1648.0 L1038.9,1647.0 L1038.7,1646.0 L1038.6,1645.0 L1038.5,1644.0 L1038.4,1643.0 L1038.3,1642.0 L1038.2,1641.0 L1038.1,1640.0 L1038.1,1639.0 L1038.1,1638.0 L1038.1,1637.0 L1038.2,1636.0 L1038.3,1635.0 L1038.4,1634.0 L1038.5,1633.0 L1038.7,1632.0 L1038.8,1631.0 L1039.0,1630.0 L1039.1,1629.0 L1039.2,1628.0 L1039.3,1627.0 L1039.4,1626.0 L1039.4,1625.0 L1039.4,1624.0 L1039.3,1623.0 L1039.3,1622.0 L1039.2,1621.0 L1039.1,1620.0 L1038.9,1619.0 L1038.8,1618.0 L1038.6,1617.0 L1038.4,1616.0 L1038.3,1615.0 L1038.1,1614.0 L1037.8,1613.0 L1037.4,1612.0 L1037.0,1611.0 L1036.5,1610.0 L1036.0,1609.0 L1035.4,1608.0 L1034.8,1607.0 L1034.2,1606.0 L1033.6,1605.0 L1033.0,1604.0 L1032.5,1603.0 L1031.9,1602.0 L1031.3,1601.0 L1030.6,1600.0 L1030.0,1599.0 L1029.3,1598.0 L1028.6,1597.0 L1028.0,1596.0 L1027.4,1595.0 L1026.9,1594.0 L1026.4,1593.0 L1026.0,1592.0 L1025.6,1591.0 L1025.1,1590.0 L1024.7,1589.0 L1024.4,1588.0 L1024.2,1587.0 L1024.1,1586.0 L1024.1,1585.0 L1024.2,1584.0 L1024.3,1583.0 L1024.5,1582.0 L1024.7,1581.0 L1025.0,1580.0 L1025.3,1579.0 L1025.7,1578.0 L1026.4,1577.0 L1027.3,1576.0 L1028.2,1575.0 L1029.3,1574.0 L1030.4,1573.0Z" fill="#E369A9" stroke="#363636" stroke-width="4.6" stroke-linejoin="round"/>
<rect x="1049.4" y="1593.2" width="62" height="10.7" fill="#000"/>
<circle cx="1049.4" cy="1598.6" r="2.3" fill="#000"/><circle cx="1111.4" cy="1598.6" r="2.3" fill="#000"/>
<line x1="133.3" y1="1612.2" x2="1157.0" y2="1612.2" stroke="#75859A" stroke-width="4" stroke-dasharray="17.6 17.96"/>
<line x1="133.3" y1="1538.8" x2="1157.0" y2="1538.8" stroke="#75859A" stroke-width="4" stroke-dasharray="17.6 17.96"/>
<path d="M132.3,1298.2 V1703.9 H1157.0" fill="none" stroke="#000" stroke-width="4.5" stroke-linejoin="miter"/>
<line x1="125.8" y1="1612.2" x2="132.3" y2="1612.2" stroke="#000" stroke-width="4.2"/>
<text x="123.3" y="1621.9" font-size="29.0" text-anchor="end" fill="#000" stroke="#000" stroke-width="0.3">1000</text>
<line x1="125.8" y1="1538.8" x2="132.3" y2="1538.8" stroke="#000" stroke-width="4.2"/>
<text x="123.3" y="1548.5" font-size="29.0" text-anchor="end" fill="#000" stroke="#000" stroke-width="0.3">2000</text>
<line x1="125.8" y1="1465.3" x2="132.3" y2="1465.3" stroke="#000" stroke-width="4.2"/>
<text x="123.3" y="1475.0" font-size="29.0" text-anchor="end" fill="#000" stroke="#000" stroke-width="0.3">3000</text>
<line x1="125.8" y1="1391.9" x2="132.3" y2="1391.9" stroke="#000" stroke-width="4.2"/>
<text x="123.3" y="1401.6" font-size="29.0" text-anchor="end" fill="#000" stroke="#000" stroke-width="0.3">4000</text>
<line x1="125.8" y1="1318.4" x2="132.3" y2="1318.4" stroke="#000" stroke-width="4.2"/>
<text x="123.3" y="1328.1" font-size="29.0" text-anchor="end" fill="#000" stroke="#000" stroke-width="0.3">5000</text>
<line x1="207.5" y1="1703.9" x2="207.5" y2="1711.4" stroke="#000" stroke-width="4"/>
<text x="207.8" y="1744.5" font-size="29.2" text-anchor="middle" fill="#231F20" stroke="#231F20" stroke-width="0.3">Rods</text>
<line x1="332.2" y1="1703.9" x2="332.2" y2="1711.4" stroke="#000" stroke-width="4"/>
<text x="334.4" y="1744.5" font-size="29.2" text-anchor="middle" fill="#231F20" stroke="#231F20" stroke-width="0.3">Cones</text>
<line x1="456.9" y1="1703.9" x2="456.9" y2="1711.4" stroke="#000" stroke-width="4"/>
<text x="461.2" y="1744.5" font-size="29.2" text-anchor="middle" fill="#231F20" stroke="#231F20" stroke-width="0.3">Bipolar</text>
<text x="461.2" y="1779.0" font-size="29.2" text-anchor="middle" fill="#231F20" stroke="#231F20" stroke-width="0.3">Cells</text>
<line x1="581.6" y1="1703.9" x2="581.6" y2="1711.4" stroke="#000" stroke-width="4"/>
<text x="582.4" y="1744.5" font-size="29.2" text-anchor="middle" fill="#231F20" stroke="#231F20" stroke-width="0.3">Retinal</text>
<text x="582.4" y="1779.0" font-size="29.2" text-anchor="middle" fill="#231F20" stroke="#231F20" stroke-width="0.3">Ganglion</text>
<text x="582.4" y="1813.5" font-size="29.2" text-anchor="middle" fill="#231F20" stroke="#231F20" stroke-width="0.3">Cells</text>
<line x1="706.3" y1="1703.9" x2="706.3" y2="1711.4" stroke="#000" stroke-width="4"/>
<text x="707.3" y="1744.5" font-size="29.2" text-anchor="middle" fill="#231F20" stroke="#231F20" stroke-width="0.3">Amacrine</text>
<text x="707.3" y="1779.0" font-size="29.2" text-anchor="middle" fill="#231F20" stroke="#231F20" stroke-width="0.3">Cells</text>
<line x1="831.0" y1="1703.9" x2="831.0" y2="1711.4" stroke="#000" stroke-width="4"/>
<text x="840.2" y="1744.5" font-size="29.2" text-anchor="middle" fill="#231F20" stroke="#231F20" stroke-width="0.3">Horizontal</text>
<text x="840.2" y="1779.0" font-size="29.2" text-anchor="middle" fill="#231F20" stroke="#231F20" stroke-width="0.3">Cells</text>
<line x1="955.7" y1="1703.9" x2="955.7" y2="1711.4" stroke="#000" stroke-width="4"/>
<text x="956.1" y="1744.5" font-size="29.2" text-anchor="middle" fill="#231F20" stroke="#231F20" stroke-width="0.3">Müller</text>
<text x="956.1" y="1779.0" font-size="29.2" text-anchor="middle" fill="#231F20" stroke="#231F20" stroke-width="0.3">Cells</text>
<line x1="1080.4" y1="1703.9" x2="1080.4" y2="1711.4" stroke="#000" stroke-width="4"/>
<text x="1081.0" y="1744.5" font-size="29.2" text-anchor="middle" fill="#231F20" stroke="#231F20" stroke-width="0.3">Microglia</text>
<text transform="translate(44.8,1446.9) rotate(-90)" font-size="29.1" text-anchor="middle" fill="#000" stroke="#000" stroke-width="0.3">Gene number / cell</text>
<text x="642.0" y="1295.7" font-size="41.3" text-anchor="middle" fill="#000" stroke="#000" stroke-width="0.3">Methanol fixation v3.1</text>
<path d="M1434.0,1373.7 L1434.0,1374.7 L1434.0,1375.7 L1434.0,1376.7 L1434.0,1377.7 L1434.0,1378.7 L1434.0,1379.7 L1434.0,1380.7 L1434.0,1381.7 L1434.0,1382.7 L1434.0,1383.7 L1434.0,1384.7 L1434.0,1385.7 L1434.0,1386.7 L1434.0,1387.7 L1434.0,1388.7 L1434.0,1389.7 L1434.0,1390.7 L1434.0,1391.7 L1434.0,1392.7 L1434.0,1393.7 L1434.0,1394.7 L1434.0,1395.7 L1434.0,1396.7 L1434.0,1397.7 L1434.0,1398.7 L1434.0,1399.7 L1434.0,1400.7 L1434.0,1401.7 L1434.0,1402.7 L1434.0,1403.7 L1434.0,1404.7 L1434.0,1405.7 L1434.0,1406.7 L1434.0,1407.7 L1434.0,1408.7 L1434.0,1409.7 L1434.0,1410.7 L1434.0,1411.7 L1434.0,1412.7 L1434.0,1413.7 L1434.0,1414.7 L1434.0,1415.7 L1434.0,1416.7 L1434.0,1417.7 L1434.0,1418.7 L1434.0,1419.7 L1434.0,1420.7 L1434.0,1421.7 L1434.0,1422.7 L1434.0,1423.7 L1434.0,1424.7 L1434.0,1425.7 L1434.0,1426.7 L1434.0,1427.7 L1434.0,1428.7 L1434.0,1429.7 L1434.0,1430.7 L1434.0,1431.7 L1434.0,1432.7 L1434.0,1433.7 L1434.0,1434.7 L1434.0,1435.7 L1434.0,1436.7 L1434.0,1437.7 L1434.0,1438.7 L1434.0,1439.7 L1434.0,1440.7 L1434.0,1441.7 L1434.0,1442.7 L1434.0,1443.7 L1434.0,1444.7 L1434.0,1445.7 L1434.0,1446.7 L1434.0,1447.7 L1434.0,1448.7 L1434.0,1449.7 L1434.0,1450.7 L1434.0,1451.7 L1434.0,1452.7 L1434.0,1453.7 L1434.0,1454.7 L1434.0,1455.7 L1434.0,1456.7 L1434.0,1457.7 L1434.0,1458.7 L1434.0,1459.7 L1434.1,1460.7 L1434.1,1461.7 L1434.1,1462.7 L1434.1,1463.7 L1434.1,1464.7 L1434.1,1465.7 L1434.1,1466.7 L1434.1,1467.7 L1434.1,1468.7 L1434.1,1469.7 L1434.1,1470.7 L1434.1,1471.7 L1434.1,1472.7 L1434.1,1473.7 L1434.1,1474.7 L1434.1,1475.7 L1434.1,1476.7 L1434.1,1477.7 L1434.1,1478.7 L1434.1,1479.7 L1434.1,1480.7 L1434.1,1481.7 L1434.1,1482.7 L1434.1,1483.7 L1434.1,1484.7 L1434.1,1485.7 L1434.1,1486.7 L1434.1,1487.7 L1434.1,1488.7 L1434.1,1489.7 L1434.1,1490.7 L1434.1,1491.7 L1434.1,1492.7 L1434.1,1493.7 L1434.1,1494.7 L1434.1,1495.7 L1434.1,1496.7 L1434.1,1497.7 L1434.1,1498.7 L1434.1,1499.7 L1434.1,1500.7 L1434.1,1501.7 L1434.1,1502.7 L1434.1,1503.7 L1434.1,1504.7 L1434.1,1505.7 L1434.1,1506.7 L1434.1,1507.7 L1434.2,1508.7 L1434.2,1509.7 L1434.2,1510.7 L1434.2,1511.7 L1434.2,1512.7 L1434.2,1513.7 L1434.2,1514.7 L1434.2,1515.7 L1434.2,1516.7 L1434.2,1517.7 L1434.2,1518.7 L1434.2,1519.7 L1434.2,1520.7 L1434.2,1521.7 L1434.2,1522.7 L1434.2,1523.7 L1434.2,1524.7 L1434.2,1525.7 L1434.2,1526.7 L1434.2,1527.7 L1434.2,1528.7 L1434.2,1529.7 L1434.2,1530.7 L1434.2,1531.7 L1434.2,1532.7 L1434.2,1533.7 L1434.2,1534.7 L1434.2,1535.7 L1434.2,1536.7 L1434.3,1537.7 L1434.3,1538.7 L1434.3,1539.7 L1434.3,1540.7 L1434.3,1541.7 L1434.3,1542.7 L1434.3,1543.7 L1434.3,1544.7 L1434.3,1545.7 L1434.3,1546.7 L1434.3,1547.7 L1434.3,1548.7 L1434.3,1549.7 L1434.3,1550.7 L1434.4,1551.7 L1434.4,1552.7 L1434.5,1553.7 L1434.5,1554.7 L1434.6,1555.7 L1434.7,1556.7 L1434.8,1557.7 L1434.9,1558.7 L1435.0,1559.7 L1435.1,1560.7 L1435.2,1561.7 L1435.3,1562.7 L1435.4,1563.7 L1435.5,1564.7 L1435.7,1565.7 L1435.8,1566.7 L1435.9,1567.7 L1436.0,1568.7 L1436.1,1569.7 L1436.2,1570.7 L1436.3,1571.7 L1436.4,1572.7 L1436.4,1573.7 L1436.5,1574.7 L1436.6,1575.7 L1436.6,1576.7 L1436.7,1577.7 L1436.8,1578.7 L1436.9,1579.7 L1437.0,1580.7 L1437.1,1581.7 L1437.2,1582.7 L1437.3,1583.7 L1437.4,1584.7 L1437.6,1585.7 L1437.7,1586.7 L1437.9,1587.7 L1438.2,1588.7 L1438.5,1589.7 L1438.9,1590.7 L1439.3,1591.7 L1439.8,1592.7 L1440.3,1593.7 L1440.9,1594.7 L1441.6,1595.7 L1442.3,1596.7 L1443.1,1597.7 L1444.4,1598.7 L1445.9,1599.7 L1447.7,1600.7 L1449.7,1601.7 L1451.8,1602.7 L1453.8,1603.7 L1456.2,1604.7 L1458.9,1605.7 L1461.7,1606.7 L1464.6,1607.7 L1467.4,1608.7 L1470.0,1609.7 L1472.5,1610.7 L1475.1,1611.7 L1477.7,1612.7 L1479.9,1613.7 L1481.7,1614.7 L1482.9,1615.7 L1483.9,1616.7 L1484.7,1617.7 L1485.3,1618.7 L1485.5,1619.7 L1485.2,1620.7 L1484.6,1621.7 L1483.8,1622.7 L1482.8,1623.7 L1481.5,1624.7 L1479.5,1625.7 L1477.0,1626.7 L1474.4,1627.7 L1472.2,1628.7 L1470.7,1629.7 L1469.4,1630.7 L1468.2,1631.7 L1467.2,1632.7 L1466.5,1633.7 L1466.2,1634.7 L1466.5,1635.7 L1467.4,1636.7 L1468.7,1637.7 L1470.2,1638.7 L1471.9,1639.7 L1473.6,1640.7 L1476.0,1641.7 L1478.7,1642.7 L1481.5,1643.7 L1484.0,1644.7 L1485.8,1645.7 L1487.3,1646.7 L1488.7,1647.7 L1489.9,1648.7 L1490.6,1649.7 L1490.9,1650.7 L1490.4,1651.7 L1489.2,1652.7 L1487.5,1653.7 L1485.2,1654.7 L1482.6,1655.7 L1477.7,1656.7 L1470.8,1657.7 L1463.7,1658.6 L1403.7,1658.6 L1396.6,1657.7 L1389.7,1656.7 L1384.8,1655.7 L1382.2,1654.7 L1379.9,1653.7 L1378.2,1652.7 L1377.0,1651.7 L1376.5,1650.7 L1376.8,1649.7 L1377.5,1648.7 L1378.7,1647.7 L1380.1,1646.7 L1381.6,1645.7 L1383.4,1644.7 L1385.9,1643.7 L1388.7,1642.7 L1391.4,1641.7 L1393.8,1640.7 L1395.5,1639.7 L1397.2,1638.7 L1398.7,1637.7 L1400.0,1636.7 L1400.9,1635.7 L1401.2,1634.7 L1400.9,1633.7 L1400.2,1632.7 L1399.2,1631.7 L1398.0,1630.7 L1396.7,1629.7 L1395.2,1628.7 L1393.0,1627.7 L1390.4,1626.7 L1387.9,1625.7 L1385.9,1624.7 L1384.6,1623.7 L1383.6,1622.7 L1382.8,1621.7 L1382.2,1620.7 L1381.9,1619.7 L1382.1,1618.7 L1382.7,1617.7 L1383.5,1616.7 L1384.5,1615.7 L1385.7,1614.7 L1387.5,1613.7 L1389.7,1612.7 L1392.3,1611.7 L1394.9,1610.7 L1397.4,1609.7 L1400.0,1608.7 L1402.8,1607.7 L1405.7,1606.7 L1408.5,1605.7 L1411.2,1604.7 L1413.6,1603.7 L1415.6,1602.7 L1417.7,1601.7 L1419.7,1600.7 L1421.5,1599.7 L1423.0,1598.7 L1424.3,1597.7 L1425.1,1596.7 L1425.8,1595.7 L1426.5,1594.7 L1427.1,1593.7 L1427.6,1592.7 L1428.1,1591.7 L1428.5,1590.7 L1428.9,1589.7 L1429.2,1588.7 L1429.5,1587.7 L1429.7,1586.7 L1429.8,1585.7 L1430.0,1584.7 L1430.1,1583.7 L1430.2,1582.7 L1430.3,1581.7 L1430.4,1580.7 L1430.5,1579.7 L1430.6,1578.7 L1430.7,1577.7 L1430.8,1576.7 L1430.8,1575.7 L1430.9,1574.7 L1431.0,1573.7 L1431.0,1572.7 L1431.1,1571.7 L1431.2,1570.7 L1431.3,1569.7 L1431.4,1568.7 L1431.5,1567.7 L1431.6,1566.7 L1431.7,1565.7 L1431.9,1564.7 L1432.0,1563.7 L1432.1,1562.7 L1432.2,1561.7 L1432.3,1560.7 L1432.4,1559.7 L1432.5,1558.7 L1432.6,1557.7 L1432.7,1556.7 L1432.8,1555.7 L1432.9,1554.7 L1432.9,1553.7 L1433.0,1552.7 L1433.0,1551.7 L1433.1,1550.7 L1433.1,1549.7 L1433.1,1548.7 L1433.1,1547.7 L1433.1,1546.7 L1433.1,1545.7 L1433.1,1544.7 L1433.1,1543.7 L1433.1,1542.7 L1433.1,1541.7 L1433.1,1540.7 L1433.1,1539.7 L1433.1,1538.7 L1433.1,1537.7 L1433.2,1536.7 L1433.2,1535.7 L1433.2,1534.7 L1433.2,1533.7 L1433.2,1532.7 L1433.2,1531.7 L1433.2,1530.7 L1433.2,1529.7 L1433.2,1528.7 L1433.2,1527.7 L1433.2,1526.7 L1433.2,1525.7 L1433.2,1524.7 L1433.2,1523.7 L1433.2,1522.7 L1433.2,1521.7 L1433.2,1520.7 L1433.2,1519.7 L1433.2,1518.7 L1433.2,1517.7 L1433.2,1516.7 L1433.2,1515.7 L1433.2,1514.7 L1433.2,1513.7 L1433.2,1512.7 L1433.2,1511.7 L1433.2,1510.7 L1433.2,1509.7 L1433.2,1508.7 L1433.3,1507.7 L1433.3,1506.7 L1433.3,1505.7 L1433.3,1504.7 L1433.3,1503.7 L1433.3,1502.7 L1433.3,1501.7 L1433.3,1500.7 L1433.3,1499.7 L1433.3,1498.7 L1433.3,1497.7 L1433.3,1496.7 L1433.3,1495.7 L1433.3,1494.7 L1433.3,1493.7 L1433.3,1492.7 L1433.3,1491.7 L1433.3,1490.7 L1433.3,1489.7 L1433.3,1488.7 L1433.3,1487.7 L1433.3,1486.7 L1433.3,1485.7 L1433.3,1484.7 L1433.3,1483.7 L1433.3,1482.7 L1433.3,1481.7 L1433.3,1480.7 L1433.3,1479.7 L1433.3,1478.7 L1433.3,1477.7 L1433.3,1476.7 L1433.3,1475.7 L1433.3,1474.7 L1433.3,1473.7 L1433.3,1472.7 L1433.3,1471.7 L1433.3,1470.7 L1433.3,1469.7 L1433.3,1468.7 L1433.3,1467.7 L1433.3,1466.7 L1433.3,1465.7 L1433.3,1464.7 L1433.3,1463.7 L1433.3,1462.7 L1433.3,1461.7 L1433.3,1460.7 L1433.4,1459.7 L1433.4,1458.7 L1433.4,1457.7 L1433.4,1456.7 L1433.4,1455.7 L1433.4,1454.7 L1433.4,1453.7 L1433.4,1452.7 L1433.4,1451.7 L1433.4,1450.7 L1433.4,1449.7 L1433.4,1448.7 L1433.4,1447.7 L1433.4,1446.7 L1433.4,1445.7 L1433.4,1444.7 L1433.4,1443.7 L1433.4,1442.7 L1433.4,1441.7 L1433.4,1440.7 L1433.4,1439.7 L1433.4,1438.7 L1433.4,1437.7 L1433.4,1436.7 L1433.4,1435.7 L1433.4,1434.7 L1433.4,1433.7 L1433.4,1432.7 L1433.4,1431.7 L1433.4,1430.7 L1433.4,1429.7 L1433.4,1428.7 L1433.4,1427.7 L1433.4,1426.7 L1433.4,1425.7 L1433.4,1424.7 L1433.4,1423.7 L1433.4,1422.7 L1433.4,1421.7 L1433.4,1420.7 L1433.4,1419.7 L1433.4,1418.7 L1433.4,1417.7 L1433.4,1416.7 L1433.4,1415.7 L1433.4,1414.7 L1433.4,1413.7 L1433.4,1412.7 L1433.4,1411.7 L1433.4,1410.7 L1433.4,1409.7 L1433.4,1408.7 L1433.4,1407.7 L1433.4,1406.7 L1433.4,1405.7 L1433.4,1404.7 L1433.4,1403.7 L1433.4,1402.7 L1433.4,1401.7 L1433.4,1400.7 L1433.4,1399.7 L1433.4,1398.7 L1433.4,1397.7 L1433.4,1396.7 L1433.4,1395.7 L1433.4,1394.7 L1433.4,1393.7 L1433.4,1392.7 L1433.4,1391.7 L1433.4,1390.7 L1433.4,1389.7 L1433.4,1388.7 L1433.4,1387.7 L1433.4,1386.7 L1433.4,1385.7 L1433.4,1384.7 L1433.4,1383.7 L1433.4,1382.7 L1433.4,1381.7 L1433.4,1380.7 L1433.4,1379.7 L1433.4,1378.7 L1433.4,1377.7 L1433.4,1376.7 L1433.4,1375.7 L1433.4,1374.7 L1433.4,1373.7Z" fill="#F3766E" stroke="#363636" stroke-width="4.2" stroke-linejoin="round"/>
<rect x="1402.7" y="1625.1" width="62" height="10.7" fill="#000"/>
<circle cx="1402.7" cy="1630.4" r="2.3" fill="#000"/><circle cx="1464.7" cy="1630.4" r="2.3" fill="#000"/>
<path d="M1558.7,1377.0 L1558.7,1378.0 L1558.7,1379.0 L1558.7,1380.0 L1558.7,1381.0 L1558.7,1382.0 L1558.7,1383.0 L1558.7,1384.0 L1558.7,1385.0 L1558.7,1386.0 L1558.7,1387.0 L1558.7,1388.0 L1558.7,1389.0 L1558.7,1390.0 L1558.7,1391.0 L1558.7,1392.0 L1558.7,1393.0 L1558.7,1394.0 L1558.7,1395.0 L1558.7,1396.0 L1558.7,1397.0 L1558.7,1398.0 L1558.7,1399.0 L1558.7,1400.0 L1558.7,1401.0 L1558.7,1402.0 L1558.7,1403.0 L1558.7,1404.0 L1558.7,1405.0 L1558.7,1406.0 L1558.7,1407.0 L1558.7,1408.0 L1558.7,1409.0 L1558.7,1410.0 L1558.7,1411.0 L1558.7,1412.0 L1558.7,1413.0 L1558.7,1414.0 L1558.7,1415.0 L1558.7,1416.0 L1558.7,1417.0 L1558.7,1418.0 L1558.7,1419.0 L1558.7,1420.0 L1558.7,1421.0 L1558.7,1422.0 L1558.7,1423.0 L1558.7,1424.0 L1558.7,1425.0 L1558.7,1426.0 L1558.7,1427.0 L1558.7,1428.0 L1558.7,1429.0 L1558.7,1430.0 L1558.7,1431.0 L1558.7,1432.0 L1558.7,1433.0 L1558.7,1434.0 L1558.7,1435.0 L1558.7,1436.0 L1558.7,1437.0 L1558.7,1438.0 L1558.7,1439.0 L1558.7,1440.0 L1558.7,1441.0 L1558.8,1442.0 L1558.8,1443.0 L1558.8,1444.0 L1558.8,1445.0 L1558.8,1446.0 L1558.8,1447.0 L1558.8,1448.0 L1558.8,1449.0 L1558.8,1450.0 L1558.8,1451.0 L1558.8,1452.0 L1558.8,1453.0 L1558.8,1454.0 L1558.8,1455.0 L1558.8,1456.0 L1558.8,1457.0 L1558.8,1458.0 L1558.8,1459.0 L1558.8,1460.0 L1558.8,1461.0 L1558.8,1462.0 L1558.8,1463.0 L1558.8,1464.0 L1558.8,1465.0 L1558.8,1466.0 L1558.8,1467.0 L1558.8,1468.0 L1558.8,1469.0 L1558.8,1470.0 L1558.8,1471.0 L1558.8,1472.0 L1558.8,1473.0 L1558.8,1474.0 L1558.8,1475.0 L1558.8,1476.0 L1558.9,1477.0 L1558.9,1478.0 L1558.9,1479.0 L1558.9,1480.0 L1558.9,1481.0 L1558.9,1482.0 L1558.9,1483.0 L1558.9,1484.0 L1558.9,1485.0 L1558.9,1486.0 L1558.9,1487.0 L1558.9,1488.0 L1558.9,1489.0 L1558.9,1490.0 L1558.9,1491.0 L1558.9,1492.0 L1558.9,1493.0 L1558.9,1494.0 L1558.9,1495.0 L1558.9,1496.0 L1558.9,1497.0 L1559.0,1498.0 L1559.0,1499.0 L1559.0,1500.0 L1559.0,1501.0 L1559.0,1502.0 L1559.0,1503.0 L1559.0,1504.0 L1559.0,1505.0 L1559.0,1506.0 L1559.0,1507.0 L1559.1,1508.0 L1559.3,1509.0 L1559.4,1510.0 L1559.6,1511.0 L1559.8,1512.0 L1560.0,1513.0 L1560.2,1514.0 L1560.4,1515.0 L1560.6,1516.0 L1560.7,1517.0 L1560.8,1518.0 L1560.8,1519.0 L1560.8,1520.0 L1560.7,1521.0 L1560.5,1522.0 L1560.4,1523.0 L1560.2,1524.0 L1560.0,1525.0 L1559.9,1526.0 L1559.7,1527.0 L1559.6,1528.0 L1559.5,1529.0 L1559.5,1530.0 L1559.5,1531.0 L1559.6,1532.0 L1559.7,1533.0 L1559.9,1534.0 L1560.1,1535.0 L1560.3,1536.0 L1560.5,1537.0 L1560.7,1538.0 L1560.9,1539.0 L1561.1,1540.0 L1561.4,1541.0 L1561.6,1542.0 L1561.8,1543.0 L1561.9,1544.0 L1562.1,1545.0 L1562.2,1546.0 L1562.3,1547.0 L1562.3,1548.0 L1562.3,1549.0 L1562.1,1550.0 L1561.9,1551.0 L1561.7,1552.0 L1561.4,1553.0 L1561.1,1554.0 L1560.8,1555.0 L1560.5,1556.0 L1560.2,1557.0 L1560.0,1558.0 L1559.8,1559.0 L1559.8,1560.0 L1559.8,1561.0 L1559.9,1562.0 L1560.0,1563.0 L1560.1,1564.0 L1560.3,1565.0 L1560.5,1566.0 L1560.7,1567.0 L1560.9,1568.0 L1561.1,1569.0 L1561.3,1570.0 L1561.4,1571.0 L1561.6,1572.0 L1561.7,1573.0 L1561.8,1574.0 L1561.8,1575.0 L1561.8,1576.0 L1561.6,1577.0 L1561.3,1578.0 L1561.0,1579.0 L1560.6,1580.0 L1560.3,1581.0 L1560.0,1582.0 L1559.9,1583.0 L1559.8,1584.0 L1559.9,1585.0 L1560.3,1586.0 L1560.7,1587.0 L1561.3,1588.0 L1561.9,1589.0 L1562.4,1590.0 L1562.9,1591.0 L1563.4,1592.0 L1564.0,1593.0 L1564.5,1594.0 L1565.1,1595.0 L1565.7,1596.0 L1566.2,1597.0 L1566.6,1598.0 L1567.0,1599.0 L1567.3,1600.0 L1567.6,1601.0 L1567.9,1602.0 L1568.1,1603.0 L1568.3,1604.0 L1568.5,1605.0 L1568.7,1606.0 L1569.0,1607.0 L1569.2,1608.0 L1569.3,1609.0 L1569.5,1610.0 L1569.6,1611.0 L1569.8,1612.0 L1570.0,1613.0 L1570.2,1614.0 L1570.7,1615.0 L1571.6,1616.0 L1572.9,1617.0 L1574.4,1618.0 L1576.0,1619.0 L1577.7,1620.0 L1579.4,1621.0 L1581.3,1622.0 L1583.4,1623.0 L1585.6,1624.0 L1588.0,1625.0 L1590.3,1626.0 L1592.6,1627.0 L1594.8,1628.0 L1597.1,1629.0 L1599.4,1630.0 L1601.7,1631.0 L1603.9,1632.0 L1605.9,1633.0 L1607.6,1634.0 L1609.4,1635.0 L1611.2,1636.0 L1612.9,1637.0 L1614.2,1638.0 L1615.1,1639.0 L1615.3,1640.0 L1614.0,1641.0 L1611.4,1642.0 L1607.9,1643.0 L1604.1,1644.0 L1600.3,1645.0 L1597.0,1646.0 L1593.6,1647.0 L1589.9,1648.0 L1586.2,1649.0 L1582.7,1650.0 L1579.5,1651.0 L1576.9,1652.0 L1574.7,1653.0 L1572.7,1654.0 L1570.8,1655.0 L1569.1,1656.0 L1567.6,1657.0 L1566.5,1658.0 L1565.9,1658.6 L1550.7,1658.6 L1550.1,1658.0 L1549.0,1657.0 L1547.5,1656.0 L1545.8,1655.0 L1543.9,1654.0 L1541.9,1653.0 L1539.7,1652.0 L1537.1,1651.0 L1533.9,1650.0 L1530.4,1649.0 L1526.7,1648.0 L1523.0,1647.0 L1519.6,1646.0 L1516.3,1645.0 L1512.5,1644.0 L1508.7,1643.0 L1505.2,1642.0 L1502.6,1641.0 L1501.3,1640.0 L1501.5,1639.0 L1502.4,1638.0 L1503.7,1637.0 L1505.4,1636.0 L1507.2,1635.0 L1509.0,1634.0 L1510.7,1633.0 L1512.7,1632.0 L1514.9,1631.0 L1517.2,1630.0 L1519.5,1629.0 L1521.8,1628.0 L1524.0,1627.0 L1526.3,1626.0 L1528.6,1625.0 L1531.0,1624.0 L1533.2,1623.0 L1535.3,1622.0 L1537.2,1621.0 L1538.9,1620.0 L1540.6,1619.0 L1542.2,1618.0 L1543.7,1617.0 L1545.0,1616.0 L1545.9,1615.0 L1546.4,1614.0 L1546.6,1613.0 L1546.8,1612.0 L1547.0,1611.0 L1547.1,1610.0 L1547.3,1609.0 L1547.4,1608.0 L1547.6,1607.0 L1547.9,1606.0 L1548.1,1605.0 L1548.3,1604.0 L1548.5,1603.0 L1548.7,1602.0 L1549.0,1601.0 L1549.3,1600.0 L1549.6,1599.0 L1550.0,1598.0 L1550.4,1597.0 L1550.9,1596.0 L1551.5,1595.0 L1552.1,1594.0 L1552.6,1593.0 L1553.2,1592.0 L1553.7,1591.0 L1554.2,1590.0 L1554.7,1589.0 L1555.3,1588.0 L1555.9,1587.0 L1556.3,1586.0 L1556.7,1585.0 L1556.8,1584.0 L1556.7,1583.0 L1556.6,1582.0 L1556.3,1581.0 L1556.0,1580.0 L1555.6,1579.0 L1555.3,1578.0 L1555.0,1577.0 L1554.8,1576.0 L1554.8,1575.0 L1554.8,1574.0 L1554.9,1573.0 L1555.0,1572.0 L1555.2,1571.0 L1555.3,1570.0 L1555.5,1569.0 L1555.7,1568.0 L1555.9,1567.0 L1556.1,1566.0 L1556.3,1565.0 L1556.5,1564.0 L1556.6,1563.0 L1556.7,1562.0 L1556.8,1561.0 L1556.8,1560.0 L1556.8,1559.0 L1556.6,1558.0 L1556.4,1557.0 L1556.1,1556.0 L1555.8,1555.0 L1555.5,1554.0 L1555.2,1553.0 L1554.9,1552.0 L1554.7,1551.0 L1554.5,1550.0 L1554.3,1549.0 L1554.3,1548.0 L1554.3,1547.0 L1554.4,1546.0 L1554.5,1545.0 L1554.7,1544.0 L1554.8,1543.0 L1555.0,1542.0 L1555.2,1541.0 L1555.5,1540.0 L1555.7,1539.0 L1555.9,1538.0 L1556.1,1537.0 L1556.3,1536.0 L1556.5,1535.0 L1556.7,1534.0 L1556.9,1533.0 L1557.0,1532.0 L1557.1,1531.0 L1557.1,1530.0 L1557.1,1529.0 L1557.0,1528.0 L1556.9,1527.0 L1556.7,1526.0 L1556.6,1525.0 L1556.4,1524.0 L1556.2,1523.0 L1556.1,1522.0 L1555.9,1521.0 L1555.8,1520.0 L1555.8,1519.0 L1555.8,1518.0 L1555.9,1517.0 L1556.0,1516.0 L1556.2,1515.0 L1556.4,1514.0 L1556.6,1513.0 L1556.8,1512.0 L1557.0,1511.0 L1557.2,1510.0 L1557.3,1509.0 L1557.5,1508.0 L1557.6,1507.0 L1557.6,1506.0 L1557.6,1505.0 L1557.6,1504.0 L1557.6,1503.0 L1557.6,1502.0 L1557.6,1501.0 L1557.6,1500.0 L1557.6,1499.0 L1557.6,1498.0 L1557.7,1497.0 L1557.7,1496.0 L1557.7,1495.0 L1557.7,1494.0 L1557.7,1493.0 L1557.7,1492.0 L1557.7,1491.0 L1557.7,1490.0 L1557.7,1489.0 L1557.7,1488.0 L1557.7,1487.0 L1557.7,1486.0 L1557.7,1485.0 L1557.7,1484.0 L1557.7,1483.0 L1557.7,1482.0 L1557.7,1481.0 L1557.7,1480.0 L1557.7,1479.0 L1557.7,1478.0 L1557.7,1477.0 L1557.8,1476.0 L1557.8,1475.0 L1557.8,1474.0 L1557.8,1473.0 L1557.8,1472.0 L1557.8,1471.0 L1557.8,1470.0 L1557.8,1469.0 L1557.8,1468.0 L1557.8,1467.0 L1557.8,1466.0 L1557.8,1465.0 L1557.8,1464.0 L1557.8,1463.0 L1557.8,1462.0 L1557.8,1461.0 L1557.8,1460.0 L1557.8,1459.0 L1557.8,1458.0 L1557.8,1457.0 L1557.8,1456.0 L1557.8,1455.0 L1557.8,1454.0 L1557.8,1453.0 L1557.8,1452.0 L1557.8,1451.0 L1557.8,1450.0 L1557.8,1449.0 L1557.8,1448.0 L1557.8,1447.0 L1557.8,1446.0 L1557.8,1445.0 L1557.8,1444.0 L1557.8,1443.0 L1557.8,1442.0 L1557.9,1441.0 L1557.9,1440.0 L1557.9,1439.0 L1557.9,1438.0 L1557.9,1437.0 L1557.9,1436.0 L1557.9,1435.0 L1557.9,1434.0 L1557.9,1433.0 L1557.9,1432.0 L1557.9,1431.0 L1557.9,1430.0 L1557.9,1429.0 L1557.9,1428.0 L1557.9,1427.0 L1557.9,1426.0 L1557.9,1425.0 L1557.9,1424.0 L1557.9,1423.0 L1557.9,1422.0 L1557.9,1421.0 L1557.9,1420.0 L1557.9,1419.0 L1557.9,1418.0 L1557.9,1417.0 L1557.9,1416.0 L1557.9,1415.0 L1557.9,1414.0 L1557.9,1413.0 L1557.9,1412.0 L1557.9,1411.0 L1557.9,1410.0 L1557.9,1409.0 L1557.9,1408.0 L1557.9,1407.0 L1557.9,1406.0 L1557.9,1405.0 L1557.9,1404.0 L1557.9,1403.0 L1557.9,1402.0 L1557.9,1401.0 L1557.9,1400.0 L1557.9,1399.0 L1557.9,1398.0 L1557.9,1397.0 L1557.9,1396.0 L1557.9,1395.0 L1557.9,1394.0 L1557.9,1393.0 L1557.9,1392.0 L1557.9,1391.0 L1557.9,1390.0 L1557.9,1389.0 L1557.9,1388.0 L1557.9,1387.0 L1557.9,1386.0 L1557.9,1385.0 L1557.9,1384.0 L1557.9,1383.0 L1557.9,1382.0 L1557.9,1381.0 L1557.9,1380.0 L1557.9,1379.0 L1557.9,1378.0 L1557.9,1377.0Z" fill="#CC982B" stroke="#363636" stroke-width="4.2" stroke-linejoin="round"/>
<rect x="1527.3" y="1631.6" width="62" height="10.7" fill="#000"/>
<circle cx="1527.3" cy="1636.9" r="2.3" fill="#000"/><circle cx="1589.3" cy="1636.9" r="2.3" fill="#000"/>
<path d="M1683.3,1358.0 L1683.3,1359.0 L1683.3,1360.0 L1683.3,1361.0 L1683.3,1362.0 L1683.3,1363.0 L1683.3,1364.0 L1683.3,1365.0 L1683.3,1366.0 L1683.3,1367.0 L1683.3,1368.0 L1683.3,1369.0 L1683.3,1370.0 L1683.3,1371.0 L1683.3,1372.0 L1683.3,1373.0 L1683.3,1374.0 L1683.3,1375.0 L1683.3,1376.0 L1683.3,1377.0 L1683.3,1378.0 L1683.3,1379.0 L1683.3,1380.0 L1683.3,1381.0 L1683.3,1382.0 L1683.3,1383.0 L1683.3,1384.0 L1683.3,1385.0 L1683.3,1386.0 L1683.3,1387.0 L1683.3,1388.0 L1683.3,1389.0 L1683.3,1390.0 L1683.3,1391.0 L1683.3,1392.0 L1683.3,1393.0 L1683.3,1394.0 L1683.3,1395.0 L1683.3,1396.0 L1683.3,1397.0 L1683.3,1398.0 L1683.3,1399.0 L1683.3,1400.0 L1683.3,1401.0 L1683.3,1402.0 L1683.3,1403.0 L1683.3,1404.0 L1683.3,1405.0 L1683.3,1406.0 L1683.3,1407.0 L1683.3,1408.0 L1683.3,1409.0 L1683.3,1410.0 L1683.3,1411.0 L1683.3,1412.0 L1683.3,1413.0 L1683.3,1414.0 L1683.3,1415.0 L1683.3,1416.0 L1683.3,1417.0 L1683.3,1418.0 L1683.3,1419.0 L1683.3,1420.0 L1683.3,1421.0 L1683.3,1422.0 L1683.3,1423.0 L1683.3,1424.0 L1683.3,1425.0 L1683.3,1426.0 L1683.3,1427.0 L1683.3,1428.0 L1683.3,1429.0 L1683.3,1430.0 L1683.3,1431.0 L1683.3,1432.0 L1683.4,1433.0 L1683.4,1434.0 L1683.4,1435.0 L1683.4,1436.0 L1683.4,1437.0 L1683.4,1438.0 L1683.4,1439.0 L1683.4,1440.0 L1683.4,1441.0 L1683.4,1442.0 L1683.4,1443.0 L1683.4,1444.0 L1683.4,1445.0 L1683.4,1446.0 L1683.4,1447.0 L1683.4,1448.0 L1683.4,1449.0 L1683.4,1450.0 L1683.4,1451.0 L1683.4,1452.0 L1683.4,1453.0 L1683.4,1454.0 L1683.4,1455.0 L1683.4,1456.0 L1683.4,1457.0 L1683.4,1458.0 L1683.4,1459.0 L1683.4,1460.0 L1683.4,1461.0 L1683.4,1462.0 L1683.4,1463.0 L1683.4,1464.0 L1683.4,1465.0 L1683.4,1466.0 L1683.4,1467.0 L1683.4,1468.0 L1683.4,1469.0 L1683.4,1470.0 L1683.4,1471.0 L1683.4,1472.0 L1683.5,1473.0 L1683.5,1474.0 L1683.5,1475.0 L1683.5,1476.0 L1683.5,1477.0 L1683.5,1478.0 L1683.5,1479.0 L1683.5,1480.0 L1683.5,1481.0 L1683.5,1482.0 L1683.5,1483.0 L1683.5,1484.0 L1683.5,1485.0 L1683.5,1486.0 L1683.5,1487.0 L1683.5,1488.0 L1683.5,1489.0 L1683.5,1490.0 L1683.5,1491.0 L1683.5,1492.0 L1683.5,1493.0 L1683.5,1494.0 L1683.5,1495.0 L1683.5,1496.0 L1683.6,1497.0 L1683.6,1498.0 L1683.6,1499.0 L1683.6,1500.0 L1683.6,1501.0 L1683.6,1502.0 L1683.6,1503.0 L1683.6,1504.0 L1683.6,1505.0 L1683.6,1506.0 L1683.6,1507.0 L1683.7,1508.0 L1683.9,1509.0 L1684.0,1510.0 L1684.2,1511.0 L1684.4,1512.0 L1684.6,1513.0 L1684.8,1514.0 L1685.0,1515.0 L1685.2,1516.0 L1685.3,1517.0 L1685.4,1518.0 L1685.4,1519.0 L1685.4,1520.0 L1685.3,1521.0 L1685.1,1522.0 L1685.0,1523.0 L1684.8,1524.0 L1684.6,1525.0 L1684.5,1526.0 L1684.3,1527.0 L1684.2,1528.0 L1684.1,1529.0 L1684.1,1530.0 L1684.1,1531.0 L1684.1,1532.0 L1684.1,1533.0 L1684.1,1534.0 L1684.1,1535.0 L1684.2,1536.0 L1684.2,1537.0 L1684.2,1538.0 L1684.2,1539.0 L1684.2,1540.0 L1684.3,1541.0 L1684.3,1542.0 L1684.3,1543.0 L1684.4,1544.0 L1684.4,1545.0 L1684.5,1546.0 L1684.5,1547.0 L1684.5,1548.0 L1684.6,1549.0 L1684.6,1550.0 L1684.7,1551.0 L1684.7,1552.0 L1684.8,1553.0 L1684.8,1554.0 L1684.9,1555.0 L1684.9,1556.0 L1685.0,1557.0 L1685.1,1558.0 L1685.1,1559.0 L1685.2,1560.0 L1685.4,1561.0 L1685.5,1562.0 L1685.6,1563.0 L1685.8,1564.0 L1685.9,1565.0 L1686.1,1566.0 L1686.2,1567.0 L1686.4,1568.0 L1686.5,1569.0 L1686.7,1570.0 L1686.9,1571.0 L1687.0,1572.0 L1687.2,1573.0 L1687.4,1574.0 L1687.5,1575.0 L1687.7,1576.0 L1687.9,1577.0 L1688.1,1578.0 L1688.3,1579.0 L1688.5,1580.0 L1688.7,1581.0 L1688.9,1582.0 L1689.2,1583.0 L1689.4,1584.0 L1689.6,1585.0 L1689.9,1586.0 L1690.2,1587.0 L1690.4,1588.0 L1690.7,1589.0 L1691.1,1590.0 L1691.4,1591.0 L1691.8,1592.0 L1692.2,1593.0 L1692.6,1594.0 L1693.0,1595.0 L1693.5,1596.0 L1693.9,1597.0 L1694.4,1598.0 L1694.9,1599.0 L1695.4,1600.0 L1695.9,1601.0 L1696.5,1602.0 L1697.1,1603.0 L1697.7,1604.0 L1698.3,1605.0 L1699.0,1606.0 L1699.7,1607.0 L1700.4,1608.0 L1701.2,1609.0 L1702.1,1610.0 L1703.0,1611.0 L1703.9,1612.0 L1705.0,1613.0 L1706.1,1614.0 L1707.2,1615.0 L1708.4,1616.0 L1709.7,1617.0 L1711.2,1618.0 L1712.8,1619.0 L1714.5,1620.0 L1716.3,1621.0 L1718.1,1622.0 L1719.9,1623.0 L1721.7,1624.0 L1723.6,1625.0 L1725.5,1626.0 L1727.4,1627.0 L1729.3,1628.0 L1731.0,1629.0 L1732.8,1630.0 L1734.7,1631.0 L1736.6,1632.0 L1738.3,1633.0 L1739.4,1634.0 L1739.7,1635.0 L1738.9,1636.0 L1737.2,1637.0 L1734.8,1638.0 L1732.2,1639.0 L1729.4,1640.0 L1726.9,1641.0 L1724.7,1642.0 L1722.4,1643.0 L1720.1,1644.0 L1717.7,1645.0 L1715.4,1646.0 L1713.1,1647.0 L1710.9,1648.0 L1708.7,1649.0 L1706.6,1650.0 L1704.6,1651.0 L1702.6,1652.0 L1700.6,1653.0 L1698.7,1654.0 L1696.7,1655.0 L1694.7,1656.0 L1692.7,1657.0 L1690.6,1658.0 L1689.4,1658.6 L1676.4,1658.6 L1675.2,1658.0 L1673.1,1657.0 L1671.1,1656.0 L1669.1,1655.0 L1667.1,1654.0 L1665.2,1653.0 L1663.2,1652.0 L1661.2,1651.0 L1659.2,1650.0 L1657.1,1649.0 L1654.9,1648.0 L1652.7,1647.0 L1650.4,1646.0 L1648.1,1645.0 L1645.7,1644.0 L1643.4,1643.0 L1641.1,1642.0 L1638.9,1641.0 L1636.4,1640.0 L1633.6,1639.0 L1631.0,1638.0 L1628.6,1637.0 L1626.9,1636.0 L1626.1,1635.0 L1626.4,1634.0 L1627.5,1633.0 L1629.2,1632.0 L1631.1,1631.0 L1633.0,1630.0 L1634.8,1629.0 L1636.5,1628.0 L1638.4,1627.0 L1640.3,1626.0 L1642.2,1625.0 L1644.1,1624.0 L1645.9,1623.0 L1647.7,1622.0 L1649.5,1621.0 L1651.3,1620.0 L1653.0,1619.0 L1654.6,1618.0 L1656.1,1617.0 L1657.4,1616.0 L1658.6,1615.0 L1659.7,1614.0 L1660.8,1613.0 L1661.9,1612.0 L1662.8,1611.0 L1663.7,1610.0 L1664.6,1609.0 L1665.4,1608.0 L1666.1,1607.0 L1666.8,1606.0 L1667.5,1605.0 L1668.1,1604.0 L1668.7,1603.0 L1669.3,1602.0 L1669.9,1601.0 L1670.4,1600.0 L1670.9,1599.0 L1671.4,1598.0 L1671.9,1597.0 L1672.3,1596.0 L1672.8,1595.0 L1673.2,1594.0 L1673.6,1593.0 L1674.0,1592.0 L1674.4,1591.0 L1674.7,1590.0 L1675.1,1589.0 L1675.4,1588.0 L1675.6,1587.0 L1675.9,1586.0 L1676.2,1585.0 L1676.4,1584.0 L1676.6,1583.0 L1676.9,1582.0 L1677.1,1581.0 L1677.3,1580.0 L1677.5,1579.0 L1677.7,1578.0 L1677.9,1577.0 L1678.1,1576.0 L1678.3,1575.0 L1678.4,1574.0 L1678.6,1573.0 L1678.8,1572.0 L1678.9,1571.0 L1679.1,1570.0 L1679.3,1569.0 L1679.4,1568.0 L1679.6,1567.0 L1679.7,1566.0 L1679.9,1565.0 L1680.0,1564.0 L1680.2,1563.0 L1680.3,1562.0 L1680.4,1561.0 L1680.6,1560.0 L1680.7,1559.0 L1680.7,1558.0 L1680.8,1557.0 L1680.9,1556.0 L1680.9,1555.0 L1681.0,1554.0 L1681.0,1553.0 L1681.1,1552.0 L1681.1,1551.0 L1681.2,1550.0 L1681.2,1549.0 L1681.3,1548.0 L1681.3,1547.0 L1681.3,1546.0 L1681.4,1545.0 L1681.4,1544.0 L1681.5,1543.0 L1681.5,1542.0 L1681.5,1541.0 L1681.6,1540.0 L1681.6,1539.0 L1681.6,1538.0 L1681.6,1537.0 L1681.6,1536.0 L1681.7,1535.0 L1681.7,1534.0 L1681.7,1533.0 L1681.7,1532.0 L1681.7,1531.0 L1681.7,1530.0 L1681.7,1529.0 L1681.6,1528.0 L1681.5,1527.0 L1681.3,1526.0 L1681.2,1525.0 L1681.0,1524.0 L1680.8,1523.0 L1680.7,1522.0 L1680.5,1521.0 L1680.4,1520.0 L1680.4,1519.0 L1680.4,1518.0 L1680.5,1517.0 L1680.6,1516.0 L1680.8,1515.0 L1681.0,1514.0 L1681.2,1513.0 L1681.4,1512.0 L1681.6,1511.0 L1681.8,1510.0 L1681.9,1509.0 L1682.1,1508.0 L1682.2,1507.0 L1682.2,1506.0 L1682.2,1505.0 L1682.2,1504.0 L1682.2,1503.0 L1682.2,1502.0 L1682.2,1501.0 L1682.2,1500.0 L1682.2,1499.0 L1682.2,1498.0 L1682.2,1497.0 L1682.3,1496.0 L1682.3,1495.0 L1682.3,1494.0 L1682.3,1493.0 L1682.3,1492.0 L1682.3,1491.0 L1682.3,1490.0 L1682.3,1489.0 L1682.3,1488.0 L1682.3,1487.0 L1682.3,1486.0 L1682.3,1485.0 L1682.3,1484.0 L1682.3,1483.0 L1682.3,1482.0 L1682.3,1481.0 L1682.3,1480.0 L1682.3,1479.0 L1682.3,1478.0 L1682.3,1477.0 L1682.3,1476.0 L1682.3,1475.0 L1682.3,1474.0 L1682.3,1473.0 L1682.4,1472.0 L1682.4,1471.0 L1682.4,1470.0 L1682.4,1469.0 L1682.4,1468.0 L1682.4,1467.0 L1682.4,1466.0 L1682.4,1465.0 L1682.4,1464.0 L1682.4,1463.0 L1682.4,1462.0 L1682.4,1461.0 L1682.4,1460.0 L1682.4,1459.0 L1682.4,1458.0 L1682.4,1457.0 L1682.4,1456.0 L1682.4,1455.0 L1682.4,1454.0 L1682.4,1453.0 L1682.4,1452.0 L1682.4,1451.0 L1682.4,1450.0 L1682.4,1449.0 L1682.4,1448.0 L1682.4,1447.0 L1682.4,1446.0 L1682.4,1445.0 L1682.4,1444.0 L1682.4,1443.0 L1682.4,1442.0 L1682.4,1441.0 L1682.4,1440.0 L1682.4,1439.0 L1682.4,1438.0 L1682.4,1437.0 L1682.4,1436.0 L1682.4,1435.0 L1682.4,1434.0 L1682.4,1433.0 L1682.5,1432.0 L1682.5,1431.0 L1682.5,1430.0 L1682.5,1429.0 L1682.5,1428.0 L1682.5,1427.0 L1682.5,1426.0 L1682.5,1425.0 L1682.5,1424.0 L1682.5,1423.0 L1682.5,1422.0 L1682.5,1421.0 L1682.5,1420.0 L1682.5,1419.0 L1682.5,1418.0 L1682.5,1417.0 L1682.5,1416.0 L1682.5,1415.0 L1682.5,1414.0 L1682.5,1413.0 L1682.5,1412.0 L1682.5,1411.0 L1682.5,1410.0 L1682.5,1409.0 L1682.5,1408.0 L1682.5,1407.0 L1682.5,1406.0 L1682.5,1405.0 L1682.5,1404.0 L1682.5,1403.0 L1682.5,1402.0 L1682.5,1401.0 L1682.5,1400.0 L1682.5,1399.0 L1682.5,1398.0 L1682.5,1397.0 L1682.5,1396.0 L1682.5,1395.0 L1682.5,1394.0 L1682.5,1393.0 L1682.5,1392.0 L1682.5,1391.0 L1682.5,1390.0 L1682.5,1389.0 L1682.5,1388.0 L1682.5,1387.0 L1682.5,1386.0 L1682.5,1385.0 L1682.5,1384.0 L1682.5,1383.0 L1682.5,1382.0 L1682.5,1381.0 L1682.5,1380.0 L1682.5,1379.0 L1682.5,1378.0 L1682.5,1377.0 L1682.5,1376.0 L1682.5,1375.0 L1682.5,1374.0 L1682.5,1373.0 L1682.5,1372.0 L1682.5,1371.0 L1682.5,1370.0 L1682.5,1369.0 L1682.5,1368.0 L1682.5,1367.0 L1682.5,1366.0 L1682.5,1365.0 L1682.5,1364.0 L1682.5,1363.0 L1682.5,1362.0 L1682.5,1361.0 L1682.5,1360.0 L1682.5,1359.0 L1682.5,1358.0Z" fill="#7FB23F" stroke="#363636" stroke-width="4.2" stroke-linejoin="round"/>
<rect x="1651.9" y="1626.9" width="62" height="10.7" fill="#000"/>
<circle cx="1651.9" cy="1632.2" r="2.3" fill="#000"/><circle cx="1713.9" cy="1632.2" r="2.3" fill="#000"/>
<path d="M1809.1,1321.7 L1809.1,1322.7 L1809.1,1323.7 L1809.1,1324.7 L1809.1,1325.7 L1809.1,1326.7 L1809.1,1327.7 L1809.1,1328.7 L1809.1,1329.7 L1809.1,1330.7 L1809.1,1331.7 L1809.1,1332.7 L1809.1,1333.7 L1809.1,1334.7 L1809.1,1335.7 L1809.1,1336.7 L1809.1,1337.7 L1809.1,1338.7 L1809.1,1339.7 L1809.1,1340.7 L1809.1,1341.7 L1809.1,1342.7 L1809.1,1343.7 L1809.1,1344.7 L1809.1,1345.7 L1809.1,1346.7 L1809.1,1347.7 L1809.2,1348.7 L1809.2,1349.7 L1809.2,1350.7 L1809.2,1351.7 L1809.2,1352.7 L1809.2,1353.7 L1809.2,1354.7 L1809.2,1355.7 L1809.2,1356.7 L1809.2,1357.7 L1809.2,1358.7 L1809.2,1359.7 L1809.2,1360.7 L1809.2,1361.7 L1809.2,1362.7 L1809.2,1363.7 L1809.3,1364.7 L1809.3,1365.7 L1809.3,1366.7 L1809.3,1367.7 L1809.3,1368.7 L1809.3,1369.7 L1809.4,1370.7 L1809.5,1371.7 L1809.6,1372.7 L1809.8,1373.7 L1810.0,1374.7 L1810.2,1375.7 L1810.5,1376.7 L1810.7,1377.7 L1811.0,1378.7 L1811.2,1379.7 L1811.5,1380.7 L1811.7,1381.7 L1811.9,1382.7 L1812.1,1383.7 L1812.3,1384.7 L1812.5,1385.7 L1812.7,1386.7 L1812.9,1387.7 L1813.1,1388.7 L1813.4,1389.7 L1813.6,1390.7 L1813.8,1391.7 L1814.0,1392.7 L1814.2,1393.7 L1814.3,1394.7 L1814.5,1395.7 L1814.7,1396.7 L1814.8,1397.7 L1815.0,1398.7 L1815.1,1399.7 L1815.2,1400.7 L1815.4,1401.7 L1815.5,1402.7 L1815.6,1403.7 L1815.7,1404.7 L1815.8,1405.7 L1815.9,1406.7 L1816.0,1407.7 L1816.1,1408.7 L1816.2,1409.7 L1816.3,1410.7 L1816.4,1411.7 L1816.5,1412.7 L1816.6,1413.7 L1816.6,1414.7 L1816.7,1415.7 L1816.8,1416.7 L1816.8,1417.7 L1816.9,1418.7 L1816.9,1419.7 L1817.0,1420.7 L1817.0,1421.7 L1817.1,1422.7 L1817.2,1423.7 L1817.2,1424.7 L1817.3,1425.7 L1817.3,1426.7 L1817.4,1427.7 L1817.5,1428.7 L1817.6,1429.7 L1817.7,1430.7 L1817.8,1431.7 L1817.9,1432.7 L1818.0,1433.7 L1818.1,1434.7 L1818.3,1435.7 L1818.4,1436.7 L1818.6,1437.7 L1818.8,1438.7 L1818.9,1439.7 L1819.1,1440.7 L1819.3,1441.7 L1819.5,1442.7 L1819.7,1443.7 L1819.9,1444.7 L1820.1,1445.7 L1820.4,1446.7 L1820.6,1447.7 L1820.8,1448.7 L1821.1,1449.7 L1821.4,1450.7 L1821.7,1451.7 L1822.1,1452.7 L1822.4,1453.7 L1822.8,1454.7 L1823.2,1455.7 L1823.6,1456.7 L1824.0,1457.7 L1824.4,1458.7 L1824.8,1459.7 L1825.2,1460.7 L1825.6,1461.7 L1826.0,1462.7 L1826.4,1463.7 L1826.8,1464.7 L1827.2,1465.7 L1827.6,1466.7 L1828.0,1467.7 L1828.4,1468.7 L1828.8,1469.7 L1829.2,1470.7 L1829.6,1471.7 L1830.0,1472.7 L1830.4,1473.7 L1830.8,1474.7 L1831.3,1475.7 L1831.7,1476.7 L1832.2,1477.7 L1832.6,1478.7 L1833.1,1479.7 L1833.6,1480.7 L1834.1,1481.7 L1834.7,1482.7 L1835.3,1483.7 L1835.9,1484.7 L1836.5,1485.7 L1837.2,1486.7 L1837.8,1487.7 L1838.6,1488.7 L1839.3,1489.7 L1840.0,1490.7 L1840.7,1491.7 L1841.5,1492.7 L1842.2,1493.7 L1843.0,1494.7 L1843.7,1495.7 L1844.5,1496.7 L1845.2,1497.7 L1845.9,1498.7 L1846.6,1499.7 L1847.3,1500.7 L1848.0,1501.7 L1848.7,1502.7 L1849.5,1503.7 L1850.2,1504.7 L1851.0,1505.7 L1851.7,1506.7 L1852.5,1507.7 L1853.2,1508.7 L1853.9,1509.7 L1854.6,1510.7 L1855.3,1511.7 L1856.0,1512.7 L1856.6,1513.7 L1857.2,1514.7 L1857.7,1515.7 L1858.2,1516.7 L1858.7,1517.7 L1859.1,1518.7 L1859.6,1519.7 L1860.1,1520.7 L1860.5,1521.7 L1860.9,1522.7 L1861.3,1523.7 L1861.7,1524.7 L1862.0,1525.7 L1862.3,1526.7 L1862.6,1527.7 L1862.9,1528.7 L1863.1,1529.7 L1863.3,1530.7 L1863.5,1531.7 L1863.7,1532.7 L1863.9,1533.7 L1864.0,1534.7 L1864.2,1535.7 L1864.3,1536.7 L1864.5,1537.7 L1864.6,1538.7 L1864.7,1539.7 L1864.7,1540.7 L1864.8,1541.7 L1864.8,1542.7 L1864.8,1543.7 L1864.7,1544.7 L1864.7,1545.7 L1864.6,1546.7 L1864.5,1547.7 L1864.3,1548.7 L1864.2,1549.7 L1864.0,1550.7 L1863.9,1551.7 L1863.7,1552.7 L1863.5,1553.7 L1863.3,1554.7 L1863.1,1555.7 L1862.9,1556.7 L1862.6,1557.7 L1862.3,1558.7 L1861.9,1559.7 L1861.5,1560.7 L1861.0,1561.7 L1860.5,1562.7 L1860.0,1563.7 L1859.5,1564.7 L1858.9,1565.7 L1858.4,1566.7 L1857.8,1567.7 L1857.2,1568.7 L1856.7,1569.7 L1856.1,1570.7 L1855.5,1571.7 L1855.0,1572.7 L1854.4,1573.7 L1853.9,1574.7 L1853.3,1575.7 L1852.7,1576.7 L1852.1,1577.7 L1851.5,1578.7 L1850.9,1579.7 L1850.3,1580.7 L1849.6,1581.7 L1849.0,1582.7 L1848.4,1583.7 L1847.7,1584.7 L1847.1,1585.7 L1846.4,1586.7 L1845.8,1587.7 L1845.2,1588.7 L1844.5,1589.7 L1843.9,1590.7 L1843.3,1591.7 L1842.6,1592.7 L1842.0,1593.7 L1841.3,1594.7 L1840.6,1595.7 L1840.0,1596.7 L1839.3,1597.7 L1838.6,1598.7 L1837.9,1599.7 L1837.3,1600.7 L1836.7,1601.7 L1836.0,1602.7 L1835.4,1603.7 L1834.9,1604.7 L1834.3,1605.7 L1833.8,1606.7 L1833.3,1607.7 L1832.8,1608.7 L1832.4,1609.7 L1832.0,1610.7 L1831.5,1611.7 L1831.1,1612.7 L1830.7,1613.7 L1830.4,1614.7 L1830.0,1615.7 L1829.6,1616.7 L1829.3,1617.7 L1828.9,1618.7 L1828.6,1619.7 L1828.2,1620.7 L1827.9,1621.7 L1827.6,1622.7 L1827.2,1623.7 L1826.9,1624.7 L1826.6,1625.7 L1826.3,1626.7 L1825.9,1627.7 L1825.6,1628.7 L1825.3,1629.7 L1825.0,1630.7 L1824.7,1631.7 L1824.4,1632.7 L1824.1,1633.7 L1823.9,1634.7 L1823.6,1635.7 L1823.3,1636.7 L1823.0,1637.7 L1822.8,1638.7 L1822.5,1639.7 L1822.3,1640.7 L1822.0,1641.7 L1821.8,1642.7 L1821.5,1643.7 L1821.3,1644.7 L1821.1,1645.7 L1820.8,1646.7 L1820.6,1647.7 L1820.4,1648.7 L1820.2,1649.7 L1819.9,1650.7 L1819.7,1651.7 L1819.5,1652.7 L1819.3,1653.7 L1819.1,1654.7 L1819.0,1655.4 L1796.6,1655.4 L1796.5,1654.7 L1796.3,1653.7 L1796.1,1652.7 L1795.9,1651.7 L1795.7,1650.7 L1795.4,1649.7 L1795.2,1648.7 L1795.0,1647.7 L1794.8,1646.7 L1794.5,1645.7 L1794.3,1644.7 L1794.1,1643.7 L1793.8,1642.7 L1793.6,1641.7 L1793.3,1640.7 L1793.1,1639.7 L1792.8,1638.7 L1792.6,1637.7 L1792.3,1636.7 L1792.0,1635.7 L1791.7,1634.7 L1791.5,1633.7 L1791.2,1632.7 L1790.9,1631.7 L1790.6,1630.7 L1790.3,1629.7 L1790.0,1628.7 L1789.7,1627.7 L1789.3,1626.7 L1789.0,1625.7 L1788.7,1624.7 L1788.4,1623.7 L1788.0,1622.7 L1787.7,1621.7 L1787.4,1620.7 L1787.0,1619.7 L1786.7,1618.7 L1786.3,1617.7 L1786.0,1616.7 L1785.6,1615.7 L1785.2,1614.7 L1784.9,1613.7 L1784.5,1612.7 L1784.1,1611.7 L1783.6,1610.7 L1783.2,1609.7 L1782.8,1608.7 L1782.3,1607.7 L1781.8,1606.7 L1781.3,1605.7 L1780.7,1604.7 L1780.2,1603.7 L1779.6,1602.7 L1778.9,1601.7 L1778.3,1600.7 L1777.7,1599.7 L1777.0,1598.7 L1776.3,1597.7 L1775.6,1596.7 L1775.0,1595.7 L1774.3,1594.7 L1773.6,1593.7 L1773.0,1592.7 L1772.3,1591.7 L1771.7,1590.7 L1771.1,1589.7 L1770.4,1588.7 L1769.8,1587.7 L1769.2,1586.7 L1768.5,1585.7 L1767.9,1584.7 L1767.2,1583.7 L1766.6,1582.7 L1766.0,1581.7 L1765.3,1580.7 L1764.7,1579.7 L1764.1,1578.7 L1763.5,1577.7 L1762.9,1576.7 L1762.3,1575.7 L1761.7,1574.7 L1761.2,1573.7 L1760.6,1572.7 L1760.1,1571.7 L1759.5,1570.7 L1758.9,1569.7 L1758.4,1568.7 L1757.8,1567.7 L1757.2,1566.7 L1756.7,1565.7 L1756.1,1564.7 L1755.6,1563.7 L1755.1,1562.7 L1754.6,1561.7 L1754.1,1560.7 L1753.7,1559.7 L1753.3,1558.7 L1753.0,1557.7 L1752.7,1556.7 L1752.5,1555.7 L1752.3,1554.7 L1752.1,1553.7 L1751.9,1552.7 L1751.7,1551.7 L1751.6,1550.7 L1751.4,1549.7 L1751.3,1548.7 L1751.1,1547.7 L1751.0,1546.7 L1750.9,1545.7 L1750.9,1544.7 L1750.8,1543.7 L1750.8,1542.7 L1750.8,1541.7 L1750.9,1540.7 L1750.9,1539.7 L1751.0,1538.7 L1751.1,1537.7 L1751.3,1536.7 L1751.4,1535.7 L1751.6,1534.7 L1751.7,1533.7 L1751.9,1532.7 L1752.1,1531.7 L1752.3,1530.7 L1752.5,1529.7 L1752.7,1528.7 L1753.0,1527.7 L1753.3,1526.7 L1753.6,1525.7 L1753.9,1524.7 L1754.3,1523.7 L1754.7,1522.7 L1755.1,1521.7 L1755.5,1520.7 L1756.0,1519.7 L1756.5,1518.7 L1756.9,1517.7 L1757.4,1516.7 L1757.9,1515.7 L1758.4,1514.7 L1759.0,1513.7 L1759.6,1512.7 L1760.3,1511.7 L1761.0,1510.7 L1761.7,1509.7 L1762.4,1508.7 L1763.1,1507.7 L1763.9,1506.7 L1764.6,1505.7 L1765.4,1504.7 L1766.1,1503.7 L1766.9,1502.7 L1767.6,1501.7 L1768.3,1500.7 L1769.0,1499.7 L1769.7,1498.7 L1770.4,1497.7 L1771.1,1496.7 L1771.9,1495.7 L1772.6,1494.7 L1773.4,1493.7 L1774.1,1492.7 L1774.9,1491.7 L1775.6,1490.7 L1776.3,1489.7 L1777.0,1488.7 L1777.8,1487.7 L1778.4,1486.7 L1779.1,1485.7 L1779.7,1484.7 L1780.3,1483.7 L1780.9,1482.7 L1781.5,1481.7 L1782.0,1480.7 L1782.5,1479.7 L1783.0,1478.7 L1783.4,1477.7 L1783.9,1476.7 L1784.3,1475.7 L1784.8,1474.7 L1785.2,1473.7 L1785.6,1472.7 L1786.0,1471.7 L1786.4,1470.7 L1786.8,1469.7 L1787.2,1468.7 L1787.6,1467.7 L1788.0,1466.7 L1788.4,1465.7 L1788.8,1464.7 L1789.2,1463.7 L1789.6,1462.7 L1790.0,1461.7 L1790.4,1460.7 L1790.8,1459.7 L1791.2,1458.7 L1791.6,1457.7 L1792.0,1456.7 L1792.4,1455.7 L1792.8,1454.7 L1793.2,1453.7 L1793.5,1452.7 L1793.9,1451.7 L1794.2,1450.7 L1794.5,1449.7 L1794.8,1448.7 L1795.0,1447.7 L1795.2,1446.7 L1795.5,1445.7 L1795.7,1444.7 L1795.9,1443.7 L1796.1,1442.7 L1796.3,1441.7 L1796.5,1440.7 L1796.7,1439.7 L1796.8,1438.7 L1797.0,1437.7 L1797.2,1436.7 L1797.3,1435.7 L1797.5,1434.7 L1797.6,1433.7 L1797.7,1432.7 L1797.8,1431.7 L1797.9,1430.7 L1798.0,1429.7 L1798.1,1428.7 L1798.2,1427.7 L1798.3,1426.7 L1798.3,1425.7 L1798.4,1424.7 L1798.4,1423.7 L1798.5,1422.7 L1798.6,1421.7 L1798.6,1420.7 L1798.7,1419.7 L1798.7,1418.7 L1798.8,1417.7 L1798.8,1416.7 L1798.9,1415.7 L1799.0,1414.7 L1799.0,1413.7 L1799.1,1412.7 L1799.2,1411.7 L1799.3,1410.7 L1799.4,1409.7 L1799.5,1408.7 L1799.6,1407.7 L1799.7,1406.7 L1799.8,1405.7 L1799.9,1404.7 L1800.0,1403.7 L1800.1,1402.7 L1800.2,1401.7 L1800.4,1400.7 L1800.5,1399.7 L1800.6,1398.7 L1800.8,1397.7 L1800.9,1396.7 L1801.1,1395.7 L1801.3,1394.7 L1801.4,1393.7 L1801.6,1392.7 L1801.8,1391.7 L1802.0,1390.7 L1802.2,1389.7 L1802.5,1388.7 L1802.7,1387.7 L1802.9,1386.7 L1803.1,1385.7 L1803.3,1384.7 L1803.5,1383.7 L1803.7,1382.7 L1803.9,1381.7 L1804.1,1380.7 L1804.4,1379.7 L1804.6,1378.7 L1804.9,1377.7 L1805.1,1376.7 L1805.4,1375.7 L1805.6,1374.7 L1805.8,1373.7 L1806.0,1372.7 L1806.1,1371.7 L1806.2,1370.7 L1806.3,1369.7 L1806.3,1368.7 L1806.3,1367.7 L1806.3,1366.7 L1806.3,1365.7 L1806.3,1364.7 L1806.4,1363.7 L1806.4,1362.7 L1806.4,1361.7 L1806.4,1360.7 L1806.4,1359.7 L1806.4,1358.7 L1806.4,1357.7 L1806.4,1356.7 L1806.4,1355.7 L1806.4,1354.7 L1806.4,1353.7 L1806.4,1352.7 L1806.4,1351.7 L1806.4,1350.7 L1806.4,1349.7 L1806.4,1348.7 L1806.5,1347.7 L1806.5,1346.7 L1806.5,1345.7 L1806.5,1344.7 L1806.5,1343.7 L1806.5,1342.7 L1806.5,1341.7 L1806.5,1340.7 L1806.5,1339.7 L1806.5,1338.7 L1806.5,1337.7 L1806.5,1336.7 L1806.5,1335.7 L1806.5,1334.7 L1806.5,1333.7 L1806.5,1332.7 L1806.5,1331.7 L1806.5,1330.7 L1806.5,1329.7 L1806.5,1328.7 L1806.5,1327.7 L1806.5,1326.7 L1806.5,1325.7 L1806.5,1324.7 L1806.5,1323.7 L1806.5,1322.7 L1806.5,1321.7Z" fill="#2EB668" stroke="#363636" stroke-width="4.2" stroke-linejoin="round"/>
<rect x="1776.8" y="1542.2" width="62" height="10.7" fill="#000"/>
<circle cx="1776.8" cy="1547.5" r="2.3" fill="#000"/><circle cx="1838.8" cy="1547.5" r="2.3" fill="#000"/>
<path d="M1932.8,1382.3 L1932.8,1383.3 L1932.8,1384.3 L1932.8,1385.3 L1932.8,1386.3 L1932.8,1387.3 L1932.8,1388.3 L1932.8,1389.3 L1932.8,1390.3 L1932.8,1391.3 L1932.8,1392.3 L1932.8,1393.3 L1932.8,1394.3 L1932.8,1395.3 L1932.8,1396.3 L1932.8,1397.3 L1932.8,1398.3 L1932.8,1399.3 L1932.8,1400.3 L1932.8,1401.3 L1932.8,1402.3 L1932.8,1403.3 L1932.8,1404.3 L1932.8,1405.3 L1932.8,1406.3 L1932.8,1407.3 L1932.8,1408.3 L1932.8,1409.3 L1932.8,1410.3 L1932.8,1411.3 L1932.8,1412.3 L1932.8,1413.3 L1932.8,1414.3 L1932.8,1415.3 L1932.8,1416.3 L1932.8,1417.3 L1932.8,1418.3 L1932.8,1419.3 L1932.8,1420.3 L1932.8,1421.3 L1932.8,1422.3 L1932.8,1423.3 L1932.8,1424.3 L1932.8,1425.3 L1932.8,1426.3 L1932.8,1427.3 L1932.8,1428.3 L1932.8,1429.3 L1932.8,1430.3 L1932.8,1431.3 L1932.8,1432.3 L1932.8,1433.3 L1932.9,1434.3 L1932.9,1435.3 L1932.9,1436.3 L1932.9,1437.3 L1932.9,1438.3 L1932.9,1439.3 L1932.9,1440.3 L1932.9,1441.3 L1932.9,1442.3 L1932.9,1443.3 L1932.9,1444.3 L1932.9,1445.3 L1932.9,1446.3 L1932.9,1447.3 L1932.9,1448.3 L1932.9,1449.3 L1932.9,1450.3 L1932.9,1451.3 L1932.9,1452.3 L1932.9,1453.3 L1932.9,1454.3 L1932.9,1455.3 L1932.9,1456.3 L1932.9,1457.3 L1932.9,1458.3 L1932.9,1459.3 L1932.9,1460.3 L1932.9,1461.3 L1932.9,1462.3 L1932.9,1463.3 L1932.9,1464.3 L1933.0,1465.3 L1933.0,1466.3 L1933.0,1467.3 L1933.0,1468.3 L1933.0,1469.3 L1933.0,1470.3 L1933.0,1471.3 L1933.0,1472.3 L1933.0,1473.3 L1933.0,1474.3 L1933.0,1475.3 L1933.0,1476.3 L1933.0,1477.3 L1933.0,1478.3 L1933.0,1479.3 L1933.0,1480.3 L1933.0,1481.3 L1933.0,1482.3 L1933.0,1483.3 L1933.0,1484.3 L1933.1,1485.3 L1933.1,1486.3 L1933.1,1487.3 L1933.1,1488.3 L1933.1,1489.3 L1933.1,1490.3 L1933.1,1491.3 L1933.1,1492.3 L1933.1,1493.3 L1933.1,1494.3 L1933.1,1495.3 L1933.1,1496.3 L1933.1,1497.3 L1933.1,1498.3 L1933.1,1499.3 L1933.2,1500.3 L1933.2,1501.3 L1933.2,1502.3 L1933.2,1503.3 L1933.2,1504.3 L1933.2,1505.3 L1933.2,1506.3 L1933.2,1507.3 L1933.3,1508.3 L1933.3,1509.3 L1933.3,1510.3 L1933.4,1511.3 L1933.5,1512.3 L1933.6,1513.3 L1933.6,1514.3 L1933.7,1515.3 L1933.8,1516.3 L1933.9,1517.3 L1934.0,1518.3 L1934.2,1519.3 L1934.3,1520.3 L1934.4,1521.3 L1934.5,1522.3 L1934.6,1523.3 L1934.8,1524.3 L1934.9,1525.3 L1935.0,1526.3 L1935.2,1527.3 L1935.3,1528.3 L1935.5,1529.3 L1935.6,1530.3 L1935.8,1531.3 L1936.0,1532.3 L1936.2,1533.3 L1936.4,1534.3 L1936.7,1535.3 L1936.9,1536.3 L1937.1,1537.3 L1937.4,1538.3 L1937.6,1539.3 L1938.0,1540.3 L1938.3,1541.3 L1938.8,1542.3 L1939.2,1543.3 L1939.6,1544.3 L1940.0,1545.3 L1940.4,1546.3 L1940.8,1547.3 L1941.2,1548.3 L1941.4,1549.3 L1941.7,1550.3 L1941.8,1551.3 L1941.9,1552.3 L1941.9,1553.3 L1942.0,1554.3 L1942.0,1555.3 L1942.0,1556.3 L1942.1,1557.3 L1942.1,1558.3 L1942.1,1559.3 L1942.2,1560.3 L1942.2,1561.3 L1942.3,1562.3 L1942.3,1563.3 L1942.4,1564.3 L1942.5,1565.3 L1942.7,1566.3 L1943.0,1567.3 L1943.3,1568.3 L1943.7,1569.3 L1944.2,1570.3 L1944.7,1571.3 L1945.3,1572.3 L1945.8,1573.3 L1946.4,1574.3 L1947.1,1575.3 L1947.8,1576.3 L1948.7,1577.3 L1949.8,1578.3 L1950.9,1579.3 L1952.2,1580.3 L1953.5,1581.3 L1954.9,1582.3 L1956.3,1583.3 L1957.7,1584.3 L1959.1,1585.3 L1960.4,1586.3 L1961.8,1587.3 L1963.2,1588.3 L1964.7,1589.3 L1966.2,1590.3 L1967.7,1591.3 L1969.2,1592.3 L1970.7,1593.3 L1972.1,1594.3 L1973.4,1595.3 L1974.6,1596.3 L1975.6,1597.3 L1976.6,1598.3 L1977.6,1599.3 L1978.6,1600.3 L1979.5,1601.3 L1980.4,1602.3 L1981.2,1603.3 L1982.0,1604.3 L1982.7,1605.3 L1983.3,1606.3 L1983.7,1607.3 L1984.1,1608.3 L1984.5,1609.3 L1984.8,1610.3 L1985.1,1611.3 L1985.3,1612.3 L1985.6,1613.3 L1985.8,1614.3 L1986.0,1615.3 L1986.2,1616.3 L1986.4,1617.3 L1986.6,1618.3 L1986.8,1619.3 L1987.0,1620.3 L1987.2,1621.3 L1987.5,1622.3 L1987.7,1623.3 L1988.0,1624.3 L1988.2,1625.3 L1988.5,1626.3 L1988.7,1627.3 L1988.9,1628.3 L1989.1,1629.3 L1989.3,1630.3 L1989.4,1631.3 L1989.4,1632.3 L1989.2,1633.3 L1988.2,1634.3 L1986.6,1635.3 L1984.5,1636.3 L1982.1,1637.3 L1979.6,1638.3 L1977.2,1639.3 L1975.0,1640.3 L1972.9,1641.3 L1970.6,1642.3 L1968.3,1643.3 L1965.9,1644.3 L1963.5,1645.3 L1961.2,1646.3 L1959.0,1647.3 L1956.9,1648.3 L1954.9,1649.3 L1953.1,1650.3 L1951.2,1651.3 L1949.5,1652.3 L1947.7,1653.3 L1946.1,1654.3 L1944.5,1655.3 L1942.9,1656.3 L1941.5,1657.3 L1940.5,1658.0 L1924.3,1658.0 L1923.3,1657.3 L1921.9,1656.3 L1920.3,1655.3 L1918.7,1654.3 L1917.1,1653.3 L1915.3,1652.3 L1913.6,1651.3 L1911.7,1650.3 L1909.9,1649.3 L1907.9,1648.3 L1905.8,1647.3 L1903.6,1646.3 L1901.3,1645.3 L1898.9,1644.3 L1896.5,1643.3 L1894.2,1642.3 L1891.9,1641.3 L1889.8,1640.3 L1887.6,1639.3 L1885.2,1638.3 L1882.7,1637.3 L1880.3,1636.3 L1878.2,1635.3 L1876.6,1634.3 L1875.6,1633.3 L1875.4,1632.3 L1875.4,1631.3 L1875.5,1630.3 L1875.7,1629.3 L1875.9,1628.3 L1876.1,1627.3 L1876.3,1626.3 L1876.6,1625.3 L1876.8,1624.3 L1877.1,1623.3 L1877.3,1622.3 L1877.6,1621.3 L1877.8,1620.3 L1878.0,1619.3 L1878.2,1618.3 L1878.4,1617.3 L1878.6,1616.3 L1878.8,1615.3 L1879.0,1614.3 L1879.2,1613.3 L1879.5,1612.3 L1879.7,1611.3 L1880.0,1610.3 L1880.3,1609.3 L1880.7,1608.3 L1881.1,1607.3 L1881.5,1606.3 L1882.1,1605.3 L1882.8,1604.3 L1883.6,1603.3 L1884.4,1602.3 L1885.3,1601.3 L1886.2,1600.3 L1887.2,1599.3 L1888.2,1598.3 L1889.2,1597.3 L1890.2,1596.3 L1891.4,1595.3 L1892.7,1594.3 L1894.1,1593.3 L1895.6,1592.3 L1897.1,1591.3 L1898.6,1590.3 L1900.1,1589.3 L1901.6,1588.3 L1903.0,1587.3 L1904.4,1586.3 L1905.7,1585.3 L1907.1,1584.3 L1908.5,1583.3 L1909.9,1582.3 L1911.3,1581.3 L1912.6,1580.3 L1913.9,1579.3 L1915.0,1578.3 L1916.1,1577.3 L1917.0,1576.3 L1917.7,1575.3 L1918.4,1574.3 L1919.0,1573.3 L1919.5,1572.3 L1920.1,1571.3 L1920.6,1570.3 L1921.1,1569.3 L1921.5,1568.3 L1921.8,1567.3 L1922.1,1566.3 L1922.3,1565.3 L1922.4,1564.3 L1922.5,1563.3 L1922.5,1562.3 L1922.6,1561.3 L1922.6,1560.3 L1922.7,1559.3 L1922.7,1558.3 L1922.7,1557.3 L1922.8,1556.3 L1922.8,1555.3 L1922.8,1554.3 L1922.9,1553.3 L1922.9,1552.3 L1923.0,1551.3 L1923.1,1550.3 L1923.4,1549.3 L1923.6,1548.3 L1924.0,1547.3 L1924.4,1546.3 L1924.8,1545.3 L1925.2,1544.3 L1925.6,1543.3 L1926.0,1542.3 L1926.5,1541.3 L1926.8,1540.3 L1927.2,1539.3 L1927.4,1538.3 L1927.7,1537.3 L1927.9,1536.3 L1928.1,1535.3 L1928.4,1534.3 L1928.6,1533.3 L1928.8,1532.3 L1929.0,1531.3 L1929.2,1530.3 L1929.3,1529.3 L1929.5,1528.3 L1929.6,1527.3 L1929.8,1526.3 L1929.9,1525.3 L1930.0,1524.3 L1930.2,1523.3 L1930.3,1522.3 L1930.4,1521.3 L1930.5,1520.3 L1930.6,1519.3 L1930.8,1518.3 L1930.9,1517.3 L1931.0,1516.3 L1931.1,1515.3 L1931.2,1514.3 L1931.2,1513.3 L1931.3,1512.3 L1931.4,1511.3 L1931.5,1510.3 L1931.5,1509.3 L1931.5,1508.3 L1931.6,1507.3 L1931.6,1506.3 L1931.6,1505.3 L1931.6,1504.3 L1931.6,1503.3 L1931.6,1502.3 L1931.6,1501.3 L1931.6,1500.3 L1931.7,1499.3 L1931.7,1498.3 L1931.7,1497.3 L1931.7,1496.3 L1931.7,1495.3 L1931.7,1494.3 L1931.7,1493.3 L1931.7,1492.3 L1931.7,1491.3 L1931.7,1490.3 L1931.7,1489.3 L1931.7,1488.3 L1931.7,1487.3 L1931.7,1486.3 L1931.7,1485.3 L1931.8,1484.3 L1931.8,1483.3 L1931.8,1482.3 L1931.8,1481.3 L1931.8,1480.3 L1931.8,1479.3 L1931.8,1478.3 L1931.8,1477.3 L1931.8,1476.3 L1931.8,1475.3 L1931.8,1474.3 L1931.8,1473.3 L1931.8,1472.3 L1931.8,1471.3 L1931.8,1470.3 L1931.8,1469.3 L1931.8,1468.3 L1931.8,1467.3 L1931.8,1466.3 L1931.8,1465.3 L1931.9,1464.3 L1931.9,1463.3 L1931.9,1462.3 L1931.9,1461.3 L1931.9,1460.3 L1931.9,1459.3 L1931.9,1458.3 L1931.9,1457.3 L1931.9,1456.3 L1931.9,1455.3 L1931.9,1454.3 L1931.9,1453.3 L1931.9,1452.3 L1931.9,1451.3 L1931.9,1450.3 L1931.9,1449.3 L1931.9,1448.3 L1931.9,1447.3 L1931.9,1446.3 L1931.9,1445.3 L1931.9,1444.3 L1931.9,1443.3 L1931.9,1442.3 L1931.9,1441.3 L1931.9,1440.3 L1931.9,1439.3 L1931.9,1438.3 L1931.9,1437.3 L1931.9,1436.3 L1931.9,1435.3 L1931.9,1434.3 L1932.0,1433.3 L1932.0,1432.3 L1932.0,1431.3 L1932.0,1430.3 L1932.0,1429.3 L1932.0,1428.3 L1932.0,1427.3 L1932.0,1426.3 L1932.0,1425.3 L1932.0,1424.3 L1932.0,1423.3 L1932.0,1422.3 L1932.0,1421.3 L1932.0,1420.3 L1932.0,1419.3 L1932.0,1418.3 L1932.0,1417.3 L1932.0,1416.3 L1932.0,1415.3 L1932.0,1414.3 L1932.0,1413.3 L1932.0,1412.3 L1932.0,1411.3 L1932.0,1410.3 L1932.0,1409.3 L1932.0,1408.3 L1932.0,1407.3 L1932.0,1406.3 L1932.0,1405.3 L1932.0,1404.3 L1932.0,1403.3 L1932.0,1402.3 L1932.0,1401.3 L1932.0,1400.3 L1932.0,1399.3 L1932.0,1398.3 L1932.0,1397.3 L1932.0,1396.3 L1932.0,1395.3 L1932.0,1394.3 L1932.0,1393.3 L1932.0,1392.3 L1932.0,1391.3 L1932.0,1390.3 L1932.0,1389.3 L1932.0,1388.3 L1932.0,1387.3 L1932.0,1386.3 L1932.0,1385.3 L1932.0,1384.3 L1932.0,1383.3 L1932.0,1382.3Z" fill="#1FBEC3" stroke="#363636" stroke-width="4.2" stroke-linejoin="round"/>
<rect x="1901.4" y="1610.0" width="62" height="10.7" fill="#000"/>
<circle cx="1901.4" cy="1615.3" r="2.3" fill="#000"/><circle cx="1963.4" cy="1615.3" r="2.3" fill="#000"/>
<path d="M2060.6,1370.4 L2060.7,1371.4 L2060.8,1372.4 L2060.9,1373.4 L2061.0,1374.4 L2061.1,1375.4 L2061.2,1376.4 L2061.3,1377.4 L2061.4,1378.4 L2061.5,1379.4 L2061.6,1380.4 L2061.7,1381.4 L2061.8,1382.4 L2061.9,1383.4 L2062.0,1384.4 L2062.2,1385.4 L2062.3,1386.4 L2062.4,1387.4 L2062.5,1388.4 L2062.6,1389.4 L2062.7,1390.4 L2062.9,1391.4 L2063.0,1392.4 L2063.1,1393.4 L2063.2,1394.4 L2063.3,1395.4 L2063.5,1396.4 L2063.6,1397.4 L2063.7,1398.4 L2063.9,1399.4 L2064.0,1400.4 L2064.1,1401.4 L2064.3,1402.4 L2064.5,1403.4 L2064.6,1404.4 L2064.8,1405.4 L2064.9,1406.4 L2065.1,1407.4 L2065.3,1408.4 L2065.5,1409.4 L2065.6,1410.4 L2065.8,1411.4 L2066.0,1412.4 L2066.2,1413.4 L2066.3,1414.4 L2066.5,1415.4 L2066.7,1416.4 L2066.8,1417.4 L2067.0,1418.4 L2067.1,1419.4 L2067.3,1420.4 L2067.4,1421.4 L2067.6,1422.4 L2067.7,1423.4 L2067.8,1424.4 L2068.0,1425.4 L2068.1,1426.4 L2068.2,1427.4 L2068.3,1428.4 L2068.4,1429.4 L2068.4,1430.4 L2068.5,1431.4 L2068.6,1432.4 L2068.6,1433.4 L2068.7,1434.4 L2068.7,1435.4 L2068.8,1436.4 L2068.8,1437.4 L2068.8,1438.4 L2068.9,1439.4 L2068.9,1440.4 L2069.0,1441.4 L2069.0,1442.4 L2069.0,1443.4 L2069.1,1444.4 L2069.1,1445.4 L2069.2,1446.4 L2069.2,1447.4 L2069.3,1448.4 L2069.3,1449.4 L2069.4,1450.4 L2069.5,1451.4 L2069.6,1452.4 L2069.6,1453.4 L2069.7,1454.4 L2069.8,1455.4 L2069.9,1456.4 L2070.0,1457.4 L2070.2,1458.4 L2070.3,1459.4 L2070.4,1460.4 L2070.6,1461.4 L2070.7,1462.4 L2070.8,1463.4 L2071.0,1464.4 L2071.2,1465.4 L2071.3,1466.4 L2071.5,1467.4 L2071.6,1468.4 L2071.8,1469.4 L2072.0,1470.4 L2072.2,1471.4 L2072.3,1472.4 L2072.5,1473.4 L2072.7,1474.4 L2072.9,1475.4 L2073.1,1476.4 L2073.4,1477.4 L2073.6,1478.4 L2073.9,1479.4 L2074.2,1480.4 L2074.5,1481.4 L2074.8,1482.4 L2075.1,1483.4 L2075.3,1484.4 L2075.6,1485.4 L2075.9,1486.4 L2076.2,1487.4 L2076.5,1488.4 L2076.8,1489.4 L2077.0,1490.4 L2077.3,1491.4 L2077.5,1492.4 L2077.8,1493.4 L2078.0,1494.4 L2078.2,1495.4 L2078.4,1496.4 L2078.5,1497.4 L2078.7,1498.4 L2078.9,1499.4 L2079.0,1500.4 L2079.2,1501.4 L2079.4,1502.4 L2079.5,1503.4 L2079.7,1504.4 L2079.8,1505.4 L2080.0,1506.4 L2080.1,1507.4 L2080.2,1508.4 L2080.4,1509.4 L2080.5,1510.4 L2080.7,1511.4 L2080.8,1512.4 L2080.9,1513.4 L2081.1,1514.4 L2081.2,1515.4 L2081.4,1516.4 L2081.5,1517.4 L2081.6,1518.4 L2081.8,1519.4 L2081.9,1520.4 L2082.0,1521.4 L2082.1,1522.4 L2082.2,1523.4 L2082.3,1524.4 L2082.5,1525.4 L2082.6,1526.4 L2082.7,1527.4 L2082.8,1528.4 L2082.9,1529.4 L2083.1,1530.4 L2083.2,1531.4 L2083.3,1532.4 L2083.5,1533.4 L2083.6,1534.4 L2083.8,1535.4 L2084.0,1536.4 L2084.2,1537.4 L2084.4,1538.4 L2084.6,1539.4 L2084.9,1540.4 L2085.3,1541.4 L2085.6,1542.4 L2086.0,1543.4 L2086.4,1544.4 L2086.9,1545.4 L2087.4,1546.4 L2087.8,1547.4 L2088.3,1548.4 L2088.8,1549.4 L2089.3,1550.4 L2089.8,1551.4 L2090.3,1552.4 L2090.8,1553.4 L2091.4,1554.4 L2091.9,1555.4 L2092.5,1556.4 L2093.1,1557.4 L2093.7,1558.4 L2094.3,1559.4 L2094.9,1560.4 L2095.5,1561.4 L2096.1,1562.4 L2096.8,1563.4 L2097.4,1564.4 L2098.0,1565.4 L2098.7,1566.4 L2099.4,1567.4 L2100.1,1568.4 L2100.8,1569.4 L2101.5,1570.4 L2102.2,1571.4 L2102.9,1572.4 L2103.6,1573.4 L2104.3,1574.4 L2104.9,1575.4 L2105.5,1576.4 L2106.1,1577.4 L2106.7,1578.4 L2107.2,1579.4 L2107.8,1580.4 L2108.3,1581.4 L2108.9,1582.4 L2109.4,1583.4 L2109.9,1584.4 L2110.4,1585.4 L2110.8,1586.4 L2111.2,1587.4 L2111.6,1588.4 L2111.9,1589.4 L2112.2,1590.4 L2112.4,1591.4 L2112.7,1592.4 L2112.9,1593.4 L2113.1,1594.4 L2113.3,1595.4 L2113.5,1596.4 L2113.6,1597.4 L2113.7,1598.4 L2113.8,1599.4 L2113.8,1600.4 L2113.7,1601.4 L2113.5,1602.4 L2113.3,1603.4 L2113.0,1604.4 L2112.6,1605.4 L2112.2,1606.4 L2111.8,1607.4 L2111.3,1608.4 L2110.8,1609.4 L2110.3,1610.4 L2109.8,1611.4 L2109.0,1612.4 L2108.3,1613.4 L2107.4,1614.4 L2106.5,1615.4 L2105.6,1616.4 L2104.7,1617.4 L2103.9,1618.4 L2103.1,1619.4 L2102.2,1620.4 L2101.4,1621.4 L2100.5,1622.4 L2099.7,1623.4 L2098.8,1624.4 L2097.9,1625.4 L2097.0,1626.4 L2096.3,1627.2 L2017.3,1627.2 L2016.6,1626.4 L2015.7,1625.4 L2014.8,1624.4 L2013.9,1623.4 L2013.1,1622.4 L2012.2,1621.4 L2011.4,1620.4 L2010.5,1619.4 L2009.7,1618.4 L2008.9,1617.4 L2008.0,1616.4 L2007.1,1615.4 L2006.2,1614.4 L2005.3,1613.4 L2004.6,1612.4 L2003.8,1611.4 L2003.3,1610.4 L2002.8,1609.4 L2002.3,1608.4 L2001.8,1607.4 L2001.4,1606.4 L2001.0,1605.4 L2000.6,1604.4 L2000.3,1603.4 L2000.1,1602.4 L1999.9,1601.4 L1999.8,1600.4 L1999.8,1599.4 L1999.9,1598.4 L2000.0,1597.4 L2000.1,1596.4 L2000.3,1595.4 L2000.5,1594.4 L2000.7,1593.4 L2000.9,1592.4 L2001.2,1591.4 L2001.4,1590.4 L2001.7,1589.4 L2002.0,1588.4 L2002.4,1587.4 L2002.8,1586.4 L2003.2,1585.4 L2003.7,1584.4 L2004.2,1583.4 L2004.7,1582.4 L2005.3,1581.4 L2005.8,1580.4 L2006.4,1579.4 L2006.9,1578.4 L2007.5,1577.4 L2008.1,1576.4 L2008.7,1575.4 L2009.3,1574.4 L2010.0,1573.4 L2010.7,1572.4 L2011.4,1571.4 L2012.1,1570.4 L2012.8,1569.4 L2013.5,1568.4 L2014.2,1567.4 L2014.9,1566.4 L2015.6,1565.4 L2016.2,1564.4 L2016.8,1563.4 L2017.5,1562.4 L2018.1,1561.4 L2018.7,1560.4 L2019.3,1559.4 L2019.9,1558.4 L2020.5,1557.4 L2021.1,1556.4 L2021.7,1555.4 L2022.2,1554.4 L2022.8,1553.4 L2023.3,1552.4 L2023.8,1551.4 L2024.3,1550.4 L2024.8,1549.4 L2025.3,1548.4 L2025.8,1547.4 L2026.2,1546.4 L2026.7,1545.4 L2027.2,1544.4 L2027.6,1543.4 L2028.0,1542.4 L2028.3,1541.4 L2028.7,1540.4 L2029.0,1539.4 L2029.2,1538.4 L2029.4,1537.4 L2029.6,1536.4 L2029.8,1535.4 L2030.0,1534.4 L2030.1,1533.4 L2030.3,1532.4 L2030.4,1531.4 L2030.5,1530.4 L2030.7,1529.4 L2030.8,1528.4 L2030.9,1527.4 L2031.0,1526.4 L2031.1,1525.4 L2031.3,1524.4 L2031.4,1523.4 L2031.5,1522.4 L2031.6,1521.4 L2031.7,1520.4 L2031.8,1519.4 L2032.0,1518.4 L2032.1,1517.4 L2032.2,1516.4 L2032.4,1515.4 L2032.5,1514.4 L2032.7,1513.4 L2032.8,1512.4 L2032.9,1511.4 L2033.1,1510.4 L2033.2,1509.4 L2033.4,1508.4 L2033.5,1507.4 L2033.6,1506.4 L2033.8,1505.4 L2033.9,1504.4 L2034.1,1503.4 L2034.2,1502.4 L2034.4,1501.4 L2034.6,1500.4 L2034.7,1499.4 L2034.9,1498.4 L2035.1,1497.4 L2035.2,1496.4 L2035.4,1495.4 L2035.6,1494.4 L2035.8,1493.4 L2036.1,1492.4 L2036.3,1491.4 L2036.6,1490.4 L2036.8,1489.4 L2037.1,1488.4 L2037.4,1487.4 L2037.7,1486.4 L2038.0,1485.4 L2038.3,1484.4 L2038.5,1483.4 L2038.8,1482.4 L2039.1,1481.4 L2039.4,1480.4 L2039.7,1479.4 L2040.0,1478.4 L2040.2,1477.4 L2040.5,1476.4 L2040.7,1475.4 L2040.9,1474.4 L2041.1,1473.4 L2041.3,1472.4 L2041.4,1471.4 L2041.6,1470.4 L2041.8,1469.4 L2042.0,1468.4 L2042.1,1467.4 L2042.3,1466.4 L2042.4,1465.4 L2042.6,1464.4 L2042.8,1463.4 L2042.9,1462.4 L2043.0,1461.4 L2043.2,1460.4 L2043.3,1459.4 L2043.4,1458.4 L2043.6,1457.4 L2043.7,1456.4 L2043.8,1455.4 L2043.9,1454.4 L2044.0,1453.4 L2044.0,1452.4 L2044.1,1451.4 L2044.2,1450.4 L2044.3,1449.4 L2044.3,1448.4 L2044.4,1447.4 L2044.4,1446.4 L2044.5,1445.4 L2044.5,1444.4 L2044.6,1443.4 L2044.6,1442.4 L2044.6,1441.4 L2044.7,1440.4 L2044.7,1439.4 L2044.8,1438.4 L2044.8,1437.4 L2044.8,1436.4 L2044.9,1435.4 L2044.9,1434.4 L2045.0,1433.4 L2045.0,1432.4 L2045.1,1431.4 L2045.2,1430.4 L2045.2,1429.4 L2045.3,1428.4 L2045.4,1427.4 L2045.5,1426.4 L2045.6,1425.4 L2045.8,1424.4 L2045.9,1423.4 L2046.0,1422.4 L2046.2,1421.4 L2046.3,1420.4 L2046.5,1419.4 L2046.6,1418.4 L2046.8,1417.4 L2046.9,1416.4 L2047.1,1415.4 L2047.3,1414.4 L2047.4,1413.4 L2047.6,1412.4 L2047.8,1411.4 L2048.0,1410.4 L2048.1,1409.4 L2048.3,1408.4 L2048.5,1407.4 L2048.7,1406.4 L2048.8,1405.4 L2049.0,1404.4 L2049.1,1403.4 L2049.3,1402.4 L2049.5,1401.4 L2049.6,1400.4 L2049.7,1399.4 L2049.9,1398.4 L2050.0,1397.4 L2050.1,1396.4 L2050.3,1395.4 L2050.4,1394.4 L2050.5,1393.4 L2050.6,1392.4 L2050.7,1391.4 L2050.9,1390.4 L2051.0,1389.4 L2051.1,1388.4 L2051.2,1387.4 L2051.3,1386.4 L2051.4,1385.4 L2051.6,1384.4 L2051.7,1383.4 L2051.8,1382.4 L2051.9,1381.4 L2052.0,1380.4 L2052.1,1379.4 L2052.2,1378.4 L2052.3,1377.4 L2052.4,1376.4 L2052.5,1375.4 L2052.6,1374.4 L2052.7,1373.4 L2052.8,1372.4 L2052.9,1371.4 L2053.0,1370.4Z" fill="#4A9FDA" stroke="#363636" stroke-width="4.2" stroke-linejoin="round"/>
<rect x="2025.8" y="1585.1" width="62" height="10.7" fill="#000"/>
<circle cx="2025.8" cy="1590.4" r="2.3" fill="#000"/><circle cx="2087.8" cy="1590.4" r="2.3" fill="#000"/>
<path d="M2182.1,1328.2 L2182.1,1329.2 L2182.1,1330.2 L2182.1,1331.2 L2182.1,1332.2 L2182.1,1333.2 L2182.1,1334.2 L2182.1,1335.2 L2182.1,1336.2 L2182.1,1337.2 L2182.1,1338.2 L2182.1,1339.2 L2182.1,1340.2 L2182.1,1341.2 L2182.1,1342.2 L2182.1,1343.2 L2182.1,1344.2 L2182.1,1345.2 L2182.1,1346.2 L2182.1,1347.2 L2182.1,1348.2 L2182.1,1349.2 L2182.1,1350.2 L2182.1,1351.2 L2182.1,1352.2 L2182.1,1353.2 L2182.1,1354.2 L2182.1,1355.2 L2182.1,1356.2 L2182.1,1357.2 L2182.1,1358.2 L2182.1,1359.2 L2182.1,1360.2 L2182.1,1361.2 L2182.1,1362.2 L2182.1,1363.2 L2182.1,1364.2 L2182.1,1365.2 L2182.1,1366.2 L2182.1,1367.2 L2182.1,1368.2 L2182.1,1369.2 L2182.1,1370.2 L2182.1,1371.2 L2182.2,1372.2 L2182.2,1373.2 L2182.2,1374.2 L2182.2,1375.2 L2182.2,1376.2 L2182.2,1377.2 L2182.2,1378.2 L2182.2,1379.2 L2182.2,1380.2 L2182.2,1381.2 L2182.2,1382.2 L2182.2,1383.2 L2182.2,1384.2 L2182.2,1385.2 L2182.2,1386.2 L2182.2,1387.2 L2182.2,1388.2 L2182.2,1389.2 L2182.2,1390.2 L2182.2,1391.2 L2182.2,1392.2 L2182.2,1393.2 L2182.2,1394.2 L2182.2,1395.2 L2182.2,1396.2 L2182.2,1397.2 L2182.2,1398.2 L2182.3,1399.2 L2182.3,1400.2 L2182.3,1401.2 L2182.3,1402.2 L2182.3,1403.2 L2182.3,1404.2 L2182.3,1405.2 L2182.3,1406.2 L2182.3,1407.2 L2182.3,1408.2 L2182.3,1409.2 L2182.3,1410.2 L2182.4,1411.2 L2182.4,1412.2 L2182.5,1413.2 L2182.5,1414.2 L2182.6,1415.2 L2182.6,1416.2 L2182.7,1417.2 L2182.7,1418.2 L2182.8,1419.2 L2182.8,1420.2 L2182.8,1421.2 L2182.8,1422.2 L2182.8,1423.2 L2182.8,1424.2 L2182.7,1425.2 L2182.7,1426.2 L2182.7,1427.2 L2182.7,1428.2 L2182.6,1429.2 L2182.6,1430.2 L2182.5,1431.2 L2182.5,1432.2 L2182.5,1433.2 L2182.4,1434.2 L2182.4,1435.2 L2182.4,1436.2 L2182.3,1437.2 L2182.3,1438.2 L2182.3,1439.2 L2182.3,1440.2 L2182.3,1441.2 L2182.3,1442.2 L2182.3,1443.2 L2182.3,1444.2 L2182.3,1445.2 L2182.3,1446.2 L2182.3,1447.2 L2182.3,1448.2 L2182.3,1449.2 L2182.3,1450.2 L2182.3,1451.2 L2182.3,1452.2 L2182.3,1453.2 L2182.3,1454.2 L2182.3,1455.2 L2182.3,1456.2 L2182.3,1457.2 L2182.3,1458.2 L2182.3,1459.2 L2182.3,1460.2 L2182.4,1461.2 L2182.4,1462.2 L2182.4,1463.2 L2182.4,1464.2 L2182.4,1465.2 L2182.4,1466.2 L2182.4,1467.2 L2182.4,1468.2 L2182.4,1469.2 L2182.4,1470.2 L2182.4,1471.2 L2182.4,1472.2 L2182.4,1473.2 L2182.4,1474.2 L2182.4,1475.2 L2182.5,1476.2 L2182.5,1477.2 L2182.5,1478.2 L2182.5,1479.2 L2182.5,1480.2 L2182.5,1481.2 L2182.5,1482.2 L2182.5,1483.2 L2182.5,1484.2 L2182.5,1485.2 L2182.6,1486.2 L2182.6,1487.2 L2182.6,1488.2 L2182.6,1489.2 L2182.6,1490.2 L2182.6,1491.2 L2182.6,1492.2 L2182.6,1493.2 L2182.6,1494.2 L2182.7,1495.2 L2182.7,1496.2 L2182.7,1497.2 L2182.7,1498.2 L2182.7,1499.2 L2182.7,1500.2 L2182.7,1501.2 L2182.8,1502.2 L2182.8,1503.2 L2182.8,1504.2 L2182.8,1505.2 L2182.8,1506.2 L2182.8,1507.2 L2182.9,1508.2 L2182.9,1509.2 L2182.9,1510.2 L2182.9,1511.2 L2182.9,1512.2 L2182.9,1513.2 L2183.0,1514.2 L2183.0,1515.2 L2183.0,1516.2 L2183.0,1517.2 L2183.0,1518.2 L2183.1,1519.2 L2183.1,1520.2 L2183.1,1521.2 L2183.2,1522.2 L2183.2,1523.2 L2183.2,1524.2 L2183.3,1525.2 L2183.3,1526.2 L2183.4,1527.2 L2183.4,1528.2 L2183.5,1529.2 L2183.6,1530.2 L2183.6,1531.2 L2183.7,1532.2 L2183.8,1533.2 L2183.8,1534.2 L2183.9,1535.2 L2184.0,1536.2 L2184.1,1537.2 L2184.2,1538.2 L2184.3,1539.2 L2184.4,1540.2 L2184.6,1541.2 L2184.9,1542.2 L2185.1,1543.2 L2185.4,1544.2 L2185.6,1545.2 L2185.9,1546.2 L2186.2,1547.2 L2186.4,1548.2 L2186.7,1549.2 L2186.9,1550.2 L2187.1,1551.2 L2187.2,1552.2 L2187.4,1553.2 L2187.5,1554.2 L2187.6,1555.2 L2187.7,1556.2 L2187.8,1557.2 L2187.9,1558.2 L2188.0,1559.2 L2188.1,1560.2 L2188.2,1561.2 L2188.3,1562.2 L2188.5,1563.2 L2188.7,1564.2 L2188.9,1565.2 L2189.2,1566.2 L2189.5,1567.2 L2189.9,1568.2 L2190.3,1569.2 L2190.8,1570.2 L2191.3,1571.2 L2191.8,1572.2 L2192.3,1573.2 L2192.8,1574.2 L2193.3,1575.2 L2193.7,1576.2 L2194.1,1577.2 L2194.5,1578.2 L2194.8,1579.2 L2195.1,1580.2 L2195.4,1581.2 L2195.7,1582.2 L2196.0,1583.2 L2196.3,1584.2 L2196.6,1585.2 L2196.9,1586.2 L2197.2,1587.2 L2197.6,1588.2 L2198.0,1589.2 L2198.4,1590.2 L2198.9,1591.2 L2199.4,1592.2 L2200.0,1593.2 L2200.7,1594.2 L2201.4,1595.2 L2202.2,1596.2 L2203.0,1597.2 L2203.8,1598.2 L2204.7,1599.2 L2205.6,1600.2 L2206.5,1601.2 L2207.5,1602.2 L2208.5,1603.2 L2209.6,1604.2 L2210.8,1605.2 L2212.1,1606.2 L2213.5,1607.2 L2215.0,1608.2 L2216.4,1609.2 L2217.8,1610.2 L2219.2,1611.2 L2220.4,1612.2 L2221.7,1613.2 L2222.9,1614.2 L2224.1,1615.2 L2225.2,1616.2 L2226.4,1617.2 L2227.4,1618.2 L2228.5,1619.2 L2229.4,1620.2 L2230.3,1621.2 L2231.2,1622.2 L2232.1,1623.2 L2232.9,1624.2 L2233.6,1625.2 L2234.4,1626.2 L2235.1,1627.2 L2235.7,1628.2 L2236.3,1629.2 L2236.9,1630.2 L2237.4,1631.2 L2238.0,1632.2 L2238.5,1633.2 L2238.8,1634.2 L2239.0,1635.2 L2238.7,1636.2 L2237.8,1637.2 L2236.3,1638.2 L2234.4,1639.2 L2232.2,1640.2 L2230.1,1641.2 L2228.1,1642.2 L2226.2,1643.2 L2224.1,1644.2 L2221.9,1645.2 L2219.6,1646.2 L2217.3,1647.2 L2215.1,1648.2 L2212.9,1649.2 L2210.8,1650.2 L2208.9,1651.2 L2207.2,1652.2 L2205.5,1653.2 L2203.8,1654.2 L2202.2,1655.2 L2200.7,1656.2 L2199.3,1657.2 L2197.9,1658.2 L2197.4,1658.6 L2166.0,1658.6 L2165.5,1658.2 L2164.1,1657.2 L2162.7,1656.2 L2161.2,1655.2 L2159.6,1654.2 L2157.9,1653.2 L2156.2,1652.2 L2154.5,1651.2 L2152.6,1650.2 L2150.5,1649.2 L2148.3,1648.2 L2146.1,1647.2 L2143.8,1646.2 L2141.5,1645.2 L2139.3,1644.2 L2137.2,1643.2 L2135.3,1642.2 L2133.3,1641.2 L2131.2,1640.2 L2129.0,1639.2 L2127.1,1638.2 L2125.6,1637.2 L2124.7,1636.2 L2124.4,1635.2 L2124.6,1634.2 L2124.9,1633.2 L2125.4,1632.2 L2126.0,1631.2 L2126.5,1630.2 L2127.1,1629.2 L2127.7,1628.2 L2128.3,1627.2 L2129.0,1626.2 L2129.8,1625.2 L2130.5,1624.2 L2131.3,1623.2 L2132.2,1622.2 L2133.1,1621.2 L2134.0,1620.2 L2134.9,1619.2 L2136.0,1618.2 L2137.0,1617.2 L2138.2,1616.2 L2139.3,1615.2 L2140.5,1614.2 L2141.7,1613.2 L2143.0,1612.2 L2144.2,1611.2 L2145.6,1610.2 L2147.0,1609.2 L2148.4,1608.2 L2149.9,1607.2 L2151.3,1606.2 L2152.6,1605.2 L2153.8,1604.2 L2154.9,1603.2 L2155.9,1602.2 L2156.9,1601.2 L2157.8,1600.2 L2158.7,1599.2 L2159.6,1598.2 L2160.4,1597.2 L2161.2,1596.2 L2162.0,1595.2 L2162.7,1594.2 L2163.4,1593.2 L2164.0,1592.2 L2164.5,1591.2 L2165.0,1590.2 L2165.4,1589.2 L2165.8,1588.2 L2166.2,1587.2 L2166.5,1586.2 L2166.8,1585.2 L2167.1,1584.2 L2167.4,1583.2 L2167.7,1582.2 L2168.0,1581.2 L2168.3,1580.2 L2168.6,1579.2 L2168.9,1578.2 L2169.3,1577.2 L2169.7,1576.2 L2170.1,1575.2 L2170.6,1574.2 L2171.1,1573.2 L2171.6,1572.2 L2172.1,1571.2 L2172.6,1570.2 L2173.1,1569.2 L2173.5,1568.2 L2173.9,1567.2 L2174.2,1566.2 L2174.5,1565.2 L2174.7,1564.2 L2174.9,1563.2 L2175.1,1562.2 L2175.2,1561.2 L2175.3,1560.2 L2175.4,1559.2 L2175.5,1558.2 L2175.6,1557.2 L2175.7,1556.2 L2175.8,1555.2 L2175.9,1554.2 L2176.0,1553.2 L2176.2,1552.2 L2176.3,1551.2 L2176.5,1550.2 L2176.7,1549.2 L2177.0,1548.2 L2177.2,1547.2 L2177.5,1546.2 L2177.8,1545.2 L2178.0,1544.2 L2178.3,1543.2 L2178.5,1542.2 L2178.8,1541.2 L2179.0,1540.2 L2179.1,1539.2 L2179.2,1538.2 L2179.3,1537.2 L2179.4,1536.2 L2179.5,1535.2 L2179.6,1534.2 L2179.6,1533.2 L2179.7,1532.2 L2179.8,1531.2 L2179.8,1530.2 L2179.9,1529.2 L2180.0,1528.2 L2180.0,1527.2 L2180.1,1526.2 L2180.1,1525.2 L2180.2,1524.2 L2180.2,1523.2 L2180.2,1522.2 L2180.3,1521.2 L2180.3,1520.2 L2180.3,1519.2 L2180.4,1518.2 L2180.4,1517.2 L2180.4,1516.2 L2180.4,1515.2 L2180.4,1514.2 L2180.5,1513.2 L2180.5,1512.2 L2180.5,1511.2 L2180.5,1510.2 L2180.5,1509.2 L2180.5,1508.2 L2180.6,1507.2 L2180.6,1506.2 L2180.6,1505.2 L2180.6,1504.2 L2180.6,1503.2 L2180.6,1502.2 L2180.7,1501.2 L2180.7,1500.2 L2180.7,1499.2 L2180.7,1498.2 L2180.7,1497.2 L2180.7,1496.2 L2180.7,1495.2 L2180.8,1494.2 L2180.8,1493.2 L2180.8,1492.2 L2180.8,1491.2 L2180.8,1490.2 L2180.8,1489.2 L2180.8,1488.2 L2180.8,1487.2 L2180.8,1486.2 L2180.9,1485.2 L2180.9,1484.2 L2180.9,1483.2 L2180.9,1482.2 L2180.9,1481.2 L2180.9,1480.2 L2180.9,1479.2 L2180.9,1478.2 L2180.9,1477.2 L2180.9,1476.2 L2181.0,1475.2 L2181.0,1474.2 L2181.0,1473.2 L2181.0,1472.2 L2181.0,1471.2 L2181.0,1470.2 L2181.0,1469.2 L2181.0,1468.2 L2181.0,1467.2 L2181.0,1466.2 L2181.0,1465.2 L2181.0,1464.2 L2181.0,1463.2 L2181.0,1462.2 L2181.0,1461.2 L2181.1,1460.2 L2181.1,1459.2 L2181.1,1458.2 L2181.1,1457.2 L2181.1,1456.2 L2181.1,1455.2 L2181.1,1454.2 L2181.1,1453.2 L2181.1,1452.2 L2181.1,1451.2 L2181.1,1450.2 L2181.1,1449.2 L2181.1,1448.2 L2181.1,1447.2 L2181.1,1446.2 L2181.1,1445.2 L2181.1,1444.2 L2181.1,1443.2 L2181.1,1442.2 L2181.1,1441.2 L2181.1,1440.2 L2181.1,1439.2 L2181.1,1438.2 L2181.1,1437.2 L2181.0,1436.2 L2181.0,1435.2 L2181.0,1434.2 L2180.9,1433.2 L2180.9,1432.2 L2180.9,1431.2 L2180.8,1430.2 L2180.8,1429.2 L2180.7,1428.2 L2180.7,1427.2 L2180.7,1426.2 L2180.7,1425.2 L2180.6,1424.2 L2180.6,1423.2 L2180.6,1422.2 L2180.6,1421.2 L2180.6,1420.2 L2180.6,1419.2 L2180.7,1418.2 L2180.7,1417.2 L2180.8,1416.2 L2180.8,1415.2 L2180.9,1414.2 L2180.9,1413.2 L2181.0,1412.2 L2181.0,1411.2 L2181.1,1410.2 L2181.1,1409.2 L2181.1,1408.2 L2181.1,1407.2 L2181.1,1406.2 L2181.1,1405.2 L2181.1,1404.2 L2181.1,1403.2 L2181.1,1402.2 L2181.1,1401.2 L2181.1,1400.2 L2181.1,1399.2 L2181.2,1398.2 L2181.2,1397.2 L2181.2,1396.2 L2181.2,1395.2 L2181.2,1394.2 L2181.2,1393.2 L2181.2,1392.2 L2181.2,1391.2 L2181.2,1390.2 L2181.2,1389.2 L2181.2,1388.2 L2181.2,1387.2 L2181.2,1386.2 L2181.2,1385.2 L2181.2,1384.2 L2181.2,1383.2 L2181.2,1382.2 L2181.2,1381.2 L2181.2,1380.2 L2181.2,1379.2 L2181.2,1378.2 L2181.2,1377.2 L2181.2,1376.2 L2181.2,1375.2 L2181.2,1374.2 L2181.2,1373.2 L2181.2,1372.2 L2181.3,1371.2 L2181.3,1370.2 L2181.3,1369.2 L2181.3,1368.2 L2181.3,1367.2 L2181.3,1366.2 L2181.3,1365.2 L2181.3,1364.2 L2181.3,1363.2 L2181.3,1362.2 L2181.3,1361.2 L2181.3,1360.2 L2181.3,1359.2 L2181.3,1358.2 L2181.3,1357.2 L2181.3,1356.2 L2181.3,1355.2 L2181.3,1354.2 L2181.3,1353.2 L2181.3,1352.2 L2181.3,1351.2 L2181.3,1350.2 L2181.3,1349.2 L2181.3,1348.2 L2181.3,1347.2 L2181.3,1346.2 L2181.3,1345.2 L2181.3,1344.2 L2181.3,1343.2 L2181.3,1342.2 L2181.3,1341.2 L2181.3,1340.2 L2181.3,1339.2 L2181.3,1338.2 L2181.3,1337.2 L2181.3,1336.2 L2181.3,1335.2 L2181.3,1334.2 L2181.3,1333.2 L2181.3,1332.2 L2181.3,1331.2 L2181.3,1330.2 L2181.3,1329.2 L2181.3,1328.2Z" fill="#A981BF" stroke="#363636" stroke-width="4.2" stroke-linejoin="round"/>
<rect x="2150.7" y="1621.9" width="62" height="10.7" fill="#000"/>
<circle cx="2150.7" cy="1627.2" r="2.3" fill="#000"/><circle cx="2212.7" cy="1627.2" r="2.3" fill="#000"/>
<line x1="1360.0" y1="1612.2" x2="2259.0" y2="1612.2" stroke="#75859A" stroke-width="4" stroke-dasharray="17.6 17.96"/>
<line x1="1360.0" y1="1538.8" x2="2259.0" y2="1538.8" stroke="#75859A" stroke-width="4" stroke-dasharray="17.6 17.96"/>
<path d="M1359.0,1298.2 V1703.9 H2259.0" fill="none" stroke="#000" stroke-width="4.5" stroke-linejoin="miter"/>
<line x1="1352.5" y1="1612.2" x2="1359.0" y2="1612.2" stroke="#000" stroke-width="4.2"/>
<text x="1350.0" y="1621.9" font-size="29.0" text-anchor="end" fill="#000" stroke="#000" stroke-width="0.3">1000</text>
<line x1="1352.5" y1="1538.8" x2="1359.0" y2="1538.8" stroke="#000" stroke-width="4.2"/>
<text x="1350.0" y="1548.5" font-size="29.0" text-anchor="end" fill="#000" stroke="#000" stroke-width="0.3">2000</text>
<line x1="1352.5" y1="1465.3" x2="1359.0" y2="1465.3" stroke="#000" stroke-width="4.2"/>
<text x="1350.0" y="1475.0" font-size="29.0" text-anchor="end" fill="#000" stroke="#000" stroke-width="0.3">3000</text>
<line x1="1352.5" y1="1391.9" x2="1359.0" y2="1391.9" stroke="#000" stroke-width="4.2"/>
<text x="1350.0" y="1401.6" font-size="29.0" text-anchor="end" fill="#000" stroke="#000" stroke-width="0.3">4000</text>
<line x1="1352.5" y1="1318.4" x2="1359.0" y2="1318.4" stroke="#000" stroke-width="4.2"/>
<text x="1350.0" y="1328.1" font-size="29.0" text-anchor="end" fill="#000" stroke="#000" stroke-width="0.3">5000</text>
<line x1="1433.7" y1="1703.9" x2="1433.7" y2="1711.4" stroke="#000" stroke-width="4"/>
<text x="1434.0" y="1744.5" font-size="29.2" text-anchor="middle" fill="#231F20" stroke="#231F20" stroke-width="0.3">Rods</text>
<line x1="1558.4" y1="1703.9" x2="1558.4" y2="1711.4" stroke="#000" stroke-width="4"/>
<text x="1560.6" y="1744.5" font-size="29.2" text-anchor="middle" fill="#231F20" stroke="#231F20" stroke-width="0.3">Cones</text>
<line x1="1683.1" y1="1703.9" x2="1683.1" y2="1711.4" stroke="#000" stroke-width="4"/>
<text x="1687.4" y="1744.5" font-size="29.2" text-anchor="middle" fill="#231F20" stroke="#231F20" stroke-width="0.3">Bipolar</text>
<text x="1687.4" y="1779.0" font-size="29.2" text-anchor="middle" fill="#231F20" stroke="#231F20" stroke-width="0.3">Cells</text>
<line x1="1807.8" y1="1703.9" x2="1807.8" y2="1711.4" stroke="#000" stroke-width="4"/>
<text x="1808.6" y="1744.5" font-size="29.2" text-anchor="middle" fill="#231F20" stroke="#231F20" stroke-width="0.3">Retinal</text>
<text x="1808.6" y="1779.0" font-size="29.2" text-anchor="middle" fill="#231F20" stroke="#231F20" stroke-width="0.3">Ganglion</text>
<text x="1808.6" y="1813.5" font-size="29.2" text-anchor="middle" fill="#231F20" stroke="#231F20" stroke-width="0.3">Cells</text>
<line x1="1932.5" y1="1703.9" x2="1932.5" y2="1711.4" stroke="#000" stroke-width="4"/>
<text x="1933.5" y="1744.5" font-size="29.2" text-anchor="middle" fill="#231F20" stroke="#231F20" stroke-width="0.3">Amacrine</text>
<text x="1933.5" y="1779.0" font-size="29.2" text-anchor="middle" fill="#231F20" stroke="#231F20" stroke-width="0.3">Cells</text>
<line x1="2057.2" y1="1703.9" x2="2057.2" y2="1711.4" stroke="#000" stroke-width="4"/>
<text x="2066.4" y="1744.5" font-size="29.2" text-anchor="middle" fill="#231F20" stroke="#231F20" stroke-width="0.3">Horizontal</text>
<text x="2066.4" y="1779.0" font-size="29.2" text-anchor="middle" fill="#231F20" stroke="#231F20" stroke-width="0.3">Cells</text>
<line x1="2181.9" y1="1703.9" x2="2181.9" y2="1711.4" stroke="#000" stroke-width="4"/>
<text x="2182.3" y="1744.5" font-size="29.2" text-anchor="middle" fill="#231F20" stroke="#231F20" stroke-width="0.3">Müller</text>
<text x="2182.3" y="1779.0" font-size="29.2" text-anchor="middle" fill="#231F20" stroke="#231F20" stroke-width="0.3">Cells</text>
<text transform="translate(1271.5,1446.9) rotate(-90)" font-size="29.1" text-anchor="middle" fill="#000" stroke="#000" stroke-width="0.3">Gene number / cell</text>
<text x="1881.8" y="1295.7" font-size="41.3" text-anchor="middle" fill="#000" stroke="#000" stroke-width="0.3">snRNA-seq v2</text>
<text transform="translate(-0.6,35.7) scale(0.96,1)" font-size="51.6" font-weight="bold" fill="#231F20">A</text>
<text transform="translate(1225.8,35.7) scale(0.96,1)" font-size="51.6" font-weight="bold" fill="#231F20">B</text>
<text transform="translate(-1.3,653.0) scale(0.96,1)" font-size="51.6" font-weight="bold" fill="#231F20">C</text>
<text transform="translate(1225.8,652.8) scale(0.96,1)" font-size="51.6" font-weight="bold" fill="#231F20">D</text>
<text transform="translate(-0.7,1266.0) scale(0.96,1)" font-size="51.6" font-weight="bold" fill="#231F20">E</text>
<text transform="translate(1225.8,1266.0) scale(0.96,1)" font-size="51.6" font-weight="bold" fill="#231F20">F</text>
<text transform="translate(-1.2,1920.0) scale(0.96,1)" font-size="51.6" font-weight="bold" fill="#231F20">G</text>
<circle cx="346.4" cy="764.1" r="90.7" fill="#F3766E" stroke="#000" stroke-width="0.9"/>
<circle cx="292.8" cy="763.9" r="37.3" fill="#fff" stroke="#000" stroke-width="0.9"/>
<circle cx="346.4" cy="764.1" r="90.7" fill="none" stroke="#000" stroke-width="0.9"/>
<text x="340.8" y="667.0" font-size="29" text-anchor="middle" fill="#000" stroke="#000" stroke-width="0.3">Rods</text>
<text x="291.7" y="774.0" font-size="29" text-anchor="middle" fill="#000" stroke="#000" stroke-width="0.3">33</text>
<text x="383.8" y="774.0" font-size="29" text-anchor="middle" fill="#000" stroke="#000" stroke-width="0.3">160</text>
<circle cx="573.2" cy="764.0" r="90.9" fill="#CC982B" stroke="#000" stroke-width="0.9"/>
<circle cx="517.7" cy="764.4" r="35.6" fill="#fff" stroke="#000" stroke-width="0.9"/>
<circle cx="573.2" cy="764.0" r="90.9" fill="none" stroke="#000" stroke-width="0.9"/>
<text x="567.3" y="667.0" font-size="29" text-anchor="middle" fill="#000" stroke="#000" stroke-width="0.3">Cones</text>
<text x="517.1" y="774.0" font-size="29" text-anchor="middle" fill="#000" stroke="#000" stroke-width="0.3">55</text>
<text x="607.2" y="774.0" font-size="29" text-anchor="middle" fill="#000" stroke="#000" stroke-width="0.3">310</text>
<circle cx="801.0" cy="764.0" r="91.0" fill="#7FB23F" stroke="#000" stroke-width="0.9"/>
<circle cx="742.5" cy="764.0" r="38.0" fill="#fff" stroke="#000" stroke-width="0.9"/>
<circle cx="801.0" cy="764.0" r="91.0" fill="none" stroke="#000" stroke-width="0.9"/>
<text x="796.4" y="667.0" font-size="29" text-anchor="middle" fill="#000" stroke="#000" stroke-width="0.3">Bipolar Cells</text>
<text x="742.0" y="774.0" font-size="29" text-anchor="middle" fill="#000" stroke="#000" stroke-width="0.3">71</text>
<text x="835.0" y="774.0" font-size="29" text-anchor="middle" fill="#000" stroke="#000" stroke-width="0.3">357</text>
<text x="698.3" y="704.0" font-size="29" text-anchor="middle" fill="#000" stroke="#000" stroke-width="0.3">2</text>
<line x1="699.7" y1="706.5" x2="710.0" y2="767.2" stroke="#000" stroke-width="0.9"/>
<circle cx="1028.3" cy="764.0" r="90.6" fill="#2EB668" stroke="#000" stroke-width="0.9"/>
<circle cx="985.6" cy="765.7" r="58.0" fill="#fff" stroke="#000" stroke-width="0.9"/>
<circle cx="1028.3" cy="764.0" r="90.6" fill="none" stroke="#000" stroke-width="0.9"/>
<text x="1027.5" y="639.5" font-size="29" text-anchor="middle" fill="#000" stroke="#000" stroke-width="0.3">Retinal Ganglion</text>
<text x="1027.5" y="668.5" font-size="29" text-anchor="middle" fill="#000" stroke="#000" stroke-width="0.3">Cells</text>
<text x="984.8" y="774.0" font-size="29" text-anchor="middle" fill="#000" stroke="#000" stroke-width="0.3">219</text>
<text x="1080.0" y="774.0" font-size="29" text-anchor="middle" fill="#000" stroke="#000" stroke-width="0.3">331</text>
<text x="925.7" y="704.0" font-size="29" text-anchor="middle" fill="#000" stroke="#000" stroke-width="0.3">17</text>
<line x1="924.2" y1="706.5" x2="932.3" y2="764.6" stroke="#000" stroke-width="0.9"/>
<circle cx="349.7" cy="994.1" r="90.8" fill="#1FBEC3" stroke="#000" stroke-width="0.9"/>
<circle cx="295.5" cy="993.7" r="38.8" fill="#fff" stroke="#000" stroke-width="0.9"/>
<circle cx="349.7" cy="994.1" r="90.8" fill="none" stroke="#000" stroke-width="0.9"/>
<text x="348.0" y="897.6" font-size="29" text-anchor="middle" fill="#000" stroke="#000" stroke-width="0.3">Amacrine Cells</text>
<text x="295.5" y="1003.6" font-size="29" text-anchor="middle" fill="#000" stroke="#000" stroke-width="0.3">84</text>
<text x="386.6" y="1003.6" font-size="29" text-anchor="middle" fill="#000" stroke="#000" stroke-width="0.3">376</text>
<text x="248.9" y="933.5" font-size="29" text-anchor="middle" fill="#000" stroke="#000" stroke-width="0.3">1</text>
<line x1="249.6" y1="935.3" x2="258.8" y2="1001.4" stroke="#000" stroke-width="0.9"/>
<circle cx="578.4" cy="994.1" r="91.0" fill="#4A9FDA" stroke="#000" stroke-width="0.9"/>
<circle cx="537.0" cy="994.6" r="61.7" fill="#fff" stroke="#000" stroke-width="0.9"/>
<circle cx="578.4" cy="994.1" r="91.0" fill="none" stroke="#000" stroke-width="0.9"/>
<text x="575.8" y="897.6" font-size="29" text-anchor="middle" fill="#000" stroke="#000" stroke-width="0.3">Horizontal Cells</text>
<text x="536.9" y="1003.6" font-size="29" text-anchor="middle" fill="#000" stroke="#000" stroke-width="0.3">172</text>
<text x="632.8" y="1003.6" font-size="29" text-anchor="middle" fill="#000" stroke="#000" stroke-width="0.3">229</text>
<text x="473.0" y="933.5" font-size="29" text-anchor="middle" fill="#000" stroke="#000" stroke-width="0.3">14</text>
<line x1="471.9" y1="936.4" x2="481.0" y2="994.0" stroke="#000" stroke-width="0.9"/>
<circle cx="799.4" cy="994.1" r="90.6" fill="#A981BF" stroke="#000" stroke-width="0.9"/>
<circle cx="747.8" cy="994.1" r="39.0" fill="#fff" stroke="#000" stroke-width="0.9"/>
<circle cx="799.4" cy="994.1" r="90.6" fill="none" stroke="#000" stroke-width="0.9"/>
<text x="797.9" y="897.6" font-size="29" text-anchor="middle" fill="#000" stroke="#000" stroke-width="0.3">Müller Glia</text>
<text x="746.7" y="1003.6" font-size="29" text-anchor="middle" fill="#000" stroke="#000" stroke-width="0.3">57</text>
<text x="837.4" y="1003.6" font-size="29" text-anchor="middle" fill="#000" stroke="#000" stroke-width="0.3">247</text>
<circle cx="1030.3" cy="994.5" r="90.5" fill="#E369A9" stroke="#000" stroke-width="0.9"/>
<circle cx="991.3" cy="994.2" r="58.7" fill="#fff" stroke="#000" stroke-width="0.9"/>
<circle cx="1030.3" cy="994.5" r="90.5" fill="none" stroke="#000" stroke-width="0.9"/>
<text x="1027.6" y="897.6" font-size="29" text-anchor="middle" fill="#000" stroke="#000" stroke-width="0.3">Microglia</text>
<text x="991.8" y="1003.6" font-size="29" text-anchor="middle" fill="#000" stroke="#000" stroke-width="0.3">108</text>
<text x="1086.7" y="1003.6" font-size="29" text-anchor="middle" fill="#000" stroke="#000" stroke-width="0.3">156</text>
<text x="925.5" y="933.5" font-size="29" text-anchor="middle" fill="#000" stroke="#000" stroke-width="0.3">4</text>
<line x1="928.2" y1="936.5" x2="936.3" y2="993.7" stroke="#000" stroke-width="0.9"/>
<text x="49.0" y="704.0" font-size="29" text-anchor="start" fill="#000" stroke="#000" stroke-width="0.3">Frequently used</text>
<text x="49.0" y="733.1" font-size="29" text-anchor="start" fill="#000" stroke="#000" stroke-width="0.3">protocol v2</text>
<text x="49.0" y="848.5" font-size="29" text-anchor="start" fill="#000" stroke="#000" stroke-width="0.3">Optimized</text>
<text x="49.0" y="878.0" font-size="29" text-anchor="start" fill="#000" stroke="#000" stroke-width="0.3">protocol v2</text>
<line x1="200.5" y1="717.8" x2="269.4" y2="764.4" stroke="#000" stroke-width="0.9"/>
<line x1="200.5" y1="853.1" x2="346.5" y2="816.7" stroke="#000" stroke-width="0.9"/>
<text x="283.8" y="1118.0" font-size="29.15" text-anchor="start" fill="#000" stroke="#000" stroke-width="0.3">Number of genes detected in ≥50% of the cells (per cell type).</text>
<rect x="366.4" y="1904.2" width="194.1" height="161.8" fill="#D1D2D4"/>
<rect x="366.4" y="2071.0" width="194.1" height="57.0" fill="#D1D2D4"/>
<rect x="366.4" y="2132.7" width="194.1" height="51.8" fill="#D1D2D4"/>
<rect x="366.4" y="2189.0" width="194.1" height="51.2" fill="#D1D2D4"/>
<rect x="366.4" y="2244.5" width="194.1" height="57.5" fill="#D1D2D4"/>
<text x="461.8" y="1997.0" font-size="33" text-anchor="middle" fill="#000" stroke="#000" stroke-width="0.3"># Total cells</text>
<text x="461.6" y="2113.5" font-size="33" text-anchor="middle" fill="#000" stroke="#000" stroke-width="0.3">4367</text>
<text x="461.6" y="2169.3" font-size="33" text-anchor="middle" fill="#000" stroke="#000" stroke-width="0.3">9025</text>
<text x="461.6" y="2228.5" font-size="33" text-anchor="middle" fill="#000" stroke="#000" stroke-width="0.3">7219</text>
<text x="461.6" y="2285.0" font-size="33" text-anchor="middle" fill="#000" stroke="#000" stroke-width="0.3">6437</text>
<rect x="564.4" y="1904.2" width="205.8" height="161.8" fill="#F6A094"/>
<rect x="564.4" y="2071.0" width="205.8" height="57.0" fill="#F6A094"/>
<rect x="564.4" y="2132.7" width="205.8" height="51.8" fill="#F6A094"/>
<rect x="564.4" y="2189.0" width="205.8" height="51.2" fill="#F6A094"/>
<rect x="564.4" y="2244.5" width="205.8" height="57.5" fill="#F6A094"/>
<text x="665.5" y="1997.0" font-size="33" text-anchor="middle" fill="#000" stroke="#000" stroke-width="0.3">% Rods</text>
<text x="668.0" y="2113.5" font-size="33" text-anchor="middle" fill="#000" stroke="#000" stroke-width="0.3">70.4</text>
<text x="668.0" y="2169.3" font-size="33" text-anchor="middle" fill="#000" stroke="#000" stroke-width="0.3">77.7</text>
<text x="668.0" y="2228.5" font-size="33" text-anchor="middle" fill="#000" stroke="#000" stroke-width="0.3">86.3</text>
<text x="668.0" y="2285.0" font-size="33" text-anchor="middle" fill="#000" stroke="#000" stroke-width="0.3">51.6</text>
<rect x="774.3" y="1904.2" width="200.0" height="161.8" fill="#D9AE62"/>
<rect x="774.3" y="2071.0" width="200.0" height="57.0" fill="#D9AE62"/>
<rect x="774.3" y="2132.7" width="200.0" height="51.8" fill="#D9AE62"/>
<rect x="774.3" y="2189.0" width="200.0" height="51.2" fill="#D9AE62"/>
<rect x="774.3" y="2244.5" width="200.0" height="57.5" fill="#D9AE62"/>
<text x="866.7" y="1997.0" font-size="33" text-anchor="middle" fill="#000" stroke="#000" stroke-width="0.3">% Cones</text>
<text x="873.6" y="2113.5" font-size="33" text-anchor="middle" fill="#000" stroke="#000" stroke-width="0.3">2.7</text>
<text x="873.6" y="2169.3" font-size="33" text-anchor="middle" fill="#000" stroke="#000" stroke-width="0.3">3.2</text>
<text x="873.6" y="2228.5" font-size="33" text-anchor="middle" fill="#000" stroke="#000" stroke-width="0.3">1.6</text>
<text x="873.6" y="2285.0" font-size="33" text-anchor="middle" fill="#000" stroke="#000" stroke-width="0.3">4.8</text>
<rect x="978.6" y="1904.2" width="199.7" height="161.8" fill="#A0C473"/>
<rect x="978.6" y="2071.0" width="199.7" height="57.0" fill="#A0C473"/>
<rect x="978.6" y="2132.7" width="199.7" height="51.8" fill="#A0C473"/>
<rect x="978.6" y="2189.0" width="199.7" height="51.2" fill="#A0C473"/>
<rect x="978.6" y="2244.5" width="199.7" height="57.5" fill="#A0C473"/>
<text x="1078.9" y="1977.9" font-size="33" text-anchor="middle" fill="#000" stroke="#000" stroke-width="0.3">% Bipolar</text>
<text x="1074.2" y="2017.7" font-size="33" text-anchor="middle" fill="#000" stroke="#000" stroke-width="0.3">Cells</text>
<text x="1082.8" y="2113.5" font-size="33" text-anchor="middle" fill="#000" stroke="#000" stroke-width="0.3">12.6</text>
<text x="1082.8" y="2169.3" font-size="33" text-anchor="middle" fill="#000" stroke="#000" stroke-width="0.3">10.9</text>
<text x="1082.8" y="2228.5" font-size="33" text-anchor="middle" fill="#000" stroke="#000" stroke-width="0.3">8.1</text>
<text x="1082.8" y="2285.0" font-size="33" text-anchor="middle" fill="#000" stroke="#000" stroke-width="0.3">17.8</text>
<rect x="1183.0" y="1904.2" width="199.4" height="161.8" fill="#7EC893"/>
<rect x="1183.0" y="2071.0" width="199.4" height="57.0" fill="#7EC893"/>
<rect x="1183.0" y="2132.7" width="199.4" height="51.8" fill="#7EC893"/>
<rect x="1183.0" y="2189.0" width="199.4" height="51.2" fill="#7EC893"/>
<rect x="1183.0" y="2244.5" width="199.4" height="57.5" fill="#7EC893"/>
<text x="1282.9" y="1964.2" font-size="33" text-anchor="middle" fill="#000" stroke="#000" stroke-width="0.3">% Retinal</text>
<text x="1282.9" y="2003.6" font-size="33" text-anchor="middle" fill="#000" stroke="#000" stroke-width="0.3">Ganglion</text>
<text x="1278.2" y="2043.5" font-size="33" text-anchor="middle" fill="#000" stroke="#000" stroke-width="0.3">Cells</text>
<text x="1286.0" y="2113.5" font-size="33" text-anchor="middle" fill="#000" stroke="#000" stroke-width="0.3">1.1</text>
<text x="1286.0" y="2169.3" font-size="33" text-anchor="middle" fill="#000" stroke="#000" stroke-width="0.3">0.3</text>
<text x="1286.0" y="2228.5" font-size="33" text-anchor="middle" fill="#000" stroke="#000" stroke-width="0.3">0.5</text>
<text x="1286.0" y="2285.0" font-size="33" text-anchor="middle" fill="#000" stroke="#000" stroke-width="0.3">3.9</text>
<rect x="1387.0" y="1904.2" width="199.5" height="161.8" fill="#7FCFD3"/>
<rect x="1387.0" y="2071.0" width="199.5" height="57.0" fill="#7FCFD3"/>
<rect x="1387.0" y="2132.7" width="199.5" height="51.8" fill="#7FCFD3"/>
<rect x="1387.0" y="2189.0" width="199.5" height="51.2" fill="#7FCFD3"/>
<rect x="1387.0" y="2244.5" width="199.5" height="57.5" fill="#7FCFD3"/>
<text x="1485.5" y="1977.9" font-size="33" text-anchor="middle" fill="#000" stroke="#000" stroke-width="0.3">% Amacrine</text>
<text x="1482.3" y="2017.7" font-size="33" text-anchor="middle" fill="#000" stroke="#000" stroke-width="0.3">Cells</text>
<text x="1488.0" y="2113.5" font-size="33" text-anchor="middle" fill="#000" stroke="#000" stroke-width="0.3">2</text>
<text x="1488.0" y="2169.3" font-size="33" text-anchor="middle" fill="#000" stroke="#000" stroke-width="0.3">1.3</text>
<text x="1488.0" y="2228.5" font-size="33" text-anchor="middle" fill="#000" stroke="#000" stroke-width="0.3">1.5</text>
<text x="1488.0" y="2285.0" font-size="33" text-anchor="middle" fill="#000" stroke="#000" stroke-width="0.3">15.8</text>
<rect x="1590.9" y="1904.2" width="199.7" height="161.8" fill="#84B8E4"/>
<rect x="1590.9" y="2071.0" width="199.7" height="57.0" fill="#84B8E4"/>
<rect x="1590.9" y="2132.7" width="199.7" height="51.8" fill="#84B8E4"/>
<rect x="1590.9" y="2189.0" width="199.7" height="51.2" fill="#84B8E4"/>
<rect x="1590.9" y="2244.5" width="199.7" height="57.5" fill="#84B8E4"/>
<text x="1690.7" y="1977.9" font-size="33" text-anchor="middle" fill="#000" stroke="#000" stroke-width="0.3">% Horizontal</text>
<text x="1686.4" y="2017.7" font-size="33" text-anchor="middle" fill="#000" stroke="#000" stroke-width="0.3">Cells</text>
<text x="1691.8" y="2113.5" font-size="33" text-anchor="middle" fill="#000" stroke="#000" stroke-width="0.3">0.5</text>
<text x="1691.8" y="2169.3" font-size="33" text-anchor="middle" fill="#000" stroke="#000" stroke-width="0.3">0.2</text>
<text x="1691.8" y="2228.5" font-size="33" text-anchor="middle" fill="#000" stroke="#000" stroke-width="0.3">0.3</text>
<text x="1691.8" y="2285.0" font-size="33" text-anchor="middle" fill="#000" stroke="#000" stroke-width="0.3">0.7</text>
<rect x="1794.9" y="1904.2" width="200.2" height="161.8" fill="#BDA0CD"/>
<rect x="1794.9" y="2071.0" width="200.2" height="57.0" fill="#BDA0CD"/>
<rect x="1794.9" y="2132.7" width="200.2" height="51.8" fill="#BDA0CD"/>
<rect x="1794.9" y="2189.0" width="200.2" height="51.2" fill="#BDA0CD"/>
<rect x="1794.9" y="2244.5" width="200.2" height="57.5" fill="#BDA0CD"/>
<text x="1890.0" y="1977.9" font-size="33" text-anchor="middle" fill="#000" stroke="#000" stroke-width="0.3">% Müller</text>
<text x="1889.8" y="2017.7" font-size="33" text-anchor="middle" fill="#000" stroke="#000" stroke-width="0.3">Glia</text>
<text x="1893.3" y="2113.5" font-size="33" text-anchor="middle" fill="#000" stroke="#000" stroke-width="0.3">9.9</text>
<text x="1893.3" y="2169.3" font-size="33" text-anchor="middle" fill="#000" stroke="#000" stroke-width="0.3">6.1</text>
<text x="1893.3" y="2228.5" font-size="33" text-anchor="middle" fill="#000" stroke="#000" stroke-width="0.3">1.6</text>
<text x="1893.3" y="2285.0" font-size="33" text-anchor="middle" fill="#000" stroke="#000" stroke-width="0.3">5.5</text>
<rect x="2000.2" y="1904.2" width="192.9" height="161.8" fill="#E897C0"/>
<rect x="2000.2" y="2071.0" width="192.9" height="57.0" fill="#E897C0"/>
<rect x="2000.2" y="2132.7" width="192.9" height="51.8" fill="#E897C0"/>
<rect x="2000.2" y="2189.0" width="192.9" height="51.2" fill="#E897C0"/>
<rect x="2000.2" y="2244.5" width="192.9" height="57.5" fill="#E897C0"/>
<text x="2095.1" y="1977.9" font-size="33" text-anchor="middle" fill="#000" stroke="#000" stroke-width="0.3">% Micro-</text>
<text x="2095.1" y="2017.7" font-size="33" text-anchor="middle" fill="#000" stroke="#000" stroke-width="0.3">glia</text>
<text x="2099.0" y="2113.5" font-size="33" text-anchor="middle" fill="#000" stroke="#000" stroke-width="0.3">0.8</text>
<text x="2099.0" y="2169.3" font-size="33" text-anchor="middle" fill="#000" stroke="#000" stroke-width="0.3">0.3</text>
<text x="2099.0" y="2228.5" font-size="33" text-anchor="middle" fill="#000" stroke="#000" stroke-width="0.3">0.1</text>
<text x="2099.0" y="2285.0" font-size="33" text-anchor="middle" fill="#000" stroke="#000" stroke-width="0.3">0</text>
<rect x="2197.4" y="1904.2" width="187.6" height="161.8" fill="#D1D2D4"/>
<rect x="2197.4" y="2071.0" width="187.6" height="57.0" fill="#D1D2D4"/>
<rect x="2197.4" y="2132.7" width="187.6" height="51.8" fill="#D1D2D4"/>
<rect x="2197.4" y="2189.0" width="187.6" height="51.2" fill="#D1D2D4"/>
<rect x="2197.4" y="2244.5" width="187.6" height="57.5" fill="#D1D2D4"/>
<text x="2289.0" y="1992.9" font-size="33" text-anchor="middle" fill="#000" stroke="#000" stroke-width="0.3"># Replicates</text>
<text x="2301.5" y="2113.5" font-size="33" text-anchor="middle" fill="#000" stroke="#000" stroke-width="0.3">3</text>
<text x="2301.5" y="2169.3" font-size="33" text-anchor="middle" fill="#000" stroke="#000" stroke-width="0.3">2</text>
<text x="2301.5" y="2228.5" font-size="33" text-anchor="middle" fill="#000" stroke="#000" stroke-width="0.3">1</text>
<text x="2301.5" y="2285.0" font-size="33" text-anchor="middle" fill="#000" stroke="#000" stroke-width="0.3">1</text>
<rect x="9" y="2071.0" width="353" height="57.0" fill="#D1D2D4"/>
<rect x="9" y="2132.7" width="353" height="51.8" fill="#D1D2D4"/>
<rect x="9" y="2189.0" width="353" height="51.2" fill="#D1D2D4"/>
<rect x="9" y="2244.5" width="353" height="57.5" fill="#D1D2D4"/>
<text x="12.2" y="2113.0" font-size="33" text-anchor="start" fill="#000" stroke="#000" stroke-width="0.3">Optimized protocol v2</text>
<text x="12.2" y="2169.0" font-size="33" text-anchor="start" fill="#000" stroke="#000" stroke-width="0.3">Optimized protocol v3.1</text>
<text x="12.2" y="2225.3" font-size="33" text-anchor="start" fill="#000" stroke="#000" stroke-width="0.3">Methanol fixation v3.1</text>
<text x="12.2" y="2284.5" font-size="33" text-anchor="start" fill="#000" stroke="#000" stroke-width="0.3">snRNA-seq v2</text>
</svg>
</body></html>
